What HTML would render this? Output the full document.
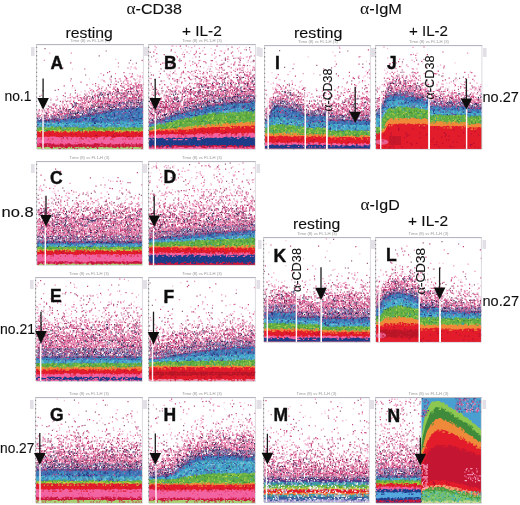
<!DOCTYPE html>
<html><head><meta charset="utf-8"><style>
html,body{margin:0;padding:0;background:#fff;width:520px;height:505px;overflow:hidden}
svg{display:block}
text{font-family:"Liberation Sans",sans-serif;fill:#111;stroke:#111;stroke-width:0.12px}
text[font-weight="bold"]{stroke-width:0.4px}
tspan{stroke-width:0}
text.sm{stroke:none;fill:#999}
</style></head><body>
<svg width="520" height="505" viewBox="0 0 520 505">
<defs><filter id="bl" x="0" y="0" width="1" height="1"><feGaussianBlur stdDeviation="0.65"/></filter></defs>
<g filter="url(#bl)">
<rect x="37" y="45" width="106" height="104" fill="#fff"/>
<path transform="scale(.5)" fill="#4078b8" d="M74 298l0-59 3 0 3 1 3-2 3 2 3-1 3-1 3 1 3-2 3 2 3-2 3 0 3 1 3 1 3-2 3 0 3 1 3 1 3-2 3-1 3 1 3-3 3 2 3-3 3 0 3-1 3 0 3 1 3-2 3 0 3 0 3-1 3 0 3-2 3-1 3 0 3 1 3-1 3-1 3 0 3-1 3-1 3 1 3-1 3-2 3 0 3 0 3 0 3-1 3-2 3 2 3-4 3 1 3 1 3-3 3 1 3-2 3 2 3 0 3-1 3 1 3-2 3 0 3 0 3-1 3 0 3 1 3 0 3-2 3 0 3-2 2 1V298Z"/>
<path transform="scale(.5)" fill="#44aacb" d="M74 298l0-52 3-1 3 2 3-1 3-2 3 1 3 0 3-2 3 2 3-1 3 0 3-1 3 3 3-2 3 0 3 0 3 2 3-3 3 2 3 0 3 1 3 0 3 0 3-2 3 0 3 0 3 2 3 0 3-3 3 1 3 0 3 0 3 0 3 1 3-1 3-1 3 1 3 0 3 1 3 1 3-1 3-1 3 1 3 0 3-2 3 3 3-1 3 1 3-1 3-1 3 0 3-1 3 2 3-2 3 0 3 0 3 0 3 1 3-1 3 0 3 0 3 0 3 1 3-1 3 2 3-1 3-1 3 0 3 1 3 0 3-1 2 1V298Z"/>
<path transform="scale(.5)" fill="#62ae44" d="M74 298l0-43 3 1 3-2 3 0 3-1 3 0 3 0 3 0 3 2 3-2 3-1 3 3 3-1 3-1 3 1 3-2 3 2 3 2 3-1 3 0 3-2 3 1 3-1 3 2 3-1 3 1 3-2 3 0 3 2 3 1 3-1 3 0 3 0 3 0 3-2 3 1 3 0 3-2 3 0 3 1 3 0 3 2 3 0 3-1 3 1 3 1 3-1 3-1 3-1 3 0 3 0 3 0 3 1 3 1 3 0 3-1 3 0 3 1 3-2 3 2 3 0 3 0 3 0 3-1 3-1 3 2 3-2 3 2 3 1 3-2 3 0 2 0V298Z"/>
<path transform="scale(.5)" fill="#c8c440" d="M74 298l0-36 3 0 3-2 3 0 3 0 3 2 3 0 3-2 3 2 3 0 3-1 3-1 3 1 3-1 3-1 3 3 3-1 3 0 3 1 3-1 3 1 3 0 3-2 3 0 3 0 3 0 3 1 3-1 3 1 3-1 3 2 3-2 3 1 3 0 3 1 3-1 3 1 3-1 3 0 3 0 3-2 3 2 3-1 3-1 3 3 3-2 3 1 3 1 3-1 3-1 3 1 3 0 3 1 3-2 3 1 3-1 3 0 3 2 3-1 3 0 3 1 3 0 3-1 3 0 3 0 3 0 3 0 3 0 3 0 3 0 3 1 2-1V298Z"/>
<path transform="scale(.5)" fill="#e21c2c" d="M74 298l0-35 3 1 3 0 3-2 3 1 3 1 3-1 3-2 3 0 3 1 3-1 3 1 3-1 3 2 3 0 3 1 3-3 3 2 3 0 3-2 3 3 3 0 3-2 3 2 3-2 3 0 3 2 3-1 3-2 3 1 3 0 3 0 3-1 3 1 3 1 3-2 3 2 3-1 3-1 3 1 3 1 3-1 3-1 3 3 3-1 3 1 3-3 3 1 3-1 3 2 3-1 3-1 3 1 3 2 3-1 3-1 3-1 3 3 3-1 3 0 3-2 3 0 3 2 3-1 3-1 3 3 3-1 3 0 3-2 3 3 3-3 2 1V298Z"/>
<path transform="scale(.5)" fill="#f264a2" d="M74 298l0-22 3-2 3 0 3 1 3 1 3-2 3-1 3 1 3 0 3-1 3 0 3 0 3 0 3 1 3 0 3 1 3-1 3 0 3-1 3 1 3-1 3 1 3-1 3 2 3 0 3-2 3 1 3 2 3-3 3 2 3-1 3 0 3 1 3-1 3 0 3 1 3 1 3-2 3 1 3 0 3 0 3-1 3 0 3-1 3 0 3 0 3 2 3-1 3-1 3 0 3 2 3 1 3-1 3-1 3 0 3 0 3 0 3-1 3 1 3 0 3 2 3 0 3-1 3-1 3 2 3-2 3 0 3-1 3 1 3 0 3 0 2 0V298Z"/>
<path transform="scale(.5)" fill="#c8183c" d="M74 298l0-11 3 1 3-2 3 1 3 0 3 1 3-1 3-1 3 1 3 0 3 1 3 0 3 1 3 0 3 0 3 0 3-1 3-1 3 3 3-3 3 2 3-1 3-1 3 2 3 0 3-1 3 1 3 0 3-2 3 1 3 0 3 1 3 0 3 0 3-1 3 1 3 0 3 0 3-2 3-1 3 1 3 1 3-1 3 2 3-1 3 0 3 0 3 1 3-1 3-2 3 3 3 0 3-1 3 0 3 1 3-2 3 2 3-2 3 0 3 0 3 2 3-2 3 2 3 1 3-2 3 0 3 0 3 1 3 0 3-1 3 0 2 0V298Z"/>
<path transform="scale(.5)" fill="#a8d070" d="M74 298l0-4 3 0 3 0 3 2 3-1 3 0 3-1 3 0 3 0 3 2 3 0 3 0 3-1 3 0 3 0 3 0 3-1 3 2 3-2 3 3 3 0 3-3 3 1 3 1 3 1 3-2 3-1 3 0 3 3 3-3 3 1 3-1 3 1 3 2 3-3 3 2 3-1 3 1 3 0 3-2 3 2 3-1 3-1 3 0 3 1 3 0 3 0 3-1 3 1 3 0 3 1 3-2 3 2 3 0 3-2 3 3 3-1 3 0 3-1 3 0 3 0 3 2 3-2 3 0 3 0 3-1 3 0 3 0 3 2 3-1 3 2 2-2V298Z"/>
<g transform="scale(.2)" stroke-width="6" fill="none">
<path d="M666 539h6m-23 6h6m-85 6h6m0 0h6m30 0h6m0 0h6m24 0h6m0 0h6m48 0h6m-52 6h6m6 0h6m30 0h6m-186 6h6m60 0h6m18 0h6m12 0h6m12 0h6m-188 6h6m6 0h6m12 0h6m30 0h6m48 0h6m18 0h6m24 0h6m18 0h6m-239 6h6m66 0h6m48 0h6m18 0h6m54 0h6m30 0h6m-277 6h6m24 0h6m42 0h6m108 0h6m-240 6h6m234 0h6m30 0h6m-203 6h6m18 0h6m54 0h6m42 0h6m48 0h6m-318 6h6m24 0h6m228 0h6m6 0h6m6 0h6m-295 6h6m72 0h6m6 0h6m18 0h6m102 0h6m-305 6h6m12 0h6m108 0h6m18 0h6m84 0h6m96 0h6m-390 6h6m366 0h6m0 0h6m72 0h6m36 0h6m-79 6h6m-456 6h6m30 0h6m144 0h6m18 0h6m54 0h6m30 0h6m0 0h6m0 0h6m60 0h6m-382 6h6m78 0h6m30 0h6m60 0h6m90 0h6m180 0h6" stroke="#6a5aa8"/>
<path d="M607 545h6m54 0h6m-47 18h6m78 0h6m-134 6h6m24 0h6m-59 6h6m-127 6h6m-54 6h6m54 0h6m66 0h6m181 6h6m-384 6h6m78 0h6m234 0h6m-277 6h6m132 0h6m120 0h6m6 0h6m-443 6h6m30 0h6m6 0h6m288 0h6" stroke="#c05088"/>
<path d="M631 545h6m42 0h6m0 0h6m-127 6h6m108 0h6m-130 6h6m66 0h6m12 0h6m-138 6h6m30 0h6m96 0h6m36 0h6m-218 6h6m36 0h6m42 0h6m-125 6h6m6 0h6m24 0h6m72 0h6m78 0h6m-253 6h6m18 0h6m24 0h6m12 0h6m42 0h6m6 0h6m24 0h6m66 0h6m-264 6h6m108 0h6m0 0h6m150 0h6m0 0h6m-293 6h6m36 0h6m0 0h6m30 0h6m0 0h6m36 0h6m90 0h6m30 0h6m48 0h6m0 0h6m-282 6h6m12 0h6m6 0h6m0 0h6m66 0h6m0 0h6m30 0h6m12 0h6m78 0h6m-481 6h6m60 0h6m102 0h6m12 0h6m60 0h6m6 0h6m0 0h6m-245 6h6m48 0h6m90 0h6m72 0h6m12 0h6m12 0h6m-222 6h6m36 0h6m132 0h6m0 0h6m216 0h6m-517 6h6m30 0h6m12 6h6m78 0h6m132 0h6m60 0h6m134 6h6" stroke="#2a3a80"/>
<path d="M643 545h6m24 0h6m-97 6h6m12 0h6m24 0h6m-76 6h6m66 0h6m-84 6h6m-8 6h6m120 0h6m-215 6h6m24 0h6m12 0h6m30 0h6m66 0h6m72 0h6m-241 6h6m30 0h6m0 0h6m78 0h6m0 0h6m18 0h6m66 0h6m-300 6h6m12 0h6m12 0h6m12 0h6m0 0h6m24 0h6m12 0h6m0 0h6m18 0h6m90 0h6m54 0h6m-305 6h6m36 0h6m48 0h6m18 0h6m18 0h6m6 0h6m18 0h6m12 0h6m-312 6h6m12 0h6m180 0h6m144 0h6m48 0h6m-481 6h6m24 0h6m36 0h6m48 0h6m12 0h6m144 0h6m12 0h6m60 0h6m0 0h6m18 0h6m36 0h6m6 0h6m18 0h6m-461 6h6m78 0h6m18 0h6m18 0h6m18 0h6m0 0h6m180 0h6m0 0h6m0 0h6m48 0h6m6 0h6m6 0h6" stroke="#40a8c0"/>
<path d="M703 545h6m-49 6h6m-52 6h6m-36 6h6m18 0h6m30 0h6m-152 6h6m30 0h6m36 0h6m-107 6h6m17 6h6m162 0h6m0 0h6m-132 6h6m24 0h6m-239 6h6m12 0h6m138 0h6m48 0h6m6 0h6m-138 6h6m6 0h6m-259 6h6m72 0h6m138 0h6m6 0h6m-221 6h6m12 0h6m90 0h6m90 0h6m276 0h6" stroke="#70a0d0"/>
<path d="M608 557h6m-48 6h6m18 0h6m28 6h6m60 0h6m-251 6h6m96 0h6m54 0h6m66 0h6m-235 6h6m96 0h6m0 0h6m126 0h6m-282 6h6m54 0h6m72 0h6m42 0h6m18 0h6m0 0h6m54 0h6m12 0h6m-359 6h6m12 0h6m12 0h6m192 0h6m72 0h6m-378 6h6m18 0h6m24 0h6m144 0h6m12 0h6m60 0h6m60 0h6m12 0h6m0 0h6m6 0h6m-499 6h6m30 0h6m24 0h6m0 0h6m18 0h6m36 0h6m150 0h6m198 0h6m-467 6h6m54 0h6m6 0h6m60 0h6m0 0h6m60 0h6m12 0h6m60 0h6m54 0h6m48 0h6" stroke="#3060a8"/>
<path d="M199 617h6m12 0h6m12 0h6m0 0h6m12 0h6m0 0h6m24 0h6m108 0h6m66 0h6m6 0h6m30 0h6m108 0h6m-451 6h6m6 0h6m60 0h6m18 0h6m6 0h6m24 0h6m96 0h6m48 0h6m36 0h6m0 0h6m0 0h6m30 0h6m0 0h6m108 0h6m-522 6h6m18 0h6m90 0h6m30 0h6m0 0h6m30 0h6m48 0h6m66 0h6m78 0h6m6 0h6m24 0h6m-418 6h6m0 0h6m0 0h6m0 0h6m12 0h6m162 0h6m18 0h6m30 0h6m30 0h6m12 0h6m6 0h6m0 0h6m54 0h6m0 0h6m0 0h6m12 0h6m18 0h6m12 0h6" stroke="#78c0d8"/>
<path d="M253 617h6m54 0h6m114 0h6m12 0h6m150 0h6m-409 6h6m156 0h6m18 0h6m36 0h6m48 0h6m138 0h6m-372 6h6m150 0h6m138 0h6m6 0h6m6 0h6m102 0h6m0 0h6m0 0h6m-442 6h6m168 0h6" stroke="#4a9a80"/>
<path d="M337 617h6m84 0h6m66 0h6m18 0h6m24 0h6m6 0h6m0 0h6m18 0h6m12 0h6m60 0h6m-433 6h6m78 0h6m72 0h6m42 0h6m66 0h6m18 0h6m6 0h6m24 0h6m54 0h6m0 0h6m0 0h6m-444 6h6m48 0h6m36 0h6m6 0h6m12 0h6m72 0h6m24 0h6m6 0h6m36 0h6m24 0h6m24 0h6m30 0h6m12 0h6m12 0h6m24 0h6m-478 6h6m6 0h6m90 0h6m0 0h6m6 0h6m6 0h6m36 0h6m12 0h6m0 0h6m66 0h6m84 0h6m126 0h6" stroke="#3a78b8"/>
<path d="M185 641h6m6 0h6m96 0h6m294 0h6m36 0h6m-239 6h6m42 0h6m6 0h6m42 0h6m-294 6h6m0 0h6m42 0h6m24 0h6m48 0h6m24 0h6m6 0h6m66 0h6m36 0h6m30 0h6m126 0h6" stroke="#3f8a3a"/>
<path d="M191 641h6m66 0h6m18 0h6m30 0h6m12 0h6m12 0h6m12 0h6m162 0h6m42 0h6m54 0h6m-443 6h6m72 0h6m54 0h6m12 0h6m54 0h6m60 0h6m6 0h6m24 0h6m24 0h6m60 0h6m60 0h6m-498 6h6m36 0h6m12 0h6m0 0h6m18 0h6m24 0h6m120 0h6m36 0h6m6 0h6m36 0h6m54 0h6m18 0h6m0 0h6m12 0h6" stroke="#98c850"/>
<path d="M227 641h6m84 0h6m144 0h6m-179 12h6m72 0h6m42 0h6m168 0h6m72 0h6m30 0h6" stroke="#c0d048"/>
<path d="M311 641h6m144 0h6m144 0h6m-299 6h6m252 0h6m24 0h6m-390 6h6m126 0h6m18 0h6m18 0h6" stroke="#40a0a0"/>
<path d="M187 659h6m12 0h6m294 0h6m120 0h6m-67 6h6m0 0h6m96 0h6m-468 6h6m24 0h6m102 0h6m18 0h6m90 6h6m0 0h6m48 0h6m24 0h6m12 0h6m6 0h6m12 0h6m78 0h6m-492 6h6m90 0h6m246 0h6m6 0h6m60 0h6m0 0h6m-334 6h6m12 0h6m66 0h6m18 0h6m48 0h6m30 0h6" stroke="#b81030"/>
<path d="M199 659h6m66 0h6m18 0h6m6 0h6m24 0h6m0 0h6m18 0h6m30 0h6m6 0h6m18 0h6m126 0h6m12 0h6m6 0h6m0 0h6m36 0h6m36 0h6" stroke="#c8c440"/>
<path d="M194 689h6m12 0h6m0 0h6m18 0h6m6 0h6m0 0h6m0 0h6m0 0h6m0 0h6m36 0h6m18 0h6m6 0h6m12 0h6m6 0h6m24 0h6m84 0h6m0 0h6m24 0h6m72 0h6m12 0h6m0 0h6m54 0h6m0 0h6m-529 36h6m0 0h6m36 0h6m78 0h6m42 0h6m126 0h6m0 0h6m0 0h6m12 0h6m18 0h6m12 0h6m24 0h6m12 0h6m30 0h6m6 0h6m0 0h6" stroke="#f264a2"/>
<path d="M198 695h6m60 0h6m108 0h6m-149 6h6m198 0h6m120 0h6m-324 6h6m54 0h6m84 0h6m42 0h6m-77 6h6m6 0h6m114 0h6m108 0h6m-373 6h6m30 0h6m30 0h6m132 0h6" stroke="#e8407a"/>
<path d="M204 695h6m0 0h6m24 0h6m12 0h6m42 0h6m24 0h6m12 0h6m36 0h6m6 0h6m0 0h6m36 0h6m0 0h6m0 0h6m42 0h6m30 0h6m0 0h6m48 0h6m6 0h6m12 0h6m0 0h6m6 0h6m18 0h6m6 0h6" stroke="#e21c2c"/>
<path d="M223 719h6m18 0h6m12 0h6m30 0h6m30 0h6m0 0h6m54 0h6m6 0h6m0 0h6m60 0h6m12 0h6m0 0h6m138 0h6m18 0h6m12 0h6m-494 24h6m42 0h6m30 0h6m0 0h6m12 0h6m48 0h6m6 0h6m48 0h6m42 0h6m168 0h6m42 0h6" stroke="#c8183c"/>
<path d="M409 725h6m102 0h6m24 0h6m132 0h6m6 0h6m-455 6h6m228 0h6m66 0h6m78 0h6m66 0h6m-409 6h6m114 0h6m132 0h6" stroke="#e03058"/>
<path d="M199 737h6m30 0h6m24 0h6m12 0h6m6 0h6m42 0h6m6 0h6m30 0h6m18 0h6m12 0h6m0 0h6m6 0h6m36 0h6m12 0h6m12 0h6m18 0h6m24 0h6m12 0h6m0 0h6m18 0h6m0 0h6m6 0h6m0 0h6m12 0h6m12 0h6m6 0h6m-488 6h6m36 0h6m42 0h6m6 0h6m6 0h6" stroke="#a8d070"/>
<path d="M222 243h6m300 12h6m-41 24h6m151 23h6m-13 13h6m30 1h6m-260 59h6m123 6h6m-7 5h6m-206 8h6m308 0h6m-120 16h6m55 0h6m-32 1h6m-56 13h6m-5 4h6m-70 2h6m24 12h6m-238 10h6m243 0h6m-316 1h6m240 7h6m-90 4h6m-31 6h6m101 0h6m-41 1h6m-231 11h6m121 1h6m55 0h6m-105 12h6m-40 5h6m72 8h6m-72 12h6m12 6h6m-48 5h6m1 5h6m-14 7h6m-26 7h6m-33 17h6" stroke="#9a6080"/>
<path d="M246 266h6m102 0h6m-141 36h6m436 18h6m-78 14h6m58 0h6m-345 6h6m348 0h6m1 0h6m-3 4h6m-182 24h6m67 0h6m65 0h6m57 12h6m-28 1h6m-44 5h6m1 1h6m35 1h6m6 0h6m-80 5h6m-95 1h6m41 0h6m0 0h6m24 4h6m-12 2h6m-279 4h6m262 1h6m15 0h6m4 0h6m-133 5h6m108 2h6m12 4h6m19 0h6m-68 2h6m-162 4h6m158 0h6m-140 1h6m77 0h6m50 0h6m-18 6h6m-113 5h6m48 2h6m-125 6h6m43 4h6m29 0h6m25 1h6m-110 1h6m43 5h6m24 0h6m-120 1h6m40 4h6m-33 1h6m46 0h6m-34 1h6m16 0h6m20 0h6m-32 4h6m-48 2h6m-67 4h6m43 1h6m-42 5h6m-199 1h6m175 0h6m-43 1h6m24 4h6m-102 1h6m70 1h6m40 4h6m-23 1h6m15 1h6m-29 4h6m-115 6h6m70 1h6m-77 1h6m36 0h6m38 0h6m-150 12h6m101 6h6m-77 4h6m5 1h6m31 1h6m-67 6h6m21 4h6m-3 0h6m-54 7h6m-28 7h6m-21 4h6m36 0h6m-43 1h6m-16 5h6m17 2h6m1 0h6" stroke="#f090bc"/>
<path d="M576 297h6m91 37h6m-320 12h6m284 0h6m54 17h6m-32 11h6m-28 6h6m-178 6h6m-51 8h6m232 0h6m8 4h6m-192 1h6m-13 1h6m194 0h6m-18 4h6m-12 8h6m-120 5h6m-14 5h6m-63 13h6m66 0h6m-227 5h6m6 0h6m130 7h6m14 0h6m-30 11h6m-104 1h6m19 5h6m35 6h6m-36 7h6m-54 1h6m-149 12h6m1 4h6m52 1h6m5 1h6m-113 17h6m28 0h6m90 0h6m-123 12h6m-31 11h6m30 12h6m-34 2h6m28 0h6" stroke="#f4c0d8"/>
<path d="M708 302h6m-363 12h6m232 1h6m42 25h6m-222 5h6m118 13h6m-16 5h6m76 0h6m36 6h6m-150 7h6m99 5h6m72 0h6m-48 1h6m-36 4h6m-3 6h6m-61 1h6m-28 7h6m115 0h6m-162 4h6m109 0h6m-37 1h6m-30 1h6m113 4h6m-300 1h6m265 5h6m-204 2h6m124 0h6m26 0h6m-63 4h6m-36 1h6m92 0h6m-222 1h6m162 4h6m-288 1h6m36 0h6m240 1h6m-124 4h6m79 1h6m-32 1h6m-24 4h6m-42 2h6m68 0h6m12 0h6m-302 6h6m192 0h6m-119 4h6m71 0h6m24 1h6m-23 1h6m-147 12h6m97 11h6m-118 1h6m99 5h6m-77 5h6m44 0h6m-38 1h6m-35 1h6m30 0h6m-43 16h6m-43 1h6m7 0h6m29 0h6m-42 7h6m-47 6h6m-11 6h6m24 4h6m-26 2h6m-28 4h6m-2 6h6m1 0h6m-34 6h6m-48 1h6m9 6h6m7 0h6" stroke="#c84880"/>
<path d="M655 422h6m34 2h6m-40 4h6m23 0h6m-17 1h6m22 0h6m-40 1h6m16 0h6m-94 4h6m77 2h6m2 4h6m-1 0h6m-30 1h6m0 0h6m0 0h6m13 0h6m-149 5h6m71 0h6m4 0h6m1 0h6m-1 0h6m-99 2h6m29 0h6m-12 4h6m88 0h6m-82 1h6m-41 1h6m17 0h6m36 0h6m28 0h6m1 0h6m-54 4h6m13 0h6m-137 1h6m12 0h6m136 0h6m-66 1h6m18 0h6m14 0h6m-2 0h6m12 0h6m7 0h6m-157 4h6m139 0h6m-159 1h6m66 0h6m38 0h6m36 0h6m-146 1h6m-27 4h6m34 0h6m36 0h6m13 0h6m-133 1h6m42 0h6m24 0h6m38 0h6m-157 1h6m138 0h6m23 0h6m26 0h6m3 0h6m-203 4h6m8 0h6m10 0h6m67 0h6m31 0h6m29 0h6m-71 1h6m34 0h6m44 0h6m-241 1h6m1 0h6m119 0h6m59 0h6m-108 4h6m124 0h6m-94 1h6m-169 1h6m56 0h6m42 0h6m36 0h6m-2 0h6m95 0h6m3 0h6m-293 4h6m37 0h6m118 0h6m-34 1h6m5 0h6m77 0h6m-247 1h6m128 0h6m30 0h6m17 0h6m0 0h6m7 0h6m-1 0h6m13 0h6m-151 4h6m14 0h6m35 0h6m36 0h6m47 0h6m-125 1h6m-1 0h6m1 0h6m12 0h6m113 0h6m-286 1h6m10 0h6m102 0h6m86 0h6m46 0h6m-158 4h6m62 0h6m6 0h6m-134 1h6m73 0h6m18 0h6m23 0h6m29 0h6m-263 1h6m0 0h6m18 0h6m30 0h6m47 0h6m62 0h6m17 0h6m14 0h6m18 0h6m-254 4h6m74 0h6m83 0h6m-103 1h6m60 0h6m20 0h6m35 0h6m7 0h6m-194 1h6m8 0h6m17 0h6m35 0h6m0 0h6m37 0h6m25 0h6m5 0h6m6 0h6m-251 4h6m84 0h6m47 0h6m-1 0h6m2 0h6m22 0h6m19 0h6m-168 1h6m60 0h6m17 0h6m32 0h6m0 0h6m-134 1h6m20 0h6m10 0h6m25 0h6m84 0h6m-239 4h6m59 0h6m125 0h6m-149 1h6m54 0h6m-34 1h6m114 0h6m-128 4h6m8 0h6m71 0h6m0 0h6m-199 1h6m14 0h6m125 0h6m23 0h6m-101 1h6m76 0h6m-95 4h6m18 0h6m-108 1h6m66 0h6m37 0h6m-145 1h6m8 4h6m36 0h6m19 0h6m-102 1h6m34 0h6m83 1h6m-157 4h6m146 0h6m-80 1h6m12 0h6m6 0h6m1 0h6m53 0h6m-59 1h6m36 0h6m-64 4h6m36 0h6m-164 2h6m26 0h6m6 0h6m5 0h6m43 0h6m29 0h6m-54 4h6m-27 1h6m8 0h6m-116 1h6m14 0h6m5 0h6m37 4h6m48 0h6m-133 1h6m73 0h6m6 0h6m-91 1h6m19 0h6m-1 0h6m-1 0h6m-48 4h6m31 0h6m14 0h6m-18 2h6m10 0h6m24 0h6m-130 4h6m67 0h6m35 0h6m-115 1h6m50 0h6m-1 0h6m17 0h6m-64 1h6m-56 4h6m60 0h6m23 1h6m-55 1h6m-53 4h6m17 0h6m3 1h6m-27 1h6" stroke="#e878a8"/>
<path d="M676 422h6m8 0h6m18 0h6m-18 1h6m-71 6h6m23 0h6m11 0h6m-48 1h6m55 5h6m-59 1h6m32 0h6m-30 4h6m-49 1h6m24 0h6m-18 1h6m35 4h6m20 0h6m-60 1h6m-68 1h6m36 0h6m0 0h6m62 5h6m-123 1h6m73 0h6m36 0h6m-172 4h6m16 0h6m56 2h6m-117 4h6m54 0h6m37 0h6m-113 1h6m23 0h6m85 0h6m-25 1h6m70 0h6m-220 4h6m70 0h6m37 0h6m24 0h6m60 0h6m-113 1h6m90 0h6m17 0h6m-96 1h6m42 0h6m-197 5h6m107 0h6m79 0h6m30 0h6m-156 1h6m67 0h6m-147 4h6m205 0h6m-229 1h6m60 0h6m17 0h6m56 0h6m60 0h6m-65 1h6m28 0h6m-1 0h6m-158 4h6m120 0h6m18 0h6m-1 0h6m0 0h6m-185 1h6m54 0h6m17 0h6m11 0h6m45 0h6m46 0h6m-275 1h6m84 0h6m-2 0h6m1 0h6m-137 4h6m35 0h6m2 0h6m160 0h6m20 0h6m12 0h6m-248 1h6m48 0h6m103 0h6m61 0h6m0 0h6m-174 1h6m4 0h6m134 0h6m28 0h6m0 0h6m-255 4h6m19 0h6m35 0h6m20 0h6m12 0h6m0 0h6m18 0h6m-167 1h6m216 0h6m-247 1h6m76 0h6m116 0h6m-180 4h6m12 0h6m79 0h6m-2 0h6m-41 1h6m1 0h6m46 0h6m-192 1h6m91 0h6m18 0h6m43 0h6m36 0h6m-175 4h6m71 0h6m-17 1h6m84 0h6m-145 1h6m96 0h6m2 0h6m17 0h6m-209 4h6m19 0h6m-1 0h6m30 0h6m52 0h6m25 0h6m-17 1h6m36 0h6m-157 1h6m12 0h6m104 0h6m-204 4h6m174 0h6m-110 1h6m5 0h6m-41 1h6m85 0h6m23 0h6m-108 4h6m31 0h6m41 0h6m5 0h6m-132 1h6m103 0h6m-96 1h6m18 0h6m97 0h6m-78 4h6m0 0h6m-132 1h6m98 0h6m28 0h6m6 0h6m-94 1h6m5 0h6m67 0h6m-153 5h6m12 0h6m71 0h6m-132 1h6m43 4h6m55 1h6m13 0h6m-163 1h6m155 0h6m-60 4h6m-1 0h6m24 0h6m-119 1h6m10 0h6m20 0h6m54 0h6m12 0h6m-104 1h6m63 0h6m-39 4h6m9 0h6m-134 2h6m56 0h6m-32 5h6m37 0h6m7 0h6m11 0h6m-108 1h6m70 0h6m7 0h6m13 0h6m-96 4h6m-72 1h6m25 0h6m78 0h6m-1 1h6m-114 4h6m35 0h6m29 0h6m-89 2h6m66 0h6" stroke="#c83c78"/>
<path d="M703 430h6m-30 5h6m-72 1h6m48 0h6m-89 10h6m-14 6h6m45 1h6m-49 5h6m-1 0h6m55 0h6m-77 2h6m11 4h6m52 1h6m-162 1h6m19 0h6m107 0h6m14 4h6m23 0h6m-193 1h6m113 0h6m50 0h6m-145 1h6m-54 4h6m3 0h6m16 0h6m13 0h6m35 0h6m19 1h6m88 0h6m-21 1h6m-245 4h6m12 0h6m-33 2h6m49 4h6m113 1h6m-198 1h6m43 4h6m47 0h6m67 1h6m95 0h6m-206 7h6m-48 4h6m50 0h6m34 1h6m-112 5h6m124 1h6m-196 1h6m142 4h6m1 0h6m-72 1h6m31 0h6m-113 1h6m-44 4h6m108 0h6m-107 6h6m78 0h6m18 2h6m4 0h6m1 0h6m-102 4h6m0 0h6m55 0h6m-157 6h6m90 0h6m10 1h6m-34 1h6m-81 4h6m16 0h6m-66 1h6m19 0h6m18 0h6m89 0h6m-53 1h6m36 0h6m-106 4h6m7 2h6m-53 4h6m36 0h6m30 0h6m-94 12h6m-62 2h6m-19 5h6m-1 0h6m42 0h6m-64 1h6m10 0h6m-40 5h6" stroke="#7a2a58"/>
<path d="M657 442h6m18 11h6m-48 5h6m40 1h6m-188 5h6m37 1h6m36 0h6m12 1h6m-52 5h6m-57 1h6m24 0h6m-41 4h6m122 0h6m-20 7h6m-133 1h6m18 0h6m60 0h6m73 0h6m-208 4h6m227 0h6m-235 1h6m72 1h6m80 0h6m-30 4h6m-180 1h6m116 6h6m85 1h6m11 0h6m-83 6h6m-216 6h6m-4 5h6m108 0h6m29 0h6m-18 6h6m-138 1h6m72 0h6m0 5h6m-103 1h6m27 4h6m-43 1h6m78 5h6m4 0h6m-163 1h6m40 5h6m39 7h6m-130 5h6m29 0h6m54 0h6m-60 1h6m37 0h6m-126 5h6m114 0h6m-66 8h6m-38 5h6" stroke="#3a3068"/>
<path d="M704 495h6m-9 6h6m0 0h6m-70 5h6m41 0h6m-59 1h6m35 0h6m-6 5h6m13 2h6m-67 4h6m-23 1h6m46 0h6m2 0h6m-119 1h6m112 0h6m-156 4h6m113 0h6m25 0h6m-41 1h6m-104 5h6m0 1h6m18 0h6m122 0h6m-176 1h6m122 0h6m-130 4h6m53 0h6m42 0h6m6 0h6m41 0h6m-208 1h6m190 0h6m-208 1h6m9 0h6m51 0h6m-2 0h6m-86 4h6m132 1h6m-154 1h6m64 0h6m43 0h6m-71 5h6m55 0h6m-132 1h6m17 0h6m25 0h6m-56 4h6m22 2h6m7 5h6m-95 1h6m55 0h6m-84 4h6m10 0h6m37 0h6m-18 1h6m10 0h6m8 1h6m-35 5h6m0 1h6m-186 4h6m83 0h6m0 0h6m42 1h6m-137 1h6m57 0h6m-89 4h6m89 0h6m14 0h6m-140 2h6m26 0h6m-37 4h6m24 0h6m-1 0h6m-34 1h6m84 0h6m-91 1h6m54 0h6m-82 4h6m-1 0h6m49 0h6m-71 1h6m18 0h6m-83 1h6m4 4h6m28 0h6m18 0h6m2 0h6m5 1h6" stroke="#8a3a70"/>
<path d="M711 496h6m-51 4h6m-1 1h6m6 0h6m7 0h6m-48 5h6m43 0h6m-78 1h6m30 0h6m-14 1h6m-78 4h6m6 1h6m61 0h6m0 1h6m-102 4h6m20 0h6m-2 0h6m-41 1h6m5 0h6m36 0h6m2 0h6m3 1h6m14 0h6m22 0h6m-124 4h6m37 0h6m5 0h6m12 0h6m18 0h6m18 0h6m-139 1h6m114 0h6m18 0h6m-127 1h6m-64 4h6m142 0h6m-148 1h6m29 0h6m18 0h6m13 0h6m89 0h6m-131 1h6m34 0h6m0 0h6m12 0h6m14 0h6m-142 4h6m5 0h6m72 0h6m77 0h6m-138 1h6m59 0h6m-40 1h6m5 0h6m62 0h6m-142 4h6m96 0h6m-130 1h6m-1 0h6m96 0h6m-150 1h6m17 0h6m23 0h6m63 0h6m-100 4h6m82 1h6m-108 1h6m12 0h6m0 0h6m61 0h6m-98 4h6m28 0h6m-108 1h6m115 0h6m1 0h6m4 0h6m-148 1h6m10 0h6m7 4h6m60 0h6m-124 1h6m22 1h6m36 0h6m26 0h6m5 0h6m-48 4h6m30 0h6m-151 2h6m55 0h6m-35 4h6m37 0h6m18 0h6m-114 1h6m-2 0h6m2 0h6m-44 1h6m8 0h6m34 0h6m0 0h6m56 0h6m-117 4h6m49 0h6m-90 2h6m82 0h6m8 0h6m-2 0h6m6 0h6m-202 5h6m79 0h6m-1 0h6m-90 1h6m-2 0h6m91 0h6m6 0h6m30 0h6m-77 4h6m7 0h6m-114 1h6m4 0h6m73 0h6m58 0h6m-166 1h6m29 0h6m-28 4h6m6 0h6m5 0h6m38 1h6m11 0h6m-85 1h6m0 4h6m-24 1h6m72 1h6" stroke="#c04880"/>
<path d="M678 501h6m-36 7h6m-41 4h6m-13 1h6m-24 6h6m19 0h6m36 1h6m-109 4h6m151 0h6m-119 1h6m-1 1h6m-72 4h6m54 0h6m-92 2h6m84 0h6m44 0h6m41 0h6m-154 4h6m102 0h6m6 0h6m18 0h6m-59 2h6m-65 4h6m68 0h6m-214 6h6m5 0h6m107 0h6m32 0h6m-127 1h6m30 0h6m-88 1h6m119 0h6m-31 4h6m-139 1h6m30 1h6m-2 0h6m68 0h6m-126 4h6m96 0h6m-95 2h6m39 0h6m69 0h6m-92 4h6m-54 1h6m91 0h6m-160 6h6m66 1h6m-2 0h6m-74 4h6m-40 2h6m-72 4h6m11 0h6m30 0h6m-90 1h6m103 0h6m-60 1h6m66 4h6m-148 7h6m30 0h6m46 0h6m-113 1h6m92 0h6m-105 5h6m0 0h6m5 0h6m48 1h6" stroke="#6a5098"/>
<path d="M714 501h6m-31 1h6m12 6h6m-30 4h6m-94 1h6m36 0h6m10 0h6m31 0h6m5 0h6m-89 1h6m6 0h6m13 0h6m12 4h6m35 0h6m-119 1h6m95 0h6m-155 5h6m36 0h6m-56 1h6m19 0h6m126 0h6m-72 1h6m-5 5h6m-92 1h6m18 0h6m60 0h6m38 0h6m-2 0h6m-177 4h6m-24 1h6m-12 1h6m59 0h6m1 0h6m-22 5h6m26 0h6m48 0h6m30 0h6m-84 1h6m23 0h6m35 0h6m-195 4h6m73 0h6m0 0h6m-109 1h6m6 0h6m65 1h6m18 0h6m-132 4h6m36 0h6m4 1h6m-77 1h6m48 0h6m41 0h6m36 0h6m-90 4h6m1 0h6m-102 2h6m0 0h6m134 0h6m-162 4h6m58 0h6m1 0h6m6 0h6m-96 1h6m12 0h6m18 0h6m-37 1h6m-51 4h6m36 0h6m29 1h6m35 0h6m-17 1h6m-99 5h6m-58 1h6m12 0h6m11 0h6m23 0h6m78 0h6m-125 4h6m24 0h6m-1 0h6m36 0h6m-148 1h6m77 1h6m24 0h6m-173 4h6m131 0h6m-162 2h6m31 0h6m54 0h6m66 0h6m5 0h6m-101 5h6m38 0h6m6 1h6m-93 5h6m37 0h6m-90 1h6m18 0h6m0 0h6" stroke="#3a2a60"/>
<path d="M661 512h6m41 2h6m-12 6h6m-72 5h6m-66 1h6m72 5h6m-35 6h6m-11 1h6m-115 5h6m10 0h6m-65 1h6m175 0h6m-172 6h6m-34 4h6m37 0h6m0 1h6m-72 5h6m1 1h6m-55 6h6m-47 1h6m66 5h6m-110 5h6m13 1h6m59 6h6m-179 5h6m16 0h6m57 1h6m-132 1h6m88 0h6m37 5h6m-72 7h6" stroke="#5a70b0"/>
</g>
<rect x="42.3" y="112" width="1.4" height="37" fill="#fff6f8"/>
<path d="M143.4 45V149.4H37" fill="none" stroke="#d4d0d8" stroke-width="0.8"/>
<path d="M36.6 45V149" fill="none" stroke="#c8c4cc" stroke-width="0.8"/>
<path d="M36.2 44.6H143.8" fill="none" stroke="#a8a4b4" stroke-width="0.9"/>
<path d="M36.6 46.8v1.3M36.6 50.9v1.3M36.6 55.1v1.3M36.6 59.2v1.3M36.6 63.4v1.3M36.6 67.5v1.3M36.6 71.7v1.3M36.6 75.8v1.3M36.6 80v1.3M36.6 84.2v1.3M36.6 88.3v1.3M36.6 92.5v1.3M36.6 96.6v1.3M36.6 100.8v1.3M36.6 104.9v1.3M36.6 109.1v1.3M36.6 113.2v1.3M36.6 117.4v1.3M36.6 121.5v1.3M36.6 125.7v1.3M36.6 129.8v1.3M36.6 133.9v1.3M36.6 138.1v1.3M36.6 142.2v1.3" stroke="#8a8a8a" stroke-width="1.1" fill="none"/>
<rect x="31" y="47" width="3.6" height="9" fill="#e2e0e6"/>
<rect x="144.5" y="47" width="3.6" height="9" fill="#e2e0e6"/>
<path d="M43.1 78.6V99" stroke="#1a1a1a" stroke-width="1.3"/>
<path d="M37.3 98L48.9 98L43.1 109.8Z" fill="#111"/>
<rect x="149" y="45" width="106" height="104" fill="#fff"/>
<path transform="scale(.5)" fill="#4078b8" d="M298 298l0-54 3 0 3-1 3 0 3-1 3-1 3 0 3-2 3-2 3 0 3 1 3-2 3-3 3 2 3-3 3-2 3-1 3 0 3-1 3-2 3-1 3 0 3-1 3 1 3-2 3 0 3-2 3-2 3 2 3-2 3 0 3-1 3 0 3-2 3 0 3-3 3 2 3-1 3 0 3-4 3-1 3 2 3-2 3 0 3-1 3 2 3-4 3 1 3 1 3-2 3 1 3-1 3-1 3 0 3-1 3 2 3-3 3 0 3 0 3 0 3 2 3-3 3 0 3 0 3 0 3 1 3 0 3-2 3 1 3 0 3-2 2 1V298Z"/>
<path transform="scale(.5)" fill="#44aacb" d="M298 298l0-51 3-1 3 3 3-2 3-1 3 2 3-2 3 0 3 0 3-1 3-1 3 0 3 1 3 0 3-2 3 1 3-3 3 0 3-2 3 1 3-2 3 1 3-2 3-1 3-1 3-2 3 2 3-4 3 1 3 0 3-3 3 0 3 2 3-4 3 3 3-4 3 2 3-1 3-1 3 0 3-1 3 0 3-2 3 0 3-1 3 0 3 0 3-1 3 0 3-1 3 0 3 1 3-2 3-1 3 2 3-2 3 0 3 0 3 1 3-2 3-1 3 0 3 1 3 2 3-2 3-1 3 2 3-2 3 1 3-2 3 2 2-1V298Z"/>
<path transform="scale(.5)" fill="#62ae44" d="M298 298l0-43 3-2 3-1 3 1 3-3 3-1 3 0 3-2 3 0 3 0 3 1 3-2 3-1 3 0 3-1 3-3 3 0 3 0 3-1 3-1 3 1 3-3 3 1 3-2 3 0 3-1 3 0 3 1 3 0 3-1 3-2 3-1 3 1 3-2 3 0 3 0 3-1 3-2 3 0 3-1 3-1 3 1 3-2 3 0 3 0 3-1 3 0 3 0 3 1 3 1 3 0 3 0 3-1 3 1 3-3 3 3 3-3 3 2 3-2 3 2 3 0 3-3 3 2 3-2 3 0 3 0 3 2 3 0 3-2 3 1 3-1 2 0V298Z"/>
<path transform="scale(.5)" fill="#f08a3a" d="M298 298l0-39 3 1 3 0 3-3 3 2 3-1 3 1 3-3 3 1 3 1 3 0 3 0 3-1 3 0 3 0 3 0 3-2 3 2 3-3 3 2 3-2 3 0 3 0 3 1 3 0 3-2 3 0 3-1 3 1 3-1 3 1 3-2 3 0 3 1 3-2 3 0 3 1 3-2 3 0 3 0 3-2 3 2 3-1 3 1 3 0 3-3 3 1 3-1 3 2 3-2 3 1 3-2 3 0 3 2 3 0 3-1 3-1 3 2 3 0 3-2 3 1 3-3 3 1 3 2 3-1 3-1 3-1 3 1 3-1 3 1 3 0 2-1V298Z"/>
<path transform="scale(.5)" fill="#e21c2c" d="M298 298l0-37 3 2 3 0 3-1 3 1 3 0 3-3 3 1 3 1 3-1 3 1 3-1 3-2 3 3 3-3 3 2 3-1 3 2 3-3 3 3 3-3 3-1 3 2 3-1 3 1 3 0 3-1 3-1 3 1 3-1 3-2 3 1 3 0 3 0 3-1 3-1 3 0 3 0 3 2 3-2 3 2 3-2 3-1 3 0 3 1 3-1 3 1 3-2 3 1 3 0 3 1 3 0 3-2 3 1 3 0 3-2 3 1 3-1 3 3 3-2 3-2 3 3 3-1 3-1 3 1 3-1 3 1 3 0 3 0 3-2 3 0 2 1V298Z"/>
<path transform="scale(.5)" fill="#f264a2" d="M298 298l0-27 3 0 3-2 3 3 3 0 3-2 3-1 3 0 3 2 3-1 3-2 3 2 3 1 3 0 3-3 3 0 3 0 3 1 3 0 3-1 3 2 3-1 3 1 3-1 3 0 3 0 3 0 3 0 3 0 3-1 3 2 3-1 3-1 3 1 3-2 3 0 3 1 3 1 3-3 3 1 3 2 3-3 3 3 3-2 3 1 3-1 3-1 3 0 3 2 3 1 3-1 3 0 3-2 3 2 3-3 3 3 3 0 3-1 3 1 3-1 3 0 3-2 3 3 3-1 3 0 3-2 3 3 3-3 3 1 3-1 3 3 2-2V298Z"/>
<path transform="scale(.5)" fill="#1c3a88" d="M298 298l0-22 3 0 3 1 3-1 3 0 3 0 3 1 3-1 3 0 3 2 3 0 3-1 3 0 3-2 3 1 3 1 3-2 3 0 3 2 3-1 3-1 3 1 3 0 3 1 3-2 3 0 3 1 3 1 3-2 3 0 3-1 3 0 3 1 3 2 3-1 3-2 3 1 3 2 3-1 3-1 3 1 3-1 3 1 3 0 3-1 3 0 3 2 3-2 3 1 3 0 3-2 3 0 3 1 3 0 3 0 3-1 3 0 3 2 3-2 3 1 3 1 3 0 3-2 3 1 3 0 3 0 3-1 3 0 3 2 3-1 3 0 2 0V298Z"/>
<path transform="scale(.5)" fill="#c8183c" d="M298 298l0-6 3 1 3 0 3-2 3 2 3-2 3 0 3 1 3-1 3-1 3 3 3-2 3-1 3 1 3 2 3-2 3 0 3-1 3 0 3 1 3 0 3 0 3 0 3 1 3-1 3 1 3-1 3 0 3 0 3 2 3-2 3 1 3 1 3 0 3-3 3 3 3-3 3 1 3 0 3 1 3-1 3 2 3-3 3 2 3-1 3-1 3 2 3-2 3 1 3 0 3-1 3 0 3 2 3 0 3-2 3 0 3 2 3-2 3 1 3 2 3-2 3 0 3 0 3 1 3 1 3 0 3-1 3 1 3-2 3 2 3-1 2-1V298Z"/>
<path transform="scale(.5)" fill="#f264a2" d="M298 298l0-3 3 0 3-1 3 1 3 0 3 0 3 0 3 0 3-1 3 2 3-3 3 0 3 3 3-2 3-1 3 1 3 2 3-2 3 2 3-1 3-1 3 0 3 0 3 0 3 2 3 0 3-1 3-1 3 0 3 0 3 0 3 1 3-1 3-1 3 0 3 2 3 1 3 0 3 0 3-1 3-2 3 2 3-1 3 1 3-2 3 1 3-1 3 2 3 1 3-2 3 1 3 1 3-2 3 0 3 0 3 0 3 0 3 2 3-3 3 2 3 0 3 0 3 1 3 0 3-3 3 2 3-1 3 0 3 1 3 0 3-1 2 1V298Z"/>
<g transform="scale(.2)" stroke-width="6" fill="none">
<path d="M1210 512h6m-105 24h6m90 0h6m-119 6h6m114 0h6m30 0h6m-251 6h6m103 6h6m-163 6h6m12 6h6m-62 6h6m-23 18h6m-107 18h6m6 0h6m-38 6h6m18 0h6m12 0h6" stroke="#c05088"/>
<path d="M1228 512h6m-90 6h6m-20 6h6m-67 6h6m72 0h6m12 0h6m36 0h6m12 0h6m6 0h6m0 0h6m18 0h6m-216 6h6m6 0h6m84 0h6m54 0h6m0 0h6m-203 6h6m18 0h6m18 0h6m72 0h6m48 0h6m-239 6h6m78 0h6m108 0h6m-221 6h6m204 0h6m12 0h6m54 0h6m-271 6h6m90 0h6m48 0h6m12 0h6m6 0h6m-228 6h6m138 0h6m-80 6h6m0 0h6m12 0h6m-118 6h6m0 0h6m36 0h6m-102 6h6m12 0h6m36 0h6m6 0h6m-43 6h6m6 0h6m18 0h6m-107 6h6m24 0h6m-73 6h6m-29 6h6m6 0h6m-54 12h6m-2 6h6m-6 6h6" stroke="#6a5aa8"/>
<path d="M1240 512h6m0 0h6m12 0h6m-132 6h6m12 0h6m12 0h6m60 0h6m0 0h6m-164 6h6m0 0h6m54 0h6m6 0h6m24 0h6m12 0h6m-127 6h6m6 0h6m24 0h6m0 0h6m6 0h6m18 0h6m48 0h6m-162 6h6m0 0h6m6 0h6m0 0h6m96 0h6m24 0h6m30 0h6m-239 6h6m198 0h6m-155 6h6m-47 6h6m0 0h6m6 0h6m-139 6h6m12 0h6m12 0h6m-72 6h6m54 0h6m0 0h6m36 0h6m-122 6h6m48 0h6m-88 6h6m-24 6h6m66 0h6m-61 6h6m-53 6h6m-1 6h6m18 0h6m18 0h6m-17 6h6m-98 6h6m18 0h6" stroke="#40a8c0"/>
<path d="M1252 512h6m0 6h6m-86 6h6m54 0h6m-127 6h6m48 0h6m36 0h6m0 0h6m-162 6h6m96 0h6m0 0h6m36 0h6m-173 6h6m30 0h6m144 0h6m18 0h6m-275 6h6m36 0h6m36 0h6m42 0h6m6 0h6m114 0h6m0 0h6m6 0h6m-215 6h6m6 0h6m162 0h6m12 0h6m0 0h6m-295 6h6m12 0h6m6 0h6m12 0h6m-96 6h6m84 0h6m-140 6h6m48 0h6m24 0h6m12 0h6m-46 6h6m0 0h6m12 0h6m0 0h6m-132 6h6m-25 6h6m13 6h6m-43 6h6m1 6h6m24 0h6" stroke="#2a3a80"/>
<path d="M1270 512h6m-90 6h6m72 0h6m-141 12h6m54 0h6m54 0h6m6 0h6m-90 6h6m60 0h6m-125 6h6m6 0h6m102 0h6m-215 6h6m12 0h6m84 0h6m-161 6h6m12 0h6m12 0h6m6 0h6m0 0h6m42 0h6m6 0h6m-43 6h6m-84 6h6m-62 6h6m-28 12h6m-67 6h6m30 0h6m7 6h6m-61 6h6m-11 6h6m-86 6h6" stroke="#3060a8"/>
<path d="M1150 518h6m6 0h6m-68 6h6m96 0h6m-127 6h6m36 6h6m18 0h6m42 0h6m-203 6h6m114 0h6m18 0h6m30 0h6m-185 6h6m-41 6h6m17 6h6m-48 6h6m48 0h6m-26 6h6m-70 6h6m-42 6h6m42 0h6m-73 6h6m30 0h6m-23 6h6m0 0h6m-61 6h6m0 0h6" stroke="#70a0d0"/>
<path d="M1185 548h6m6 0h6m24 0h6m12 0h6m-77 6h6m24 0h6m24 0h6m-157 6h6m12 0h6m84 0h6m18 0h6m-144 6h6m6 0h6m-68 6h6m-118 24h6m-120 24h6m-62 6h6m18 0h6" stroke="#3a78b8"/>
<path d="M1209 548h6m-83 6h6m84 0h6m-115 6h6m0 0h6m0 0h6m6 0h6m36 0h6m12 0h6m-156 6h6m0 0h6m-270 54h6m18 0h6" stroke="#78c0d8"/>
<path d="M1221 548h6m-83 6h6m60 0h6m36 0h6m-163 12h6m-80 6h6m-22 6h6m-73 12h6m-181 36h6" stroke="#4a9a80"/>
<path d="M1233 560h6m-126 6h6m72 0h6m30 0h6m-158 6h6m-10 6h6m150 0h6m-210 6h6m18 0h6m78 0h6m12 0h6m6 0h6m6 0h6m18 0h6m60 0h6m-253 6h6m0 0h6m12 0h6m132 0h6m12 0h6m30 0h6m6 0h6m-269 6h6m18 0h6m66 0h6m12 0h6m96 0h6m-259 6h6m60 0h6m54 0h6m12 0h6m84 0h6m-251 6h6m12 0h6m36 0h6m6 0h6m0 0h6m6 0h6m108 0h6m6 0h6m12 0h6m-296 6h6m18 0h6m138 0h6m0 0h6m30 0h6m30 0h6m18 0h6m-184 6h6m24 0h6m18 0h6m60 0h6m-200 6h6m0 0h6m-132 6h6m78 0h6m-35 6h6m30 0h6m0 0h6m0 0h6m-125 6h6m42 0h6m-66 6h6" stroke="#3f8a3a"/>
<path d="M1239 560h6m-96 6h6m6 0h6m42 0h6m6 0h6m12 0h6m-134 6h6m54 0h6m-142 12h6m72 0h6m66 0h6m0 0h6m18 0h6m-109 6h6m66 0h6m30 0h6m36 0h6m-335 6h6m84 0h6m18 0h6m36 0h6m54 0h6m36 0h6m6 0h6m-319 6h6m24 0h6m102 0h6m222 0h6m6 0h6m-197 6h6m18 0h6m84 0h6m12 0h6m24 0h6m-398 6h6m0 0h6m6 0h6m0 0h6m12 0h6m42 0h6m6 0h6m54 0h6m0 0h6m36 0h6m18 0h6m24 0h6m-154 6h6m48 0h6m48 0h6m6 0h6m-296 6h6m36 0h6m36 0h6m6 0h6m120 0h6m-156 6h6m30 0h6m42 0h6m-209 6h6m6 0h6m0 0h6m132 0h6" stroke="#98c850"/>
<path d="M1263 560h6m-162 6h6m150 0h6m-188 6h6m36 0h6m50 6h6m-180 6h6m132 0h6m101 6h6m-299 6h6m53 6h6m174 0h6m-227 6h6m48 0h6m162 0h6m-242 6h6m-148 6h6m222 0h6m-230 6h6m36 0h6m150 0h6m-132 6h6m-89 6h6m-71 6h6" stroke="#40a0a0"/>
<path d="M1267 572h6m-208 6h6m192 0h6m-144 6h6m48 0h6m-127 6h6m0 0h6m60 0h6m-173 6h6m6 0h6m78 0h6m48 0h6m60 0h6m-145 6h6m25 6h6m48 0h6m48 0h6m-272 6h6m186 0h6m-220 6h6m210 0h6m-260 6h6m114 0h6m30 0h6m-168 6h6m108 0h6m-125 6h6" stroke="#c0d048"/>
<path d="M1249 614h6m6 0h6m-118 6h6m6 0h6m6 0h6m-128 6h6m18 0h6m18 0h6m0 0h6m-126 6h6m12 0h6m18 0h6m-77 6h6m-83 6h6m24 0h6m-114 6h6" stroke="#62ae44"/>
<path d="M1255 614h6m-198 18h6m18 0h6m6 0h6m42 0h6m-161 6h6m150 0h6m0 0h6m6 0h6m30 0h6m12 0h6m30 0h6m0 0h6m-287 6h6m114 0h6m6 0h6m0 0h6m-186 6h6m18 0h6m-122 6h6m18 0h6m6 0h6m42 0h6" stroke="#f08a3a"/>
<path d="M1159 632h6m12 0h6m42 0h6m6 0h6m12 0h6m-221 6h6m12 0h6m0 0h6m6 0h6m12 0h6m12 0h6m0 0h6m-149 6h6m12 0h6m-174 6h6m42 0h6m6 0h6m36 0h6m-146 6h6m0 0h6m6 0h6m217 18h6m12 0h6m6 0h6m30 0h6m30 0h6m18 0h6m12 0h6m0 0h6m24 0h6m0 0h6m12 0h6m-490 6h6m78 0h6m48 0h6m0 0h6m6 0h6m12 0h6m0 0h6m36 0h6" stroke="#e21c2c"/>
<path d="M1208 638h6m-125 6h6m-126 6h6m34 6h6m66 0h6m174 0h6m-485 6h6m72 0h6m168 0h6m84 0h6m0 0h6m-227 6h6m192 0h6m66 0h6m-271 6h6" stroke="#b81030"/>
<path d="M987 668h6m78 0h6m0 0h6m108 0h6m0 0h6m42 0h6m12 0h6m-511 6h6m6 0h6m12 0h6m6 0h6m24 0h6m0 0h6m6 0h6m0 0h6m0 0h6m0 0h6m12 0h6m6 0h6m30 0h6m72 18h6m168 0h6m0 0h6m30 0h6m-487 6h6m12 0h6m60 0h6m0 0h6m24 0h6m0 0h6m0 0h6m6 0h6m0 0h6m0 0h6m0 0h6m12 0h6m0 0h6m48 0h6m0 0h6m0 0h6m-246 36h6m60 0h6m42 0h6m0 0h6m96 0h6m42 0h6m36 0h6m24 0h6m102 0h6" stroke="#f264a2"/>
<path d="M992 674h6m54 0h6m132 0h6m-106 6h6m30 0h6m6 0h6m72 0h6m-463 6h6m132 0h6m0 0h6m144 0h6m0 0h6m42 0h6m-157 6h6m24 0h6m-211 48h6m18 0h6m156 0h6" stroke="#e8407a"/>
<path d="M1017 686h6m108 0h6m18 0h6m30 0h6m12 0h6m0 0h6m6 0h6m12 0h6m-505 6h6m12 0h6m36 0h6m0 0h6m12 0h6m6 0h6m96 0h6m0 0h6m6 0h6m0 0h6m-223 42h6m36 0h6m12 0h6m18 0h6m6 0h6m0 0h6m108 0h6m72 0h6m60 0h6m0 0h6m6 0h6m54 0h6m18 0h6" stroke="#1c3a88"/>
<path d="M1148 692h6m0 0h6m60 0h6m42 0h6m-433 6h6m6 0h6m222 0h6m-328 6h6m156 0h6m12 0h6m6 0h6m-41 6h6m78 0h6m138 0h6m-247 6h6m36 0h6m78 0h6m-266 6h6m90 0h6m72 0h6m24 0h6m12 0h6m-226 6h6m24 0h6" stroke="#3a4a9a"/>
<path d="M759 728h6m72 0h6m72 0h6m6 0h6m30 0h6m0 0h6m36 0h6m30 0h6m12 0h6m0 0h6m0 0h6m24 0h6m0 0h6m24 0h6m24 0h6m30 0h6m36 0h6m6 0h6m-500 12h6m18 0h6m0 0h6m24 0h6m24 0h6m162 0h6m30 0h6m12 0h6m24 0h6m6 0h6m42 0h6m6 0h6m30 0h6m6 0h6m0 0h6m18 0h6m0 0h6" stroke="#c8183c"/>
<path d="M1093 734h6" stroke="#e03058"/>
<path d="M861 231h6m103 0h6m-204 1h6m0 6h6m172 0h6m57 0h6m-31 4h6m185 1h6m30 5h6m-454 1h6m358 0h6m102 0h6m-240 5h6m82 1h6m85 0h6m-217 1h6m120 0h6m-238 6h6m95 6h6m-71 4h6m142 2h6m206 5h6m-198 5h6m115 0h6m29 0h6m-378 1h6m362 0h6m-62 6h6m4 0h6m56 0h6m-180 1h6m125 0h6m6 0h6m-385 4h6m-66 2h6m325 4h6m127 0h6m-354 1h6m48 1h6m185 4h6m-118 1h6m-284 1h6m326 0h6m153 0h6m9 0h6m-88 4h6m-252 2h6m60 0h6m-71 4h6m121 0h6m113 0h6m-24 1h6m-198 1h6m13 0h6m96 0h6m6 4h6m-179 1h6m23 1h6m290 0h6m-499 4h6m293 0h6m79 0h6m-158 2h6m217 5h6m0 0h6m-331 1h6m301 0h6m68 4h6m-443 1h6m197 0h6m36 0h6m91 0h6m54 0h6m-251 5h6m96 0h6m98 0h6m11 1h6m-107 1h6m47 0h6m98 0h6m-403 4h6m90 0h6m82 1h6m175 0h6m-300 5h6m186 1h6m66 0h6m-263 1h6m127 0h6m-229 4h6m119 0h6m7 0h6m12 0h6m97 0h6m-91 1h6m-162 1h6m19 0h6m18 0h6m-101 4h6m119 0h6m89 0h6m96 0h6m-257 1h6m-60 5h6m111 0h6m110 0h6m-66 1h6m66 1h6m-263 4h6m157 0h6m106 0h6m-54 1h6m-173 1h6m204 0h6m-367 4h6m300 0h6m12 0h6m-323 1h6m108 1h6m5 4h6m8 1h6m138 0h6m5 1h6m-247 4h6m5 0h6m99 0h6m70 0h6m-77 1h6m42 0h6m-131 12h6m101 0h6m13 0h6m-12 1h6m13 0h6m-140 5h6m79 0h6m-12 5h6m-60 1h6m-2 1h6m1 0h6m-88 5h6m16 0h6m55 0h6m17 0h6m-22 1h6m15 4h6m-91 1h6m37 0h6m-1 0h6m-12 6h6m-137 5h6m115 0h6m6 0h6m-55 1h6m-48 1h6m-10 4h6m78 1h6m-31 1h6m-72 4h6m-25 8h6m10 4h6m14 2h6m-53 22h6m-2 2h6" stroke="#f090bc"/>
<path d="M1132 230h6m-283 1h6m18 1h6m55 4h6m247 1h6m29 1h6m-330 5h6m143 0h6m-136 5h6m194 6h6m-178 2h6m-188 6h6m139 0h6m23 5h6m78 5h6m-154 6h6m36 7h6m35 5h6m-186 2h6m330 4h6m-257 1h6m270 1h6m-149 4h6m-216 8h6m100 0h6m289 0h6m-1 4h6m-344 2h6m351 4h6m-474 7h6m514 5h6m-411 1h6m173 0h6m215 0h6m-288 1h6m72 0h6m42 0h6m97 0h6m5 0h6m-151 4h6m-65 1h6m89 1h6m61 0h6m76 0h6m-391 5h6m334 0h6m-139 1h6m176 0h6m-184 4h6m109 0h6m42 0h6m-227 6h6m113 0h6m98 0h6m-464 1h6m415 0h6m-371 1h6m369 0h6m-480 5h6m307 0h6m-239 5h6m36 0h6m85 0h6m84 0h6m-211 2h6m320 0h6m-66 6h6m-176 4h6m12 0h6m132 0h6m-12 7h6m-185 5h6m41 2h6m-12 4h6m14 1h6m17 0h6m13 1h6m-157 4h6m19 2h6m119 0h6m-279 5h6m57 5h6m73 1h6m-25 5h6m95 1h6m-149 1h6m20 6h6m-104 10h6m35 0h6m-31 2h6m-17 4h6m-4 13h6m-10 5h6m3 0h6m52 2h6m-73 10h6m-17 8h6m6 12h6" stroke="#f4c0d8"/>
<path d="M929 230h6m-36 1h6m177 0h6m69 5h6m-309 13h6m213 1h6m-314 10h6m161 0h6m222 0h6m-187 1h6m266 0h6m-509 1h6m316 4h6m43 0h6m29 0h6m41 0h6m-210 1h6m-222 1h6m235 4h6m-210 1h6m95 0h6m43 0h6m122 5h6m-336 2h6m389 0h6m-283 4h6m27 0h6m214 0h6m103 0h6m-276 1h6m-128 7h6m276 4h6m54 0h6m-77 1h6m-228 6h6m84 0h6m54 0h6m0 0h6m204 1h6m-258 4h6m149 2h6m18 0h6m-175 4h6m-211 1h6m-17 1h6m155 0h6m-123 4h6m-61 2h6m301 0h6m53 0h6m-71 4h6m59 0h6m18 0h6m-334 1h6m-1 0h6m107 0h6m228 0h6m0 0h6m-84 6h6m-224 5h6m174 0h6m157 0h6m-449 1h6m265 0h6m52 0h6m38 5h6m-95 1h6m72 0h6m-8 5h6m82 0h6m-300 2h6m-70 5h6m77 0h6m170 0h6m-242 1h6m31 4h6m35 0h6m72 0h6m6 0h6m42 0h6m42 0h6m-292 1h6m112 0h6m92 0h6m-230 1h6m281 0h6m-401 4h6m206 1h6m118 1h6m-34 5h6m-349 1h6m73 0h6m196 4h6m6 0h6m78 1h6m-173 1h6m1 0h6m-48 4h6m101 0h6m-259 1h6m216 0h6m-78 1h6m80 0h6m-115 5h6m19 0h6m41 0h6m-1 0h6m-143 1h6m-95 4h6m107 0h6m61 0h6m72 0h6m-163 6h6m126 0h6m24 1h6m-12 1h6m-37 4h6m-96 1h6m-8 5h6m-115 7h6m18 0h6m-73 1h6m1 10h6m71 0h6m85 1h6m-60 1h6m-104 5h6m133 0h6m-141 7h6m54 0h6m-39 6h6m36 0h6m1 0h6m12 0h6m-48 5h6m23 0h6m-60 6h6m35 0h6m-71 1h6m-12 6h6m7 0h6m22 4h6m-59 1h6m-19 13h6m-8 6h6m12 0h6" stroke="#c84880"/>
<path d="M1245 238h6m-113 6h6m85 5h6m-383 6h6m395 25h6m-265 4h6m-245 1h6m363 6h6m61 0h6m-31 1h6m-276 4h6m222 6h6m69 0h6m59 0h6m-374 2h6m361 4h6m-491 1h6m177 0h6m150 7h6m-12 6h6m-269 4h6m343 0h6m31 2h6m-241 5h6m-111 7h6m-98 4h6m240 1h6m64 6h6m136 0h6m-59 1h6m-395 4h6m132 1h6m84 0h6m162 5h6m-355 1h6m252 6h6m1 1h6m-382 4h6m324 0h6m-19 8h6m-175 4h6m72 0h6m26 0h6m57 0h6m-95 1h6m109 1h6m-85 4h6m59 0h6m-29 1h6m-227 1h6m124 0h6m27 4h6m-128 7h6m-88 1h6m75 5h6m94 5h6m-236 1h6m186 0h6m-4 13h6m-93 11h6m-60 1h6m-48 5h6m77 1h6m-41 6h6m38 4h6m-36 2h6m-43 6h6m1 4h6m-43 20h6" stroke="#9a6080"/>
<path d="M1251 362h6m-25 1h6m6 0h6m-31 5h6m21 2h6m-8 5h6m14 1h6m-69 4h6m19 0h6m7 0h6m-55 2h6m48 0h6m13 4h6m-144 1h6m71 0h6m48 0h6m-119 5h6m76 0h6m6 0h6m-124 1h6m70 0h6m-107 1h6m156 0h6m-154 5h6m144 1h6m-223 4h6m91 0h6m78 0h6m-3 0h6m-124 2h6m127 0h6m-231 5h6m42 0h6m79 0h6m-85 1h6m5 0h6m25 0h6m18 0h6m65 0h6m38 0h6m-227 4h6m1 0h6m34 0h6m43 0h6m31 0h6m6 0h6m31 0h6m35 0h6m-257 2h6m41 0h6m28 0h6m1 0h6m120 0h6m-142 4h6m162 0h6m-231 1h6m26 0h6m89 0h6m84 0h6m6 0h6m-163 1h6m26 0h6m4 0h6m-111 4h6m-43 1h6m18 0h6m53 0h6m42 0h6m19 0h6m61 0h6m22 0h6m13 0h6m-197 1h6m59 0h6m96 0h6m-223 4h6m79 0h6m55 0h6m36 0h6m30 0h6m-302 1h6m26 0h6m-1 0h6m120 0h6m1 0h6m102 0h6m-206 1h6m36 0h6m65 0h6m93 0h6m-272 4h6m17 0h6m17 0h6m92 0h6m144 0h6m-222 1h6m34 0h6m150 0h6m-198 1h6m0 0h6m32 0h6m64 0h6m20 0h6m13 0h6m-158 4h6m54 0h6m66 0h6m12 0h6m10 0h6m-323 2h6m0 0h6m133 0h6m22 0h6m1 0h6m54 0h6m43 0h6m28 0h6m-193 4h6m33 0h6m157 0h6m12 0h6m-384 1h6m132 0h6m173 0h6m44 0h6m-344 1h6m211 0h6m-1 0h6m42 0h6m0 0h6m25 0h6m-323 4h6m184 0h6m2 0h6m70 0h6m7 0h6m35 0h6m-234 1h6m3 0h6m9 0h6m90 0h6m99 0h6m4 0h6m-352 1h6m11 0h6m204 0h6m18 0h6m-37 4h6m17 0h6m19 0h6m24 0h6m10 0h6m-299 1h6m0 0h6m37 0h6m101 0h6m18 0h6m-1 0h6m49 0h6m59 0h6m-317 1h6m83 0h6m30 0h6m65 0h6m30 0h6m25 0h6m0 0h6m44 0h6m-1 0h6m1 0h6m0 0h6m12 0h6m-383 4h6m71 0h6m121 0h6m67 0h6m-235 1h6m47 0h6m18 0h6m49 0h6m28 0h6m105 0h6m-380 1h6m295 0h6m52 0h6m61 0h6m-366 4h6m35 0h6m25 0h6m22 0h6m127 0h6m-2 0h6m-219 1h6m45 0h6m36 0h6m21 0h6m23 0h6m-1 0h6m11 0h6m55 0h6m36 0h6m-378 1h6m337 0h6m17 0h6m-367 4h6m90 0h6m33 0h6m51 0h6m38 0h6m16 0h6m31 0h6m0 0h6m5 0h6m2 0h6m-295 1h6m30 0h6m0 0h6m31 0h6m54 0h6m41 0h6m-246 1h6m181 0h6m5 0h6m-218 4h6m23 0h6m66 0h6m-61 1h6m133 0h6m47 0h6m-208 1h6m11 0h6m72 0h6m4 0h6m14 0h6m54 0h6m17 0h6m44 0h6m-298 4h6m23 0h6m12 0h6m0 0h6m68 0h6m131 0h6m-102 1h6m-55 1h6m121 0h6m18 0h6m-282 4h6m97 0h6m95 0h6m30 0h6m-257 1h6m0 0h6m54 0h6m-97 1h6m56 0h6m106 0h6m68 0h6m-260 4h6m23 0h6m187 0h6m-132 1h6m60 0h6m1 0h6m-132 1h6m90 0h6m52 0h6m-158 4h6m41 0h6m13 0h6m23 0h6m12 0h6m5 0h6m67 0h6m-258 1h6m78 0h6m35 0h6m-126 1h6m121 0h6m0 0h6m10 0h6m37 0h6m-173 4h6m94 0h6m32 0h6m12 0h6m35 0h6m-193 1h6m18 0h6m132 0h6m-204 1h6m37 4h6m50 0h6m35 0h6m-1 0h6m56 0h6m-156 1h6m24 0h6m11 0h6m11 0h6m24 0h6m20 0h6m-181 1h6m83 0h6m42 4h6m25 0h6m-168 1h6m31 0h6m34 0h6m-54 1h6m78 0h6m1 0h6m18 0h6m-1 0h6m-6 4h6m-143 1h6m6 0h6m52 0h6m2 0h6m29 0h6m25 0h6m-169 1h6m120 0h6m18 0h6m-122 4h6m98 0h6m-89 1h6m6 0h6m-61 1h6m22 0h6m33 0h6m36 4h6m-109 1h6m60 0h6m11 0h6m-64 1h6m-45 4h6m39 0h6m48 0h6m-80 2h6m-1 0h6m44 0h6m-71 4h6m16 0h6m7 0h6m13 0h6m-18 1h6m17 0h6m-48 5h6m2 0h6m-59 1h6m65 0h6m-42 1h6m-44 5h6m0 0h6m49 0h6m-60 5h6m24 2h6m-2 0h6m-11 4h6m-33 1h6m3 0h6" stroke="#e878a8"/>
<path d="M1251 370h6m-37 4h6m-90 12h6m66 2h6m35 5h6m-54 1h6m-21 5h6m5 0h6m-83 1h6m144 0h6m-21 10h6m-142 1h6m-13 6h6m19 0h6m95 0h6m-149 1h6m132 0h6m-156 4h6m66 0h6m108 0h6m-283 2h6m20 0h6m148 0h6m57 0h6m-176 4h6m-64 6h6m28 0h6m102 0h6m-95 1h6m29 0h6m-108 1h6m180 4h6m-145 1h6m79 0h6m-204 1h6m286 0h6m-48 4h6m35 0h6m-270 1h6m139 0h6m-155 1h6m304 0h6m-273 4h6m25 0h6m53 0h6m97 0h6m46 0h6m-294 1h6m169 0h6m38 0h6m-249 1h6m200 0h6m-203 4h6m279 0h6m1 0h6m24 0h6m-209 1h6m1 0h6m10 0h6m54 0h6m37 0h6m-229 1h6m24 0h6m277 0h6m-375 4h6m79 0h6m1 0h6m12 0h6m17 1h6m85 1h6m1 4h6m103 0h6m-384 1h6m40 0h6m115 0h6m18 0h6m17 0h6m163 0h6m-366 1h6m119 0h6m32 0h6m142 0h6m-156 4h6m57 0h6m13 0h6m-307 1h6m188 0h6m6 1h6m-2 0h6m31 0h6m131 0h6m-240 4h6m37 0h6m55 0h6m-95 1h6m69 1h6m18 0h6m26 0h6m-261 4h6m106 0h6m-108 1h6m-1 0h6m200 1h6m13 0h6m-118 5h6m-133 1h6m158 0h6m-168 4h6m0 0h6m36 0h6m55 0h6m-80 1h6m54 0h6m-131 5h6m85 0h6m-111 1h6m159 0h6m-188 1h6m157 0h6m-162 4h6m12 0h6m126 0h6m-196 1h6m78 0h6m88 0h6m-162 5h6m139 0h6m-98 1h6m30 1h6m74 0h6m-161 5h6m58 0h6m50 0h6m-24 1h6m-147 4h6m102 0h6m44 0h6m-195 6h6m140 0h6m-72 1h6m5 0h6m24 0h6m-107 1h6m42 0h6m-1 0h6m-47 4h6m41 1h6m55 0h6m-109 5h6m18 1h6m-12 1h6m13 0h6m42 0h6m-104 5h6m37 0h6m43 1h6m-119 5h6m96 0h6m-23 7h6m-78 4h6m6 1h6m6 0h6m-14 7h6" stroke="#7a2a58"/>
<path d="M1227 374h6m36 0h6m-96 1h6m49 1h6m-8 5h6m1 5h6m22 0h6m-107 1h6m23 0h6m51 0h6m-79 1h6m-84 4h6m-2 0h6m-40 6h6m36 0h6m120 0h6m-167 2h6m65 0h6m-1 0h6m32 0h6m-12 4h6m66 0h6m-108 1h6m-2 0h6m79 0h6m-48 1h6m-19 5h6m-2 0h6m13 0h6m-1 0h6m8 0h6m0 0h6m-157 1h6m59 0h6m7 0h6m31 4h6m60 0h6m-281 2h6m43 0h6m131 0h6m41 0h6m26 0h6m-264 4h6m0 0h6m48 0h6m-83 1h6m39 0h6m159 0h6m24 0h6m-169 5h6m90 0h6m-181 2h6m68 0h6m131 0h6m-251 4h6m83 0h6m7 0h6m101 0h6m73 0h6m24 0h6m-1 0h6m-115 1h6m7 0h6m41 0h6m-162 1h6m19 0h6m155 0h6m1 0h6m-272 4h6m144 0h6m-178 1h6m100 0h6m66 0h6m11 0h6m14 0h6m35 1h6m-128 4h6m73 0h6m37 0h6m40 0h6m-347 1h6m2 0h6m69 0h6m110 0h6m0 0h6m29 0h6m91 0h6m-116 1h6m24 0h6m50 0h6m5 0h6m-262 4h6m31 1h6m107 0h6m-245 1h6m30 0h6m11 0h6m19 0h6m119 0h6m41 0h6m13 0h6m-233 4h6m19 0h6m89 0h6m137 0h6m30 0h6m7 0h6m-378 1h6m73 0h6m22 0h6m24 0h6m48 0h6m1 0h6m19 0h6m-181 1h6m94 0h6m99 0h6m11 0h6m7 0h6m-237 4h6m6 0h6m11 0h6m176 0h6m10 0h6m86 0h6m-391 1h6m65 0h6m8 0h6m82 0h6m74 0h6m-2 0h6m79 0h6m31 0h6m-266 1h6m25 0h6m54 0h6m108 0h6m-1 0h6m-286 4h6m14 0h6m138 0h6m58 0h6m19 0h6m24 0h6m5 0h6m30 0h6m-227 1h6m42 0h6m23 0h6m109 0h6m-1 0h6m-385 1h6m105 0h6m89 0h6m35 0h6m56 0h6m-201 4h6m18 0h6m118 0h6m62 0h6m-188 1h6m54 0h6m2 0h6m-151 1h6m68 0h6m167 0h6m11 0h6m1 0h6m-318 4h6m107 0h6m24 0h6m13 0h6m54 0h6m34 0h6m-167 1h6m97 0h6m24 0h6m6 0h6m-308 1h6m3 0h6m222 0h6m-119 4h6m157 0h6m-248 1h6m91 0h6m88 0h6m-160 1h6m84 0h6m11 0h6m12 0h6m12 0h6m14 0h6m-3 0h6m-294 4h6m142 0h6m7 0h6m-1 0h6m0 0h6m38 0h6m-216 1h6m22 0h6m13 0h6m60 0h6m77 0h6m49 0h6m-251 1h6m71 0h6m61 0h6m36 0h6m-163 4h6m47 0h6m110 0h6m16 0h6m-186 1h6m104 0h6m18 0h6m-122 1h6m26 0h6m60 0h6m-1 0h6m18 0h6m37 0h6m0 0h6m-278 4h6m80 0h6m6 0h6m78 0h6m66 0h6m-1 1h6m-222 1h6m14 0h6m105 0h6m6 0h6m44 0h6m-2 0h6m-116 4h6m34 0h6m-173 1h6m-1 0h6m12 0h6m-13 1h6m6 0h6m181 0h6m5 0h6m-240 4h6m42 0h6m49 0h6m1 0h6m54 0h6m22 0h6m0 0h6m12 0h6m-162 1h6m0 0h6m6 0h6m26 0h6m16 0h6m36 0h6m-60 1h6m31 0h6m-100 4h6m-2 0h6m-77 1h6m119 0h6m-89 1h6m54 0h6m71 0h6m2 0h6m-37 4h6m5 0h6m-162 1h6m7 0h6m11 0h6m11 0h6m7 0h6m13 0h6m10 0h6m24 0h6m-89 1h6m6 0h6m25 0h6m76 0h6m-142 5h6m0 0h6m17 0h6m23 0h6m-11 1h6m-17 5h6m10 0h6m7 0h6m-120 1h6m72 0h6m6 0h6m25 0h6m-127 4h6m24 0h6m31 0h6m11 0h6m13 1h6m10 0h6m-107 1h6m31 0h6m28 0h6m-108 4h6m55 0h6m6 0h6m-50 1h6m42 0h6m13 1h6m-89 4h6m-13 1h6m26 0h6m29 0h6m-34 1h6m-23 4h6m-1 1h6m17 5h6m-41 1h6m16 0h6m-18 1h6m31 0h6m-59 5h6m0 0h6m-27 1h6m20 5h6m1 0h6m-33 5h6m-9 2h6" stroke="#c83c78"/>
<path d="M1185 376h6m70 4h6m-52 7h6m-37 1h6m-67 4h6m140 0h6m-13 12h6m-190 1h6m176 5h6m-206 7h6m84 0h6m35 0h6m24 1h6m-119 6h6m7 0h6m138 0h6m-266 4h6m14 0h6m202 0h6m-227 6h6m84 0h6m78 0h6m11 1h6m-245 6h6m65 0h6m160 0h6m36 1h6m1 5h6m-258 1h6m115 4h6m77 0h6m55 0h6m-227 2h6m58 0h6m-120 4h6m211 0h6m-342 1h6m42 0h6m278 0h6m-204 1h6m51 6h6m-81 4h6m46 0h6m-172 1h6m70 0h6m235 0h6m-24 1h6m5 0h6m-68 4h6m-263 1h6m222 0h6m-127 1h6m79 0h6m-217 4h6m66 1h6m87 5h6m83 1h6m-217 1h6m162 0h6m-38 4h6m-168 1h6m193 0h6m-187 1h6m132 0h6m-125 10h6m-163 1h6m140 0h6m113 0h6m-151 1h6m14 0h6m50 4h6m-24 1h6m34 0h6m-191 11h6m138 0h6m-156 1h6m67 5h6m-57 6h6m73 2h6m-126 5h6m36 13h6m47 0h6m-54 5h6m-28 1h6m6 5h6m-41 1h6m11 11h6" stroke="#3a3068"/>
<path d="M1219 476h6m25 0h6m-13 2h6m1 4h6m-71 6h6m36 0h6m-113 2h6m28 4h6m89 0h6m-173 1h6m16 0h6m104 1h6m10 0h6m-149 4h6m156 0h6m11 0h6m-126 1h6m49 1h6m13 0h6m-6 4h6m-128 1h6m9 0h6m64 0h6m17 0h6m-143 1h6m54 0h6m-5 4h6m62 0h6m23 0h6m1 0h6m-223 1h6m103 0h6m59 0h6m5 0h6m30 0h6m2 0h6m-223 1h6m132 0h6m6 0h6m-156 5h6m40 0h6m31 0h6m-108 1h6m66 0h6m-118 4h6m24 1h6m35 1h6m0 0h6m17 0h6m24 0h6m-143 5h6m-20 1h6m1 4h6m-24 8h6m17 0h6m-10 4h6m16 0h6m-22 1h6m5 1h6m-53 4h6m29 1h6m-48 1h6m-83 10h6m38 0h6m4 2h6m-31 4h6m-16 6h6m-2 0h6m-27 6h6m-74 7h6m-14 1h6m36 0h6m-65 4h6m54 0h6m-2 0h6m-30 1h6m8 5h6m-47 2h6m12 0h6m-26 4h6m0 1h6m-19 6h6m1 0h6" stroke="#8a3a70"/>
<path d="M1226 476h6m11 8h6m-112 4h6m101 2h6m-62 4h6m13 0h6m-17 1h6m24 0h6m-127 5h6m114 0h6m24 0h6m-145 1h6m-46 5h6m41 0h6m7 0h6m71 0h6m35 0h6m-23 1h6m-131 5h6m-114 2h6m126 0h6m42 0h6m-48 4h6m-102 1h6m7 1h6m57 0h6m-165 6h6m-13 5h6m18 1h6m30 6h6m-31 4h6m-89 2h6m10 0h6m44 0h6m5 0h6m-83 4h6m-36 8h6m48 4h6m-55 1h6m-39 11h6m33 1h6m-28 1h6m-18 5h6m-29 5h6m-49 2h6m28 6h6m-66 4h6m54 1h6m-34 6h6m-54 1h6m23 0h6" stroke="#6a5098"/>
<path d="M1230 477h6m39 0h6m-15 1h6m-66 4h6m43 0h6m-1 0h6m-70 1h6m18 0h6m49 0h6m-93 1h6m-26 4h6m41 0h6m12 0h6m0 0h6m19 0h6m-98 1h6m44 0h6m-72 1h6m16 0h6m20 0h6m42 0h6m-130 4h6m102 0h6m19 0h6m-121 1h6m13 0h6m-1 0h6m8 0h6m-74 1h6m-66 4h6m-11 1h6m66 0h6m48 0h6m-119 1h6m60 0h6m-2 0h6m1 0h6m12 0h6m24 0h6m37 0h6m36 0h6m-134 4h6m79 0h6m-211 1h6m144 0h6m44 0h6m11 0h6m-108 1h6m6 0h6m6 0h6m103 0h6m-192 4h6m-54 1h6m62 0h6m29 0h6m-138 1h6m35 0h6m38 0h6m112 0h6m-157 4h6m24 0h6m8 0h6m-122 1h6m7 0h6m13 0h6m11 0h6m5 0h6m12 0h6m13 0h6m4 0h6m25 1h6m-131 4h6m55 0h6m24 0h6m-128 1h6m50 0h6m24 0h6m-77 5h6m3 0h6m24 0h6m12 0h6m6 0h6m-101 6h6m24 0h6m-30 1h6m-31 1h6m50 0h6m-38 4h6m31 0h6m-97 1h6m77 0h6m7 0h6m-96 1h6m-41 4h6m-1 1h6m7 0h6m-6 5h6m29 0h6m-78 2h6m2 0h6m28 0h6m32 0h6m5 0h6m-107 5h6m41 0h6m1 0h6m11 0h6m-72 1h6m49 0h6m-71 4h6m48 1h6m-43 1h6m-32 4h6m7 0h6m20 0h6m-50 6h6m-43 1h6m20 0h6m-34 5h6m-3 0h6m8 2h6m-39 4h6m48 0h6m-76 1h6m48 0h6m-19 1h6m30 0h6m-41 5h6m-69 1h6m22 4h6m24 0h6m-63 6h6m24 0h6m-25 2h6m27 0h6m-50 4h6m17 0h6m-23 1h6" stroke="#c04880"/>
<path d="M1238 478h6m-59 4h6m47 0h6m23 0h6m-102 1h6m0 0h6m48 0h6m-72 1h6m30 0h6m-64 4h6m11 0h6m32 0h6m65 0h6m-151 1h6m20 0h6m-64 5h6m44 0h6m119 0h6m-1 0h6m-180 1h6m31 0h6m35 0h6m19 0h6m-97 1h6m8 0h6m29 0h6m55 0h6m-73 4h6m24 1h6m-120 1h6m35 0h6m49 0h6m42 0h6m23 0h6m14 0h6m-212 4h6m128 0h6m-162 1h6m1 0h6m123 0h6m73 0h6m7 0h6m-204 1h6m46 0h6m78 0h6m-161 4h6m32 0h6m10 0h6m55 0h6m44 0h6m4 0h6m-192 1h6m31 0h6m-1 0h6m67 0h6m-1 0h6m-137 1h6m89 0h6m50 0h6m-194 5h6m7 0h6m9 0h6m117 0h6m11 0h6m0 0h6m-133 1h6m-57 4h6m5 0h6m18 0h6m54 0h6m23 0h6m0 0h6m-84 1h6m44 0h6m-2 0h6m-42 1h6m-67 4h6m44 0h6m-72 1h6m24 0h6m12 0h6m7 0h6m-75 1h6m0 4h6m1 0h6m-55 1h6m68 0h6m16 0h6m-108 1h6m14 4h6m30 0h6m-37 1h6m-56 1h6m27 0h6m28 4h6m-58 2h6m4 0h6m19 0h6m30 0h6m-108 4h6m24 0h6m-32 2h6m37 0h6m-40 4h6m18 1h6m-61 1h6m2 5h6m-1 0h6m5 0h6m-41 1h6m47 0h6m-95 4h6m4 0h6m-11 1h6m54 1h6m-82 4h6m-3 0h6m3 0h6m46 1h6m-35 1h6m0 0h6m1 4h6m-38 2h6m-35 5h6m-19 5h6m-30 1h6m22 1h6m7 0h6m-45 4h6" stroke="#3a2a60"/>
<path d="M1254 476h6m1 2h6m-54 4h6m-29 6h6m59 6h6m-19 2h6m-204 4h6m50 1h6m101 0h6m-119 1h6m95 0h6m-156 4h6m216 1h6m-181 1h6m19 10h6m41 0h6m-22 1h6m-166 7h6m17 0h6m-72 4h6m102 1h6m-42 1h6m-103 6h6m10 0h6m13 5h6m-16 7h6m-55 6h6m-30 6h6m11 0h6m-58 24h6m7 0h6m-27 5h6m-82 11h6m31 1h6" stroke="#5a70b0"/>
</g>
<rect x="154.6" y="113" width="1.4" height="36" fill="#fff6f8"/>
<path d="M255.4 45V149.4H149" fill="none" stroke="#d4d0d8" stroke-width="0.8"/>
<path d="M148.6 45V149" fill="none" stroke="#c8c4cc" stroke-width="0.8"/>
<path d="M148.2 44.6H255.8" fill="none" stroke="#a8a4b4" stroke-width="0.9"/>
<path d="M148.6 46.8v1.3M148.6 50.9v1.3M148.6 55.1v1.3M148.6 59.2v1.3M148.6 63.4v1.3M148.6 67.5v1.3M148.6 71.7v1.3M148.6 75.8v1.3M148.6 80v1.3M148.6 84.2v1.3M148.6 88.3v1.3M148.6 92.5v1.3M148.6 96.6v1.3M148.6 100.8v1.3M148.6 104.9v1.3M148.6 109.1v1.3M148.6 113.2v1.3M148.6 117.4v1.3M148.6 121.5v1.3M148.6 125.7v1.3M148.6 129.8v1.3M148.6 133.9v1.3M148.6 138.1v1.3M148.6 142.2v1.3" stroke="#8a8a8a" stroke-width="1.1" fill="none"/>
<rect x="143" y="47" width="3.6" height="9" fill="#e2e0e6"/>
<rect x="256.5" y="47" width="3.6" height="9" fill="#e2e0e6"/>
<path d="M155.2 78.7V99" stroke="#1a1a1a" stroke-width="1.3"/>
<path d="M149.4 98L161 98L155.2 110.4Z" fill="#111"/>
<rect x="37" y="162" width="105" height="103" fill="#fff"/>
<path transform="scale(.5)" fill="#4078b8" d="M74 530l0-48 3-1 3-1 3 3 3 0 3-1 3 0 3-1 3 0 3 0 3 3 3-3 3 1 3 1 3-1 3 2 3-2 3 1 3-1 3 1 3 0 3-2 3 0 3 3 3-2 3-1 3 2 3 0 3-2 3 1 3 0 3 0 3 1 3-1 3-1 3 1 3 1 3-2 3 0 3 1 3 0 3-2 3 3 3-1 3 1 3 0 3 0 3 0 3-2 3 0 3 0 3 0 3 2 3-2 3 2 3 0 3-1 3 1 3 1 3-1 3 0 3-2 3 1 3-2 3 0 3 2 3-1 3 1 3 0 3-1 3 1V530Z"/>
<path transform="scale(.5)" fill="#44aacb" d="M74 530l0-43 3 1 3 0 3 2 3-1 3-1 3 0 3-1 3 0 3 2 3 0 3-1 3 1 3-1 3 1 3 0 3-2 3 2 3 0 3-1 3 0 3 1 3-3 3 2 3 1 3-1 3 0 3 1 3 0 3-1 3 2 3-2 3 0 3-1 3 2 3 0 3-2 3 1 3-1 3 2 3-1 3-1 3 1 3 1 3 1 3-3 3 2 3-1 3 1 3-1 3 1 3 0 3 0 3-1 3 1 3 1 3-3 3 1 3 1 3-1 3 1 3-1 3 1 3-1 3 1 3-2 3 0 3 2 3 0 3 0 3-1V530Z"/>
<path transform="scale(.5)" fill="#62ae44" d="M74 530l0-38 3 2 3-2 3 1 3-1 3 1 3 2 3-1 3-2 3 1 3 0 3 0 3 1 3-2 3 2 3-2 3 2 3-2 3 0 3 3 3-2 3-1 3 2 3-1 3 0 3 0 3-1 3 2 3-1 3 0 3 0 3 1 3-2 3 0 3 1 3 0 3 1 3 1 3-3 3 0 3 2 3-2 3 2 3-1 3-2 3 3 3-3 3 2 3 1 3 0 3-1 3-1 3 1 3 2 3-3 3 1 3 0 3 1 3 0 3-1 3-1 3 2 3 0 3 0 3-1 3 0 3 1 3-1 3 0 3-1 3 1V530Z"/>
<path transform="scale(.5)" fill="#c8c440" d="M74 530l0-30 3-2 3 0 3-1 3 1 3 0 3 0 3 0 3 2 3-2 3 0 3 0 3 1 3-1 3 0 3 2 3-2 3 0 3-1 3 1 3 2 3-2 3 1 3-1 3 1 3-2 3 2 3 1 3 0 3-1 3-2 3 2 3-2 3 2 3-1 3 1 3-2 3 0 3 1 3 2 3-1 3-2 3 3 3-1 3 0 3-2 3 3 3-1 3 1 3-2 3 0 3-1 3 2 3 0 3-2 3 0 3 1 3 0 3 0 3 2 3-2 3 0 3-1 3 1 3 1 3-1 3 1 3-1 3 2 3-3 3 2V530Z"/>
<path transform="scale(.5)" fill="#e21c2c" d="M74 530l0-30 3 2 3-3 3 2 3 0 3 0 3-2 3 3 3-1 3 0 3 0 3 1 3-2 3 0 3 1 3-2 3 3 3-2 3 1 3-1 3 0 3 1 3-1 3 2 3-3 3 1 3 1 3-2 3 2 3-1 3 1 3 0 3-2 3 3 3-2 3 2 3-2 3 2 3-2 3 0 3-1 3 2 3-1 3 0 3 1 3 1 3-1 3 0 3 1 3-3 3 2 3 1 3 0 3-2 3 1 3-1 3 2 3 0 3-2 3 2 3 0 3 0 3 0 3-1 3-1 3 1 3 0 3 0 3-2 3 2 3 0V530Z"/>
<path transform="scale(.5)" fill="#f264a2" d="M74 530l0-20 3-1 3-1 3 1 3 0 3 0 3-1 3 1 3 1 3 0 3 0 3-2 3-1 3 2 3 1 3-1 3-1 3 0 3 0 3 0 3 1 3 1 3-2 3 0 3 1 3 1 3 0 3 0 3 0 3 0 3-3 3 2 3 0 3-1 3 1 3 0 3 1 3-1 3 0 3 1 3-1 3 0 3 1 3-2 3 1 3 0 3-1 3 0 3 1 3 0 3 2 3-3 3 0 3 1 3-1 3 2 3 1 3-3 3 2 3-2 3 2 3-2 3 0 3 1 3 0 3 2 3-3 3 1 3 0 3 0 3 0V530Z"/>
<path transform="scale(.5)" fill="#c8183c" d="M74 530l0-6 3-1 3 1 3-2 3 1 3-1 3 2 3-1 3 0 3 0 3 0 3 2 3-3 3 1 3 2 3-3 3 1 3-1 3 2 3-2 3 1 3 1 3 0 3-1 3 2 3 0 3 0 3-2 3 0 3 1 3-1 3 2 3 0 3 0 3-2 3 2 3-3 3 1 3 1 3 1 3-2 3 0 3 0 3 0 3 0 3 0 3 1 3-1 3 1 3-2 3 1 3-1 3 1 3 1 3 0 3-1 3 1 3-2 3 1 3 2 3-3 3 3 3-2 3 2 3-2 3-1 3 0 3 0 3 1 3 1 3-1V530Z"/>
<path transform="scale(.5)" fill="#a8d070" d="M74 530l0-1 3 1 3-3 3 0 3 2 3 0 3-2 3 0 3 2 3-1 3 0 3 1 3-1 3 2 3-1 3-2 3 2 3-1 3-1 3 2 3 0 3-2 3 2 3-1 3-2 3 2 3 1 3-1 3 1 3-1 3 1 3-2 3 0 3 2 3 0 3-3 3 2 3 2 3-1 3 0 3 0 3 0 3-1 3 1 3 0 3-2 3 1 3-1 3 1 3 1 3-2 3 0 3 1 3-1 3 1 3 1 3-1 3-1 3 2 3 1 3-1 3 0 3-2 3 1 3-1 3 2 3-1 3-1 3 1 3 0 3 0V530Z"/>
<g transform="scale(.2)" stroke-width="6" fill="none">
<path d="M228 1208h6m96 0h6m60 0h6m18 0h6m24 0h6m66 0h6m0 0h6m84 0h6m30 0h6m42 0h6m-515 6h6m90 0h6m36 0h6m132 0h6m6 0h6m24 0h6m66 0h6m84 0h6m-475 6h6m12 0h6m72 0h6m24 0h6m12 0h6m90 0h6m24 0h6m72 0h6m90 0h6" stroke="#40a8c0"/>
<path d="M270 1208h6m96 0h6m246 0h6m6 0h6m-341 6h6m36 0h6m24 0h6m24 0h6m198 0h6m-403 6h6m0 0h6m228 0h6m0 0h6" stroke="#c05088"/>
<path d="M282 1208h6m138 0h6m156 0h6m102 0h6m6 0h6m-515 6h6m66 0h6m42 0h6m276 0h6m-109 6h6m30 0h6m0 0h6" stroke="#70a0d0"/>
<path d="M294 1208h6m18 0h6m120 0h6m42 0h6m6 0h6m-323 6h6m18 0h6m0 0h6m6 0h6m24 0h6m60 0h6m6 0h6m18 0h6m24 0h6m24 0h6m108 0h6m0 0h6m84 0h6m-301 6h6m0 0h6m6 0h6m102 0h6m0 0h6m30 0h6m18 0h6m12 0h6m6 0h6m12 0h6m18 0h6m-258 6h6m24 0h6m204 0h6m114 0h6m-527 6h6m42 0h6m48 0h6m30 0h6m120 0h6m240 0h6" stroke="#2a3a80"/>
<path d="M336 1208h6m0 0h6m36 0h6m120 0h6m54 0h6m84 0h6m-425 6h6m270 0h6m48 0h6m42 0h6m-439 6h6m78 0h6m48 0h6m78 0h6m216 0h6" stroke="#3060a8"/>
<path d="M354 1208h6m30 0h6m198 0h6m-395 6h6m156 0h6m78 0h6m18 0h6m72 0h6m78 0h6m24 0h6m18 0h6m-451 6h6m30 0h6m6 0h6m12 0h6m48 0h6m18 0h6m24 0h6m0 0h6m78 0h6m78 0h6m12 0h6m6 0h6m60 0h6m0 0h6m-516 6h6m36 0h6m138 0h6m84 0h6m54 0h6m84 0h6m54 0h6m-233 6h6m48 0h6m24 0h6m30 0h6m30 0h6m36 0h6" stroke="#6a5aa8"/>
<path d="M210 1226h6m30 0h6m12 0h6m120 0h6m114 0h6m-215 6h6m78 0h6m144 0h6m66 0h6m42 0h6" stroke="#4a9a80"/>
<path d="M294 1226h6m6 0h6m168 0h6m66 0h6m42 0h6m24 0h6m12 0h6m48 0h6m-497 6h6m0 0h6m108 0h6m6 0h6m42 0h6m0 0h6m36 0h6m12 0h6m42 0h6m42 0h6m0 0h6m102 0h6m18 0h6" stroke="#3a78b8"/>
<path d="M300 1226h6m12 0h6m0 0h6m66 0h6m12 0h6m12 0h6m0 0h6m42 0h6m12 0h6m6 0h6m6 0h6m12 0h6m18 0h6m102 0h6m-479 6h6m72 0h6m18 0h6m0 0h6m60 0h6m36 0h6m54 0h6m6 0h6m18 0h6m102 0h6m42 0h6" stroke="#78c0d8"/>
<path d="M194 1238h6m96 0h6m24 0h6m90 0h6m54 0h6m78 0h6m6 0h6m0 0h6m6 0h6m36 0h6m-456 6h6m90 0h6m60 0h6m48 0h6m30 0h6m36 0h6m0 0h6m72 0h6m12 0h6m12 0h6m54 0h6" stroke="#98c850"/>
<path d="M212 1238h6m162 0h6m66 0h6m36 0h6m36 0h6m0 0h6m102 0h6m-366 6h6m84 0h6m42 0h6m192 0h6" stroke="#40a0a0"/>
<path d="M236 1238h6m42 0h6m108 0h6m12 0h6m12 0h6m6 0h6m192 0h6m12 0h6m-462 6h6m36 0h6m0 0h6m48 0h6m132 0h6m6 0h6m36 0h6m108 0h6m24 0h6m18 0h6" stroke="#3f8a3a"/>
<path d="M608 1238h6m-282 6h6m36 0h6m42 0h6" stroke="#c0d048"/>
<path d="M210 1250h6m60 0h6m6 0h6m72 0h6m0 0h6m36 0h6m120 0h6m0 0h6m84 0h6m18 0h6" stroke="#62ae44"/>
<path d="M228 1250h6m48 0h6m30 0h6m12 0h6m66 0h6m6 0h6m6 0h6m180 0h6m42 0h6m24 0h6m-492 30h6m12 0h6m18 0h6m6 0h6m30 0h6m18 0h6m36 0h6m6 0h6m102 0h6m0 0h6m0 0h6m42 0h6m24 0h6m0 0h6m0 0h6m6 0h6m18 0h6m18 0h6m0 0h6m6 0h6m12 0h6m0 0h6m12 0h6" stroke="#e21c2c"/>
<path d="M348 1250h6m120 0h6m24 0h6m18 0h6m66 0h6m-419 6h6m0 0h6m18 0h6m42 0h6m54 0h6m6 0h6m12 0h6m0 0h6m0 0h6m54 0h6m18 0h6m12 0h6m72 0h6m12 0h6m6 0h6m72 0h6m30 0h6" stroke="#c8c440"/>
<path d="M277 1256h6m12 0h6m18 0h6m186 0h6m18 0h6m42 0h6m-379 6h6m90 0h6m96 0h6m30 0h6m234 0h6m-413 6h6m30 0h6m12 0h6m6 0h6m-116 6h6m24 0h6m156 0h6m102 0h6m96 0h6" stroke="#b81030"/>
<path d="M203 1274h6m90 0h6m0 0h6m30 0h6m48 0h6m6 0h6m66 0h6m12 0h6m24 0h6m36 0h6m90 0h6m18 0h6m0 0h6m-516 42h6m12 0h6m6 0h6m0 0h6m6 0h6m12 0h6m0 0h6m12 0h6m42 0h6m0 0h6m0 0h6m0 0h6m24 0h6m6 0h6m18 0h6m12 0h6m18 0h6m60 0h6m84 0h6m18 0h6" stroke="#f264a2"/>
<path d="M258 1280h6m72 0h6m84 0h6m12 6h6m48 0h6m96 0h6m-354 6h6m30 0h6m96 0h6m48 0h6m72 0h6m-49 6h6m132 0h6m78 0h6m-477 6h6m138 0h6m0 0h6m144 0h6m-344 6h6m30 0h6m372 0h6" stroke="#e8407a"/>
<path d="M324 1310h6m6 0h6m30 0h6m0 0h6m0 0h6m54 0h6m0 0h6m24 0h6m0 0h6m12 0h6m12 0h6m0 0h6m18 0h6m6 0h6m12 0h6m24 0h6m12 0h6m0 0h6m12 0h6m18 0h6m6 0h6m6 0h6m0 0h6" stroke="#c8183c"/>
<path d="M497 1316h6m84 0h6m84 0h6m-246 6h6m90 0h6" stroke="#e03058"/>
<path d="M203 1322h6m36 0h6m12 0h6m42 0h6m36 0h6m12 0h6m12 0h6m24 0h6m0 0h6m12 0h6m24 0h6m6 0h6m0 0h6m66 0h6m18 0h6m12 0h6m12 0h6m18 0h6m18 0h6m18 0h6m6 0h6" stroke="#a8d070"/>
<path d="M275 846h6m19 11h6m378 6h6m-488 13h6m379 12h6m-144 1h6m-197 11h6m-43 1h6m372 5h6m-23 1h6m59 6h6m54 11h6m-191 1h6m-51 6h6m-237 11h6m295 0h6m6 1h6m64 6h6m-280 4h6m108 2h6m-109 5h6m270 1h6m-234 4h6m12 0h6m-96 2h6m-54 11h6m91 0h6m41 1h6m-138 6h6m-34 5h6m168 0h6m210 0h6m-332 1h6m194 0h6m47 0h6m-149 4h6m124 1h6m-287 5h6m28 0h6m188 0h6m-215 6h6m71 0h6m12 0h6m103 0h6m-72 1h6m-163 1h6m75 4h6m49 0h6m24 0h6m-280 1h6m346 0h6m-217 1h6m67 0h6m206 0h6m33 0h6m-280 4h6m216 0h6m72 0h6m-427 1h6m168 0h6m91 0h6m13 0h6m-284 1h6m367 0h6m-54 4h6m-402 1h6m91 0h6m-24 1h6m216 4h6m25 0h6m-180 1h6m59 0h6m150 0h6m7 0h6m-211 1h6m227 0h6m-245 4h6m210 0h6m-372 1h6m0 0h6m193 0h6m12 0h6m23 0h6m14 0h6m-223 1h6m138 0h6m103 0h6m94 0h6m7 0h6" stroke="#c84880"/>
<path d="M514 888h6m-263 18h6m299 1h6m42 0h6m-423 29h6m322 1h6m-330 4h6m441 13h6m-379 1h6m-15 4h6m168 0h6m151 1h6m36 0h6m-305 1h6m96 10h6m-246 1h6m157 0h6m-92 1h6m349 0h6m-114 10h6m97 0h6m60 2h6m-437 5h6m420 0h6m-224 5h6m-210 2h6m60 5h6m288 1h6m-371 5h6m13 1h6m233 0h6m-306 4h6m70 1h6m72 0h6m228 0h6m74 0h6m-451 1h6m126 6h6m-139 4h6m139 2h6m203 0h6m-376 4h6m23 0h6m187 1h6m-186 1h6m102 0h6m144 4h6m-221 2h6m0 0h6" stroke="#f4c0d8"/>
<path d="M540 900h6m4 6h6m-209 11h6m249 1h6m-408 11h6m66 2h6m-50 6h6m373 4h6m-348 2h6m-67 4h6m-17 2h6m13 4h6m378 0h6m-397 1h6m77 0h6m239 6h6m-161 1h6m119 5h6m102 0h6m-346 1h6m52 0h6m60 4h6m-75 7h6m342 0h6m-457 7h6m107 0h6m164 4h6m-126 1h6m108 0h6m185 0h6m-492 1h6m43 0h6m-68 4h6m26 0h6m437 0h6m-445 1h6m398 0h6m52 0h6m-412 1h6m197 0h6m-253 4h6m185 1h6m-59 1h6m91 0h6m0 0h6m-270 5h6m332 0h6m93 0h6m-172 1h6m131 4h6m59 1h6m12 0h6m-481 5h6m3 0h6m48 0h6m113 0h6m221 0h6m31 0h6m-317 1h6m4 0h6m18 0h6m42 0h6m5 0h6m-245 1h6m299 0h6m163 4h6m-480 1h6m329 0h6m-238 1h6m157 0h6m77 0h6m-276 4h6m79 0h6m216 0h6m0 0h6m22 0h6m26 0h6m-278 1h6m86 0h6m-158 1h6m336 0h6m1 0h6m-222 5h6m2 0h6m76 0h6m18 0h6m-397 1h6m15 0h6m178 0h6m126 0h6m78 0h6" stroke="#f090bc"/>
<path d="M637 913h6m-427 12h6m280 0h6m-197 16h6m1 13h6m149 7h6m126 4h6m36 1h6m-199 1h6m-48 4h6m192 0h6m-76 1h6m148 0h6m-273 1h6m-245 4h6m510 0h6m-434 1h6m373 6h6m-79 1h6m60 0h6m-275 4h6m-95 6h6m294 0h6m-409 2h6m76 4h6m85 2h6m163 5h6m-246 1h6m-19 4h6m7 0h6m274 0h6m-319 2h6m302 0h6m-78 5h6m157 0h6m-271 1h6m205 0h6m-272 4h6m247 0h6m-205 1h6m126 0h6m1 0h6m157 0h6m-487 5h6m102 6h6m285 0h6m-236 1h6m36 0h6m73 0h6m131 0h6m-286 1h6" stroke="#9a6080"/>
<path d="M200 1043h6m96 0h6m366 0h6m-475 1h6m161 0h6m320 0h6m-433 1h6m199 0h6m90 0h6m83 0h6m-474 4h6m66 0h6m79 0h6m22 0h6m7 0h6m90 0h6m31 0h6m59 0h6m24 0h6m1 0h6m29 0h6m5 0h6m19 0h6m-485 1h6m54 0h6m16 0h6m9 0h6m160 0h6m-49 1h6m63 0h6m178 0h6m-506 4h6m24 0h6m85 0h6m107 0h6m49 0h6m96 0h6m73 0h6m-326 1h6m264 0h6m56 0h6m-450 1h6m83 0h6m47 0h6m109 0h6m25 0h6m-247 4h6m90 0h6m113 0h6m2 0h6m40 0h6m-364 1h6m47 0h6m116 0h6m-2 0h6m-174 1h6m14 0h6m83 0h6m17 0h6m125 0h6m7 0h6m49 0h6m0 0h6m47 0h6m38 0h6m-410 4h6m1 0h6m6 0h6m62 0h6m179 0h6m24 0h6m95 0h6m48 0h6m-486 1h6m167 0h6m-191 1h6m191 0h6m67 0h6m55 0h6m162 0h6m0 0h6m-513 4h6m41 0h6m2 0h6m263 0h6m-301 1h6m390 0h6m-396 1h6m38 0h6m139 0h6m-2 0h6m127 0h6m22 0h6m-293 4h6m37 0h6m72 0h6m43 0h6m6 0h6m18 0h6m10 0h6m44 0h6m54 0h6m12 0h6m23 0h6m11 0h6m-474 1h6m0 0h6m270 0h6m26 0h6m59 0h6m-335 1h6m4 0h6m241 0h6m36 0h6m120 0h6m-449 4h6m12 0h6m144 0h6m-1 0h6m29 0h6m13 0h6m-252 1h6m193 0h6m34 0h6m114 0h6m31 0h6m-419 1h6m78 0h6m16 0h6m7 0h6m107 0h6m2 0h6m124 0h6m17 0h6m-297 4h6m2 0h6m22 0h6m1 0h6m60 0h6m5 0h6m66 0h6m-288 1h6m6 0h6m61 0h6m54 0h6m121 0h6m6 0h6m11 0h6m19 0h6m-1 0h6m-366 1h6m58 0h6m9 0h6m24 0h6m21 0h6m63 0h6m-1 0h6m5 0h6m200 0h6m10 0h6m20 0h6m11 0h6m-463 4h6m115 0h6m42 0h6m91 0h6m16 0h6m50 0h6m88 0h6m-475 1h6m38 0h6m126 0h6m22 0h6m13 0h6m61 0h6m144 0h6m17 0h6m-168 1h6m2 0h6m107 0h6m77 0h6m-183 4h6m57 0h6m15 0h6m13 0h6m26 0h6m4 0h6m37 0h6m-504 1h6m17 0h6m0 0h6m13 0h6m90 0h6m35 0h6m1 0h6m77 0h6m37 0h6m16 0h6m81 0h6m-457 1h6m22 0h6m44 0h6m0 0h6m18 0h6m76 0h6m9 0h6m107 0h6m53 0h6m-384 4h6m111 0h6m-1 0h6m5 0h6m60 0h6m30 0h6m42 0h6m13 0h6m79 0h6m65 0h6m18 0h6m30 0h6m-482 1h6m170 0h6m120 0h6m59 0h6m1 0h6m83 0h6m-491 1h6m60 0h6m89 0h6m56 0h6m65 0h6m61 0h6m54 0h6m-150 4h6m126 0h6m6 0h6m13 0h6m35 0h6m-480 1h6m19 0h6m11 0h6m95 0h6m1 0h6m286 0h6m19 0h6m-466 1h6m70 0h6m41 0h6m44 0h6m0 0h6m94 0h6m6 0h6m8 0h6m23 0h6m5 0h6m2 0h6m-362 4h6m65 0h6m54 0h6m18 0h6m84 1h6m25 0h6m56 0h6m34 0h6m23 0h6m38 0h6m5 0h6m-497 1h6m35 0h6m1 0h6m-2 0h6m60 0h6m68 0h6m24 0h6m90 0h6m66 0h6m23 0h6m-353 4h6m36 0h6m60 0h6m160 0h6m132 0h6m25 0h6m-479 1h6m95 0h6m49 0h6m12 0h6m34 0h6m193 0h6m17 0h6m12 0h6m8 0h6m-469 1h6m29 0h6m67 0h6m12 0h6m6 0h6m79 0h6m43 0h6m10 0h6m1 0h6m25 0h6m27 0h6m-394 4h6m35 0h6m17 0h6m6 0h6m1 0h6m19 0h6m17 0h6m12 0h6m125 0h6m1 0h6m23 0h6m19 0h6m59 0h6m2 0h6m-319 1h6m77 0h6m79 0h6m25 0h6m58 0h6m-377 1h6m29 0h6m18 0h6m14 0h6m48 0h6m23 0h6m5 0h6m2 0h6m-144 4h6m14 0h6m40 0h6m2 0h6m41 0h6m29 0h6m197 0h6m24 0h6m7 0h6m19 0h6m18 0h6m-479 1h6m29 0h6m65 0h6m155 0h6m21 0h6m23 0h6m102 0h6m0 0h6m-380 1h6m2 0h6m48 0h6m60 0h6m83 0h6m44 0h6m34 0h6m103 0h6m-465 4h6m26 0h6m23 0h6m154 0h6m14 0h6m19 0h6m0 0h6m93 0h6m-306 1h6m13 0h6m187 0h6m79 0h6m42 0h6m-469 1h6m0 0h6m115 0h6m16 0h6m26 0h6m27 0h6m55 0h6m0 0h6m14 0h6m63 0h6m31 0h6m62 0h6m3 0h6m-495 4h6m184 0h6m8 0h6m46 0h6m96 0h6m-1 0h6m44 0h6m36 0h6m54 0h6m-427 1h6m211 0h6m-1 0h6m72 0h6m19 0h6m-2 0h6m1 0h6m-324 1h6m11 0h6m99 0h6m108 0h6m83 0h6m-432 4h6m25 0h6m4 0h6m126 0h6m122 0h6m17 0h6m71 0h6m20 0h6m10 0h6m7 0h6m-402 1h6m0 0h6m95 0h6m48 0h6m25 0h6m60 0h6m23 0h6m68 0h6m58 0h6m-328 1h6m24 0h6m42 0h6m-1 0h6m19 0h6m28 0h6m97 0h6m-401 4h6m18 0h6m17 0h6m30 0h6m13 0h6m16 0h6m50 0h6m72 0h6m11 0h6m7 0h6m46 0h6m92 0h6m-2 0h6m12 0h6m30 0h6m-485 1h6m5 0h6m109 0h6m1 0h6m12 0h6m34 0h6m144 0h6m1 0h6m0 0h6m48 0h6m24 0h6m-479 1h6m6 0h6m6 0h6m41 0h6m19 0h6m12 0h6m17 0h6m13 0h6m29 0h6m11 0h6m1 0h6m13 0h6m58 0h6m182 0h6m12 0h6m-437 4h6m54 0h6m5 0h6m65 0h6m48 0h6m7 0h6m30 0h6m7 0h6m24 0h6m-2 0h6m32 0h6m30 0h6m-377 1h6m238 0h6m24 0h6m77 0h6m14 0h6m-458 1h6m26 0h6m16 0h6m26 0h6m36 0h6m43 0h6m16 0h6m29 0h6m24 0h6m91 0h6m25 0h6m43 0h6m33 0h6m-443 4h6m15 0h6m63 0h6m5 0h6m72 0h6m1 0h6m28 0h6m101 0h6m60 0h6m25 0h6m-426 1h6m162 0h6m12 0h6m18 0h6m90 0h6m20 0h6m70 0h6m12 0h6m7 0h6m0 0h6m-487 1h6m61 0h6m18 0h6m30 0h6m30 0h6m66 0h6m41 0h6m37 0h6m22 0h6m74 0h6" stroke="#c83c78"/>
<path d="M216 1043h6m194 0h6m10 0h6m61 0h6m127 0h6m-314 1h6m121 0h6m168 0h6m73 0h6m-486 1h6m202 4h6m139 0h6m120 1h6m-320 5h6m79 0h6m-228 1h6m241 0h6m180 0h6m-278 1h6m74 0h6m118 0h6m-327 4h6m42 0h6m-145 1h6m0 0h6m6 0h6m336 0h6m24 0h6m4 0h6m37 0h6m-367 1h6m-93 4h6m270 0h6m-260 1h6m38 0h6m217 0h6m113 0h6m-205 1h6m137 0h6m21 0h6m15 0h6m6 0h6m-360 4h6m34 0h6m24 0h6m50 0h6m19 0h6m94 0h6m24 0h6m113 0h6m7 0h6m-469 1h6m234 0h6m194 0h6m-73 5h6m50 0h6m-397 1h6m187 0h6m36 0h6m4 0h6m55 0h6m89 1h6m-263 4h6m113 0h6m12 0h6m115 0h6m-379 2h6m1 0h6m1 0h6m47 0h6m-10 4h6m89 0h6m48 0h6m132 0h6m18 0h6m12 0h6m-359 1h6m89 0h6m38 0h6m22 1h6m-47 4h6m-155 1h6m29 0h6m79 0h6m131 0h6m-293 1h6m179 0h6m234 0h6m-471 4h6m74 0h6m210 0h6m23 0h6m-211 1h6m35 0h6m50 0h6m-251 1h6m28 0h6m258 0h6m72 0h6m56 0h6m40 0h6m20 0h6m-461 4h6m185 0h6m11 0h6m71 0h6m91 0h6m-373 1h6m337 0h6m37 0h6m-456 1h6m5 0h6m110 0h6m129 0h6m194 0h6m-364 4h6m-1 0h6m262 0h6m-300 1h6m61 0h6m32 0h6m237 0h6m-347 1h6m29 0h6m211 0h6m36 0h6m-164 4h6m6 0h6m66 0h6m-220 1h6m90 0h6m299 0h6m-444 1h6m55 0h6m11 0h6m12 0h6m163 0h6m36 0h6m16 0h6m91 0h6m-486 4h6m271 0h6m166 0h6m-413 1h6m371 0h6m8 0h6m-403 1h6m47 4h6m230 0h6m100 0h6m48 0h6m-466 1h6m131 0h6m143 0h6m121 0h6m-324 1h6m19 0h6m125 0h6m23 0h6m62 0h6m95 0h6m-237 4h6m64 0h6m-55 1h6m-203 1h6m91 0h6m-85 4h6m150 0h6m35 0h6m79 0h6m-356 1h6m96 0h6m67 0h6m216 0h6m0 0h6m-182 1h6m62 0h6m113 0h6m30 0h6m-346 4h6m0 0h6m3 0h6m9 0h6m41 0h6m-1 0h6m211 0h6m1 0h6m-380 1h6m8 0h6m58 0h6m55 0h6m42 0h6m-1 0h6m-193 1h6m21 0h6m54 0h6m119 0h6m-1 0h6m204 0h6m-492 4h6m38 0h6m28 0h6m217 0h6m-179 1h6m35 0h6m-107 1h6m245 0h6m18 0h6m11 0h6m60 0h6m56 0h6m-505 4h6m71 0h6m174 0h6m12 0h6m37 0h6m-301 1h6m42 0h6m25 0h6m253 0h6m59 0h6m-264 1h6m174 0h6m137 0h6m-490 4h6m191 0h6m120 0h6m68 0h6m48 0h6m29 0h6m-503 1h6m382 0h6m-334 1h6m84 0h6m29 0h6m83 0h6m9 0h6m29 0h6m154 0h6m-139 4h6m18 0h6m25 0h6m-228 1h6m142 0h6m61 0h6m7 0h6m-317 1h6m34 0h6m13 0h6" stroke="#7a2a58"/>
<path d="M230 1043h6m120 0h6m60 0h6m89 0h6m-11 1h6m173 0h6m-463 1h6m79 0h6m23 0h6m282 0h6m14 0h6m-390 4h6m193 0h6m65 0h6m53 1h6m7 0h6m24 0h6m-445 1h6m18 0h6m18 0h6m104 0h6m77 0h6m79 0h6m-334 4h6m32 0h6m40 0h6m128 0h6m83 0h6m31 0h6m-2 0h6m121 0h6m-497 1h6m52 0h6m97 0h6m222 0h6m12 0h6m41 0h6m-264 1h6m67 0h6m138 0h6m23 0h6m-400 4h6m156 0h6m138 0h6m154 0h6m-514 1h6m281 0h6m1 0h6m25 0h6m27 0h6m86 0h6m-421 1h6m211 0h6m120 0h6m59 0h6m48 0h6m1 0h6m-443 4h6m101 0h6m12 0h6m143 0h6m8 0h6m4 0h6m32 0h6m22 0h6m74 0h6m-422 1h6m156 0h6m210 0h6m-430 1h6m107 0h6m0 0h6m102 0h6m43 0h6m65 0h6m-128 4h6m83 0h6m80 0h6m17 0h6m36 0h6m-510 1h6m77 0h6m26 0h6m-2 0h6m14 0h6m22 0h6m122 0h6m180 0h6m-246 1h6m22 0h6m6 0h6m109 0h6m-250 4h6m48 0h6m28 0h6m206 0h6m-2 0h6m2 0h6m30 0h6m-516 1h6m76 0h6m68 0h6m23 0h6m18 0h6m25 0h6m167 0h6m67 0h6m-469 1h6m12 0h6m25 0h6m149 0h6m133 0h6m29 0h6m-67 4h6m156 0h6m7 0h6m-410 1h6m61 0h6m25 0h6m59 0h6m86 0h6m12 0h6m53 0h6m59 0h6m-503 1h6m13 0h6m12 0h6m107 0h6m0 0h6m11 0h6m222 0h6m67 0h6m5 0h6m-489 4h6m23 0h6m42 0h6m103 0h6m49 0h6m12 0h6m111 0h6m2 0h6m-1 0h6m1 0h6m-2 0h6m62 0h6m-463 1h6m200 0h6m149 0h6m101 0h6m-466 1h6m64 0h6m48 0h6m179 0h6m21 0h6m5 0h6m66 0h6m-422 4h6m151 0h6m62 0h6m84 0h6m102 0h6m11 0h6m-475 1h6m12 0h6m48 0h6m1 0h6m24 0h6m59 0h6m78 0h6m161 0h6m14 0h6m-463 1h6m103 0h6m13 0h6m-1 0h6m11 0h6m7 0h6m0 0h6m64 0h6m36 0h6m42 0h6m55 0h6m54 0h6m30 0h6m23 0h6m-422 4h6m74 0h6m0 0h6m131 0h6m95 0h6m32 0h6m-245 1h6m18 0h6m221 0h6m19 0h6m0 0h6m-499 1h6m41 0h6m62 0h6m17 0h6m5 0h6m203 0h6m30 0h6m-375 4h6m30 0h6m143 0h6m2 0h6m59 0h6m17 0h6m125 0h6m-345 1h6m54 0h6m90 0h6m83 0h6m12 0h6m53 0h6m-407 1h6m31 0h6m54 0h6m24 0h6m-1 0h6m6 0h6m65 0h6m36 0h6m96 0h6m0 0h6m0 0h6m18 0h6m67 0h6m-491 4h6m167 0h6m91 0h6m11 0h6m95 0h6m3 0h6m59 0h6m29 0h6m-516 1h6m224 0h6m34 0h6m66 0h6m71 0h6m81 0h6m6 0h6m-519 1h6m9 0h6m11 0h6m1 0h6m4 0h6m17 0h6m109 0h6m43 0h6m30 0h6m4 0h6m12 0h6m8 0h6m23 0h6m8 0h6m4 0h6m84 0h6m-458 4h6m6 0h6m31 0h6m108 0h6m49 0h6m12 0h6m11 0h6m12 0h6m7 0h6m113 0h6m85 0h6m10 0h6m-521 1h6m6 0h6m55 0h6m-1 0h6m210 0h6m209 0h6m-407 1h6m91 0h6m16 0h6m18 0h6m50 0h6m13 0h6m95 0h6m29 0h6m-444 4h6m155 0h6m7 0h6m19 0h6m131 0h6m17 0h6m7 0h6m25 0h6m54 0h6m-464 1h6m60 0h6m15 0h6m-1 0h6m118 0h6m9 0h6m5 0h6m24 0h6m109 0h6m34 0h6m-299 1h6m108 0h6m41 0h6m49 0h6m7 0h6m9 0h6m-418 4h6m22 0h6m20 0h6m16 0h6m152 0h6m-2 0h6m13 0h6m139 0h6m53 0h6m6 0h6m5 0h6m18 0h6m-508 1h6m24 0h6m174 0h6m5 0h6m31 0h6m5 0h6m0 0h6m24 0h6m95 0h6m26 0h6m28 0h6m-419 1h6m127 0h6m48 0h6m113 0h6m1 0h6m113 0h6m11 0h6m2 0h6m-515 4h6m41 0h6m182 0h6m111 0h6m1 0h6m107 0h6m-485 1h6m12 0h6m103 0h6m7 0h6m113 0h6m0 0h6m-1 0h6m5 0h6m25 0h6m59 0h6m19 0h6m14 0h6m-433 1h6m42 0h6m37 0h6m9 0h6m90 0h6m7 0h6m6 0h6m114 0h6m41 0h6m19 0h6m12 0h6m31 0h6m11 0h6m-499 4h6m35 0h6m1 0h6m12 0h6m17 0h6m74 0h6m21 0h6m33 0h6m101 0h6m10 0h6m25 0h6m6 0h6m38 0h6m21 0h6m18 0h6m-443 1h6m42 0h6m92 0h6m28 0h6m0 0h6m-1 0h6m97 0h6m7 0h6m24 0h6m114 0h6m-499 1h6m43 0h6m17 0h6m77 0h6m6 0h6m32 0h6m137 0h6m79 0h6m47 0h6m-467 4h6m19 0h6m161 0h6m35 0h6m187 0h6m23 0h6m-498 1h6m12 0h6m24 0h6m145 0h6m107 0h6m1 0h6m47 0h6m0 0h6m127 0h6m-522 1h6m6 0h6m0 0h6m5 0h6m1 0h6m17 0h6m66 0h6m38 0h6m66 0h6m17 0h6m24 0h6m60 0h6m-1 0h6m20 0h6m59 0h6m17 0h6m0 0h6m-498 4h6m121 0h6m85 0h6m16 0h6m18 0h6m186 0h6m14 0h6m-451 1h6m6 0h6m7 0h6m47 0h6m23 0h6m20 0h6m40 0h6m6 0h6m7 0h6m42 0h6m55 0h6m1 0h6m10 0h6m97 0h6m35 0h6m-1 0h6m-430 1h6m5 0h6m24 0h6m17 0h6m128 0h6m5 0h6m79 0h6m0 0h6m0 0h6m-2 0h6m32 0h6m34 0h6m2 0h6m5 0h6m-511 4h6m204 0h6m61 0h6m43 0h6m5 0h6m37 0h6m17 0h6m19 0h6m66 0h6m-319 1h6m125 0h6m24 0h6m2 0h6m112 0h6m-418 1h6m28 0h6m144 0h6m90 0h6m66 0h6m2 0h6m17 0h6m-412 4h6m5 0h6m5 0h6m26 0h6m16 0h6m2 0h6m84 0h6m28 0h6m152 0h6m90 0h6m-493 1h6m161 0h6m2 0h6m12 0h6m58 0h6m38 0h6m35 0h6m24 0h6m37 0h6m52 0h6m-382 1h6m16 0h6m7 0h6m19 0h6m124 0h6m72 0h6m72 0h6m-409 4h6m13 0h6m4 0h6m8 0h6m11 0h6m42 0h6m120 0h6m102 0h6m30 0h6m24 0h6m12 0h6m12 0h6m12 0h6m-516 1h6m25 0h6m17 0h6m62 0h6m24 0h6m33 0h6m38 0h6m28 0h6m21 0h6m95 0h6m43 0h6m-458 1h6m18 0h6m92 0h6m58 0h6m62 0h6m10 0h6m42 0h6m24 0h6m71 0h6m79 0h6m6 0h6" stroke="#e878a8"/>
<path d="M534 1044h6m-293 5h6m-64 1h6m28 0h6m175 0h6m155 6h6m-354 1h6m107 0h6m361 0h6m-348 6h6m108 0h6m205 0h6m-361 5h6m235 0h6m-376 5h6m90 0h6m-17 1h6m407 1h6m8 4h6m-191 1h6m-270 1h6m67 0h6m346 0h6m-479 4h6m112 0h6m79 1h6m181 0h6m34 0h6m-282 1h6m254 0h6m-115 4h6m7 1h6m-163 1h6m80 0h6m36 0h6m149 0h6m-227 4h6m132 0h6m113 0h6m-414 1h6m133 0h6m48 0h6m197 1h6m-361 4h6m121 0h6m4 0h6m0 0h6m65 0h6m-87 1h6m10 0h6m-173 1h6m17 0h6m240 0h6m-207 4h6m-104 1h6m2 0h6m88 0h6m168 0h6m-112 1h6m-139 4h6m116 0h6m-181 1h6m137 0h6m193 0h6m-283 5h6m304 1h6m6 0h6m-377 1h6m0 0h6m114 0h6m-61 4h6m211 0h6m-304 2h6m47 0h6m0 0h6m79 0h6m4 0h6m1 0h6m-2 0h6m104 0h6m114 0h6m25 0h6m-157 4h6m-336 1h6m335 0h6m-352 5h6m124 0h6m-40 1h6m221 0h6m42 0h6m120 0h6m-353 1h6m132 0h6m137 0h6m-441 4h6m439 0h6m-438 1h6m44 0h6m377 6h6m19 0h6m-368 1h6m169 4h6m-151 1h6m-132 1h6m162 0h6m6 0h6m-59 4h6m102 0h6m23 0h6m-167 1h6m319 0h6m54 1h6m-283 4h6m-142 1h6m-67 1h6m115 0h6m153 4h6m62 0h6m106 0h6m-329 1h6m119 1h6" stroke="#3a3068"/>
<path d="M527 1181h6m78 0h6m-360 1h6m65 0h6m246 0h6m-400 1h6m5 0h6m29 0h6m73 0h6m186 0h6m41 0h6m12 0h6m-285 4h6m12 0h6m211 0h6m153 0h6m-462 1h6m285 0h6m16 0h6m24 1h6m-261 4h6m28 0h6m151 0h6m89 0h6m7 0h6m70 0h6m-466 1h6m148 0h6m194 0h6m-318 1h6m144 0h6m6 0h6m-143 4h6m47 0h6m101 0h6m67 0h6m19 0h6m4 0h6m32 0h6m75 0h6m-447 1h6m185 0h6m150 1h6m34 0h6m-256 4h6m29 0h6m66 0h6m6 0h6m48 0h6m101 0h6m-473 1h6m199 0h6m100 0h6m-240 1h6m78 0h6m60 0h6m-204 4h6m211 0h6m109 0h6m53 0h6m-354 1h6m103 0h6m0 0h6m10 0h6m120 0h6m-312 1h6m78 0h6m150 0h6m55 0h6" stroke="#6a5098"/>
<path d="M262 1181h6m30 0h6m48 0h6m80 0h6m76 0h6m114 0h6m36 0h6m-497 1h6m53 0h6m26 0h6m54 0h6m34 0h6m121 0h6m-89 1h6m-1 0h6m150 0h6m53 0h6m13 0h6m-485 4h6m44 0h6m58 0h6m102 0h6m253 0h6m-468 1h6m173 0h6m271 0h6m-427 1h6m103 0h6m196 0h6m-334 4h6m25 0h6m-1 0h6m24 0h6m120 0h6m133 0h6m84 0h6m22 0h6m19 0h6m-394 1h6m22 0h6m13 0h6m29 0h6m29 0h6m26 0h6m113 0h6m-306 1h6m242 0h6m30 0h6m39 0h6m-334 4h6m102 0h6m29 0h6m61 0h6m-1 0h6m-298 1h6m51 0h6m81 0h6m64 0h6m126 0h6m18 0h6m68 0h6m11 0h6m6 0h6m-415 1h6m2 0h6m40 0h6m80 0h6m15 0h6m15 0h6m64 0h6m37 0h6m18 0h6m-368 4h6m7 0h6m77 0h6m134 0h6m46 0h6m138 0h6m29 0h6m-431 1h6m53 0h6m242 0h6m58 0h6m27 0h6m-421 1h6m145 0h6m27 0h6m19 0h6m12 0h6m107 0h6m20 0h6m-415 4h6m229 0h6m30 0h6m84 0h6m12 0h6m31 0h6m65 0h6m-425 1h6m11 0h6m12 0h6m48 0h6m55 0h6m0 0h6m64 0h6m24 0h6m97 0h6m6 0h6m47 0h6m-474 1h6m109 0h6m131 0h6m6 0h6m26 0h6m28 0h6m72 0h6m6 0h6" stroke="#3a2a60"/>
<path d="M454 1181h6m8 0h6m17 0h6m1 0h6m41 0h6m-342 1h6m12 0h6m5 0h6m44 0h6m178 0h6m54 0h6m25 0h6m7 0h6m42 0h6m30 0h6m4 0h6m-432 1h6m18 0h6m86 0h6m-2 0h6m7 0h6m30 0h6m59 0h6m30 0h6m-197 4h6m37 0h6m1 0h6m78 0h6m23 0h6m1 0h6m0 0h6m58 0h6m39 0h6m-1 0h6m12 0h6m61 0h6m-489 1h6m91 0h6m86 0h6m22 0h6m89 0h6m14 0h6m5 0h6m17 0h6m14 0h6m43 0h6m-3 0h6m31 0h6m-443 1h6m36 0h6m17 0h6m31 0h6m28 0h6m19 0h6m6 0h6m193 0h6m43 0h6m-337 4h6m127 0h6m-2 0h6m104 0h6m36 0h6m11 0h6m30 0h6m12 0h6m-491 1h6m96 0h6m36 0h6m30 0h6m-2 0h6m55 0h6m24 0h6m36 0h6m30 0h6m48 0h6m29 0h6m-473 1h6m65 0h6m61 0h6m115 0h6m40 0h6m25 0h6m85 0h6m11 0h6m13 0h6m4 0h6m-460 4h6m10 0h6m1 0h6m125 0h6m27 0h6m47 0h6m12 0h6m179 0h6m29 0h6m-405 1h6m66 0h6m107 0h6m130 0h6m51 0h6m-420 1h6m78 0h6m94 0h6m133 0h6m23 0h6m84 0h6m1 0h6m-380 4h6m24 0h6m156 0h6m175 0h6m-510 1h6m5 0h6m0 0h6m38 0h6m41 0h6m55 0h6m59 0h6m76 0h6m55 0h6m-395 1h6m156 0h6m17 0h6m7 0h6m17 0h6m60 0h6m66 0h6m91 0h6m-2 0h6m21 0h6m6 0h6m-506 4h6m8 0h6m42 0h6m106 0h6m20 0h6m16 0h6m60 0h6m68 0h6m107 0h6m6 0h6m-474 1h6m108 0h6m90 0h6m49 0h6m17 0h6m84 0h6m29 0h6m42 0h6m-401 1h6m66 0h6m283 0h6m52 0h6" stroke="#c04880"/>
<path d="M214 1181h6m223 0h6m143 0h6m54 0h6m-336 1h6m230 0h6m124 0h6m-420 1h6m91 0h6m83 0h6m151 0h6m7 0h6m71 0h6m-275 4h6m24 0h6m-192 2h6m92 0h6m232 0h6m-414 4h6m379 0h6m-83 1h6m-335 1h6m132 0h6m-49 4h6m118 0h6m128 0h6m90 0h6m-450 1h6m17 0h6m-18 1h6m295 0h6m-86 4h6m198 0h6m-396 1h6m31 0h6m277 0h6m-117 1h6m169 0h6m-438 4h6m132 0h6m84 0h6m182 0h6m-55 1h6" stroke="#5a70b0"/>
<path d="M606 1181h6m22 0h6m56 0h6m-398 1h6m98 0h6m287 0h6m-307 1h6m44 0h6m-258 4h6m191 0h6m42 0h6m15 0h6m36 0h6m-1 0h6m121 0h6m-435 1h6m44 0h6m13 0h6m46 0h6m199 0h6m100 0h6m33 0h6m15 0h6m-364 1h6m12 0h6m53 0h6m55 0h6m100 0h6m-345 4h6m47 0h6m60 0h6m-139 1h6m1 0h6m125 0h6m92 0h6m11 0h6m17 0h6m49 0h6m-289 1h6m7 0h6m247 0h6m-368 4h6m138 0h6m38 0h6m1 0h6m113 0h6m6 0h6m131 0h6m-193 1h6m68 0h6m53 0h6m80 0h6m-464 1h6m80 0h6m-2 0h6m205 0h6m90 0h6m-380 4h6m288 0h6m19 0h6m-344 1h6m55 0h6m240 0h6m68 0h6m-300 1h6m16 0h6m0 0h6m144 0h6m85 0h6m25 0h6m77 0h6m-474 4h6m49 0h6m0 0h6m28 0h6m73 0h6m55 0h6m71 0h6m29 0h6m96 0h6m-89 1h6m1 0h6m-366 1h6m6 0h6m250 0h6m170 0h6" stroke="#8a3a70"/>
</g>
<rect x="44.6" y="228" width="1.4" height="37" fill="#fff6f8"/>
<path d="M142.4 162V265.4H37" fill="none" stroke="#d4d0d8" stroke-width="0.8"/>
<path d="M36.6 162V265" fill="none" stroke="#c8c4cc" stroke-width="0.8"/>
<path d="M36.2 161.6H142.8" fill="none" stroke="#a8a4b4" stroke-width="0.9"/>
<path d="M36.6 163.8v1.3M36.6 168v1.3M36.6 172.1v1.3M36.6 176.2v1.3M36.6 180.4v1.3M36.6 184.6v1.3M36.6 188.7v1.3M36.6 192.9v1.3M36.6 197v1.3M36.6 201.2v1.3M36.6 205.3v1.3M36.6 209.5v1.3M36.6 213.6v1.3M36.6 217.8v1.3M36.6 221.9v1.3M36.6 226.1v1.3M36.6 230.2v1.3M36.6 234.4v1.3M36.6 238.5v1.3M36.6 242.7v1.3M36.6 246.8v1.3M36.6 251v1.3M36.6 255.1v1.3M36.6 259.2v1.3" stroke="#8a8a8a" stroke-width="1.1" fill="none"/>
<rect x="31" y="164" width="3.6" height="9" fill="#e2e0e6"/>
<rect x="143.5" y="164" width="3.6" height="9" fill="#e2e0e6"/>
<path d="M46 195.7V216" stroke="#1a1a1a" stroke-width="1.3"/>
<path d="M40.2 215L51.8 215L46 226.5Z" fill="#111"/>
<rect x="149" y="162" width="106" height="103" fill="#fff"/>
<path transform="scale(.5)" fill="#4078b8" d="M298 530l0-54 3-1 3 2 3-2 3 1 3 0 3 0 3-1 3-2 3 0 3 0 3 1 3-1 3 0 3-1 3 1 3-2 3 2 3-2 3 1 3-2 3 1 3 0 3-3 3 1 3 0 3-1 3-1 3 2 3 0 3-1 3-3 3 2 3-1 3 1 3-1 3-2 3 2 3 0 3-2 3 1 3-1 3 1 3-2 3 0 3 2 3-3 3 2 3-1 3-1 3 0 3 1 3 0 3-1 3 1 3-1 3-1 3 1 3-2 3 2 3-2 3 0 3 0 3 1 3-2 3 3 3-1 3-2 3 2 3-3 3 1 2 0V530Z"/>
<path transform="scale(.5)" fill="#44aacb" d="M298 530l0-48 3-1 3 0 3 2 3-3 3 0 3 0 3 2 3-2 3 2 3-3 3 0 3 0 3 0 3 1 3-1 3 0 3 0 3 0 3-2 3 1 3 0 3 0 3-1 3 2 3-2 3 1 3-1 3-2 3 0 3 2 3 0 3 0 3-3 3 0 3 2 3 0 3 1 3-3 3 0 3-1 3 2 3 0 3-2 3 2 3-3 3 2 3-1 3 0 3 1 3 0 3-2 3 1 3 0 3-1 3-1 3 1 3 1 3-3 3 2 3-2 3-1 3 3 3-2 3 0 3 0 3 1 3-1 3-1 3 0 3 0 2 0V530Z"/>
<path transform="scale(.5)" fill="#62ae44" d="M298 530l0-46 3 2 3-2 3 1 3-1 3-1 3 2 3-1 3-1 3 2 3-1 3 0 3-2 3 2 3-1 3 0 3 0 3 0 3-2 3 0 3 2 3 0 3 0 3 0 3 0 3-2 3 1 3-1 3 0 3-1 3 1 3-2 3 1 3-1 3 2 3-1 3 0 3 0 3 1 3-3 3 3 3-2 3 0 3 0 3 1 3-1 3-1 3 0 3 0 3 1 3-2 3 2 3-1 3-1 3 2 3-2 3-1 3 2 3 0 3-1 3-1 3 0 3 1 3-1 3 0 3 0 3 0 3-1 3 0 3 0 3 1 2-1V530Z"/>
<path transform="scale(.5)" fill="#f08a3a" d="M298 530l0-38 3 2 3-3 3 0 3 2 3-2 3 1 3 0 3 1 3 0 3 0 3 0 3-1 3 2 3-1 3 0 3-2 3 1 3-1 3 1 3 0 3-1 3 1 3 0 3-1 3 1 3 0 3 0 3 1 3 0 3-2 3 1 3 0 3-2 3 3 3 0 3-1 3-1 3 0 3 1 3-1 3-1 3 3 3-1 3-2 3 2 3 1 3-2 3 1 3-1 3-1 3 1 3 0 3-1 3 2 3 0 3-1 3 1 3 0 3-1 3 1 3 1 3-3 3 0 3 2 3-2 3 0 3 2 3-1 3-1 3 0 2 1V530Z"/>
<path transform="scale(.5)" fill="#e21c2c" d="M298 530l0-34 3-1 3 1 3-2 3 1 3 0 3 0 3-1 3 2 3 0 3-2 3 1 3-1 3 0 3 1 3 0 3 1 3-2 3 1 3-1 3 3 3-1 3-1 3 2 3 0 3-2 3 0 3 0 3 0 3 0 3 1 3 0 3 0 3-2 3 1 3 1 3-2 3 0 3 2 3-2 3 2 3-2 3 1 3 0 3 2 3-1 3-1 3 1 3 0 3 0 3 0 3-2 3 2 3-2 3 3 3-3 3 0 3 3 3 0 3-2 3 1 3-2 3 3 3 0 3-3 3 2 3 1 3-2 3 0 3 2 3-2 2 1V530Z"/>
<path transform="scale(.5)" fill="#f264a2" d="M298 530l0-25 3 1 3 1 3 1 3-3 3 3 3-2 3 2 3-2 3-1 3 0 3 2 3-1 3 1 3-1 3 0 3 0 3 1 3-1 3 0 3 0 3-1 3 0 3 3 3-1 3-1 3-1 3 2 3 0 3-1 3 1 3-1 3 0 3-1 3 1 3 0 3 0 3-1 3 2 3-2 3 3 3-2 3 2 3-1 3 1 3-3 3 2 3 0 3 0 3-1 3 2 3 0 3 0 3-3 3 0 3 2 3 1 3-1 3-2 3 2 3-2 3 2 3-2 3 2 3 0 3-2 3 1 3 1 3 1 3 0 3-2 2 0V530Z"/>
<path transform="scale(.5)" fill="#1c3a88" d="M298 530l0-19 3 0 3-1 3 0 3 0 3 2 3-1 3-1 3 0 3 0 3 0 3 0 3 2 3 0 3-1 3-1 3 2 3-1 3-2 3 3 3-2 3 0 3 2 3-1 3-1 3 0 3 2 3-1 3-2 3 0 3 2 3 1 3-2 3 0 3-1 3 3 3-1 3 1 3 0 3-1 3 0 3 1 3-1 3 0 3 1 3-1 3 0 3 0 3-1 3 1 3 0 3 1 3 0 3-2 3 1 3-1 3 0 3 0 3 1 3-1 3 2 3-2 3 0 3 0 3 1 3 1 3-3 3 1 3-1 3 1 3 0 2 1V530Z"/>
<path transform="scale(.5)" fill="#c8183c" d="M298 530l0-5 3 2 3 0 3-2 3 2 3 0 3-2 3 2 3-2 3 1 3 1 3-1 3 1 3-2 3 1 3 1 3 0 3-1 3-1 3 0 3 2 3-1 3-1 3 0 3 0 3 1 3 0 3 0 3 1 3 1 3-2 3 1 3 0 3-2 3 2 3-1 3-2 3 3 3 0 3-3 3 3 3-2 3 1 3 1 3 0 3-2 3 1 3 1 3-2 3-1 3 4 3-1 3 0 3-2 3 2 3-2 3 0 3 0 3 1 3-1 3 0 3 1 3-1 3 2 3 0 3-2 3-1 3 2 3 0 3 1 3-2 2 1V530Z"/>
<g transform="scale(.2)" stroke-width="6" fill="none">
<path d="M1184 1156h6m24 0h6m18 0h6m24 0h6m-115 6h6m66 0h6m-155 6h6m0 6h6m32 6h6m0 0h6m-261 6h6m90 0h6m6 0h6m-209 6h6m68 6h6m30 0h6m0 0h6m-158 6h6" stroke="#3060a8"/>
<path d="M1190 1156h6m54 0h6m-85 6h6m-149 6h6m6 0h6m90 0h6m24 0h6m42 0h6m0 0h6m6 0h6m6 0h6m-222 6h6m42 0h6m108 0h6m-298 6h6m0 0h6m42 0h6m0 0h6m-141 6h6m6 0h6m156 0h6m66 0h6m174 0h6m-485 6h6m36 0h6m6 0h6m36 0h6m12 0h6m0 0h6m0 0h6m18 0h6m84 0h6m60 0h6m-174 12h6m-102 6h6" stroke="#6a5aa8"/>
<path d="M1196 1156h6m6 0h6m-109 6h6m24 0h6m12 0h6m-89 6h6m42 0h6m24 0h6m84 0h6m-270 6h6m90 0h6m144 0h6m-286 6h6m168 0h6m42 0h6m-327 6h6m36 0h6m12 0h6m24 0h6m24 0h6m-161 6h6m24 0h6m36 0h6m18 0h6m18 0h6m-178 6h6m6 0h6m72 0h6m-50 6h6" stroke="#40a8c0"/>
<path d="M1087 1162h6m-41 6h6m-108 6h6m12 0h6m18 0h6m24 0h6m54 0h6m36 0h6m18 0h6m48 0h6m-214 6h6m186 0h6m-297 6h6m-71 6h6m114 0h6m-160 6h6m60 0h6" stroke="#c05088"/>
<path d="M1099 1162h6m24 0h6m60 0h6m12 0h6m42 0h6m-203 6h6m42 0h6m60 0h6m-138 6h6m0 0h6m102 0h6m42 0h6m36 0h6m-364 6h6m30 0h6m108 0h6m30 0h6m168 0h6m6 0h6m-423 6h6m72 0h6m12 0h6m6 0h6m30 0h6m60 0h6m0 0h6m108 0h6m-335 6h6m60 0h6m12 0h6m198 0h6m24 0h6m-424 6h6m66 0h6m48 0h6m96 0h6m36 0h6" stroke="#2a3a80"/>
<path d="M1207 1162h6m42 0h6m-59 6h6m54 0h6m-324 6h6m180 0h6m-220 6h6m48 0h6m54 0h6m66 0h6m36 0h6m18 0h6m-267 6h6m108 0h6m48 0h6m12 0h6m-323 6h6m90 0h6m-52 6h6m-62 6h6" stroke="#70a0d0"/>
<path d="M1204 1180h6m6 0h6m18 0h6m12 0h6m-153 6h6m42 0h6m24 0h6m-173 6h6m30 0h6m54 0h6m36 0h6m6 0h6m6 0h6m12 0h6m12 0h6m-256 6h6m24 0h6m6 0h6m-206 6h6m12 0h6m24 0h6m0 0h6m6 0h6m12 0h6m60 0h6m0 0h6m-216 6h6m6 0h6m24 0h6m24 0h6" stroke="#78c0d8"/>
<path d="M1228 1180h6m12 0h6m-81 6h6m66 0h6m-215 6h6m30 0h6m24 0h6m-204 12h6m24 0h6" stroke="#4a9a80"/>
<path d="M1123 1186h6m0 0h6m18 0h6m60 0h6m12 0h6m-203 6h6m36 0h6m6 0h6m30 0h6m90 0h6m-190 6h6m24 0h6m24 0h6m-302 6h6m6 0h6m48 0h6m72 0h6m-210 6h6m0 0h6m24 0h6m0 0h6m12 0h6m24 0h6m0 0h6" stroke="#3a78b8"/>
<path d="M1238 1192h6m-136 6h6m54 0h6m78 0h6m-122 6h6m66 0h6m-174 6h6m0 0h6m48 0h6m144 0h6m-497 6h6m6 0h6m168 0h6m150 0h6m126 0h6m-491 6h6m204 0h6m90 0h6m-169 6h6m174 0h6m54 0h6" stroke="#40a0a0"/>
<path d="M1262 1192h6m2 6h6m-284 6h6m66 0h6m12 0h6m12 0h6m6 0h6m60 0h6m18 0h6m24 0h6m30 0h6m-390 6h6m132 0h6m174 0h6m30 0h6m18 0h6m-521 6h6m12 0h6m6 0h6m6 0h6m12 0h6m48 0h6m90 0h6m6 0h6m54 0h6m12 0h6m168 0h6m-443 6h6m84 0h6m126 0h6m18 0h6m60 0h6m12 0h6m48 0h6m36 0h6m30 0h6m-469 6h6m18 0h6m54 0h6m24 0h6m36 0h6m6 0h6m12 0h6m12 0h6m36 0h6m48 0h6m6 0h6m24 0h6m48 0h6" stroke="#3f8a3a"/>
<path d="M1126 1198h6m6 0h6m42 0h6m18 0h6m42 0h6m-260 6h6m6 0h6m18 0h6m96 0h6m24 0h6m-252 6h6m18 0h6m78 0h6m72 0h6m-305 6h6m24 0h6m24 0h6m12 0h6m78 0h6m24 0h6m78 0h6m66 0h6m0 0h6m12 0h6m12 0h6m18 0h6m18 0h6m-401 6h6m84 0h6m138 0h6m30 0h6m30 0h6m12 0h6m12 0h6m24 0h6m6 0h6m6 0h6m0 0h6m-517 6h6m0 0h6m6 0h6m24 0h6m36 0h6m12 0h6m18 0h6m30 0h6m24 0h6m84 0h6m174 0h6" stroke="#98c850"/>
<path d="M1132 1198h6m-62 6h6m42 6h6m-119 6h6m67 6h6m126 0h6m-205 6h6m138 0h6" stroke="#c0d048"/>
<path d="M802 1234h6m18 0h6m18 0h6m102 0h6m24 0h6m0 0h6m0 0h6m0 0h6m6 0h6m12 0h6m6 0h6m18 0h6m0 0h6m12 0h6m24 0h6m0 0h6m6 0h6m0 0h6m24 0h6m0 0h6m30 0h6m12 0h6m0 0h6m12 0h6m0 0h6" stroke="#62ae44"/>
<path d="M1102 1234h6m84 0h6m36 0h6m-246 6h6m120 0h6m96 0h6m-373 6h6m18 0h6m18 0h6m48 0h6m24 0h6m30 0h6m18 0h6m36 0h6m48 0h6m30 0h6m48 0h6m24 0h6" stroke="#f08a3a"/>
<path d="M754 1240h6m0 0h6m6 0h6m18 0h6m0 0h6m6 0h6m24 0h6m12 0h6m12 0h6m54 0h6m0 0h6m18 0h6m24 0h6m42 0h6m0 0h6m12 0h6m30 0h6m0 0h6m30 0h6m30 0h6m54 0h6m12 0h6m-465 30h6m0 0h6m108 0h6m6 0h6m12 0h6m12 0h6m0 0h6m90 0h6m60 0h6m18 0h6m6 0h6m6 0h6m18 0h6m42 0h6m0 0h6" stroke="#e21c2c"/>
<path d="M747 1246h6m186 0h6m24 0h6m108 0h6m138 0h6m-486 6h6m6 0h6m6 0h6m102 0h6m42 0h6m72 0h6m-113 6h6m162 0h6m18 0h6m0 0h6m12 0h6m-188 6h6m54 0h6m36 0h6m6 0h6m66 0h6m18 0h6" stroke="#b81030"/>
<path d="M794 1264h6m0 0h6m24 0h6m18 0h6m12 0h6m30 0h6m0 0h6m24 0h6m24 0h6m72 0h6m18 0h6m0 0h6m6 0h6m12 0h6m30 0h6m0 0h6m6 0h6m30 0h6m6 0h6m12 0h6m6 0h6m-468 18h6m24 0h6m24 0h6m12 0h6m6 0h6m30 0h6m18 0h6m30 0h6m24 0h6m36 0h6m6 0h6m42 0h6m24 0h6m6 0h6m6 0h6m0 0h6m0 0h6m12 0h6m24 0h6m0 0h6m24 0h6m6 0h6" stroke="#f264a2"/>
<path d="M907 1270h6m78 0h6m246 0h6m-365 6h6m162 0h6m138 0h6" stroke="#e8407a"/>
<path d="M752 1276h6m18 0h6m12 0h6m18 0h6m0 0h6m12 0h6m96 0h6m6 0h6m0 0h6m60 0h6m30 0h6m6 0h6m24 0h6m0 0h6m6 0h6m36 0h6m6 0h6m30 0h6m36 0h6m6 0h6m-493 42h6m36 0h6m0 0h6m30 0h6m18 0h6m0 0h6m18 0h6m0 0h6m36 0h6m0 0h6m48 0h6m6 0h6m30 0h6m6 0h6m24 0h6m36 0h6m60 0h6m0 0h6m12 0h6m6 0h6" stroke="#1c3a88"/>
<path d="M950 1282h6m78 0h6m-271 6h6m168 0h6m48 0h6m42 0h6m78 0h6m-329 6h6m72 0h6m48 0h6m48 0h6m90 0h6m132 0h6m-349 6h6m132 0h6m42 0h6m-304 6h6m174 0h6m102 0h6m30 0h6m-115 6h6m42 0h6m12 0h6m48 0h6m84 0h6m36 0h6" stroke="#3a4a9a"/>
<path d="M746 1312h6m12 0h6m60 0h6m12 0h6m30 0h6m30 0h6m0 0h6m18 0h6m12 0h6m6 0h6m42 0h6m48 0h6m0 0h6m18 0h6m0 0h6m6 0h6m6 0h6m36 0h6m18 0h6m30 0h6m0 0h6" stroke="#c8183c"/>
<path d="M949 1318h6m96 0h6m24 0h6m12 0h6m-333 6h6m228 0h6m228 0h6" stroke="#e03058"/>
<path d="M780 816h6m256 5h6m144 1h6m-331 7h6m102 6h6m-144 4h6m23 1h6m209 0h6m-8 5h6m5 0h6m-25 1h6m-283 5h6m142 1h6m-102 1h6m236 4h6m49 6h6m-397 1h6m234 1h6m18 16h6m-120 2h6m1 4h6m41 1h6m309 6h6m-446 1h6m419 4h6m-19 2h6m-304 10h6m100 6h6m85 0h6m-53 12h6m-125 1h6m132 5h6m3 6h6m-64 6h6m-212 1h6m338 0h6m-278 1h6m193 0h6m-105 6h6m40 0h6m188 0h6m-43 4h6m-253 1h6m271 0h6m-481 1h6m145 5h6m100 0h6m-298 1h6m423 4h6m-300 1h6m89 1h6m18 0h6m92 4h6m-310 1h6m-31 1h6m36 0h6m254 4h6m21 6h6m134 1h6m-503 5h6m358 0h6m-228 2h6m97 0h6m17 0h6m160 4h6m-222 1h6m157 0h6m90 0h6m-113 1h6m46 0h6m-365 4h6m158 0h6m63 0h6m157 0h6m-468 1h6m0 1h6m295 0h6m100 0h6m-2 4h6m78 0h6m-499 1h6m270 1h6m-60 4h6m11 0h6m54 0h6m98 0h6m-319 2h6m-2 0h6m217 0h6m-155 4h6m96 0h6m-151 1h6m84 0h6m56 0h6m-77 5h6m44 0h6m18 0h6m-1 0h6m-139 1h6m25 0h6m76 6h6m-140 1h6m29 0h6m145 0h6m-286 4h6m6 0h6m120 0h6m36 1h6m4 1h6m8 0h6m-175 5h6m43 0h6m-98 6h6" stroke="#f4c0d8"/>
<path d="M1212 815h6m-226 1h6m43 12h6m-41 1h6m-234 5h6m263 0h6m31 0h6m-230 1h6m288 5h6m-379 1h6m338 5h6m-243 5h6m-51 7h6m342 0h6m58 6h6m-368 7h6m197 0h6m-35 4h6m8 8h6m-77 4h6m-127 2h6m-70 4h6m33 6h6m7 0h6m42 0h6m331 0h6m-248 1h6m60 0h6m-345 5h6m355 0h6m95 2h6m-122 4h6m-82 1h6m215 0h6m-498 1h6m186 5h6m299 1h6m-322 6h6m233 0h6m20 4h6m-235 1h6m-8 12h6m133 1h6m-162 5h6m126 1h6m37 0h6m-221 4h6m7 0h6m45 0h6m109 2h6m97 0h6m-175 4h6m72 1h6m13 0h6m88 0h6m14 0h6m-408 1h6m11 0h6m222 0h6m-226 4h6m-3 0h6m379 0h6m-17 1h6m-53 1h6m-424 4h6m53 0h6m187 0h6m31 2h6m174 0h6m-467 4h6m149 0h6m200 0h6m19 0h6m-228 1h6m106 0h6m139 0h6m-242 1h6m50 0h6m-1 0h6m44 4h6m41 0h6m5 1h6m-100 1h6m-33 5h6m2 0h6m18 0h6m-152 1h6m103 0h6m217 0h6m-2 0h6m-408 5h6m386 0h6m-456 1h6m328 0h6m39 0h6m-387 4h6m120 0h6m181 0h6m-110 1h6m168 0h6m104 0h6m-228 1h6m180 0h6m41 0h6m-330 4h6m139 0h6m-96 1h6m228 0h6m17 0h6m-280 1h6m41 0h6m72 0h6m-108 4h6m-187 1h6m61 0h6m24 0h6m18 0h6m108 1h6m19 0h6m-2 0h6m20 0h6m-300 4h6m61 0h6m10 0h6m349 0h6m-476 1h6m165 0h6m210 0h6m-367 1h6m107 0h6m48 0h6m254 0h6m-387 4h6m150 0h6m117 0h6m-140 1h6m56 0h6m46 0h6m-328 1h6m45 0h6m326 0h6m22 0h6m-397 4h6m0 0h6m-35 1h6m174 0h6m71 0h6m-210 1h6m125 0h6m138 0h6m-331 4h6m16 0h6m12 0h6m54 0h6m11 1h6m74 0h6m-95 1h6m-163 4h6m91 0h6m4 0h6m8 0h6m-1 0h6m132 1h6m-108 1h6m41 0h6m-210 5h6m25 0h6m43 0h6m41 0h6m-74 1h6m47 4h6m-36 1h6m-76 1h6m101 0h6m-113 4h6m12 0h6" stroke="#c84880"/>
<path d="M1148 816h6m-30 5h6m-185 2h6m137 12h6m-246 5h6m18 36h6m-77 12h6m46 0h6m300 11h6m67 2h6m-322 6h6m208 0h6m22 4h6m33 31h6m-74 1h6m115 4h6m-136 6h6m-367 2h6m31 0h6m85 0h6m34 0h6m277 0h6m-324 4h6m142 0h6m134 2h6m-80 5h6m-58 1h6m15 4h6m-313 1h6m-9 5h6m236 1h6m160 0h6m42 5h6m30 0h6m-166 1h6m-339 5h6m360 0h6m126 0h6m-395 1h6m288 5h6m-149 1h6m29 1h6m-199 4h6m173 0h6m55 2h6m157 5h6m-72 1h6m-415 5h6m297 0h6m-236 1h6m116 0h6m130 0h6m-41 6h6m-206 5h6m271 1h6m-261 5h6m8 0h6m178 0h6m-48 1h6m-61 4h6m-176 1h6m17 0h6m174 0h6m-102 5h6m-119 7h6m78 1h6" stroke="#9a6080"/>
<path d="M778 827h6m306 0h6m-270 1h6m191 0h6m-191 1h6m184 0h6m-268 4h6m47 1h6m336 1h6m-337 4h6m431 0h6m-516 1h6m150 1h6m297 5h6m-127 1h6m-164 4h6m-35 6h6m8 0h6m70 2h6m170 0h6m-330 4h6m125 0h6m-187 6h6m193 0h6m210 2h6m-58 4h6m3 0h6m-12 1h6m-168 1h6m157 4h6m-425 1h6m52 1h6m170 0h6m125 0h6m-296 6h6m240 0h6m-213 4h6m109 0h6m119 1h6m73 0h6m-394 5h6m147 6h6m-147 1h6m283 1h6m-259 4h6m361 0h6m47 1h6m-162 1h6m-107 4h6m-191 6h6m228 1h6m-41 1h6m-242 5h6m225 1h6m-183 4h6m302 0h6m-366 2h6m396 0h6m23 0h6m-391 4h6m132 1h6m217 0h6m-212 5h6m14 0h6m17 1h6m-1 0h6m8 0h6m94 1h6m21 0h6m-191 4h6m-105 1h6m-22 5h6m90 0h6m36 0h6m179 0h6m-199 1h6m158 0h6m-25 5h6m-348 2h6m19 0h6m229 0h6m125 0h6m-454 4h6m398 0h6m78 0h6m-37 1h6m-352 1h6m52 0h6m-118 4h6m1 0h6m317 1h6m1 0h6m53 0h6m0 0h6m-251 1h6m84 0h6m101 0h6m90 0h6m-432 4h6m269 0h6m-70 1h6m84 0h6m95 0h6m-319 1h6m69 0h6m-253 6h6m185 0h6m121 0h6m-283 4h6m408 0h6m-155 1h6m37 0h6m160 0h6m-383 1h6m23 0h6m307 0h6m-433 5h6m125 0h6m155 0h6m37 0h6m1 0h6m101 1h6m-77 4h6m-283 1h6m277 0h6m-223 1h6m-48 4h6m146 0h6m100 1h6m48 0h6m7 0h6m2 0h6m-483 1h6m247 0h6m104 0h6m-163 4h6m66 0h6m78 0h6m95 0h6m-479 1h6m84 0h6m96 0h6m169 0h6m-327 5h6m264 0h6m-317 1h6m73 0h6m47 0h6m32 0h6m11 0h6m18 0h6m5 0h6m89 0h6m-227 1h6m158 0h6m9 0h6m18 0h6m69 0h6m-190 4h6m23 0h6m117 0h6m-261 1h6m2 0h6m55 0h6m51 0h6m50 0h6m-169 1h6m125 0h6m-261 4h6m265 0h6m-163 1h6m55 0h6m6 1h6m90 0h6m-227 4h6m89 0h6m24 0h6m48 0h6m-42 2h6m-219 10h6m19 0h6m19 1h6m3 1h6m24 0h6m0 0h6m-56 4h6m4 0h6m-13 1h6" stroke="#f090bc"/>
<path d="M1220 1025h6m-26 6h6m44 0h6m-44 2h6m-104 4h6m66 1h6m60 0h6m-61 1h6m7 0h6m-1 0h6m7 0h6m-155 4h6m-2 0h6m49 0h6m6 0h6m31 1h6m9 1h6m2 0h6m11 0h6m-101 4h6m6 0h6m29 0h6m26 1h6m-216 1h6m52 0h6m12 0h6m186 0h6m-80 4h6m30 0h6m7 0h6m-96 1h6m53 0h6m6 0h6m-324 1h6m119 0h6m67 0h6m17 0h6m86 0h6m-270 4h6m104 0h6m-92 1h6m-60 1h6m193 0h6m30 0h6m28 0h6m-341 4h6m110 0h6m31 0h6m101 0h6m47 0h6m29 0h6m31 0h6m-437 1h6m47 0h6m71 0h6m37 0h6m95 0h6m37 0h6m-359 1h6m37 0h6m65 0h6m245 0h6m-396 4h6m54 0h6m88 0h6m31 0h6m67 0h6m-1 0h6m179 0h6m41 0h6m-393 1h6m47 0h6m47 0h6m169 0h6m7 0h6m48 0h6m-452 1h6m74 0h6m58 0h6m162 0h6m79 0h6m66 0h6m-364 4h6m83 0h6m38 0h6m71 0h6m42 0h6m5 0h6m14 0h6m36 0h6m52 0h6m-432 1h6m0 0h6m14 0h6m30 0h6m70 0h6m80 0h6m6 0h6m12 0h6m5 0h6m-313 1h6m1 0h6m18 0h6m23 0h6m78 0h6m12 0h6m72 0h6m134 0h6m-254 4h6m96 0h6m7 0h6m101 0h6m20 0h6m-349 1h6m43 0h6m113 0h6m41 0h6m2 0h6m15 0h6m181 0h6m-426 1h6m7 0h6m234 0h6m120 0h6m18 0h6m-376 4h6m66 0h6m8 0h6m-2 0h6m21 0h6m141 0h6m79 0h6m-491 1h6m239 0h6m164 0h6m22 0h6m19 0h6m25 0h6m-501 1h6m24 0h6m110 0h6m162 0h6m41 0h6m55 0h6m94 0h6m-464 4h6m24 0h6m100 0h6m7 0h6m89 0h6m114 0h6m-432 1h6m143 0h6m67 0h6m2 0h6m124 0h6m-347 1h6m96 0h6m1 0h6m238 0h6m-372 4h6m212 0h6m12 0h6m83 0h6m54 0h6m65 0h6m50 0h6m-462 1h6m47 0h6m115 0h6m23 0h6m67 0h6m18 0h6m64 0h6m72 0h6m-461 1h6m97 0h6m-1 0h6m42 0h6m80 0h6m95 0h6m23 0h6m-295 4h6m1 0h6m162 0h6m36 0h6m108 0h6m-2 0h6m-468 1h6m31 0h6m144 0h6m47 0h6m6 0h6m109 0h6m-323 1h6m96 0h6m154 0h6m42 0h6m36 0h6m-392 4h6m23 0h6m221 0h6m79 0h6m31 0h6m53 0h6m22 0h6m-298 1h6m7 0h6m96 0h6m99 0h6m-395 1h6m35 0h6m67 0h6m6 0h6m24 0h6m96 0h6m-223 4h6m78 0h6m65 0h6m42 0h6m114 0h6m74 0h6m12 0h6m-492 1h6m35 0h6m67 0h6m6 0h6m34 0h6m67 0h6m41 0h6m67 0h6m7 0h6m64 0h6m2 0h6m24 0h6m-470 1h6m74 0h6m101 0h6m85 0h6m42 0h6m52 0h6m18 0h6m-382 4h6m224 0h6m12 0h6m-1 0h6m30 0h6m-1 0h6m2 0h6m24 0h6m-362 1h6m85 0h6m102 0h6m97 0h6m41 0h6m-281 1h6m5 0h6m49 0h6m16 0h6m19 0h6m30 0h6m0 0h6m100 0h6m33 0h6m-364 4h6m38 0h6m91 0h6m60 0h6m-2 0h6m-250 1h6m15 0h6m43 0h6m54 0h6m13 0h6m41 0h6m86 0h6m-1 0h6m-192 1h6m55 0h6m-184 4h6m14 0h6m48 0h6m84 0h6m23 0h6m12 0h6m7 0h6m-182 1h6m2 0h6m41 0h6m13 0h6m6 0h6m4 0h6m20 0h6m0 0h6m24 0h6m-204 1h6m54 0h6m36 0h6m40 0h6m-172 4h6m13 0h6m1 0h6m42 0h6m17 0h6m-91 1h6m48 0h6m30 0h6m26 0h6m0 0h6m-54 1h6m-97 4h6m10 0h6m6 0h6m47 0h6m-18 1h6m14 0h6m-1 1h6m-89 4h6m18 0h6m-18 1h6m23 0h6m-42 1h6" stroke="#c83c78"/>
<path d="M1227 1025h6m36 0h6m-36 2h6m-91 10h6m84 0h6m-124 1h6m124 1h6m1 0h6m-157 4h6m72 0h6m49 0h6m1 0h6m-234 1h6m22 0h6m15 0h6m190 0h6m-244 1h6m87 0h6m134 0h6m-187 4h6m134 0h6m30 0h6m-308 1h6m6 0h6m2 0h6m173 0h6m-156 1h6m6 0h6m18 0h6m42 0h6m24 0h6m0 0h6m83 0h6m43 0h6m-254 4h6m88 0h6m44 0h6m0 0h6m-276 1h6m36 0h6m317 0h6m-292 1h6m-139 4h6m6 0h6m37 0h6m6 0h6m-2 0h6m162 0h6m80 0h6m4 0h6m3 0h6m9 0h6m-394 1h6m11 0h6m138 0h6m-77 1h6m40 0h6m37 0h6m23 0h6m25 0h6m35 0h6m13 0h6m-70 4h6m30 0h6m-344 1h6m217 0h6m23 0h6m66 0h6m146 0h6m-457 1h6m119 0h6m30 0h6m26 0h6m53 0h6m14 0h6m107 0h6m-367 4h6m17 0h6m73 0h6m33 0h6m152 0h6m-342 1h6m89 0h6m138 0h6m36 0h6m78 0h6m60 0h6m-366 1h6m98 0h6m202 0h6m31 0h6m-286 4h6m102 0h6m179 0h6m6 0h6m-456 1h6m1 0h6m17 0h6m8 0h6m22 0h6m90 0h6m0 0h6m140 0h6m78 0h6m0 0h6m58 0h6m20 0h6m-2 0h6m-322 1h6m46 0h6m31 0h6m90 0h6m0 0h6m60 0h6m-139 4h6m37 0h6m37 0h6m65 0h6m29 0h6m-515 1h6m-1 0h6m110 0h6m28 0h6m44 0h6m18 0h6m17 0h6m168 0h6m24 0h6m-450 1h6m40 0h6m8 0h6m155 0h6m25 0h6m-1 0h6m55 0h6m12 0h6m29 0h6m2 0h6m72 0h6m22 0h6m-337 4h6m-1 0h6m38 0h6m88 0h6m55 0h6m11 0h6m13 0h6m42 0h6m-385 1h6m78 0h6m66 0h6m66 0h6m49 0h6m72 0h6m-432 1h6m162 0h6m97 0h6m-3 0h6m38 0h6m84 0h6m90 0h6m-523 4h6m51 0h6m-2 0h6m42 0h6m0 0h6m59 0h6m27 0h6m6 0h6m89 0h6m102 0h6m83 0h6m-378 1h6m25 0h6m125 0h6m90 0h6m72 0h6m18 0h6m12 0h6m-493 1h6m110 0h6m82 0h6m24 0h6m182 0h6m11 0h6m-455 4h6m11 0h6m103 0h6m35 0h6m1 0h6m108 0h6m12 0h6m113 0h6m44 0h6m-416 1h6m7 0h6m150 0h6m30 0h6m7 0h6m35 0h6m23 0h6m30 0h6m7 0h6m59 0h6m-460 1h6m312 0h6m59 0h6m31 0h6m47 0h6m-493 4h6m12 0h6m144 0h6m-1 0h6m18 0h6m1 0h6m0 0h6m107 0h6m14 0h6m17 0h6m42 0h6m5 0h6m2 0h6m22 0h6m-442 1h6m22 0h6m7 0h6m84 0h6m29 0h6m44 0h6m11 0h6m37 0h6m161 0h6m-402 1h6m0 0h6m30 0h6m66 0h6m138 0h6m43 0h6m-1 0h6m19 0h6m66 0h6m5 0h6m-399 4h6m47 0h6m61 0h6m29 0h6m-2 0h6m36 0h6m18 0h6m2 0h6m5 0h6m24 0h6m72 0h6m36 0h6m-503 1h6m59 0h6m25 0h6m16 0h6m36 0h6m69 0h6m100 0h6m26 0h6m17 0h6m13 0h6m11 0h6m25 0h6m-480 1h6m77 0h6m47 0h6m19 0h6m126 0h6m30 0h6m59 0h6m32 0h6m16 0h6m37 0h6m-357 4h6m6 0h6m66 0h6m96 0h6m-1 0h6m27 0h6m11 0h6m7 0h6m-392 1h6m19 0h6m175 0h6m252 0h6m-422 1h6m11 0h6m1 0h6m19 0h6m58 0h6m2 0h6m65 0h6m50 0h6m64 0h6m24 0h6m2 0h6m12 0h6m23 0h6m-382 4h6m53 0h6m0 0h6m60 0h6m97 0h6m31 0h6m30 0h6m-193 1h6m76 0h6m14 0h6m73 0h6m-355 1h6m22 0h6m105 0h6m89 0h6m55 0h6m-326 4h6m82 0h6m109 0h6m-221 1h6m59 0h6m20 0h6m34 0h6m12 0h6m31 0h6m29 0h6m-173 1h6m34 0h6m9 0h6m4 0h6m37 0h6m24 0h6m-2 0h6m6 0h6m20 0h6m47 0h6m-301 4h6m113 0h6m7 0h6m-101 1h6m47 0h6m59 0h6m61 0h6m-24 1h6m-134 4h6m57 0h6m-100 1h6m54 0h6m35 0h6m-121 1h6m78 0h6m-84 4h6m19 0h6m-24 1h6m22 0h6m29 0h6m-112 1h6m23 0h6m13 0h6m48 0h6m-116 6h6m25 0h6" stroke="#e878a8"/>
<path d="M1234 1027h6m-62 4h6m72 1h6m-131 5h6m-18 2h6m-107 4h6m137 0h6m-125 1h6m61 1h6m41 0h6m-92 6h6m-79 4h6m179 0h6m-63 1h6m39 0h6m25 1h6m-238 4h6m216 0h6m-97 2h6m1 0h6m94 0h6m-453 4h6m0 0h6m415 0h6m-439 1h6m247 0h6m17 0h6m180 0h6m-372 1h6m85 0h6m-75 4h6m226 0h6m-364 1h6m37 0h6m12 0h6m46 0h6m192 0h6m163 0h6m-410 1h6m415 0h6m-274 4h6m37 0h6m61 0h6m54 0h6m21 0h6m9 0h6m-236 1h6m37 0h6m211 0h6m-432 5h6m142 0h6m-119 1h6m78 0h6m252 0h6m34 1h6m5 4h6m32 0h6m-386 1h6m6 0h6m312 0h6m-436 5h6m132 0h6m124 0h6m206 0h6m-432 1h6m96 0h6m53 0h6m-241 1h6m31 0h6m143 0h6m235 0h6m0 0h6m-401 4h6m90 0h6m54 0h6m42 0h6m113 0h6m108 0h6m-305 1h6m192 0h6m-310 1h6m-1 0h6m48 0h6m138 0h6m29 0h6m138 0h6m7 0h6m24 0h6m-439 4h6m47 0h6m55 0h6m252 0h6m-344 1h6m164 0h6m6 0h6m101 1h6m13 0h6m76 0h6m6 0h6m-461 4h6m150 0h6m207 0h6m-356 1h6m234 0h6m60 0h6m102 0h6m19 0h6m-516 1h6m151 0h6m33 0h6m21 0h6m0 0h6m-2 0h6m32 0h6m178 0h6m-456 4h6m51 0h6m-29 1h6m224 0h6m36 0h6m10 0h6m134 0h6m-361 1h6m78 0h6m41 0h6m42 0h6m24 0h6m103 0h6m-411 4h6m221 0h6m18 0h6m-230 1h6m31 1h6m108 0h6m-162 4h6m216 0h6m-97 1h6m-125 1h6m-20 4h6m96 1h6m-48 1h6m56 4h6m-60 1h6m-77 1h6m107 0h6m-103 4h6m36 1h6m-96 1h6m-11 4h6m30 0h6" stroke="#7a2a58"/>
<path d="M1179 1044h6m-97 1h6m151 5h6m-197 1h6m-58 4h6m132 0h6m-201 1h6m262 6h6m-372 1h6m67 0h6m138 4h6m-113 1h6m98 0h6m70 0h6m36 0h6m7 1h6m-398 4h6m378 0h6m60 1h6m-252 1h6m49 6h6m-289 5h6m33 0h6m136 0h6m-119 1h6m29 0h6m155 0h6m79 0h6m96 4h6m6 0h6m-205 1h6m-115 1h6m152 0h6m46 0h6m-118 4h6m96 0h6m4 0h6m-384 1h6m307 0h6m8 0h6m5 0h6m91 1h6m-284 4h6m109 1h6m31 0h6m-312 1h6m454 0h6m35 4h6m-412 1h6m179 0h6m36 0h6m25 0h6m88 0h6m-300 1h6m69 4h6m53 1h6m136 5h6m50 0h6m-452 2h6m157 0h6m138 0h6m-47 4h6m-82 1h6m-140 1h6m150 0h6m102 0h6m-97 5h6m0 0h6m-217 1h6m-36 4h6m-59 2h6m18 0h6m161 0h6m-33 4h6m-42 1h6m-103 1h6m11 12h6" stroke="#3a3068"/>
<path d="M1255 1122h6m0 1h6m-39 5h6m-42 1h6m7 0h6m5 0h6m-1 0h6m-134 4h6m26 1h6m17 0h6m-77 1h6m78 0h6m95 0h6m-241 4h6m101 0h6m68 0h6m-151 1h6m7 0h6m17 0h6m24 0h6m66 0h6m65 0h6m-257 1h6m-69 4h6m12 0h6m94 0h6m13 0h6m96 0h6m-269 1h6m47 0h6m233 0h6m-287 1h6m42 0h6m60 0h6m47 0h6m31 0h6m54 0h6m-313 4h6m156 0h6m29 0h6m-192 1h6m54 0h6m55 0h6m191 0h6m25 0h6m6 0h6m-342 1h6m65 0h6m-97 4h6m9 0h6m12 0h6m29 0h6m19 0h6m-2 0h6m14 0h6m15 0h6m57 0h6m-318 1h6m5 0h6m61 0h6m16 0h6m24 0h6m212 0h6m-349 1h6m11 0h6m59 0h6m73 0h6m43 0h6m101 0h6m38 0h6m42 0h6m-296 4h6m42 0h6m12 0h6m74 0h6m11 0h6m-114 1h6m48 0h6m5 0h6m25 0h6m-312 1h6m1 0h6m119 0h6m-1 0h6m18 0h6m60 0h6m13 0h6m28 0h6m50 0h6m6 0h6m-355 4h6m68 0h6m19 0h6m11 0h6m18 0h6m4 0h6m92 0h6m-241 1h6m66 0h6m108 0h6m55 0h6m-271 1h6m92 0h6m-115 4h6m138 0h6m1 0h6m35 0h6m-101 1h6m5 0h6m47 0h6m-178 1h6m130 0h6m-96 4h6m37 0h6m-11 1h6m-75 1h6m45 0h6m29 0h6m24 0h6m-74 4h6m7 0h6m-25 1h6m-52 1h6m82 0h6m-100 5h6" stroke="#3a2a60"/>
<path d="M1268 1123h6m-3 4h6m-14 1h6m-101 1h6m60 0h6m-122 4h6m49 0h6m7 0h6m-110 1h6m-18 1h6m37 0h6m132 0h6m-247 4h6m77 0h6m-102 1h6m174 0h6m37 1h6m0 0h6m18 0h6m-328 4h6m166 1h6m84 0h6m-190 1h6m-1 0h6m7 0h6m52 0h6m74 0h6m-146 4h6m60 0h6m118 0h6m-311 1h6m132 0h6m7 1h6m76 0h6m44 0h6m40 0h6m-286 4h6m77 0h6m169 0h6m-372 1h6m7 0h6m268 0h6m23 0h6m15 0h6m-337 1h6m330 0h6m-444 5h6m162 0h6m17 1h6m14 0h6m96 0h6m64 0h6m-315 4h6m48 0h6m65 0h6m-103 1h6m38 1h6m6 0h6m-74 4h6m-78 1h6m32 5h6m94 1h6m-72 1h6m37 0h6m-63 4h6m3 0h6" stroke="#6a5098"/>
<path d="M1161 1128h6m-26 5h6m-58 1h6m-45 5h6m90 0h6m43 0h6m-11 1h6m60 0h6m-223 1h6m43 4h6m-173 2h6m143 0h6m35 4h6m133 0h6m-324 1h6m113 0h6m13 0h6m127 5h6m-374 1h6m102 0h6m209 0h6m-203 1h6m30 0h6m104 0h6m114 0h6m-470 4h6m92 0h6m-60 2h6m257 0h6m-241 4h6m121 0h6m18 0h6m-89 1h6m31 1h6m-56 4h6m-23 1h6m-55 7h6" stroke="#5a70b0"/>
<path d="M1198 1127h6m37 0h6m10 0h6m-91 1h6m8 0h6m61 0h6m-194 5h6m124 0h6m-99 1h6m130 0h6m-137 1h6m16 0h6m18 0h6m7 0h6m7 0h6m18 0h6m13 0h6m29 0h6m-183 4h6m55 0h6m6 0h6m24 0h6m72 0h6m-1 0h6m-286 1h6m0 0h6m5 0h6m24 0h6m7 0h6m179 0h6m-180 1h6m25 0h6m120 0h6m25 4h6m11 0h6m-250 1h6m84 0h6m28 0h6m6 0h6m24 0h6m49 0h6m-245 1h6m23 0h6m167 0h6m6 0h6m38 0h6m6 0h6m-405 4h6m18 0h6m68 0h6m-109 1h6m4 0h6m8 0h6m59 0h6m25 0h6m35 0h6m48 0h6m97 0h6m7 0h6m-3 0h6m2 0h6m42 0h6m4 0h6m-198 1h6m48 0h6m2 0h6m5 0h6m-281 4h6m168 0h6m1 0h6m12 0h6m35 0h6m59 0h6m-204 1h6m6 0h6m91 0h6m48 0h6m-283 1h6m223 0h6m25 0h6m18 0h6m40 0h6m7 0h6m-426 4h6m31 0h6m6 0h6m84 0h6m84 0h6m6 0h6m-164 1h6m169 0h6m54 0h6m18 0h6m-391 1h6m91 0h6m1 0h6m-1 0h6m30 0h6m7 0h6m59 0h6m37 0h6m102 0h6m-281 4h6m33 0h6m79 0h6m-42 1h6m74 0h6m0 0h6m6 0h6m-290 1h6m6 0h6m19 0h6m13 0h6m112 0h6m17 0h6m44 0h6m-233 4h6m19 0h6m9 0h6m13 0h6m1 0h6m60 0h6m12 0h6m16 0h6m24 0h6m-221 1h6m90 0h6m72 0h6m-121 1h6m-71 4h6m0 0h6m13 0h6m95 0h6m-121 1h6m36 0h6m61 0h6m30 0h6m-121 1h6m96 0h6m-150 4h6m11 0h6m12 0h6m6 0h6m-48 1h6m13 0h6m65 0h6m-87 5h6m5 0h6m0 0h6m2 0h6" stroke="#c04880"/>
<path d="M1178 1127h6m27 2h6m28 0h6m-37 4h6m50 0h6m-139 1h6m101 0h6m-60 1h6m31 0h6m1 0h6m-134 4h6m5 0h6m-108 1h6m103 0h6m35 1h6m-1 0h6m-207 4h6m91 0h6m54 0h6m5 0h6m90 0h6m-289 1h6m84 0h6m121 0h6m6 0h6m-204 1h6m61 0h6m167 0h6m-266 4h6m30 0h6m-1 0h6m85 0h6m74 0h6m45 0h6m-280 1h6m162 0h6m40 0h6m49 0h6m-343 1h6m39 0h6m9 0h6m68 0h6m85 0h6m40 0h6m-317 4h6m53 0h6m62 0h6m-150 1h6m172 0h6m19 0h6m197 0h6m-359 1h6m6 0h6m30 0h6m133 0h6m4 0h6m1 0h6m11 0h6m-336 4h6m20 0h6m-1 0h6m12 1h6m7 0h6m48 0h6m82 0h6m-221 1h6m115 0h6m10 0h6m50 0h6m-1 0h6m29 0h6m92 0h6m5 0h6m-354 4h6m222 0h6m-192 1h6m8 0h6m-2 0h6m0 0h6m8 0h6m168 0h6m-14 1h6m-202 4h6m-32 1h6m1 0h6m89 0h6m50 0h6m-143 1h6m34 0h6m-61 4h6m74 0h6m29 0h6m-125 1h6m3 5h6m7 2h6m10 0h6m-75 4h6m13 2h6" stroke="#8a3a70"/>
</g>
<rect x="152.8" y="228" width="1.4" height="37" fill="#fff6f8"/>
<path d="M255.4 162V265.4H149" fill="none" stroke="#d4d0d8" stroke-width="0.8"/>
<path d="M148.6 162V265" fill="none" stroke="#c8c4cc" stroke-width="0.8"/>
<path d="M148.2 161.6H255.8" fill="none" stroke="#a8a4b4" stroke-width="0.9"/>
<path d="M148.6 163.8v1.3M148.6 168v1.3M148.6 172.1v1.3M148.6 176.2v1.3M148.6 180.4v1.3M148.6 184.6v1.3M148.6 188.7v1.3M148.6 192.9v1.3M148.6 197v1.3M148.6 201.2v1.3M148.6 205.3v1.3M148.6 209.5v1.3M148.6 213.6v1.3M148.6 217.8v1.3M148.6 221.9v1.3M148.6 226.1v1.3M148.6 230.2v1.3M148.6 234.4v1.3M148.6 238.5v1.3M148.6 242.7v1.3M148.6 246.8v1.3M148.6 251v1.3M148.6 255.1v1.3M148.6 259.2v1.3" stroke="#8a8a8a" stroke-width="1.1" fill="none"/>
<rect x="143" y="164" width="3.6" height="9" fill="#e2e0e6"/>
<rect x="256.5" y="164" width="3.6" height="9" fill="#e2e0e6"/>
<path d="M154.2 196V216.5" stroke="#1a1a1a" stroke-width="1.3"/>
<path d="M148.4 215.5L160 215.5L154.2 227Z" fill="#111"/>
<rect x="36" y="278" width="106" height="103" fill="#fff"/>
<path transform="scale(.5)" fill="#4078b8" d="M72 762l0-48 3-1 3 0 3 0 3-1 3 2 3-2 3 0 3 1 3 0 3 1 3-1 3-1 3 0 3 0 3 0 3 2 3-2 3 2 3-1 3 1 3 0 3 0 3-2 3 2 3-1 3 1 3-2 3 0 3 2 3-1 3-1 3 0 3 0 3 0 3 2 3 0 3-2 3 0 3 2 3-2 3 1 3-1 3 2 3-2 3-1 3 2 3 0 3 0 3-1 3 2 3-2 3 0 3 0 3 0 3 1 3-1 3 2 3 0 3-2 3 0 3 1 3 0 3 0 3-1 3 0 3 1 3 0 3 0 3 1 3-2 2 1V762Z"/>
<path transform="scale(.5)" fill="#44aacb" d="M72 762l0-40 3-2 3 1 3-1 3 0 3 0 3 0 3-1 3 0 3 0 3 0 3 2 3-2 3 3 3-2 3 1 3 0 3 0 3 0 3 1 3-2 3-2 3 3 3 0 3-1 3-1 3 0 3 2 3-1 3 0 3 0 3-1 3 2 3 0 3-1 3 0 3-1 3 2 3-1 3 0 3 1 3-2 3 2 3 0 3-1 3 0 3 1 3-2 3 2 3 0 3 0 3-2 3 1 3-1 3 0 3 1 3 0 3 0 3-1 3 0 3 0 3 1 3 2 3-2 3-1 3 0 3 2 3 0 3 0 3-1 3-1 2 1V762Z"/>
<path transform="scale(.5)" fill="#62ae44" d="M72 762l0-36 3 0 3 0 3 1 3 0 3-1 3 2 3-2 3 0 3 1 3 0 3-2 3 0 3 2 3-2 3 2 3-1 3 0 3 0 3 0 3 1 3 0 3-2 3 2 3-3 3 2 3-1 3 0 3 1 3 0 3-1 3 1 3-1 3 1 3 0 3 1 3-1 3-1 3 1 3 0 3 0 3 1 3-2 3 1 3-1 3 1 3-1 3 0 3 0 3 2 3-1 3 0 3 1 3-2 3 0 3 0 3 0 3 2 3-1 3 0 3 1 3-2 3 2 3-1 3 1 3-1 3-1 3 2 3-2 3 0 3 0 2 1V762Z"/>
<path transform="scale(.5)" fill="#f08a3a" d="M72 762l0-29 3 0 3 0 3 0 3 0 3 2 3-2 3 1 3 1 3-2 3 0 3 1 3 2 3-2 3-1 3 2 3-1 3 1 3 0 3-2 3 3 3-3 3 2 3 0 3-2 3 2 3-2 3 0 3 1 3-1 3 1 3 0 3 1 3-2 3 0 3 0 3 0 3 0 3 2 3-1 3-1 3 1 3 0 3-1 3 2 3 0 3-1 3-1 3 3 3-3 3 1 3-2 3 1 3 0 3 1 3 0 3 1 3-1 3 1 3-1 3 2 3-3 3 1 3 1 3-2 3 0 3-1 3 1 3 0 3 0 3 1 2 0V762Z"/>
<path transform="scale(.5)" fill="#e21c2c" d="M72 762l0-24 3 0 3 2 3-1 3 1 3-2 3 1 3 1 3-2 3 2 3 0 3-1 3 0 3-1 3 3 3-2 3 1 3-2 3 1 3 0 3 0 3 2 3-1 3-2 3 1 3-1 3 1 3-1 3 1 3 0 3 0 3-1 3 0 3 2 3-1 3 0 3-1 3 2 3-2 3 2 3-2 3 1 3-1 3 0 3 3 3-1 3-2 3 2 3-2 3 2 3-1 3 1 3-2 3 2 3-2 3 1 3-2 3 2 3 0 3-1 3 1 3 1 3 0 3 0 3-2 3 0 3 0 3 0 3 0 3 3 3-2 2 0V762Z"/>
<path transform="scale(.5)" fill="#f264a2" d="M72 762l0-13 3-1 3 0 3 1 3-2 3 2 3-2 3 2 3-2 3 1 3 1 3-1 3 2 3-3 3 2 3-2 3 1 3 1 3 0 3-3 3 0 3 1 3 0 3 2 3-2 3 2 3 0 3-2 3 0 3 0 3 2 3 0 3-1 3 0 3 0 3 1 3-2 3 1 3-1 3 2 3-2 3 0 3 1 3-1 3 0 3 0 3 1 3 0 3 0 3 0 3-1 3 2 3 1 3-2 3 1 3-1 3 1 3-2 3 0 3 0 3 2 3-2 3 1 3 0 3 1 3-1 3 0 3 0 3-1 3 2 3-3 2 2V762Z"/>
<path transform="scale(.5)" fill="#1c3a88" d="M72 762l0-6 3-1 3 0 3 0 3 0 3 1 3 0 3 0 3-3 3 2 3-2 3 1 3-1 3 2 3-1 3 0 3 0 3 1 3 1 3-3 3 2 3 1 3-1 3-1 3 1 3 1 3-3 3 0 3 2 3 1 3-3 3 3 3-1 3-1 3 0 3 2 3-3 3 0 3 3 3-2 3 0 3 1 3 1 3-1 3 0 3-2 3 2 3 0 3 0 3-1 3 2 3-1 3-2 3 2 3 1 3-1 3 1 3-3 3 3 3-2 3-1 3 2 3 0 3 0 3 0 3 0 3 1 3-3 3 3 3 0 3-1 2 0V762Z"/>
<path transform="scale(.5)" fill="#f264a2" d="M72 762l0-3 3 2 3-1 3 1 3-2 3 0 3 0 3-1 3 3 3-2 3 1 3-2 3 3 3-2 3 0 3 1 3 0 3-1 3 1 3 0 3-1 3 1 3 0 3 0 3-1 3 2 3-1 3 0 3 1 3-2 3 0 3 0 3 2 3 0 3-1 3 1 3-2 3 2 3-3 3 1 3 0 3 0 3 1 3 2 3-1 3-1 3-2 3 3 3 0 3-2 3 0 3 2 3 0 3-1 3 0 3 0 3 0 3-2 3 2 3 0 3 1 3-1 3 1 3-2 3 1 3 1 3-1 3 1 3-2 3 2 3 0 2-1V762Z"/>
<g transform="scale(.2)" stroke-width="6" fill="none">
<path d="M199 1786h6m210 0h6m0 0h6m42 0h6m-281 6h6m102 0h6m24 0h6m0 0h6m90 0h6m108 0h6m78 0h6m-330 6h6m60 0h6m90 0h6" stroke="#c05088"/>
<path d="M205 1786h6m24 0h6m54 0h6m42 0h6m0 0h6m36 0h6m0 0h6m114 0h6m72 0h6m102 0h6m-509 6h6m72 0h6m378 0h6m-438 6h6m126 0h6m0 0h6m126 0h6m24 0h6m120 0h6m-374 6h6m30 0h6m78 0h6m158 6h6m126 0h6m-384 5h6m102 0h6m90 0h6" stroke="#2a3a80"/>
<path d="M229 1786h6m42 0h6m18 0h6m66 0h6m24 0h6m54 0h6m60 0h6m54 0h6m-347 6h6m90 0h6m6 0h6m18 0h6m42 0h6m204 0h6m30 0h6m-402 6h6m36 0h6m12 0h6m114 0h6m54 0h6m96 0h6m18 0h6m-452 6h6m36 0h6m228 0h6m222 0h6m-436 6h6m48 0h6m150 0h6m96 0h6m-408 5h6m12 0h6m204 0h6m48 0h6m114 0h6" stroke="#6a5aa8"/>
<path d="M253 1786h6m186 0h6m90 0h6m36 0h6m-401 6h6m192 0h6m180 0h6m102 0h6m-444 6h6m168 0h6m126 0h6m36 0h6m66 0h6m6 0h6m12 0h6" stroke="#3060a8"/>
<path d="M265 1786h6m66 0h6m24 0h6m198 0h6m0 0h6m54 0h6m48 0h6m-467 6h6m6 0h6m60 0h6m6 0h6m48 0h6m18 0h6m96 0h6m18 0h6m0 0h6m78 0h6m6 0h6m54 0h6m0 0h6m6 0h6m-510 6h6m0 0h6m12 0h6m24 0h6m42 0h6m84 0h6m42 0h6m36 0h6m6 0h6m6 0h6m0 0h6m18 0h6m0 0h6" stroke="#40a8c0"/>
<path d="M319 1786h6m114 0h6m42 0h6m168 0h6m-263 6h6m198 0h6m-420 6h6m198 0h6m6 0h6m18 0h6" stroke="#70a0d0"/>
<path d="M186 1804h6m24 0h6m42 0h6m228 0h6m180 0h6m18 0h6m-514 6h6m30 0h6m0 0h6m18 0h6m84 0h6m42 0h6m102 0h6m18 0h6m-222 5h6m120 0h6m204 0h6" stroke="#4a9a80"/>
<path d="M210 1804h6m84 0h6m12 0h6m42 0h6m0 0h6m54 0h6m24 0h6m36 0h6m54 0h6m60 0h6m6 0h6m-442 6h6m0 0h6m60 0h6m0 0h6m0 0h6m36 0h6m6 0h6m12 0h6m18 0h6m84 0h6m24 0h6m36 0h6m6 0h6m72 0h6m54 0h6m-492 5h6m30 0h6m24 0h6m48 0h6m18 0h6m60 0h6m48 0h6m18 0h6m42 0h6m24 0h6m12 0h6m6 0h6m18 0h6m6 0h6m18 0h6m6 0h6m12 0h6" stroke="#78c0d8"/>
<path d="M270 1804h6m54 0h6m18 0h6m0 0h6m78 0h6m90 0h6m30 0h6m0 0h6m72 0h6m-472 6h6m24 0h6m78 0h6m0 0h6m54 0h6m36 0h6m0 0h6m12 0h6m6 0h6m6 0h6m24 0h6m0 0h6m24 0h6m54 0h6m12 0h6m0 0h6m12 0h6m-402 5h6m24 0h6m18 0h6m6 0h6m6 0h6m78 0h6m0 0h6m48 0h6m108 0h6m48 0h6" stroke="#3a78b8"/>
<path d="M189 1821h6m72 0h6m24 0h6m138 0h6m84 0h6m12 0h6m24 0h6m60 0h6m42 0h6m6 0h6m-529 6h6m48 0h6m18 0h6m72 0h6m72 0h6m24 0h6m24 0h6m-254 6h6m168 0h6m12 0h6m18 0h6m12 0h6m48 0h6m6 0h6m60 0h6m42 0h6m24 0h6" stroke="#3f8a3a"/>
<path d="M195 1821h6m54 0h6m18 0h6m90 0h6m12 0h6m12 0h6m0 0h6m36 0h6m18 0h6m6 0h6m12 0h6m90 0h6m0 0h6m-301 6h6m60 0h6m0 0h6m0 0h6m24 0h6m6 0h6m72 0h6m30 0h6m132 0h6m-494 6h6m36 0h6m48 0h6m6 0h6m6 0h6m48 0h6m6 0h6m126 0h6m12 0h6m24 0h6" stroke="#98c850"/>
<path d="M285 1821h6m0 0h6m48 0h6m0 0h6m0 0h6m90 0h6m42 0h6m150 0h6m-19 6h6m36 0h6m6 0h6m-428 6h6m306 0h6m66 0h6" stroke="#40a0a0"/>
<path d="M435 1821h6m-169 6h6m36 0h6m288 0h6m12 0h6m30 0h6m-296 6h6m6 0h6" stroke="#c0d048"/>
<path d="M200 1839h6m18 0h6m6 0h6m54 0h6m6 0h6m6 0h6m30 0h6m30 0h6m78 0h6m36 0h6m12 0h6m12 0h6m12 0h6m6 0h6m12 0h6m18 0h6" stroke="#62ae44"/>
<path d="M374 1839h6m90 0h6m54 0h6m12 0h6m-347 6h6m288 0h6m180 0h6m-498 6h6m6 0h6m18 0h6m0 0h6m48 0h6m12 0h6m12 0h6m0 0h6m0 0h6m90 0h6m42 0h6m6 0h6m54 0h6m12 0h6m66 0h6m36 0h6m0 0h6m0 0h6" stroke="#f08a3a"/>
<path d="M243 1845h6m36 0h6m12 0h6m54 0h6m6 0h6m6 0h6m54 0h6m12 0h6m36 0h6m48 0h6m18 0h6m0 0h6m30 0h6m24 0h6m6 0h6m0 0h6m12 0h6m-517 30h6m6 0h6m0 0h6m6 0h6m6 0h6m12 0h6m102 0h6m6 0h6m0 0h6m0 0h6m72 0h6m0 0h6m66 0h6m48 0h6m30 0h6m18 0h6m30 0h6m0 0h6" stroke="#e21c2c"/>
<path d="M633 1851h6m24 0h6m-482 6h6m84 0h6m0 0h6m24 0h6m18 0h6m102 0h6m12 0h6m150 0h6m-432 12h6m318 0h6m30 0h6m108 0h6m18 0h6" stroke="#b81030"/>
<path d="M199 1869h6m150 0h6m0 0h6m18 0h6m54 0h6m12 0h6m60 0h6m6 0h6m18 0h6m90 0h6m36 0h6m-520 24h6m0 0h6m30 0h6m0 0h6m12 0h6m6 0h6m18 0h6m12 0h6m108 0h6m0 0h6m18 0h6m12 0h6m0 0h6m0 0h6m6 0h6m12 0h6m30 0h6m12 0h6m6 0h6m0 0h6m18 0h6m12 0h6m0 0h6m-451 6h6m0 0h6m18 0h6m6 0h6m6 0h6m30 0h6m18 0h6m30 0h6m24 0h6m24 0h6m12 0h6m18 0h6m30 0h6m126 0h6m6 0h6m24 0h6m6 0h6" stroke="#f264a2"/>
<path d="M296 1875h6m126 0h6m12 0h6m42 0h6m6 0h6m-264 6h6m96 0h6m0 0h6m186 0h6m-240 6h6m18 0h6m204 0h6m72 0h6m66 0h6m0 0h6m-247 18h6" stroke="#e8407a"/>
<path d="M188 1887h6m0 0h6m42 0h6m12 0h6m30 0h6m24 0h6m48 0h6m6 0h6m6 0h6m6 0h6m60 0h6m0 0h6m18 0h6m12 0h6m30 0h6m90 0h6m6 0h6m0 0h6m-487 18h6m18 0h6m12 0h6m0 0h6m42 0h6m0 0h6m0 0h6m18 0h6m18 0h6m24 0h6m0 0h6m12 0h6m12 0h6m0 0h6m54 0h6m0 0h6m12 0h6m0 0h6m0 0h6m0 0h6m36 0h6m12 0h6m0 0h6m36 0h6m6 0h6m24 0h6m12 0h6" stroke="#1c3a88"/>
<path d="M669 1893h6m24 0h6m-349 6h6m204 0h6" stroke="#3a4a9a"/>
<path d="M596 1395h6m-402 8h6m144 11h6m199 11h6m-126 7h6m154 23h6m-275 7h6m19 1h6m270 0h6m-133 4h6m-127 7h6m162 1h6m-168 4h6m71 0h6m-17 1h6m-24 1h6m-36 10h6m-205 2h6m92 16h6m280 0h6m-376 1h6m216 1h6m154 0h6m-376 4h6m49 0h6m-61 6h6m418 0h6m-293 2h6m169 0h6m-145 4h6m156 1h6m-389 6h6m174 1h6m-120 4h6m274 0h6m145 0h6m-426 1h6m143 0h6m228 0h6m6 0h6m-186 1h6m139 0h6m7 0h6m-182 5h6m241 0h6m-184 6h6m95 0h6m-348 1h6m162 0h6m-49 4h6m-35 2h6m60 0h6m215 0h6m-247 4h6m109 0h6m24 0h6m-317 1h6m-80 1h6m61 0h6m55 0h6m283 0h6m8 4h6m-334 2h6m233 0h6m-289 5h6m162 0h6m164 0h6m-47 1h6m28 0h6m122 0h6m-154 4h6m77 0h6m41 0h6m-379 1h6m260 0h6m-265 1h6m95 4h6m215 0h6m-449 1h6m173 0h6m18 0h6m252 1h6m-443 4h6m233 2h6m74 0h6m-2 0h6m-279 4h6m149 0h6m113 0h6m120 0h6m-257 1h6m13 0h6m150 0h6m22 0h6m-442 1h6m204 0h6m288 0h6m-416 4h6m70 0h6m115 0h6m54 0h6m-335 1h6m101 0h6m7 0h6m30 0h6m35 0h6m-220 1h6m274 0h6m53 0h6m-161 4h6m91 0h6m126 0h6m6 0h6m-275 1h6m70 0h6m14 0h6m232 0h6m-487 1h6m33 0h6m245 0h6m6 0h6m25 0h6m83 0h6m-342 4h6m29 0h6m67 0h6m-1 0h6m-78 1h6m98 0h6m234 0h6m-450 1h6" stroke="#c84880"/>
<path d="M619 1397h6m-437 17h6m79 12h6m215 1h6m-318 4h6m182 6h6m163 12h6m115 18h6m-451 1h6m90 0h6m234 1h6m-111 6h6m-38 4h6m259 7h6m-199 1h6m-237 10h6m185 2h6m-54 4h6m210 6h6m-120 2h6m36 0h6m6 5h6m42 0h6m-194 5h6m133 0h6m-361 1h6m230 0h6m30 1h6m-152 4h6m26 8h6m5 0h6m209 0h6m98 0h6m-156 4h6m-162 2h6m221 0h6m-271 4h6m173 1h6m-341 5h6m24 0h6m25 0h6m73 1h6m112 1h6m43 0h6m-144 4h6m212 0h6m-174 1h6m107 1h6m119 4h6m18 0h6m-492 1h6m323 1h6m164 0h6m-427 4h6m89 0h6m325 1h6m-373 6h6m138 1h6m-257 4h6m259 0h6m144 0h6m61 0h6m-511 1h6m-1 0h6m121 5h6m286 0h6m-263 1h6m335 0h6m-492 1h6m301 0h6m169 0h6m-506 4h6m84 0h6m104 0h6m232 0h6m-322 1h6m162 0h6m174 0h6m-289 1h6m18 0h6m227 0h6m-424 4h6m101 0h6m239 0h6m-364 1h6m16 0h6m121 0h6m247 0h6m-427 1h6m379 0h6m102 0h6m-457 4h6m190 0h6m2 0h6m-67 1h6m37 0h6m162 0h6m-85 1h6m138 0h6m-61 4h6m-185 1h6m31 0h6m82 0h6m26 0h6m13 0h6m-331 1h6m304 0h6m-387 4h6m78 0h6m89 0h6m60 0h6m67 0h6m17 0h6m103 0h6m28 0h6m-509 1h6m54 0h6m390 1h6m49 0h6" stroke="#f090bc"/>
<path d="M639 1403h6m-278 17h6m-4 5h6m-48 7h6m48 7h6m198 18h6m64 11h6m-180 5h6m115 0h6m-104 1h6m180 0h6m-447 19h6m364 11h6m-71 1h6m-194 5h6m296 0h6m-20 5h6m-335 6h6m-139 1h6m103 1h6m343 4h6m-116 1h6m120 1h6m23 6h6m-87 4h6m-432 1h6m420 7h6m-193 4h6m246 1h6m-19 1h6m-435 5h6m190 0h6m179 0h6m7 0h6m-418 6h6m106 1h6m-103 6h6m301 0h6m-199 6h6m170 0h6m154 0h6m-33 4h6m-325 1h6m217 0h6m133 0h6m-379 1h6m289 0h6m-434 4h6m18 0h6m298 0h6m8 0h6m-53 2h6m93 0h6m-389 4h6m83 0h6m140 0h6m234 1h6m-474 1h6m178 0h6m-28 5h6m142 5h6m78 0h6m31 0h6m-427 1h6m329 0h6m-323 1h6m164 4h6m-168 1h6m48 0h6m33 0h6m121 0h6m-179 1h6m115 0h6m-235 4h6m66 0h6m79 0h6m-42 1h6m347 0h6m-421 1h6m97 0h6m108 0h6" stroke="#f4c0d8"/>
<path d="M219 1420h6m366 5h6m-274 44h6m43 0h6m67 24h6m-35 6h6m-157 11h6m192 5h6m96 7h6m-142 1h6m149 0h6m-54 4h6m101 0h6m-403 6h6m-35 1h6m293 5h6m-263 13h6m108 0h6m-174 1h6m205 0h6m-210 5h6m419 5h6m43 1h6m-373 5h6m311 1h6m-36 5h6m-413 2h6m223 0h6m216 0h6m-245 4h6m89 2h6m-203 4h6m237 0h6m-288 1h6m30 5h6m302 1h6m-89 5h6m-224 1h6m-92 5h6m432 0h6m-490 2h6m306 0h6m24 4h6m151 0h6m10 1h6m-364 1h6m-126 5h6m96 0h6m257 1h6m55 0h6m30 0h6" stroke="#9a6080"/>
<path d="M205 1623h6m64 0h6m122 0h6m161 0h6m17 1h6m-17 1h6m-238 4h6m7 0h6m210 0h6m53 0h6m29 0h6m-491 1h6m316 0h6m117 0h6m42 0h6m0 0h6m-306 1h6m179 0h6m-295 4h6m199 0h6m-223 1h6m37 0h6m209 0h6m-83 1h6m-160 4h6m76 0h6m68 0h6m108 0h6m-139 1h6m95 0h6m-166 1h6m91 4h6m99 0h6m12 1h6m11 1h6m-131 4h6m0 0h6m168 0h6m-415 1h6m12 0h6m324 0h6m-323 1h6m-79 4h6m330 0h6m53 0h6m-229 1h6m236 0h6m-320 1h6m57 0h6m316 0h6m-491 4h6m7 0h6m-56 2h6m131 0h6m279 0h6m83 0h6m-444 4h6m84 0h6m176 0h6m-36 1h6m118 0h6m-269 1h6m103 0h6m-42 4h6m52 0h6m-258 1h6m134 0h6m186 0h6m-284 1h6m32 0h6m329 0h6m-486 4h6m89 0h6m74 0h6m72 0h6m130 0h6m-378 1h6m68 0h6m53 0h6m113 0h6m-203 1h6m84 0h6m294 0h6m-197 4h6m23 0h6m122 0h6m34 0h6m18 0h6m-372 1h6m17 0h6m91 0h6m120 0h6m137 0h6m-441 1h6m72 0h6m131 0h6m-294 4h6m10 0h6m79 0h6m85 0h6m228 0h6m-396 1h6m337 0h6m-218 1h6m6 0h6m80 0h6m58 0h6m-330 4h6m216 0h6m120 0h6m35 0h6m8 0h6m71 0h6m-205 1h6m78 0h6m78 0h6m37 0h6m-475 1h6m324 0h6m-336 4h6m53 0h6m18 0h6m116 0h6m6 0h6m148 0h6m0 0h6m50 0h6m34 1h6m-353 1h6m186 0h6m-317 4h6m73 0h6m29 0h6m44 0h6m198 0h6m23 0h6m-138 1h6m161 0h6m36 0h6m-460 1h6m24 0h6m101 0h6m217 0h6m-298 4h6m377 0h6m-329 1h6m97 1h6m70 0h6m38 0h6m23 0h6m42 0h6m-424 4h6m126 0h6m37 0h6m84 0h6m-283 1h6m163 0h6m-169 1h6m6 0h6m176 0h6m245 0h6m-345 4h6m20 0h6m106 0h6m-300 1h6m43 0h6m48 0h6m204 0h6m127 0h6m4 0h6m-366 1h6m97 0h6m76 0h6m-151 4h6m138 0h6m94 0h6m121 0h6m-521 1h6m371 0h6m31 0h6m66 0h6m-266 1h6" stroke="#7a2a58"/>
<path d="M218 1623h6m126 0h6m137 0h6m55 0h6m102 0h6m10 0h6m-443 1h6m41 0h6m61 0h6m58 0h6m44 0h6m70 0h6m49 0h6m-361 1h6m182 0h6m78 0h6m-35 4h6m24 0h6m-181 1h6m50 0h6m28 0h6m145 0h6m-1 0h6m6 0h6m-414 1h6m1 0h6m121 0h6m106 0h6m252 0h6m-514 4h6m83 0h6m76 0h6m2 0h6m300 0h6m-485 1h6m144 0h6m-110 1h6m7 0h6m34 0h6m129 0h6m155 0h6m24 0h6m28 0h6m31 0h6m-389 4h6m8 0h6m100 0h6m-211 1h6m103 0h6m26 0h6m0 0h6m293 0h6m-487 1h6m1 0h6m13 0h6m168 0h6m12 0h6m107 0h6m-309 4h6m95 0h6m62 0h6m144 0h6m17 0h6m-385 1h6m55 0h6m14 0h6m251 0h6m168 0h6m-247 1h6m25 0h6m18 0h6m-2 0h6m8 0h6m41 0h6m-209 4h6m265 0h6m52 0h6m-510 1h6m6 0h6m1 0h6m311 0h6m-185 1h6m24 0h6m0 0h6m121 0h6m31 0h6m107 0h6m5 0h6m-498 4h6m274 0h6m12 0h6m14 0h6m149 0h6m-451 1h6m20 0h6m4 0h6m188 0h6m78 0h6m155 0h6m0 0h6m-427 1h6m13 0h6m102 0h6m7 0h6m96 0h6m-295 4h6m150 0h6m18 0h6m1 0h6m7 0h6m48 0h6m35 0h6m-187 1h6m318 0h6m14 0h6m-500 1h6m67 0h6m221 0h6m175 0h6m-394 4h6m46 0h6m72 0h6m1 0h6m5 0h6m203 0h6m-419 1h6m163 0h6m36 0h6m67 0h6m16 0h6m143 0h6m-484 1h6m28 0h6m8 0h6m36 0h6m161 0h6m113 0h6m92 0h6m-452 4h6m110 0h6m-168 1h6m113 0h6m1 0h6m151 0h6m53 0h6m-269 1h6m4 0h6m55 0h6m179 0h6m85 0h6m5 0h6m31 0h6m-440 4h6m57 0h6m23 0h6m1 0h6m90 0h6m178 0h6m-390 1h6m8 0h6m0 0h6m52 0h6m61 0h6m55 0h6m35 0h6m60 0h6m7 0h6m-288 1h6m173 0h6m23 0h6m25 0h6m0 0h6m37 0h6m-3 0h6m55 0h6m54 0h6m5 0h6m-436 4h6m101 0h6m44 0h6m126 0h6m73 0h6m65 0h6m-499 1h6m36 0h6m36 0h6m67 0h6m4 0h6m8 0h6m11 0h6m2 0h6m4 0h6m77 0h6m81 0h6m10 0h6m-377 1h6m67 0h6m34 0h6m23 0h6m15 0h6m40 0h6m19 0h6m193 0h6m10 0h6m-473 4h6m31 0h6m30 0h6m11 0h6m23 0h6m84 0h6m48 0h6m30 0h6m25 0h6m30 0h6m11 0h6m19 0h6m65 0h6m-390 1h6m86 0h6m52 0h6m7 0h6m84 0h6m61 0h6m6 0h6m-429 1h6m91 0h6m92 0h6m10 0h6m98 0h6m47 0h6m109 0h6m-459 4h6m43 0h6m22 0h6m8 0h6m59 0h6m25 0h6m61 0h6m84 0h6m15 0h6m2 0h6m5 0h6m-437 1h6m114 0h6m18 0h6m-2 0h6m2 0h6m67 0h6m76 0h6m47 0h6m66 0h6m27 0h6m23 0h6m-433 1h6m56 0h6m46 0h6m6 0h6m55 0h6m112 0h6m44 0h6m71 0h6m-503 4h6m12 0h6m-1 0h6m24 0h6m31 0h6m150 0h6m-2 0h6m157 0h6m-318 1h6m23 0h6m6 0h6m128 0h6m0 0h6m59 0h6m40 0h6m57 0h6m17 0h6m-479 1h6m22 0h6m19 0h6m54 0h6m53 0h6m25 0h6m19 0h6m28 0h6m20 0h6m-246 4h6m43 0h6m4 0h6m67 0h6m97 0h6m130 0h6m2 0h6m24 0h6m0 0h6m6 0h6m13 0h6m-462 1h6m312 0h6m-386 1h6m19 0h6m96 0h6m114 0h6m131 0h6m19 0h6m7 0h6m-314 4h6m28 0h6m13 0h6m94 0h6m26 0h6m34 0h6m44 0h6m70 0h6m20 0h6m-492 1h6m5 0h6m73 0h6m71 0h6m-1 0h6m121 0h6m143 0h6m36 0h6m-478 1h6m12 0h6m17 0h6m138 0h6m1 0h6m17 0h6m233 0h6m-447 4h6m90 0h6m38 0h6m52 0h6m133 0h6m115 0h6m-505 1h6m41 0h6m235 0h6m35 0h6m7 0h6m5 0h6m48 0h6m55 0h6m43 0h6m-439 1h6m36 0h6m23 0h6m36 0h6m30 0h6m11 0h6m68 0h6m114 0h6m-446 4h6m22 0h6m19 0h6m42 0h6m264 0h6m13 0h6m100 0h6m-407 1h6m30 0h6m7 0h6m11 0h6m66 0h6m7 0h6m4 0h6m66 0h6m110 0h6m12 0h6m41 0h6m1 0h6m-529 1h6m36 0h6m96 0h6m120 0h6m11 0h6m49 0h6m7 0h6m83 0h6m-434 4h6m42 0h6m0 0h6m65 0h6m13 0h6m5 0h6m-1 0h6m13 0h6m41 0h6m84 0h6m7 0h6m18 0h6m42 0h6m7 0h6m16 0h6m13 0h6m-425 1h6m36 0h6m167 0h6m1 0h6m130 0h6m19 0h6m36 0h6m-456 1h6m6 0h6m12 0h6m36 0h6m77 0h6m301 0h6" stroke="#c83c78"/>
<path d="M254 1623h6m108 0h6m112 0h6m116 0h6m22 0h6m-384 1h6m120 0h6m92 0h6m11 0h6m191 0h6m-479 1h6m132 0h6m60 0h6m143 0h6m-359 4h6m32 0h6m154 0h6m74 0h6m101 0h6m48 0h6m37 0h6m-318 1h6m69 0h6m67 0h6m-330 1h6m42 0h6m12 0h6m66 0h6m18 0h6m42 0h6m234 0h6m-293 4h6m52 0h6m32 0h6m11 0h6m19 0h6m113 0h6m18 0h6m-455 1h6m5 0h6m6 0h6m113 0h6m13 0h6m133 0h6m24 0h6m35 0h6m7 0h6m-396 1h6m259 0h6m83 0h6m1 0h6m30 0h6m58 0h6m-279 4h6m0 0h6m120 0h6m65 0h6m55 0h6m24 0h6m-489 1h6m116 0h6m24 0h6m181 0h6m-367 1h6m65 0h6m8 0h6m10 0h6m50 0h6m96 0h6m30 0h6m94 0h6m20 0h6m6 0h6m50 4h6m18 0h6m-466 1h6m9 0h6m32 0h6m18 0h6m103 0h6m10 0h6m24 0h6m114 0h6m7 0h6m0 0h6m-419 1h6m244 0h6m91 0h6m91 0h6m58 0h6m-425 4h6m115 0h6m-1 0h6m163 0h6m6 0h6m-1 0h6m-401 1h6m59 0h6m0 0h6m37 0h6m71 0h6m107 0h6m192 0h6m-480 1h6m182 0h6m35 0h6m18 0h6m161 0h6m31 0h6m-384 4h6m36 0h6m160 0h6m186 0h6m-526 1h6m48 0h6m166 0h6m14 0h6m6 0h6m-1 0h6m47 0h6m31 0h6m-1 0h6m31 0h6m72 0h6m-468 1h6m97 0h6m23 0h6m30 0h6m101 0h6m108 0h6m0 0h6m1 0h6m19 0h6m-289 4h6m198 0h6m86 0h6m-379 1h6m24 0h6m59 0h6m50 0h6m10 0h6m5 0h6m9 0h6m94 0h6m12 0h6m-275 1h6m10 0h6m200 0h6m7 0h6m93 0h6m25 0h6m19 0h6m-473 4h6m35 0h6m6 0h6m7 0h6m16 0h6m121 0h6m206 0h6m-477 1h6m13 0h6m169 0h6m16 0h6m12 0h6m15 0h6m6 0h6m28 0h6m115 0h6m-433 1h6m361 0h6m1 0h6m-1 0h6m31 0h6m39 0h6m-436 4h6m47 0h6m8 0h6m136 0h6m6 0h6m98 0h6m59 0h6m5 0h6m29 0h6m32 0h6m12 0h6m-371 1h6m4 0h6m0 0h6m18 0h6m2 0h6m58 0h6m14 0h6m72 0h6m142 0h6m-342 1h6m24 0h6m1 0h6m97 0h6m66 0h6m53 0h6m0 0h6m1 0h6m-360 4h6m29 0h6m47 0h6m12 0h6m1 0h6m156 0h6m11 0h6m-280 1h6m160 0h6m56 0h6m35 0h6m109 0h6m-492 1h6m28 0h6m55 0h6m29 0h6m8 0h6m53 0h6m78 0h6m60 0h6m52 0h6m2 0h6m5 0h6m18 0h6m12 0h6m12 0h6m-478 4h6m36 0h6m24 0h6m23 0h6m20 0h6m136 0h6m-250 1h6m58 0h6m102 0h6m85 0h6m0 0h6m-2 0h6m62 0h6m-379 1h6m12 0h6m144 0h6m43 0h6m91 0h6m28 0h6m24 0h6m30 0h6m6 0h6m19 0h6m-492 4h6m41 0h6m32 0h6m-1 0h6m19 0h6m24 0h6m71 0h6m6 0h6m72 0h6m25 0h6m155 0h6m-491 1h6m144 0h6m126 0h6m99 0h6m7 0h6m23 0h6m14 0h6m12 0h6m-414 1h6m79 0h6m11 0h6m77 0h6m54 0h6m35 0h6m56 0h6m47 0h6m13 0h6m-504 4h6m46 0h6m128 0h6m76 0h6m26 0h6m-2 0h6m-205 1h6m80 0h6m29 0h6m188 0h6m46 0h6m19 0h6m-498 1h6m18 0h6m11 0h6m8 0h6m52 0h6m53 0h6m26 0h6m43 0h6m16 0h6m192 0h6m-433 4h6m12 0h6m14 0h6m52 0h6m32 0h6m21 0h6m63 0h6m143 0h6m5 0h6m36 0h6m-492 1h6m134 0h6m34 0h6m6 0h6m14 0h6m46 0h6m55 0h6m61 0h6m77 0h6m35 0h6m-504 1h6m79 0h6m115 0h6m82 0h6m26 0h6m-1 0h6m-298 4h6m83 0h6m19 0h6m5 0h6m1 0h6m66 0h6m11 0h6m42 0h6m0 0h6m1 0h6m5 0h6m108 0h6m-365 1h6m53 0h6m25 0h6m37 0h6m28 0h6m104 0h6m11 0h6m-377 1h6m118 0h6m61 0h6m5 0h6m49 0h6m29 0h6m48 0h6m120 0h6m7 0h6m-475 4h6m28 0h6m1 0h6m4 0h6m13 0h6m25 0h6m17 0h6m24 0h6m36 0h6m186 0h6m-438 1h6m11 0h6m32 0h6m90 0h6m127 0h6m11 0h6m16 0h6m2 0h6m101 0h6m36 0h6m36 0h6m-468 1h6m24 0h6m13 0h6m12 0h6m126 0h6m-2 0h6m110 0h6m5 0h6m-387 4h6m12 0h6m7 0h6m330 0h6m34 0h6m-408 1h6m1 0h6m77 0h6m14 0h6m5 0h6m6 0h6m-2 0h6m32 0h6m16 0h6m51 0h6m-1 0h6m-1 0h6m2 0h6m11 0h6m55 0h6m29 0h6m53 0h6m59 0h6m-353 1h6m43 0h6m66 0h6m5 0h6m6 0h6m79 0h6m23 0h6m0 0h6m17 0h6m-380 4h6m97 0h6m13 0h6m78 0h6m49 0h6m10 0h6m50 0h6m71 0h6m-427 1h6m0 0h6m38 0h6m27 0h6m19 0h6m13 0h6m11 0h6m55 0h6m36 0h6m162 0h6m-474 1h6m42 0h6m18 0h6m29 0h6m98 0h6m4 0h6m54 0h6m80 0h6m18 0h6m6 0h6m75 0h6m-512 4h6m12 0h6m17 0h6m37 0h6m24 0h6m0 0h6m59 0h6m30 0h6m30 0h6m62 0h6m48 0h6m76 0h6m-268 1h6m70 0h6m6 0h6m186 0h6m14 0h6m-434 1h6m1 0h6m18 0h6m-2 0h6m19 0h6m24 0h6m50 0h6m57 0h6m25 0h6m37 0h6m13 0h6m12 0h6m4 0h6m36 0h6m62 0h6" stroke="#e878a8"/>
<path d="M529 1623h6m-1 0h6m-78 2h6m200 0h6m-384 10h6m161 0h6m-282 2h6m145 0h6m197 0h6m139 4h6m-41 1h6m-420 1h6m294 0h6m-332 4h6m89 0h6m108 0h6m79 0h6m-97 1h6m48 0h6m-216 5h6m105 1h6m288 0h6m-86 6h6m88 1h6m0 0h6m-130 4h6m-287 1h6m148 1h6m156 0h6m-353 5h6m229 0h6m209 0h6m-202 5h6m-279 1h6m54 0h6m289 0h6m-174 1h6m42 0h6m-89 4h6m287 0h6m-215 1h6m144 0h6m-104 1h6m-70 5h6m126 0h6m-112 1h6m180 0h6m-427 4h6m310 6h6m14 0h6m-111 1h6m31 0h6m-305 1h6m41 0h6m20 0h6m30 0h6m102 0h6m65 0h6m23 0h6m80 0h6m-56 5h6m-137 1h6m-232 4h6m197 0h6m-156 1h6m282 0h6m37 0h6m23 0h6m-426 1h6m251 4h6m-211 1h6m65 0h6m282 0h6m24 0h6m-253 1h6m141 0h6m-329 4h6m389 0h6m-336 1h6m320 0h6m54 0h6m-36 1h6m18 0h6m-454 4h6m397 0h6m41 0h6m0 1h6m-444 1h6m385 0h6m12 0h6m-216 4h6m-21 1h6m270 0h6m6 1h6" stroke="#3a3068"/>
<path d="M188 1743h6m240 0h6m5 0h6m11 0h6m176 0h6m13 0h6m17 0h6m11 0h6m-222 1h6m49 0h6m84 0h6m12 0h6m19 0h6m-447 1h6m49 0h6m18 0h6m54 0h6m198 0h6m107 0h6m-517 4h6m26 0h6m89 0h6m25 0h6m150 0h6m-260 1h6m26 0h6m334 0h6m24 0h6m6 0h6m43 0h6m-455 1h6m71 0h6m108 0h6m5 0h6m74 0h6m-300 4h6m78 0h6m24 0h6m68 0h6m70 0h6m110 0h6m-426 1h6m6 0h6m11 0h6m11 0h6m1 0h6m24 0h6m31 0h6m107 0h6m19 0h6m72 0h6m58 0h6m38 0h6m42 0h6m-1 0h6m-509 1h6m22 0h6m78 0h6m19 0h6m1 0h6m310 0h6m12 0h6m-353 4h6m12 0h6m102 0h6m1 0h6m121 0h6m23 0h6m35 0h6m26 0h6m10 0h6m-503 1h6m106 0h6m110 0h6m187 0h6m17 0h6m5 0h6m8 0h6m-493 1h6m72 0h6m64 0h6m57 0h6m23 0h6m59 0h6m26 0h6m3 0h6m-319 4h6m49 0h6m127 0h6m42 0h6m40 0h6m13 0h6m29 0h6m7 0h6m11 0h6m115 0h6m-518 1h6m31 0h6m1 0h6m65 0h6m289 0h6m58 0h6m-348 1h6m20 0h6m42 0h6m6 0h6m40 0h6m80 0h6m107 0h6m-448 4h6m4 0h6m51 0h6m185 0h6m185 0h6m-485 1h6m131 0h6m13 0h6m190 0h6m109 0h6m29 0h6m8 0h6m-530 1h6m80 0h6m60 0h6m101 0h6m17 0h6m14 0h6m70 0h6m13 0h6m-388 4h6m11 0h6m-2 0h6m50 0h6m72 0h6m42 0h6m6 0h6m60 0h6m-259 1h6m103 0h6m23 0h6m55 0h6m-1 0h6m205 0h6m24 0h6m-420 1h6m17 0h6m44 0h6m106 0h6m107 0h6m6 0h6m6 0h6m27 0h6m-2 0h6m85 0h6m-509 4h6m42 0h6m47 0h6m1 0h6m54 0h6m0 0h6m30 0h6m53 0h6m56 0h6m119 0h6m6 0h6m-479 1h6m5 0h6m79 0h6m57 0h6m31 0h6m2 0h6m60 0h6m84 0h6m35 0h6m-420 1h6m0 0h6m119 0h6m188 0h6m51 0h6m14 0h6m1 0h6m5 0h6m-1 0h6m61 0h6" stroke="#c04880"/>
<path d="M199 1743h6m79 0h6m12 0h6m133 0h6m65 0h6m12 0h6m60 0h6m-410 1h6m97 0h6m24 0h6m1 0h6m54 0h6m17 0h6m35 0h6m14 0h6m24 0h6m54 0h6m30 0h6m-398 1h6m14 0h6m102 0h6m11 0h6m49 0h6m54 0h6m24 0h6m41 0h6m-354 4h6m42 0h6m36 0h6m-1 0h6m23 0h6m67 0h6m13 0h6m47 0h6m-1 0h6m25 0h6m55 0h6m16 0h6m36 0h6m26 0h6m40 0h6m-486 1h6m188 0h6m0 0h6m5 0h6m150 0h6m-413 1h6m23 0h6m14 0h6m59 0h6m10 0h6m56 0h6m67 0h6m57 0h6m163 0h6m-294 4h6m21 0h6m125 0h6m79 0h6m-386 1h6m126 0h6m72 0h6m109 0h6m-311 1h6m179 0h6m10 0h6m126 0h6m85 0h6m-516 4h6m2 0h6m18 0h6m-1 0h6m96 0h6m79 0h6m-1 0h6m11 0h6m175 0h6m66 0h6m-516 1h6m332 0h6m71 0h6m6 0h6m19 0h6m-403 1h6m10 0h6m103 0h6m97 0h6m4 0h6m68 0h6m-248 4h6m83 0h6m138 0h6m29 0h6m0 0h6m-327 1h6m106 0h6m62 0h6m83 0h6m-308 1h6m60 0h6m26 0h6m37 0h6m5 0h6m36 0h6m204 0h6m41 0h6m-412 4h6m136 0h6m13 0h6m31 0h6m11 0h6m18 0h6m54 0h6m83 0h6m31 0h6m-480 1h6m14 0h6m42 0h6m87 0h6m1 0h6m168 0h6m43 0h6m-360 1h6m34 0h6m72 0h6m68 0h6m46 0h6m132 0h6m2 0h6m-467 4h6m65 0h6m40 0h6m7 0h6m109 0h6m65 0h6m13 0h6m89 0h6m23 0h6m-418 1h6m53 0h6m115 0h6m30 0h6m83 0h6m78 0h6m65 0h6m-474 1h6m210 0h6m81 0h6m107 0h6m-431 4h6m48 0h6m52 0h6m8 0h6m53 0h6m25 0h6m109 0h6m65 0h6m12 0h6m6 0h6m-428 1h6m50 0h6m4 0h6m63 0h6m58 0h6m7 0h6m47 0h6m0 0h6m121 0h6m49 0h6m-303 1h6m25 0h6m67 0h6m192 0h6" stroke="#3a2a60"/>
<path d="M265 1743h6m35 0h6m39 0h6m65 0h6m88 0h6m-316 1h6m34 0h6m9 0h6m111 0h6m205 0h6m24 0h6m-373 1h6m62 0h6m40 0h6m150 0h6m98 0h6m-260 4h6m53 0h6m259 0h6m-499 1h6m56 0h6m5 0h6m275 0h6m-279 1h6m-110 4h6m2 0h6m348 0h6m-331 1h6m158 0h6m53 0h6m53 0h6m144 0h6m-287 1h6m77 0h6m73 0h6m13 0h6m-336 4h6m82 0h6m170 0h6m53 1h6m133 0h6m-415 1h6m73 0h6m-1 0h6m25 0h6m181 0h6m-369 4h6m228 0h6m66 0h6m180 0h6m-492 1h6m28 0h6m15 0h6m23 0h6m179 0h6m-299 1h6m49 0h6m172 0h6m101 0h6m-219 4h6m46 0h6m121 0h6m29 0h6m63 0h6m9 0h6m6 0h6m1 0h6m-337 1h6m44 0h6m0 0h6m-74 1h6m108 0h6m12 0h6m193 0h6m-431 4h6m83 0h6m163 0h6m-198 1h6m108 0h6m102 0h6m43 0h6m39 0h6m73 0h6m25 0h6m-386 1h6m152 0h6m124 0h6m-64 4h6m-335 1h6m37 0h6m17 0h6m228 0h6m-275 1h6m17 0h6m287 0h6" stroke="#6a5098"/>
<path d="M218 1743h6m47 0h6m-37 1h6m152 0h6m131 0h6m66 0h6m54 0h6m-449 1h6m113 0h6m37 0h6m101 0h6m137 0h6m-383 4h6m198 0h6m10 0h6m84 0h6m43 0h6m-281 1h6m41 0h6m187 0h6m78 0h6m18 0h6m-503 1h6m149 0h6m11 0h6m37 0h6m83 0h6m103 0h6m59 0h6m-328 4h6m7 0h6m228 0h6m4 0h6m-340 1h6m22 0h6m206 0h6m4 0h6m50 0h6m77 0h6m-371 1h6m39 0h6m38 0h6m10 0h6m69 0h6m88 0h6m-292 4h6m76 0h6m20 0h6m47 0h6m77 0h6m104 0h6m-1 0h6m-437 1h6m95 0h6m54 0h6m26 0h6m-152 1h6m144 0h6m72 0h6m6 0h6m61 0h6m-307 4h6m87 0h6m26 0h6m199 0h6m-415 1h6m450 0h6m6 0h6m34 0h6m-351 1h6m95 0h6m42 0h6m61 0h6m93 0h6m14 0h6m-167 4h6m148 0h6m-480 1h6m157 0h6m72 0h6m5 0h6m32 0h6m-265 1h6m36 0h6m30 0h6m102 0h6m-70 4h6m185 0h6m18 0h6m100 0h6m-503 1h6m276 0h6m204 0h6m-376 1h6m35 0h6m42 0h6m161 0h6m67 0h6m-258 4h6m61 0h6m208 0h6m-189 1h6m0 0h6m-229 1h6m55 0h6m196 0h6m50 0h6m30 0h6m11 0h6m6 0h6" stroke="#8a3a70"/>
<path d="M361 1743h6m217 0h6m-164 2h6m121 0h6m-13 4h6m23 0h6m55 0h6m7 0h6m-295 1h6m144 0h6m11 0h6m20 0h6m-336 1h6m403 4h6m-373 1h6m174 0h6m36 0h6m97 0h6m73 0h6m-300 1h6m180 0h6m-288 4h6m412 0h6m-414 1h6m374 0h6m-96 1h6m-265 4h6m275 0h6m-222 1h6m89 0h6m140 0h6m58 0h6m-361 1h6m134 0h6m138 0h6m11 0h6m-430 4h6m34 0h6m332 0h6m-349 1h6m-61 1h6m152 0h6m19 4h6m119 0h6m6 0h6m73 0h6m57 0h6m-276 1h6m-22 1h6m28 0h6m14 4h6m25 0h6m77 0h6m32 1h6m-229 1h6m347 0h6" stroke="#5a70b0"/>
</g>
<rect x="40" y="344" width="1.4" height="37" fill="#fff6f8"/>
<path d="M142.4 278V381.4H36" fill="none" stroke="#d4d0d8" stroke-width="0.8"/>
<path d="M35.6 278V381" fill="none" stroke="#c8c4cc" stroke-width="0.8"/>
<path d="M35.2 277.6H142.8" fill="none" stroke="#a8a4b4" stroke-width="0.9"/>
<path d="M35.6 279.8v1.3M35.6 283.9v1.3M35.6 288.1v1.3M35.6 292.2v1.3M35.6 296.4v1.3M35.6 300.6v1.3M35.6 304.7v1.3M35.6 308.9v1.3M35.6 313v1.3M35.6 317.2v1.3M35.6 321.3v1.3M35.6 325.5v1.3M35.6 329.6v1.3M35.6 333.8v1.3M35.6 337.9v1.3M35.6 342.1v1.3M35.6 346.2v1.3M35.6 350.4v1.3M35.6 354.5v1.3M35.6 358.7v1.3M35.6 362.8v1.3M35.6 367v1.3M35.6 371.1v1.3M35.6 375.2v1.3" stroke="#8a8a8a" stroke-width="1.1" fill="none"/>
<rect x="30" y="280" width="3.6" height="9" fill="#e2e0e6"/>
<rect x="143.5" y="280" width="3.6" height="9" fill="#e2e0e6"/>
<path d="M41 311.7V332" stroke="#1a1a1a" stroke-width="1.3"/>
<path d="M35.2 331L46.8 331L41 343.6Z" fill="#111"/>
<rect x="149" y="278" width="106" height="103" fill="#fff"/>
<path transform="scale(.5)" fill="#4078b8" d="M298 762l0-46 3 1 3-1 3 0 3 0 3-2 3 1 3 0 3 0 3-2 3-1 3 1 3 0 3-1 3-2 3 0 3 1 3-2 3-1 3 1 3 0 3-2 3 0 3 1 3-3 3 1 3 0 3 0 3-3 3-1 3 3 3-2 3-1 3 1 3-3 3 0 3 1 3-2 3 2 3-2 3 0 3 0 3 1 3-3 3 2 3-2 3 0 3-2 3 2 3-2 3 1 3-2 3 0 3 0 3 2 3-2 3 1 3-2 3 0 3 0 3-1 3 2 3-1 3 1 3-2 3-1 3 0 3 2 3 0 3-1 3 0 2-1V762Z"/>
<path transform="scale(.5)" fill="#44aacb" d="M298 762l0-42 3 1 3-2 3 1 3-1 3-1 3 1 3-2 3 1 3-1 3 1 3 0 3 0 3-2 3 1 3-1 3 0 3 1 3 0 3 0 3-3 3 0 3 0 3-1 3 3 3-2 3-1 3 0 3-1 3 1 3 0 3 0 3 1 3-2 3-1 3 1 3 0 3 1 3-1 3-1 3 0 3-1 3 1 3 0 3-1 3 1 3 0 3-1 3 1 3-1 3 1 3-1 3-1 3 0 3 0 3-1 3 2 3-1 3 0 3 0 3-1 3 2 3-2 3 1 3 1 3-1 3 0 3 0 3-1 3 1 3-1 2 0V762Z"/>
<path transform="scale(.5)" fill="#62ae44" d="M298 762l0-38 3 1 3-1 3-1 3 1 3 0 3-2 3 2 3 0 3-1 3-1 3 1 3-1 3 1 3-2 3 2 3 1 3-1 3-2 3 1 3 1 3-1 3 1 3-1 3-1 3 1 3-1 3 1 3-2 3 0 3 2 3-1 3 2 3 0 3-3 3 1 3-1 3 2 3 0 3 0 3 0 3-1 3-2 3 3 3-1 3 0 3-2 3 3 3-3 3 2 3 0 3 1 3-2 3-1 3 1 3 0 3-1 3 0 3 1 3 0 3-1 3 2 3-2 3 0 3-1 3 2 3 0 3-2 3 3 3-2 3 0 2 0V762Z"/>
<path transform="scale(.5)" fill="#f08a3a" d="M298 762l0-29 3-1 3 0 3 0 3-1 3 1 3-3 3 3 3 0 3 0 3-2 3 1 3 0 3 1 3-2 3 1 3 1 3 0 3-1 3 1 3 0 3-1 3 0 3-1 3 1 3-1 3 2 3-1 3-1 3 2 3 0 3 1 3-3 3 2 3-1 3 0 3 0 3 1 3-2 3 0 3 0 3 0 3 2 3-2 3 2 3-2 3 2 3-1 3-1 3 1 3 1 3 1 3-2 3 0 3 0 3-2 3 0 3 2 3 1 3-2 3 0 3 1 3 1 3 0 3 0 3-2 3 2 3-1 3 1 3-1 3-1 2 1V762Z"/>
<path transform="scale(.5)" fill="#e21c2c" d="M298 762l0-27 3 1 3 0 3-2 3 1 3 1 3 0 3-1 3 1 3 0 3-2 3-1 3 1 3 3 3-3 3 2 3-2 3 0 3 0 3 1 3-1 3 0 3 0 3 0 3 2 3 1 3-3 3 1 3-1 3 2 3 0 3-1 3 0 3 1 3 0 3-2 3 0 3-1 3 3 3 0 3-2 3 2 3-2 3 1 3-1 3 0 3 0 3 2 3-2 3 1 3 1 3-2 3 1 3 1 3 0 3-3 3 1 3 1 3 0 3 1 3-1 3 0 3 1 3-2 3 1 3-1 3 2 3-3 3 3 3-2 3 2 2-1V762Z"/>
<path transform="scale(.5)" fill="#b81428" d="M298 762l0-17 3 0 3-2 3 2 3 0 3-2 3 0 3 2 3-2 3 1 3 0 3 1 3 0 3-1 3-1 3 0 3 0 3-1 3 1 3 1 3 1 3-2 3 0 3 1 3 1 3-2 3 2 3-2 3 2 3-2 3 1 3 0 3 1 3-1 3 0 3-1 3 0 3 1 3-1 3 0 3 2 3-1 3 0 3-1 3 1 3 0 3 0 3-1 3 2 3-2 3 2 3 0 3-1 3-1 3 2 3 0 3 0 3-2 3 2 3 0 3-2 3 2 3-1 3 0 3 1 3-2 3 1 3 1 3-1 3-1 3 0 2 1V762Z"/>
<path transform="scale(.5)" fill="#e21c2c" d="M298 762l0-10 3-2 3-1 3 3 3 0 3-2 3 0 3 1 3 1 3 0 3-1 3-2 3 1 3 1 3-1 3 2 3 0 3-1 3 0 3 0 3 0 3 0 3 1 3-1 3 1 3-1 3 1 3-1 3 1 3-2 3 0 3 0 3 1 3 0 3-1 3 2 3-1 3 1 3-2 3 1 3-1 3 1 3-1 3 2 3-2 3 0 3 1 3 2 3-1 3-2 3 1 3 0 3-1 3 2 3 0 3 0 3-1 3-1 3 0 3 3 3-3 3 0 3 1 3 1 3-3 3 2 3 1 3 1 3-1 3 0 3 0 2-1V762Z"/>
<path transform="scale(.5)" fill="#f08aa8" d="M298 762l0-4 3 1 3 1 3-2 3 1 3 1 3-1 3-1 3 0 3 2 3-2 3 0 3 2 3 1 3-2 3-1 3 0 3 1 3 0 3 0 3 0 3-1 3 0 3 2 3 0 3 0 3 1 3-3 3 2 3-1 3 0 3-1 3 0 3 0 3 3 3-2 3-1 3 2 3 0 3 0 3-2 3 0 3 2 3-2 3 2 3 0 3-1 3 1 3-1 3 0 3 0 3 1 3-1 3 2 3-1 3 0 3-2 3 2 3-2 3 1 3-1 3 2 3-1 3 1 3 0 3-2 3 0 3 0 3 2 3-1 3-1 2 1V762Z"/>
<g transform="scale(.2)" stroke-width="6" fill="none">
<path d="M1195 1736h6m72 0h6m-23 12h6m0 0h6m-65 6h6m48 0h6m-234 6h6m90 0h6m12 0h6m84 0h6m-306 18h6m72 0h6m84 0h6m-181 6h6" stroke="#c05088"/>
<path d="M1201 1736h6m18 0h6m-57 6h6m-55 12h6m24 6h6m-216 6h6m90 0h6m144 0h6m24 0h6m30 0h6m-307 6h6m6 0h6m60 0h6m96 0h6m78 0h6m-359 6h6m-31 6h6m66 0h6m12 0h6m-59 6h6m-80 6h6m12 0h6" stroke="#70a0d0"/>
<path d="M1207 1736h6m54 0h6m-111 6h6m36 0h6m-86 6h6m-95 6h6m24 0h6m30 0h6m42 0h6m-162 6h6m36 0h6m0 0h6m36 0h6m6 0h6m60 0h6m-228 6h6m36 0h6m30 0h6m90 0h6m6 0h6m6 0h6m42 0h6m36 0h6m-295 6h6m18 0h6m30 0h6m18 0h6m0 0h6m114 0h6m96 0h6m-371 6h6m114 0h6m6 0h6m48 0h6m18 0h6m-211 6h6m66 0h6m-179 6h6m48 0h6m18 0h6m12 0h6m-140 6h6m6 0h6m24 0h6m0 0h6m12 0h6" stroke="#40a8c0"/>
<path d="M1213 1736h6m-111 6h6m6 0h6m114 0h6m-176 6h6m24 0h6m12 0h6m-83 6h6m90 0h6m-168 6h6m126 0h6m18 0h6m78 0h6m-270 6h6m18 0h6m270 0h6m-271 6h6m60 0h6m48 0h6m12 0h6m48 0h6m-269 6h6m30 0h6m24 0h6m90 0h6m42 0h6m30 0h6m-97 6h6m12 0h6m-233 6h6m54 0h6m186 0h6m-338 6h6m72 0h6m0 0h6m24 0h6m6 0h6m108 0h6m0 0h6m168 0h6m12 0h6m-430 6h6m78 0h6m114 0h6m36 0h6m54 0h6m30 0h6" stroke="#6a5aa8"/>
<path d="M1261 1736h6m-9 6h6m-200 6h6m78 0h6m-137 6h6m144 0h6m48 0h6m-246 6h6m78 0h6m78 0h6m-108 6h6m30 0h6m30 0h6m48 0h6m-163 6h6m120 0h6m-149 6h6m18 0h6m24 0h6m24 0h6m-187 6h6m-113 6h6m36 0h6m-74 6h6" stroke="#3060a8"/>
<path d="M1114 1742h6m18 0h6m0 0h6m48 0h6m6 0h6m0 0h6m12 0h6m6 0h6m-176 6h6m0 0h6m19 6h6m-90 6h6m42 0h6m96 0h6m0 0h6m54 0h6m0 0h6m0 0h6m-234 6h6m36 0h6m60 0h6m6 0h6m30 0h6m24 0h6m24 0h6m18 0h6m-373 6h6m102 0h6m48 0h6m6 0h6m6 0h6m42 0h6m-167 6h6m84 0h6m24 0h6m48 0h6m6 0h6m-187 6h6m210 0h6m-371 6h6m222 0h6m-314 6h6m168 0h6m24 0h6m36 0h6m72 0h6m36 0h6m-184 6h6m168 0h6m-229 6h6" stroke="#2a3a80"/>
<path d="M1131 1778h6m48 0h6m0 0h6m24 0h6m36 0h6m-223 6h6m30 0h6m48 0h6m24 0h6m66 0h6m-335 6h6m24 0h6m18 0h6m0 0h6m12 0h6m0 0h6m102 0h6m42 0h6m30 0h6m42 0h6m12 0h6m-410 6h6m48 0h6m30 0h6m54 0h6m48 0h6m24 0h6m66 0h6m48 0h6m42 0h6m-496 6h6m18 0h6m12 0h6m24 0h6m96 0h6m0 0h6m0 0h6m18 0h6m96 0h6m72 0h6m-391 6h6m36 0h6m12 0h6" stroke="#3a78b8"/>
<path d="M1149 1778h6m18 0h6m90 0h6m-289 6h6m0 0h6m6 0h6m42 0h6m54 0h6m6 0h6m0 0h6m60 0h6m18 0h6m18 0h6m-275 6h6m42 0h6m6 0h6m42 0h6m72 0h6m6 0h6m60 0h6m24 0h6m-440 6h6m12 0h6m18 0h6m6 0h6m36 0h6m78 0h6m54 0h6m42 0h6m6 0h6m18 0h6m12 0h6m6 0h6m66 0h6m-454 6h6m30 0h6m18 0h6m24 0h6m102 0h6m114 0h6m12 0h6m18 0h6m-415 6h6m24 0h6m96 0h6" stroke="#78c0d8"/>
<path d="M1106 1784h6m60 0h6m6 0h6m-185 6h6m36 0h6m72 0h6m-176 6h6m84 0h6m48 0h6m108 0h6m6 0h6m-472 6h6m240 0h6m156 0h6m-397 6h6m24 0h6m60 0h6" stroke="#4a9a80"/>
<path d="M1185 1802h6m-229 6h6m30 0h6m54 0h6m132 0h6m18 0h6m30 0h6m-484 6h6m18 0h6m84 0h6m54 0h6m78 0h6m0 0h6m42 0h6m42 0h6m126 0h6m-493 6h6m0 0h6m6 0h6m42 0h6m18 0h6m12 0h6m6 0h6m0 0h6m198 0h6m42 0h6m90 0h6m-313 6h6m24 0h6m12 0h6m102 0h6m36 0h6m36 0h6m0 0h6m60 0h6" stroke="#3f8a3a"/>
<path d="M1215 1802h6m6 0h6m-325 6h6m72 0h6m0 0h6m48 0h6m30 0h6m102 0h6m-412 6h6m24 0h6m6 0h6m30 0h6m42 0h6m96 0h6m54 0h6m30 0h6m108 0h6m6 0h6m6 0h6m-505 6h6m0 0h6m72 0h6m24 0h6m108 0h6m6 0h6m0 0h6m90 0h6m60 0h6m24 0h6m42 0h6m30 0h6m-493 6h6m36 0h6m24 0h6m12 0h6m6 0h6m36 0h6m150 0h6m0 0h6m6 0h6m48 0h6m24 0h6m24 0h6" stroke="#98c850"/>
<path d="M1040 1808h6m120 0h6m-340 6h6m186 0h6m36 0h6m48 0h6m-205 6h6m210 0h6m6 0h6m42 0h6m-457 6h6m18 0h6m126 0h6m6 0h6m24 0h6m120 0h6m192 0h6" stroke="#40a0a0"/>
<path d="M1070 1808h6m168 0h6m-484 6h6m0 0h6m90 0h6m174 0h6m90 0h6m18 0h6m78 0h6m-451 6h6m246 0h6m78 0h6m54 0h6m6 0h6m24 0h6m-445 6h6m30 0h6m18 0h6m120 0h6m6 0h6m240 0h6" stroke="#c0d048"/>
<path d="M747 1832h6m96 0h6m6 0h6m6 0h6m6 0h6m6 0h6m120 0h6m18 0h6m0 0h6m54 0h6m36 0h6m54 0h6m30 0h6" stroke="#62ae44"/>
<path d="M831 1832h6m222 0h6m18 0h6m-301 6h6m306 0h6m36 0h6m-402 6h6m6 0h6m24 0h6m12 0h6m6 0h6m0 0h6m18 0h6m48 0h6m18 0h6m42 0h6m36 0h6m144 0h6m42 0h6m24 0h6" stroke="#f08a3a"/>
<path d="M746 1838h6m6 0h6m6 0h6m6 0h6m66 0h6m0 0h6m0 0h6m36 0h6m18 0h6m0 0h6m0 0h6m12 0h6m0 0h6m12 0h6m6 0h6m0 0h6m30 0h6m6 0h6m6 0h6m0 0h6m0 0h6m0 0h6m0 0h6m12 0h6m0 0h6m36 0h6m18 0h6m36 0h6m6 0h6m0 0h6m-492 30h6m6 0h6m6 0h6m12 0h6m18 0h6m12 0h6m36 0h6m18 0h6m18 0h6m6 0h6m48 0h6m42 0h6m18 0h6m12 0h6m60 0h6m0 0h6m18 0h6m12 0h6m60 0h6m-514 12h6m12 0h6m42 0h6m6 0h6m30 0h6m90 0h6m6 0h6m12 0h6m24 0h6m18 0h6m48 0h6m12 0h6m12 0h6m36 0h6m66 0h6m-486 24h6m18 0h6m48 0h6m18 0h6m42 0h6m18 0h6m36 0h6m12 0h6m24 0h6m6 0h6m0 0h6m12 0h6m78 0h6m0 0h6m0 0h6m12 0h6m12 0h6m6 0h6m0 0h6m36 0h6" stroke="#e21c2c"/>
<path d="M860 1844h6m198 0h6m-161 6h6m30 0h6m222 0h6m0 0h6m-265 6h6m42 0h6m222 0h6m-409 6h6m114 0h6m138 0h6m204 0h6m-474 24h6m24 0h6m150 0h6m36 0h6m18 0h6m30 0h6m72 0h6m-153 6h6m30 0h6m-186 6h6m48 0h6m6 0h6m12 0h6m24 0h6m192 0h6m24 0h6" stroke="#b81030"/>
<path d="M763 1862h6m18 0h6m36 0h6m24 0h6m60 0h6m12 0h6m0 0h6m48 0h6m36 0h6m0 0h6m24 0h6m18 0h6m12 0h6m30 0h6m12 0h6m0 0h6m0 0h6m12 0h6m6 0h6m0 0h6m24 0h6m12 0h6m-486 24h6m6 0h6m42 0h6m12 0h6m0 0h6m120 0h6m72 0h6m6 0h6m0 0h6m0 0h6m114 0h6m18 0h6" stroke="#b81428"/>
<path d="M944 1868h6m120 0h6m12 0h6m12 0h6m-205 6h6m282 0h6m-171 6h6m18 0h6m138 0h6" stroke="#d01a30"/>
<path d="M790 1898h6m0 0h6m6 0h6m6 0h6m0 0h6m6 0h6m0 0h6m6 0h6m30 0h6m0 0h6m0 0h6m72 0h6m54 0h6m30 0h6m24 0h6m0 0h6m12 0h6m36 0h6m24 0h6m42 0h6m6 0h6m-438 6h6m0 0h6m252 0h6m150 0h6" stroke="#f08aa8"/>
<path d="M933 1407h6m137 12h6m-142 8h6m-12 6h6m106 5h6m-70 43h6m-168 23h6m281 0h6m-102 6h6m154 12h6m62 1h6m-256 5h6m214 11h6m-241 6h6m37 0h6m-223 2h6m32 10h6m113 2h6m2 0h6m274 6h6m14 6h6m-424 6h6m192 0h6m-118 4h6m193 1h6m-145 1h6m248 0h6m-458 5h6m20 0h6m340 1h6m-317 4h6m330 0h6m-139 1h6m-127 7h6m265 0h6m-1 4h6m-71 1h6m-318 1h6m-20 5h6m294 0h6m-122 5h6m138 1h6m-295 1h6m78 0h6m247 0h6m5 0h6m1 0h6m-312 5h6m42 0h6m149 0h6m71 0h6m-353 1h6m336 0h6m71 4h6m-30 1h6m-186 1h6m42 0h6m113 0h6m-249 4h6m47 0h6m-193 1h6m174 0h6m32 0h6m16 0h6m61 0h6m-379 1h6m175 0h6m-61 5h6m128 1h6m-254 4h6m12 0h6m101 0h6m7 0h6m71 1h6m-79 5h6m3 0h6m52 2h6m-192 5h6m-43 1h6m23 4h6m-66 1h6m110 1h6" stroke="#c84880"/>
<path d="M970 1407h6m293 31h6m-96 12h6m-79 24h6m13 7h6m-107 5h6m-136 12h6m-125 1h6m253 24h6m126 0h6m-112 4h6m61 1h6m64 7h6m25 6h6m-66 17h6m97 1h6m-248 5h6m24 1h6m-208 4h6m298 0h6m37 1h6m-60 1h6m-13 4h6m-400 13h6m233 1h6m259 0h6m-140 4h6m-91 1h6m146 0h6m24 5h6m-456 1h6m228 0h6m-254 1h6m284 0h6m76 0h6m128 0h6m-272 4h6m-72 1h6m36 0h6m28 1h6m224 0h6m-18 4h6m-391 1h6m204 0h6m48 0h6m55 0h6m60 1h6m18 0h6m-81 4h6m-74 2h6m-342 4h6m211 1h6m-11 1h6m60 0h6m-63 4h6m12 0h6m188 0h6m-313 1h6m53 0h6m197 1h6m19 0h6m7 0h6m40 0h6m1 0h6m-394 4h6m35 0h6m163 0h6m18 0h6m-301 1h6m368 0h6m-2 0h6m-347 5h6m113 0h6m115 0h6m-283 2h6m293 0h6m-71 4h6m-289 6h6m20 0h6m30 0h6m46 0h6m26 0h6m76 0h6m-78 1h6m-132 1h6m25 4h6m66 0h6m17 0h6m24 0h6m-109 2h6m-11 4h6m1 1h6m-76 7h6" stroke="#f090bc"/>
<path d="M747 1415h6m425 52h6m-186 8h6m-245 52h6m294 14h6m-205 5h6m43 11h6m125 6h6m61 0h6m-60 2h6m95 12h6m51 5h6m-164 7h6m-222 4h6m91 7h6m193 0h6m21 0h6m-359 6h6m336 5h6m-42 2h6m-215 5h6m336 1h6m-431 4h6m167 0h6m36 0h6m49 0h6m-158 1h6m313 1h6m-519 4h6m342 0h6m115 0h6m-11 2h6m-162 4h6m66 0h6m-204 1h6m56 0h6m166 0h6m-192 1h6m78 0h6m-210 4h6m168 0h6m-114 1h6m59 0h6m20 0h6m-240 1h6m144 0h6m-15 12h6m-54 4h6m-17 2h6m-6 6h6" stroke="#9a6080"/>
<path d="M901 1413h6m-47 18h6m193 26h6m-55 59h6m-7 5h6m133 2h6m-342 11h6m133 0h6m30 0h6m228 12h6m10 6h6m-270 12h6m280 7h6m-442 4h6m314 14h6m-61 5h6m74 5h6m11 0h6m-97 2h6m90 4h6m-37 2h6m-324 4h6m361 0h6m-1 2h6m-292 4h6m36 0h6m-28 6h6m214 0h6m26 0h6m-424 6h6m183 0h6m112 0h6m35 2h6m-140 4h6m142 0h6m-16 1h6m-374 5h6m11 0h6m108 2h6m189 0h6m-44 5h6m-1 1h6m-223 4h6m-17 1h6m-17 1h6m107 4h6m-89 1h6m42 1h6m-103 4h6m-20 1h6" stroke="#f4c0d8"/>
<path d="M1229 1635h6m-36 1h6m-14 6h6m18 0h6m5 5h6m-121 1h6m32 0h6m112 0h6m-137 1h6m-11 4h6m67 0h6m-182 1h6m72 0h6m44 0h6m76 0h6m24 0h6m-114 1h6m-208 4h6m70 0h6m-89 1h6m37 0h6m40 0h6m71 0h6m-102 1h6m187 0h6m37 0h6m-255 4h6m50 0h6m6 0h6m64 0h6m-244 1h6m65 0h6m36 0h6m54 0h6m65 0h6m80 0h6m-126 1h6m71 0h6m0 0h6m67 0h6m-443 4h6m78 0h6m158 0h6m41 0h6m84 0h6m-349 1h6m48 0h6m25 0h6m197 0h6m61 0h6m-384 1h6m35 0h6m48 0h6m48 0h6m110 0h6m-1 0h6m24 0h6m-284 4h6m0 0h6m143 0h6m38 0h6m77 0h6m92 0h6m-1 0h6m-450 1h6m124 0h6m108 0h6m200 0h6m-449 1h6m17 0h6m264 0h6m12 0h6m49 0h6m-446 4h6m16 0h6m61 0h6m107 0h6m115 0h6m17 0h6m61 0h6m-389 1h6m28 0h6m60 0h6m195 0h6m46 0h6m13 0h6m12 0h6m-367 1h6m97 0h6m-1 0h6m185 0h6m33 0h6m45 0h6m21 0h6m-469 4h6m114 0h6m25 0h6m8 0h6m94 0h6m66 0h6m13 0h6m59 0h6m55 0h6m-192 1h6m70 0h6m91 0h6m-390 1h6m48 0h6m37 0h6m30 0h6m82 0h6m19 0h6m96 0h6m12 0h6m-468 4h6m17 0h6m211 0h6m41 0h6m85 0h6m24 0h6m25 0h6m17 0h6m6 0h6m1 0h6m-408 1h6m34 0h6m49 0h6m24 0h6m85 0h6m35 0h6m42 0h6m95 0h6m-454 1h6m46 0h6m7 0h6m127 0h6m35 0h6m1 0h6m179 0h6m29 0h6m-275 4h6m37 0h6m72 0h6m-281 1h6m24 0h6m0 0h6m16 0h6m98 0h6m83 0h6m77 0h6m-383 1h6m12 0h6m-1 0h6m85 0h6m-38 4h6m-132 1h6m42 0h6m49 0h6m10 0h6m19 0h6m12 0h6m13 0h6m4 0h6m-193 1h6m9 0h6m-1 0h6m191 0h6m25 0h6m-136 4h6m40 0h6m20 0h6m41 0h6m14 0h6m-265 1h6m88 0h6m6 0h6m31 0h6m54 0h6m6 0h6m66 0h6m14 0h6m-235 1h6m30 0h6m7 0h6m-63 4h6m120 0h6m37 0h6m-157 1h6m72 0h6m7 0h6m-91 1h6m114 0h6m37 0h6m-217 4h6m104 1h6m-127 1h6m18 0h6m7 0h6m29 0h6m0 0h6m-4 4h6m-3 0h6m44 0h6m-125 1h6m72 0h6m10 0h6m23 0h6m-144 1h6m13 0h6m30 0h6m0 0h6m-1 0h6m-56 4h6m12 0h6m49 0h6m0 0h6m-77 1h6m43 0h6m-92 1h6m-1 0h6m63 5h6m0 0h6m0 0h6m-45 5h6m-65 1h6m5 0h6m18 1h6m13 0h6m-46 4h6" stroke="#c83c78"/>
<path d="M1270 1636h6m-73 1h6m36 0h6m-11 4h6m12 1h6m-121 1h6m38 0h6m-33 4h6m-13 1h6m14 0h6m34 0h6m30 0h6m-180 1h6m62 0h6m41 0h6m-95 4h6m138 0h6m-168 1h6m6 0h6m17 0h6m50 0h6m10 0h6m-156 1h6m-47 4h6m54 0h6m179 0h6m-1 0h6m-238 1h6m54 0h6m-108 1h6m113 0h6m47 0h6m6 0h6m6 0h6m2 0h6m-116 4h6m59 0h6m38 0h6m-270 1h6m24 0h6m138 0h6m125 0h6m-125 1h6m35 0h6m13 0h6m0 0h6m-285 4h6m23 0h6m73 0h6m96 0h6m46 0h6m-244 1h6m102 0h6m30 0h6m111 0h6m-273 1h6m59 0h6m126 0h6m35 0h6m12 0h6m92 0h6m3 0h6m-529 4h6m248 0h6m142 0h6m51 0h6m33 0h6m-395 1h6m31 0h6m149 0h6m6 0h6m110 0h6m-249 1h6m31 0h6m14 0h6m94 0h6m113 0h6m38 0h6m-512 4h6m55 0h6m432 0h6m17 0h6m-408 1h6m25 0h6m0 0h6m25 0h6m21 0h6m78 0h6m1 0h6m139 0h6m17 0h6m5 0h6m36 0h6m-484 1h6m54 0h6m0 0h6m107 0h6m62 0h6m24 0h6m106 0h6m73 0h6m-394 4h6m41 0h6m11 0h6m188 0h6m40 0h6m20 0h6m-276 1h6m65 0h6m7 0h6m11 0h6m151 0h6m-361 1h6m-1 0h6m51 0h6m57 0h6m42 0h6m8 0h6m16 0h6m0 0h6m8 0h6m88 0h6m56 0h6m11 0h6m25 0h6m-494 4h6m25 0h6m7 0h6m29 0h6m47 0h6m48 0h6m2 0h6m-2 0h6m25 0h6m49 0h6m126 0h6m0 0h6m-2 0h6m50 0h6m-338 1h6m86 0h6m30 0h6m35 0h6m144 0h6m-449 1h6m96 0h6m155 0h6m7 0h6m35 0h6m113 0h6m-447 4h6m9 0h6m121 0h6m139 0h6m59 0h6m0 0h6m5 0h6m-341 1h6m56 0h6m34 0h6m12 0h6m14 0h6m30 0h6m-103 1h6m12 0h6m82 0h6m15 0h6m76 0h6m13 0h6m-374 4h6m161 0h6m1 0h6m18 0h6m25 0h6m10 0h6m42 0h6m24 0h6m-113 1h6m77 0h6m5 0h6m1 0h6m-238 1h6m28 0h6m13 0h6m65 0h6m49 0h6m-269 4h6m50 0h6m96 0h6m16 0h6m55 0h6m-215 1h6m214 0h6m-275 1h6m54 0h6m59 0h6m7 0h6m42 0h6m71 0h6m-282 4h6m22 0h6m98 0h6m5 0h6m-137 1h6m103 0h6m23 0h6m89 0h6m-196 1h6m4 0h6m66 0h6m91 0h6m-234 4h6m18 0h6m95 0h6m-119 1h6m53 1h6m18 0h6m56 0h6m-2 0h6m6 0h6m1 0h6m20 0h6m-187 4h6m40 0h6m69 0h6m-133 1h6m-30 1h6m148 0h6m-155 4h6m4 1h6m18 0h6m43 0h6m23 0h6m12 0h6m-95 1h6m90 0h6m-149 4h6m4 0h6m55 0h6m-1 0h6m-64 1h6m6 1h6m-9 4h6m18 0h6m-59 2h6m1 4h6" stroke="#e878a8"/>
<path d="M1258 1635h6m-132 8h6m24 0h6m-1 4h6m36 0h6m-84 1h6m-83 5h6m-42 1h6m101 0h6m37 0h6m54 1h6m-207 4h6m-48 6h6m264 0h6m-367 1h6m38 0h6m52 0h6m55 0h6m125 0h6m67 0h6m-343 1h6m32 0h6m98 4h6m43 0h6m17 0h6m47 0h6m55 0h6m-271 1h6m-78 5h6m222 0h6m49 0h6m18 0h6m-1 0h6m-372 1h6m-79 1h6m188 0h6m21 4h6m175 1h6m-271 1h6m323 0h6m-274 4h6m260 0h6m-109 1h6m54 0h6m42 0h6m-475 1h6m84 0h6m92 0h6m184 0h6m54 0h6m-394 4h6m251 0h6m43 0h6m23 0h6m-227 1h6m198 0h6m5 0h6m-426 5h6m282 0h6m140 0h6m-120 2h6m-196 4h6m96 0h6m97 0h6m-157 1h6m98 0h6m-202 5h6m35 0h6m17 1h6m60 0h6m-181 1h6m243 0h6m-284 4h6m35 0h6m19 0h6m95 0h6m-185 1h6m23 0h6m132 1h6m37 4h6m-79 1h6m55 0h6m-209 1h6m82 0h6m-83 4h6m41 0h6m3 2h6m63 0h6m-78 4h6m41 0h6m-82 2h6m10 4h6m-22 1h6m-18 1h6m4 4h6m1 0h6m12 1h6m-66 5h6" stroke="#7a2a58"/>
<path d="M1256 1653h6m-250 1h6m232 1h6m-287 4h6m39 6h6m-119 2h6m139 0h6m-76 4h6m281 0h6m-65 1h6m-335 1h6m-106 4h6m145 0h6m306 0h6m-492 2h6m55 0h6m287 0h6m101 4h6m-41 2h6m66 0h6m-179 4h6m-132 1h6m168 0h6m-89 1h6m-31 4h6m155 0h6m-280 1h6m-138 5h6m132 1h6m54 0h6m78 0h6m41 0h6m-80 5h6m13 0h6m0 1h6m-96 1h6m8 4h6m19 0h6m39 1h6m-178 5h6m94 0h6m18 0h6m-36 1h6m-186 1h6m53 0h6m103 0h6m-41 6h6m-97 4h6m72 0h6m-67 6h6m-108 2h6m5 0h6m68 0h6m-83 4h6m71 2h6m-86 5h6m1 5h6m1 0h6" stroke="#3a3068"/>
<path d="M1211 1701h6m11 0h6m-48 1h6m42 0h6m23 0h6m-70 1h6m-15 4h6m43 2h6m-163 5h6m38 0h6m28 0h6m25 1h6m60 0h6m-1 0h6m-168 4h6m-96 1h6m194 0h6m24 0h6m-188 1h6m47 0h6m68 0h6m29 0h6m-94 4h6m90 0h6m5 0h6m12 0h6m-233 1h6m196 0h6m-237 1h6m10 0h6m199 0h6m-300 4h6m54 0h6m10 0h6m38 0h6m18 0h6m11 0h6m133 0h6m-282 1h6m36 0h6m133 0h6m54 0h6m-264 1h6m70 0h6m13 0h6m-92 4h6m52 0h6m19 0h6m74 0h6m93 0h6m-264 1h6m110 0h6m126 0h6m16 0h6m2 0h6m-295 1h6m90 0h6m-120 4h6m116 0h6m30 0h6m58 0h6m-192 1h6m162 0h6m-156 1h6m-108 4h6m11 0h6m7 0h6m23 0h6m145 0h6m-257 2h6m120 0h6m48 0h6m5 0h6m-247 4h6m51 0h6m180 0h6m-169 1h6m71 0h6m54 0h6m-172 1h6m204 0h6m-295 4h6m161 0h6m-154 1h6m78 0h6m29 0h6m20 0h6m-132 1h6m0 0h6m-2 0h6m12 0h6m2 0h6m27 4h6m-96 1h6m18 0h6m17 0h6m12 0h6m7 0h6m49 0h6m-122 1h6m150 0h6m-196 4h6m84 0h6m-34 1h6m64 0h6m-73 1h6m13 0h6m13 5h6m-102 5h6m1 2h6m24 0h6m-58 4h6m2 0h6m22 0h6m0 0h6" stroke="#8a3a70"/>
<path d="M1192 1701h6m-80 6h6m-1 0h6m42 0h6m32 0h6m45 0h6m-82 2h6m8 4h6m-26 1h6m26 0h6m-128 1h6m-77 4h6m24 0h6m127 0h6m81 0h6m-191 1h6m110 0h6m-13 1h6m35 0h6m-160 4h6m113 0h6m65 1h6m-298 1h6m0 0h6m113 0h6m43 0h6m0 0h6m78 4h6m-140 1h6m38 0h6m40 0h6m-256 1h6m108 0h6m77 0h6m102 0h6m-342 4h6m45 1h6m117 0h6m24 0h6m76 0h6m6 0h6m-151 1h6m49 0h6m37 0h6m-301 4h6m84 0h6m102 0h6m-59 1h6m-119 1h6m28 0h6m122 0h6m-147 5h6m32 0h6m-116 1h6m38 0h6m4 0h6m31 0h6m41 0h6m-46 4h6m-151 1h6m55 0h6m-73 1h6m180 0h6m-113 4h6m79 0h6m13 0h6m-159 2h6m85 4h6m24 0h6m-180 1h6m156 0h6m-140 1h6m2 0h6m-54 5h6m37 0h6m82 0h6m7 1h6m-124 4h6m17 0h6m-24 1h6m1 0h6m-3 12h6" stroke="#6a5098"/>
<path d="M1203 1703h6m62 0h6m-81 4h6m-97 1h6m0 0h6m109 0h6m-1 0h6m8 1h6m-174 4h6m53 0h6m8 0h6m95 0h6m-161 1h6m30 0h6m19 0h6m9 1h6m48 0h6m8 0h6m-1 0h6m-209 4h6m83 0h6m115 0h6m-228 1h6m89 0h6m-66 1h6m82 0h6m8 0h6m-121 4h6m6 0h6m12 0h6m0 0h6m19 0h6m5 0h6m12 0h6m-102 1h6m7 0h6m43 0h6m5 0h6m90 0h6m-186 1h6m137 0h6m24 0h6m-255 4h6m-3 0h6m109 0h6m13 0h6m11 0h6m125 0h6m-232 1h6m101 0h6m-163 1h6m24 0h6m164 0h6m12 0h6m-272 4h6m-31 1h6m54 0h6m90 0h6m104 0h6m-236 1h6m79 0h6m23 0h6m-160 4h6m36 0h6m52 0h6m54 0h6m55 0h6m-1 0h6m-179 1h6m131 1h6m-239 4h6m58 0h6m-95 1h6m29 0h6m213 0h6m-243 1h6m187 0h6m6 0h6m-1 0h6m-239 4h6m80 0h6m0 0h6m60 0h6m-1 0h6m25 0h6m-206 1h6m212 0h6m-111 1h6m14 0h6m18 0h6m-192 4h6m23 0h6m31 0h6m79 0h6m-102 1h6m131 0h6m-202 1h6m83 0h6m-1 0h6m-120 4h6m149 0h6m5 0h6m-165 1h6m70 0h6m5 0h6m-76 1h6m43 0h6m95 0h6m-115 4h6m-53 1h6m84 0h6m19 0h6m6 0h6m-164 1h6m110 0h6m7 0h6m-101 4h6m64 0h6m8 0h6m-1 0h6m-68 1h6m61 0h6m-42 1h6m-22 4h6" stroke="#3a2a60"/>
<path d="M1246 1701h6m0 0h6m0 0h6m-41 1h6m9 1h6m-67 4h6m85 0h6m-113 1h6m0 0h6m41 0h6m30 0h6m0 0h6m-120 1h6m55 0h6m-149 4h6m35 0h6m13 0h6m16 0h6m86 0h6m30 0h6m-212 1h6m98 0h6m12 0h6m23 0h6m0 0h6m-115 1h6m42 4h6m-46 1h6m17 0h6m109 0h6m-187 1h6m67 0h6m16 0h6m-171 4h6m179 0h6m-205 1h6m25 0h6m41 0h6m-108 1h6m11 0h6m49 0h6m91 0h6m42 0h6m54 0h6m-2 0h6m8 0h6m-288 4h6m49 0h6m190 0h6m23 0h6m-328 1h6m106 0h6m27 0h6m64 0h6m-1 0h6m104 0h6m-299 1h6m41 0h6m35 0h6m30 0h6m107 0h6m-248 4h6m102 0h6m60 0h6m-191 1h6m168 0h6m13 0h6m30 0h6m-209 1h6m-1 0h6m-1 0h6m8 0h6m96 0h6m64 0h6m48 0h6m-365 4h6m11 0h6m144 0h6m50 0h6m29 0h6m-227 1h6m59 0h6m1 0h6m-127 1h6m11 0h6m20 0h6m11 0h6m36 0h6m48 0h6m30 0h6m41 0h6m19 0h6m11 0h6m-318 4h6m126 0h6m1 0h6m-96 1h6m113 0h6m32 0h6m22 0h6m-59 1h6m-17 4h6m4 0h6m-245 1h6m12 0h6m133 0h6m-115 1h6m23 0h6m12 0h6m18 0h6m18 0h6m31 0h6m30 0h6m-240 4h6m97 0h6m19 0h6m5 0h6m24 0h6m24 0h6m25 0h6m-187 1h6m89 0h6m30 0h6m-180 1h6m180 0h6m-72 4h6m-138 1h6m108 0h6m36 0h6m-156 5h6m6 0h6m8 0h6m10 0h6m-12 1h6m-10 1h6m-42 4h6m-13 1h6m92 0h6m-92 1h6m56 0h6m6 0h6m-92 4h6m18 0h6m1 0h6m24 0h6m24 0h6m-43 2h6m8 0h6m-53 4h6m25 0h6m-31 1h6m-22 1h6m-2 0h6m26 0h6" stroke="#c04880"/>
<path d="M1134 1707h6m13 1h6m-89 7h6m-43 4h6m206 0h6m-163 1h6m13 0h6m115 0h6m-164 1h6m19 0h6m37 0h6m-50 5h6m68 1h6m30 4h6m-2 0h6m42 1h6m-221 1h6m71 0h6m14 0h6m-218 4h6m47 0h6m247 0h6m-332 1h6m186 0h6m-75 5h6m0 0h6m-32 1h6m-10 1h6m143 0h6m-242 4h6m61 0h6m38 0h6m-159 1h6m175 0h6m-114 1h6m-106 5h6m107 0h6m-126 1h6m-6 5h6m96 1h6m44 0h6m-129 4h6m0 0h6m8 1h6m-75 1h6m3 5h6m12 0h6m0 1h6m17 0h6m-119 6h6m55 0h6m-50 6h6m3 0h6m28 0h6m2 0h6" stroke="#5a70b0"/>
</g>
<rect x="151.8" y="344" width="1.4" height="37" fill="#fff6f8"/>
<path d="M255.4 278V381.4H149" fill="none" stroke="#d4d0d8" stroke-width="0.8"/>
<path d="M148.6 278V381" fill="none" stroke="#c8c4cc" stroke-width="0.8"/>
<path d="M148.2 277.6H255.8" fill="none" stroke="#a8a4b4" stroke-width="0.9"/>
<path d="M148.6 279.8v1.3M148.6 283.9v1.3M148.6 288.1v1.3M148.6 292.2v1.3M148.6 296.4v1.3M148.6 300.6v1.3M148.6 304.7v1.3M148.6 308.9v1.3M148.6 313v1.3M148.6 317.2v1.3M148.6 321.3v1.3M148.6 325.5v1.3M148.6 329.6v1.3M148.6 333.8v1.3M148.6 337.9v1.3M148.6 342.1v1.3M148.6 346.2v1.3M148.6 350.4v1.3M148.6 354.5v1.3M148.6 358.7v1.3M148.6 362.8v1.3M148.6 367v1.3M148.6 371.1v1.3M148.6 375.2v1.3" stroke="#8a8a8a" stroke-width="1.1" fill="none"/>
<rect x="143" y="280" width="3.6" height="9" fill="#e2e0e6"/>
<rect x="256.5" y="280" width="3.6" height="9" fill="#e2e0e6"/>
<path d="M153.5 311.7V333" stroke="#1a1a1a" stroke-width="1.3"/>
<path d="M147.7 332L159.3 332L153.5 344.5Z" fill="#111"/>
<rect x="36" y="398" width="106" height="105" fill="#fff"/>
<path transform="scale(.5)" fill="#4078b8" d="M72 1006l0-67 3-2 3 0 3 0 3 0 3 2 3 0 3-1 3 1 3-2 3 2 3-1 3-1 3 2 3-1 3 0 3 0 3-1 3 2 3-1 3-1 3 2 3-2 3 1 3 0 3 2 3-3 3 0 3 1 3 0 3-1 3 1 3-1 3 2 3-1 3 0 3 1 3 0 3-1 3-1 3 0 3 2 3 0 3 0 3 0 3-2 3 0 3 0 3 0 3 3 3-4 3 1 3 2 3-1 3-1 3 2 3-2 3 1 3 2 3-2 3 1 3 0 3 0 3-2 3 2 3-1 3 1 3-2 3 1 3 1 3-2 2 1V1006Z"/>
<path transform="scale(.5)" fill="#44aacb" d="M72 1006l0-54 3 0 3 0 3-1 3 0 3 0 3 1 3 0 3 0 3-1 3 2 3 0 3-2 3 1 3-1 3 0 3 2 3 0 3-1 3 1 3-1 3 0 3 2 3-2 3-1 3 0 3 0 3 1 3-1 3 2 3-2 3 2 3 0 3-1 3 0 3 2 3-3 3 2 3 1 3-3 3 1 3 0 3 1 3 0 3 0 3 0 3 0 3-1 3 1 3-2 3 0 3 1 3-1 3 0 3 2 3 0 3 0 3-1 3 0 3 0 3 1 3 0 3 0 3 0 3-2 3 1 3 1 3-2 3 2 3-2 3 2 2-1V1006Z"/>
<path transform="scale(.5)" fill="#62ae44" d="M72 1006l0-45 3 1 3-1 3 0 3 0 3-2 3 2 3-1 3 0 3 0 3 0 3 2 3-3 3 1 3 1 3-2 3 1 3 2 3-3 3-1 3 2 3 1 3 0 3-2 3 2 3 0 3-1 3 1 3-1 3 0 3 1 3-1 3-1 3 0 3 2 3 0 3-1 3 1 3-2 3 1 3-1 3 1 3 1 3 0 3-1 3 1 3-1 3 0 3 0 3 0 3 0 3-1 3 0 3 0 3 0 3 1 3 1 3 1 3 0 3-2 3 2 3-3 3 0 3 0 3 2 3-1 3 1 3 0 3-2 3 2 3-2 2 1V1006Z"/>
<path transform="scale(.5)" fill="#c8c440" d="M72 1006l0-41 3 0 3-2 3 2 3-3 3 4 3-1 3 0 3-2 3 1 3-1 3 1 3 0 3 1 3-2 3 2 3-2 3 0 3 0 3 1 3 0 3 0 3 1 3-2 3-1 3 3 3 0 3-2 3 2 3 0 3 0 3-2 3 0 3 2 3-1 3 1 3 0 3-1 3 0 3-1 3 1 3-1 3 1 3-1 3 0 3 2 3 0 3 0 3 0 3 1 3-3 3 0 3 2 3-1 3-1 3 0 3 1 3 1 3-2 3 0 3 0 3 1 3 0 3 1 3 0 3-1 3 1 3-2 3 1 3 0 3-1 2 1V1006Z"/>
<path transform="scale(.5)" fill="#e21c2c" d="M72 1006l0-38 3-2 3 3 3-2 3-1 3 0 3 0 3 2 3-2 3 2 3-2 3 1 3-1 3 2 3-2 3 2 3-2 3 0 3 1 3 2 3-3 3 2 3-1 3-1 3 0 3 2 3 0 3-2 3 0 3 0 3 1 3-1 3 1 3 0 3 0 3 1 3-2 3 1 3 0 3 0 3 1 3-1 3-1 3 1 3 0 3 0 3-1 3 2 3 1 3-3 3 2 3-2 3 2 3-1 3 0 3 0 3 1 3-1 3 0 3-1 3 1 3-1 3 2 3 0 3 0 3-1 3 0 3 0 3 0 3 0 3 0 2 0V1006Z"/>
<path transform="scale(.5)" fill="#f264a2" d="M72 1006l0-28 3 0 3 1 3 1 3-2 3 2 3 0 3-2 3 2 3 0 3-2 3 2 3-2 3 1 3-1 3 0 3 2 3-3 3 4 3-2 3-2 3 1 3 2 3 1 3-4 3 2 3 1 3-1 3-1 3 1 3 1 3 0 3-2 3 2 3-1 3-1 3 2 3-2 3 2 3-1 3-1 3 1 3-1 3 2 3 0 3-1 3 1 3 0 3-2 3 3 3-1 3-2 3 1 3-2 3 1 3 2 3 0 3-1 3-1 3 0 3 0 3 2 3-2 3 2 3-1 3-1 3 1 3 0 3-1 3 0 3-1 2 2V1006Z"/>
<path transform="scale(.5)" fill="#c8183c" d="M72 1006l0-13 3 1 3 1 3 0 3 0 3 0 3 0 3-1 3 0 3 2 3-2 3 1 3 0 3-1 3 0 3 2 3 0 3-1 3 0 3-1 3 1 3-1 3 1 3-1 3 0 3 2 3-1 3 0 3 0 3-1 3 1 3-2 3 2 3 0 3 0 3-1 3 1 3 1 3 0 3-1 3 0 3 0 3 0 3 0 3-2 3 2 3 1 3-2 3 1 3 1 3 0 3-1 3-1 3 1 3 1 3-1 3-1 3 1 3 0 3 0 3 0 3 1 3 0 3-1 3-1 3 2 3 0 3 0 3-1 3 0 3 1 2-1V1006Z"/>
<path transform="scale(.5)" fill="#a8d070" d="M72 1006l0-7 3 2 3 0 3 0 3 0 3-1 3 1 3 0 3 0 3 0 3 1 3-2 3 0 3 0 3 0 3 2 3-1 3 1 3-2 3 2 3-1 3-2 3 2 3-1 3 0 3-1 3 0 3 0 3 3 3-2 3 1 3 0 3-1 3 0 3 0 3 0 3 0 3-1 3 1 3 1 3-2 3 0 3 1 3-1 3 2 3-1 3-1 3 2 3 0 3 1 3 0 3-1 3 1 3-2 3-1 3 1 3 0 3 2 3-2 3 0 3 0 3 0 3 0 3-1 3 3 3-2 3 0 3 0 3 1 3-1 3 0 2 0V1006Z"/>
<g transform="scale(.2)" stroke-width="6" fill="none">
<path d="M192 2348h6m228 0h6m54 0h6m18 0h6m180 0h6m0 0h6m-496 6h6m126 0h6m282 0h6m-445 6h6m36 0h6m162 0h6m-210 6h6m288 0h6m96 0h6m18 0h6m-358 6h6m6 0h6m6 0h6m24 0h6m138 0h6m96 0h6m-315 6h6m120 0h6m54 0h6m120 0h6m120 0h6m6 0h6" stroke="#c05088"/>
<path d="M198 2348h6m42 0h6m30 0h6m132 0h6m30 0h6m60 0h6m12 0h6m138 0h6m-502 6h6m72 0h6m12 0h6m138 0h6m132 0h6m66 0h6m24 0h6m0 0h6m-439 6h6m18 0h6m222 0h6m156 0h6m-480 6h6m18 0h6m6 0h6m36 0h6m72 0h6m294 0h6m6 0h6m12 0h6m12 0h6m0 0h6m-370 6h6m18 0h6m42 0h6m30 0h6m60 0h6m90 0h6m-417 6h6m126 0h6m150 0h6m66 0h6m42 0h6m0 0h6m72 0h6" stroke="#3060a8"/>
<path d="M216 2348h6m36 0h6m42 0h6m42 0h6m6 0h6m36 0h6m78 0h6m30 0h6m90 0h6m-352 6h6m78 0h6m42 0h6m138 0h6m12 0h6m0 0h6m24 0h6m-409 6h6m84 0h6m24 0h6m18 0h6m0 0h6m60 0h6m102 0h6m66 0h6m72 0h6m-462 6h6m90 0h6m204 0h6m36 0h6m48 0h6m30 0h6m-472 6h6m12 0h6m144 0h6m72 0h6m6 0h6m0 0h6m-237 6h6m36 0h6m102 0h6m72 0h6m42 0h6m0 0h6m144 0h6m-441 6h6m78 0h6m48 0h6m0 0h6m0 0h6m12 0h6m102 0h6m162 0h6m0 0h6m-259 6h6m78 0h6m-96 6h6m24 0h6m36 0h6m60 0h6m-330 6h6m120 0h6m0 0h6m54 0h6m48 0h6m18 0h6m36 0h6m0 0h6m30 0h6" stroke="#6a5aa8"/>
<path d="M228 2348h6m60 0h6m246 0h6m12 0h6m48 0h6m12 0h6m24 0h6m0 0h6m0 0h6m-442 6h6m12 0h6m24 0h6m72 0h6m18 0h6m258 0h6m42 0h6m-523 6h6m6 0h6m108 0h6m60 0h6m84 0h6m144 0h6m-330 6h6m0 0h6m6 0h6m48 0h6m48 0h6m18 0h6m6 0h6m6 0h6m6 0h6m18 0h6m54 0h6m18 0h6m18 0h6m-418 6h6m90 0h6m12 0h6m54 0h6m30 0h6m126 0h6m36 0h6m48 0h6m12 0h6m-411 6h6m6 0h6m6 0h6m42 0h6m12 0h6m180 0h6m132 0h6" stroke="#40a8c0"/>
<path d="M300 2348h6m30 0h6m102 0h6m24 0h6m0 0h6m126 0h6m36 0h6m-430 6h6m60 0h6m30 0h6m60 0h6m18 0h6m30 0h6m126 0h6m48 0h6m-397 6h6m24 0h6m144 0h6m60 0h6m18 0h6m54 0h6m6 0h6m42 0h6m42 0h6m-462 6h6m48 0h6m96 0h6m12 0h6m18 0h6m0 0h6m72 0h6m0 0h6m6 0h6m36 0h6m-358 6h6m12 0h6m54 0h6m24 0h6m6 0h6m42 0h6m18 0h6m6 0h6m36 0h6m168 0h6m-447 6h6m126 0h6m18 0h6m24 0h6m0 0h6m12 0h6m0 0h6m6 0h6m0 0h6m6 0h6m24 0h6m-213 6h6m60 0h6m0 0h6m90 0h6m6 0h6m96 0h6m18 0h6m6 0h6m24 0h6m-415 6h6m240 0h6m42 6h6m36 0h6m6 0h6m-72 6h6" stroke="#2a3a80"/>
<path d="M462 2348h6m66 0h6m-232 6h6m282 0h6m-313 6h6m156 0h6m114 0h6m108 0h6m-366 6h6m48 0h6m18 0h6m264 0h6m-310 6h6m186 0h6m-369 6h6m288 0h6" stroke="#70a0d0"/>
<path d="M183 2384h6m48 0h6m36 0h6m0 0h6m36 0h6m54 0h6m84 0h6m156 0h6m-409 6h6m30 0h6m24 0h6m30 0h6m0 0h6m0 0h6m18 0h6m30 0h6m24 0h6m54 0h6m24 0h6m6 0h6m0 0h6m18 0h6m-384 6h6m30 0h6m0 0h6m24 0h6m66 0h6m6 0h6m18 0h6m0 0h6m42 0h6m48 0h6m6 0h6m36 0h6m54 0h6m60 0h6m18 0h6m-498 6h6m6 0h6m0 0h6m6 0h6m6 0h6m66 0h6m6 0h6m24 0h6m12 0h6m18 0h6m6 0h6m6 0h6m66 0h6m66 0h6m0 0h6m18 0h6m24 0h6" stroke="#3a78b8"/>
<path d="M201 2384h6m174 0h6m18 0h6m96 0h6m0 0h6m41 6h6m60 0h6m0 0h6m0 0h6m-342 6h6m132 0h6m132 0h6m24 0h6m12 0h6m-432 6h6m54 0h6m162 0h6m144 0h6m84 0h6" stroke="#4a9a80"/>
<path d="M207 2384h6m54 0h6m24 0h6m30 0h6m126 0h6m60 0h6m0 0h6m60 0h6m78 0h6m0 0h6m-469 6h6m6 0h6m30 0h6m24 0h6m18 0h6m30 0h6m30 0h6m18 0h6m18 0h6m6 0h6m0 0h6m48 0h6m54 0h6m6 0h6m6 0h6m0 0h6m60 0h6m-438 6h6m132 0h6m42 0h6m30 0h6m0 0h6m36 0h6m0 0h6m42 0h6m36 0h6m18 0h6m30 0h6m18 0h6m-330 6h6m6 0h6m6 0h6m66 0h6m36 0h6m6 0h6m42 0h6m24 0h6m36 0h6m0 0h6m0 0h6m42 0h6" stroke="#78c0d8"/>
<path d="M188 2408h6m24 0h6m108 0h6m66 0h6m36 0h6m18 0h6" stroke="#c0d048"/>
<path d="M200 2408h6m6 0h6m42 0h6m150 0h6m6 0h6m108 0h6m12 0h6m18 0h6" stroke="#3f8a3a"/>
<path d="M266 2408h6m18 0h6m6 0h6m66 0h6m30 0h6m6 0h6m54 0h6m30 0h6m24 0h6m60 0h6" stroke="#98c850"/>
<path d="M326 2408h6m156 0h6m78 0h6" stroke="#40a0a0"/>
<path d="M195 2414h6m6 0h6m0 0h6m6 0h6m30 0h6m0 0h6m6 0h6m18 0h6m0 0h6m42 0h6m12 0h6m0 0h6m12 0h6m0 0h6m0 0h6m6 0h6m42 0h6m48 0h6m12 0h6m18 0h6m36 0h6m0 0h6m6 0h6m24 0h6m0 0h6m0 0h6m18 0h6m0 0h6m0 0h6" stroke="#62ae44"/>
<path d="M231 2414h6m150 0h6m90 0h6m202 6h6m-478 6h6m12 0h6m12 0h6m0 0h6m24 0h6m12 0h6m18 0h6m0 0h6m6 0h6m12 0h6m12 0h6m12 0h6m0 0h6m0 0h6m12 0h6m42 0h6m24 0h6m6 0h6m18 0h6m48 0h6m6 0h6m12 0h6m42 0h6m0 0h6" stroke="#c8c440"/>
<path d="M199 2420h6m12 0h6m6 0h6m0 0h6m6 0h6m12 0h6m12 0h6m42 0h6m24 0h6m42 0h6m12 0h6m0 0h6m12 0h6m12 0h6m24 0h6m48 0h6m0 0h6m24 0h6m6 0h6m24 0h6m24 0h6m18 0h6m-497 36h6m12 0h6m24 0h6m12 0h6m0 0h6m0 0h6m0 0h6m12 0h6m0 0h6m36 0h6m0 0h6m0 0h6m42 0h6m6 0h6m6 0h6m0 0h6m24 0h6m72 0h6m12 0h6m0 0h6m18 0h6m6 0h6m6 0h6m0 0h6m0 0h6m36 0h6m12 0h6m12 0h6" stroke="#e21c2c"/>
<path d="M243 2426h6m18 0h6m324 0h6m-200 6h6m72 0h6m78 0h6m126 0h6m-76 6h6m-366 6h6m372 0h6m54 0h6m-330 6h6m138 0h6" stroke="#b81030"/>
<path d="M183 2450h6m12 0h6m12 0h6m6 0h6m18 0h6m24 0h6m36 0h6m12 0h6m6 0h6m12 0h6m24 0h6m54 0h6m18 0h6m0 0h6m0 0h6m0 0h6m30 0h6m6 0h6m30 0h6m0 0h6m66 0h6m24 0h6m-487 42h6m12 0h6m42 0h6m6 0h6m0 0h6m12 0h6m18 0h6m12 0h6m72 0h6m24 0h6m6 0h6m6 0h6m0 0h6m54 0h6m12 0h6m66 0h6m24 0h6m6 0h6" stroke="#f264a2"/>
<path d="M506 2456h6m162 0h6m-230 6h6m126 0h6m60 0h6m0 0h6m-400 6h6m126 0h6m6 0h6m30 0h6m-36 6h6m24 0h6m120 0h6m6 0h6m114 0h6m-485 6h6m138 0h6m78 0h6m60 0h6m102 0h6m-415 6h6m0 0h6m318 0h6m30 0h6m48 0h6m18 0h6" stroke="#e8407a"/>
<path d="M236 2486h6m12 0h6m24 0h6m36 0h6m6 0h6m54 0h6m54 0h6m60 0h6m0 0h6m0 0h6m6 0h6m12 0h6m18 0h6m54 0h6m36 0h6m0 0h6m-522 24h6m24 0h6m6 0h6m42 0h6m36 0h6m6 0h6m54 0h6m0 0h6m54 0h6m6 0h6m12 0h6m6 0h6m36 0h6m12 0h6m36 0h6m6 0h6m0 0h6m0 0h6m12 0h6m18 0h6m6 0h6m0 0h6m6 0h6m6 0h6" stroke="#c8183c"/>
<path d="M242 2492h6m204 0h6m150 0h6m-427 6h6m0 0h6m42 0h6m288 0h6m-127 6h6m78 0h6m54 0h6m30 0h6" stroke="#e03058"/>
<path d="M204 2504h6m24 0h6m12 0h6m6 0h6m30 0h6m18 0h6m30 0h6m36 0h6m0 0h6m78 0h6m6 0h6m66 0h6m48 0h6m12 0h6m18 0h6m0 0h6m-424 6h6m54 0h6m174 0h6" stroke="#a8d070"/>
<path d="M283 1996h6m30 7h6m359 58h6m-350 7h6m280 7h6m-84 12h6m-49 4h6m97 0h6m41 0h6m-295 1h6m123 12h6m-241 5h6m348 0h6m-108 7h6m139 1h6m-374 10h6m-57 6h6m22 13h6m22 5h6m189 1h6m92 5h6m6 0h6m-186 1h6m19 6h6m162 5h6m17 1h6m-419 1h6m405 5h6m-245 1h6m-8 4h6m-186 1h6m476 5h6m-163 6h6m-155 1h6m18 0h6m42 0h6m-267 5h6m332 1h6m-134 1h6m25 0h6m30 0h6m113 4h6m-40 2h6m5 0h6m-390 4h6m35 0h6m127 0h6m150 0h6m-317 1h6m310 0h6m79 0h6m41 1h6m-171 4h6m160 0h6m18 0h6m7 0h6m-431 1h6m321 0h6m37 0h6" stroke="#f4c0d8"/>
<path d="M369 2001h6m149 25h6m-102 30h6m40 5h6m80 25h6m-312 1h6m354 4h6m-354 13h6m367 6h6m-320 1h6m151 5h6m34 7h6m-106 4h6m-17 1h6m202 0h6m-394 5h6m450 1h6m-353 1h6m40 0h6m-133 17h6m432 1h6m-271 4h6m-52 7h6m-2 1h6m17 4h6m121 0h6m-160 14h6m7 0h6m-83 5h6m52 0h6m6 0h6m24 1h6m-190 4h6m40 0h6m0 0h6m289 1h6m109 7h6m-494 4h6m24 0h6m252 0h6m-257 1h6m216 0h6m41 0h6m-68 1h6m78 0h6m87 0h6m-403 4h6m210 1h6m222 0h6m-107 5h6m114 0h6m-522 1h6" stroke="#9a6080"/>
<path d="M513 2002h6m118 6h6m14 47h6m-12 13h6m-314 5h6m143 0h6m138 0h6m14 8h6m-474 6h6m73 0h6m172 11h6m-82 7h6m-1 4h6m292 1h6m-136 7h6m-366 12h6m55 0h6m109 4h6m29 0h6m277 1h6m-2 6h6m-156 5h6m60 0h6m-222 6h6m144 0h6m-103 2h6m-158 4h6m79 2h6m0 5h6m37 0h6m262 1h6m-448 4h6m299 0h6m43 0h6m-211 1h6m138 0h6m-190 5h6m342 0h6m-115 1h6m79 0h6m7 0h6m-499 1h6m54 0h6m44 0h6m46 0h6m167 0h6m-168 4h6m2 0h6m54 1h6m29 0h6m-143 1h6m61 5h6m23 0h6m132 0h6m-360 1h6m109 0h6m162 0h6m82 0h6m-408 4h6m241 0h6m155 0h6m13 0h6m-241 1h6m-161 1h6m28 0h6m85 0h6m-35 4h6m227 1h6m-317 1h6m119 0h6m30 0h6m156 0h6m-174 4h6m-175 1h6m24 0h6m140 0h6m214 0h6m-329 1h6m72 0h6m59 0h6m140 0h6m-288 4h6m226 0h6m1 0h6m-300 1h6m59 0h6m116 0h6m149 1h6m-162 4h6m0 0h6m230 0h6m-188 1h6m109 0h6m-312 1h6m29 0h6m48 0h6m12 0h6m96 0h6m32 0h6m95 0h6" stroke="#c84880"/>
<path d="M390 2014h6m84 6h6m48 5h6m43 24h6m-11 18h6m-194 8h6m234 6h6m-437 10h6m372 2h6m50 5h6m-204 1h6m142 0h6m-125 4h6m89 6h6m-263 12h6m-2 1h6m-104 5h6m191 2h6m153 10h6m-275 1h6m385 0h6m-11 7h6m-121 4h6m-228 1h6m159 5h6m96 0h6m-93 1h6m-199 1h6m6 0h6m90 0h6m203 0h6m-215 4h6m161 7h6m-328 6h6m42 0h6m258 0h6m-310 1h6m75 0h6m32 0h6m234 0h6m-468 4h6m119 0h6m229 0h6m108 1h6m-390 1h6m419 0h6m-438 4h6m92 0h6m258 0h6m-181 1h6m12 0h6m23 0h6m-216 1h6m-1 4h6m129 0h6m84 0h6m88 0h6m7 0h6m30 0h6m-337 1h6m36 0h6m-162 1h6m169 0h6m175 0h6m52 0h6m-432 4h6m114 0h6m18 0h6m122 0h6m-195 1h6m326 0h6m-342 1h6m83 0h6m209 0h6m-139 4h6m-155 1h6m163 1h6m120 0h6m0 0h6m-174 4h6m210 0h6m-342 1h6m49 0h6m23 0h6m138 0h6m84 0h6m-360 1h6m55 0h6m83 0h6m138 0h6m98 0h6m-306 4h6m11 0h6m70 0h6m216 0h6m-520 1h6m60 1h6m64 0h6m19 0h6m235 0h6m73 0h6" stroke="#f090bc"/>
<path d="M183 2223h6m105 0h6m338 0h6m-342 1h6m109 0h6m35 0h6m203 0h6m-318 1h6m152 0h6m166 0h6m-232 4h6m29 0h6m7 0h6m76 0h6m84 0h6m-490 1h6m108 0h6m22 0h6m61 0h6m5 0h6m62 0h6m114 0h6m-421 1h6m163 0h6m16 0h6m6 0h6m43 0h6m197 0h6m18 0h6m-409 4h6m13 0h6m4 0h6m50 0h6m30 0h6m59 0h6m89 0h6m26 0h6m-347 1h6m216 0h6m89 0h6m-300 1h6m401 0h6m-425 4h6m-1 0h6m33 0h6m35 0h6m222 0h6m12 0h6m-403 1h6m278 0h6m10 0h6m156 0h6m7 0h6m-467 1h6m0 0h6m54 0h6m60 0h6m346 0h6m-378 4h6m1 0h6m48 0h6m102 0h6m11 0h6m29 0h6m92 0h6m-402 1h6m66 0h6m66 0h6m16 0h6m36 0h6m115 0h6m-79 1h6m43 0h6m155 0h6m-287 4h6m68 0h6m-289 1h6m264 0h6m143 0h6m-346 1h6m84 0h6m16 0h6m68 0h6m35 0h6m5 0h6m38 0h6m-354 4h6m24 0h6m46 0h6m26 0h6m22 0h6m144 0h6m14 0h6m-342 1h6m4 0h6m50 0h6m40 0h6m115 0h6m50 0h6m65 0h6m11 0h6m5 0h6m86 0h6m22 0h6m-419 1h6m18 0h6m26 0h6m275 0h6m-2 0h6m44 0h6m-301 4h6m25 0h6m271 0h6m3 0h6m-527 1h6m26 0h6m154 0h6m-77 1h6m13 0h6m69 0h6m6 0h6m37 0h6m31 0h6m30 0h6m11 0h6m61 0h6m-368 4h6m20 0h6m6 0h6m3 0h6m2 0h6m133 0h6m75 0h6m1 0h6m102 0h6m30 0h6m-371 1h6m35 0h6m242 0h6m52 0h6m-276 1h6m103 0h6m10 0h6m39 0h6m51 0h6m7 0h6m-389 4h6m133 0h6m184 0h6m80 0h6m-444 1h6m72 0h6m-1 0h6m23 0h6m18 0h6m25 0h6m86 0h6m4 0h6m25 0h6m23 0h6m31 0h6m59 0h6m-364 1h6m29 0h6m192 0h6m46 0h6m103 0h6m-485 4h6m127 0h6m58 0h6m24 0h6m24 0h6m1 0h6m65 0h6m90 0h6m55 0h6m-492 1h6m144 0h6m31 0h6m160 0h6m32 0h6m47 0h6m-433 1h6m50 0h6m15 0h6m43 0h6m55 0h6m137 0h6m60 0h6m35 0h6m32 0h6m-481 4h6m107 0h6m156 0h6m12 0h6m19 0h6m11 0h6m18 0h6m11 0h6m19 0h6m7 0h6m11 0h6m-474 1h6m199 0h6m42 0h6m11 0h6m5 0h6m116 0h6m0 0h6m83 0h6m-425 1h6m40 0h6m90 0h6m13 0h6m77 0h6m32 0h6m23 0h6m25 0h6m-343 4h6m85 0h6m4 0h6m12 0h6m120 0h6m0 0h6m35 0h6m-341 1h6m54 0h6m132 0h6m23 0h6m2 0h6m178 0h6m2 0h6m5 0h6m24 0h6m-516 1h6m18 0h6m79 0h6m112 0h6m49 0h6m6 0h6m55 0h6m5 0h6m17 0h6m-232 4h6m7 0h6m77 0h6m13 0h6m94 0h6m0 0h6m44 0h6m41 0h6m-491 1h6m41 0h6m1 0h6m48 0h6m90 0h6m3 0h6m21 0h6m-1 0h6m0 0h6m43 0h6m22 0h6m78 0h6m-378 1h6m144 0h6m2 0h6m100 0h6m54 0h6m54 0h6m1 0h6m7 0h6m4 0h6m30 0h6m7 0h6m-475 4h6m55 0h6m5 0h6m20 0h6m4 0h6m0 0h6m108 0h6m2 0h6m71 0h6m109 0h6m-1 0h6m7 0h6m-1 0h6m-468 1h6m126 0h6m19 0h6m-1 0h6m125 0h6m134 0h6m-403 1h6m173 0h6m54 0h6m31 0h6m47 0h6m13 0h6m11 0h6m79 0h6m-489 4h6m17 0h6m16 0h6m120 0h6m7 0h6m44 0h6m16 0h6m139 0h6m-440 1h6m9 0h6m149 0h6m59 0h6m1 0h6m29 0h6m54 0h6m6 0h6m85 0h6m23 0h6m-384 1h6m37 0h6m4 0h6m13 0h6m31 0h6m64 0h6m99 0h6m82 0h6m7 0h6m36 0h6m0 0h6" stroke="#c83c78"/>
<path d="M213 2223h6m5 0h6m162 0h6m103 0h6m22 0h6m60 0h6m-311 1h6m11 0h6m68 0h6m-13 1h6m48 0h6m-221 4h6m132 0h6m207 1h6m50 0h6m-240 1h6m30 0h6m22 0h6m219 0h6m22 0h6m-319 4h6m127 0h6m90 0h6m-402 1h6m42 0h6m48 0h6m281 0h6m54 0h6m18 0h6m-460 1h6m39 0h6m127 0h6m18 0h6m113 0h6m1 0h6m-345 4h6m-1 0h6m1 0h6m36 0h6m54 0h6m101 0h6m127 0h6m71 0h6m-271 1h6m56 0h6m39 0h6m2 0h6m131 0h6m-466 1h6m244 0h6m170 0h6m-373 4h6m40 0h6m60 0h6m61 0h6m30 0h6m-121 1h6m330 0h6m-299 1h6m187 0h6m-390 4h6m5 0h6m60 0h6m13 0h6m13 0h6m233 0h6m-270 1h6m107 0h6m212 0h6m-266 1h6m24 0h6m68 0h6m100 0h6m31 0h6m-371 4h6m6 0h6m16 0h6m139 0h6m30 0h6m35 0h6m-276 1h6m0 0h6m86 0h6m42 0h6m35 0h6m23 0h6m-240 1h6m183 0h6m184 0h6m-390 4h6m26 0h6m-2 0h6m103 0h6m144 0h6m11 0h6m36 0h6m96 0h6m-360 1h6m151 0h6m0 0h6m118 0h6m-263 1h6m48 0h6m38 0h6m15 0h6m45 0h6m100 0h6m61 0h6m-368 4h6m101 0h6m1 0h6m228 0h6m-436 1h6m24 0h6m39 0h6m85 0h6m37 0h6m5 0h6m14 0h6m102 0h6m11 0h6m-414 1h6m269 0h6m23 0h6m14 0h6m12 0h6m90 0h6m11 0h6m44 0h6m-385 4h6m38 0h6m4 0h6m18 0h6m66 0h6m7 0h6m71 0h6m29 0h6m2 0h6m-384 1h6m30 0h6m73 0h6m64 0h6m25 0h6m18 0h6m59 0h6m164 0h6m-523 1h6m-1 0h6m13 0h6m34 0h6m31 0h6m115 0h6m17 0h6m72 0h6m121 0h6m-2 0h6m51 0h6m-318 4h6m183 0h6m-393 1h6m-2 0h6m227 0h6m26 0h6m42 0h6m71 0h6m13 0h6m11 0h6m-420 1h6m61 0h6m17 0h6m48 0h6m38 0h6m144 0h6m150 0h6m-476 4h6m5 0h6m161 0h6m2 0h6m36 0h6m77 0h6m-355 1h6m49 0h6m108 0h6m2 0h6m22 0h6m89 0h6m84 0h6m36 0h6m2 0h6m4 0h6m26 0h6m6 0h6m-487 1h6m1 0h6m78 0h6m6 0h6m41 0h6m17 0h6m7 0h6m31 0h6m40 0h6m36 0h6m13 0h6m6 0h6m103 0h6m-123 4h6m26 0h6m16 0h6m18 0h6m67 0h6m-503 1h6m94 0h6m42 0h6m8 0h6m46 0h6m43 0h6m49 0h6m40 0h6m43 0h6m85 0h6m-486 1h6m6 0h6m-1 0h6m7 0h6m5 0h6m-1 0h6m43 0h6m13 0h6m-2 0h6m56 0h6m18 0h6m73 0h6m119 0h6m-1 0h6m5 0h6m-443 4h6m104 0h6m-2 0h6m20 0h6m154 0h6m7 0h6m77 0h6m-419 1h6m23 0h6m38 0h6m60 0h6m4 0h6m14 0h6m42 0h6m4 0h6m30 0h6m8 0h6m64 0h6m104 0h6m-396 1h6m5 0h6m-1 0h6m30 0h6m109 0h6m138 0h6m83 0h6m7 0h6m29 0h6m-503 4h6m102 0h6m83 0h6m36 0h6m26 0h6m23 0h6m42 0h6m0 0h6m28 0h6m110 0h6m-504 1h6m7 0h6m88 0h6m32 0h6m34 0h6m19 0h6m42 0h6m48 0h6m5 0h6m-346 1h6m41 0h6m235 0h6m60 0h6m11 0h6m-1 0h6m2 0h6m59 0h6m-365 4h6m36 0h6m49 0h6m101 0h6m53 0h6m20 0h6m23 0h6m60 0h6m-414 1h6m8 0h6m17 0h6m7 0h6m23 0h6m95 0h6m48 0h6m96 0h6m-391 1h6m127 0h6m60 0h6m1 0h6m132 0h6m19 0h6m6 0h6m95 0h6" stroke="#e878a8"/>
<path d="M555 2223h6m96 1h6m-446 1h6m162 0h6m167 0h6m-358 4h6m197 0h6m270 0h6m-436 1h6m52 1h6m308 0h6m-296 4h6m35 0h6m12 0h6m104 0h6m143 1h6m19 1h6m-131 4h6m-145 1h6m187 0h6m-139 1h6m-230 4h6m193 0h6m163 1h6m48 0h6m-114 1h6m59 0h6m55 0h6m-355 4h6m181 0h6m61 0h6m83 0h6m-473 1h6m0 0h6m35 1h6m48 0h6m216 0h6m67 0h6m17 0h6m-347 4h6m82 0h6m74 0h6m36 0h6m46 0h6m50 0h6m-269 1h6m159 0h6m2 0h6m112 0h6m-329 1h6m-130 4h6m28 0h6m401 0h6m31 0h6m-479 1h6m72 0h6m0 0h6m0 0h6m65 0h6m55 0h6m1 0h6m57 0h6m-312 1h6m150 0h6m216 4h6m-372 1h6m13 0h6m139 0h6m117 0h6m85 0h6m62 0h6m-30 1h6m-20 4h6m92 0h6m-517 1h6m169 0h6m119 0h6m126 0h6m-394 1h6m291 0h6m26 0h6m49 0h6m-312 4h6m228 0h6m76 0h6m-155 1h6m31 0h6m148 0h6m-426 1h6m73 0h6m102 0h6m28 0h6m43 0h6m119 0h6m-319 4h6m96 0h6m50 0h6m58 0h6m-305 1h6m11 0h6m44 0h6m1 1h6m315 0h6m-413 4h6m226 0h6m145 0h6m-318 1h6m29 0h6m236 0h6m-330 1h6m94 0h6m164 0h6m-185 4h6m177 0h6m-328 1h6m95 0h6m92 0h6m156 0h6m-385 1h6m67 0h6m191 0h6m85 0h6m36 0h6m-211 4h6m1 0h6m78 0h6m-308 1h6m56 0h6m125 0h6m294 0h6m-258 1h6m144 0h6m35 0h6m2 0h6m53 0h6m-510 4h6m8 0h6m22 0h6m289 0h6m109 0h6m47 0h6m-456 1h6m120 0h6m18 0h6m30 0h6m240 0h6m-371 1h6m127 0h6m16 0h6m37 0h6m89 0h6m-1 0h6" stroke="#7a2a58"/>
<path d="M258 2224h6m433 1h6m-503 4h6m100 6h6m216 1h6m-88 5h6m-180 1h6m106 0h6m129 0h6m72 0h6m-50 5h6m-143 1h6m228 0h6m-24 5h6m-91 1h6m32 0h6m-252 5h6m10 0h6m306 0h6m-131 1h6m73 0h6m35 0h6m-402 1h6m97 5h6m5 1h6m126 0h6m-173 5h6m334 0h6m-130 1h6m-300 5h6m145 0h6m-171 1h6m174 0h6m231 0h6m-452 4h6m98 0h6m-85 1h6m23 0h6m66 0h6m288 0h6m-142 1h6m42 0h6m-345 4h6m85 0h6m-2 0h6m138 0h6m38 1h6m65 1h6m-218 4h6m43 0h6m101 0h6m-94 1h6m-91 5h6m193 0h6m-275 1h6m4 0h6m176 0h6m-97 1h6m323 0h6m-479 4h6m29 0h6m1 0h6m78 0h6m241 0h6m-98 1h6m-239 1h6m41 0h6m49 0h6m234 0h6m55 0h6m-437 4h6m101 1h6m1 0h6m127 0h6m179 0h6m-403 1h6m290 0h6m82 0h6" stroke="#3a3068"/>
<path d="M198 2319h6m6 0h6m37 0h6m84 0h6m43 0h6m19 0h6m34 0h6m145 0h6m-432 1h6m-1 0h6m-1 0h6m115 0h6m120 0h6m6 0h6m92 0h6m22 0h6m20 0h6m82 0h6m-450 1h6m8 0h6m9 0h6m43 0h6m1 0h6m0 0h6m54 0h6m18 0h6m36 0h6m12 0h6m70 0h6m81 0h6m-1 0h6m12 0h6m11 0h6m-485 4h6m-1 0h6m24 0h6m55 0h6m13 0h6m52 0h6m13 0h6m25 0h6m108 0h6m46 0h6m7 0h6m30 0h6m19 0h6m-456 1h6m144 0h6m-2 0h6m68 0h6m72 0h6m41 0h6m-1 0h6m72 0h6m0 0h6m-442 1h6m35 0h6m6 0h6m216 0h6m24 0h6m78 0h6m-205 4h6m19 0h6m29 0h6m72 0h6m13 0h6m84 0h6m-480 1h6m18 0h6m90 0h6m12 0h6m18 0h6m126 0h6m112 0h6m96 0h6m-442 1h6m16 0h6m85 0h6m1 0h6m-1 0h6m197 0h6m-312 4h6m7 0h6m23 0h6m6 0h6m0 0h6m13 0h6m60 0h6m5 0h6m0 0h6m97 0h6m48 0h6m22 0h6m14 0h6m-2 0h6m2 0h6m23 0h6m-517 1h6m32 0h6m226 0h6m50 0h6m53 0h6m43 0h6m-416 1h6m48 0h6m92 0h6m52 0h6m67 0h6m61 0h6m29 0h6m11 0h6m55 0h6m-490 4h6m18 0h6m12 0h6m167 0h6m13 0h6m5 0h6m7 0h6m59 0h6m90 0h6m71 0h6m-441 1h6m46 0h6m60 0h6m6 0h6m103 0h6m29 0h6m0 0h6m0 0h6m61 0h6m84 0h6m-499 1h6m19 0h6m24 0h6m6 0h6m292 0h6m54 0h6m25 0h6m-401 4h6m30 0h6m258 0h6m46 0h6m-396 1h6m157 0h6m17 0h6m0 0h6m92 0h6m0 0h6m100 0h6m-449 1h6m19 0h6m16 0h6m84 0h6m6 0h6m127 0h6m17 0h6m6 0h6m19 0h6m36 0h6m30 0h6m1 0h6m59 0h6" stroke="#c04880"/>
<path d="M486 2319h6m92 0h6m-384 1h6m295 0h6m-212 1h6m188 4h6m184 0h6m-348 1h6m44 0h6m17 0h6m251 0h6m-268 1h6m34 0h6m-240 4h6m395 0h6m-444 2h6m7 0h6m222 0h6m181 0h6m53 0h6m-445 4h6m173 0h6m164 0h6m40 0h6m-414 1h6m50 0h6m264 0h6m137 1h6m13 0h6m-527 4h6m89 0h6m173 0h6m18 0h6m-180 1h6m44 0h6m13 0h6m171 0h6m110 0h6m-174 1h6m0 0h6m83 0h6m-408 4h6m79 0h6m29 0h6m234 0h6m-233 1h6m239 0h6m103 0h6m-474 1h6m210 0h6m148 0h6m73 0h6" stroke="#6a5098"/>
<path d="M319 2319h6m169 0h6m127 0h6m-344 1h6m-78 1h6m374 0h6m-132 4h6m-187 1h6m169 0h6m83 0h6m43 0h6m-266 5h6m12 0h6m145 0h6m60 1h6m-343 1h6m37 0h6m402 0h6m-373 4h6m-19 1h6m19 0h6m162 0h6m52 0h6m-364 1h6m24 0h6m-36 4h6m121 0h6m313 0h6m-399 1h6m368 0h6m-354 1h6m-53 4h6m-1 0h6m343 0h6m0 0h6m87 0h6m-394 1h6m239 0h6m-264 1h6m198 0h6m156 0h6" stroke="#5a70b0"/>
<path d="M266 2319h6m35 0h6m54 0h6m103 0h6m18 0h6m19 0h6m6 0h6m161 0h6m-479 1h6m35 0h6m82 0h6m79 0h6m20 0h6m36 0h6m11 0h6m37 0h6m51 0h6m44 0h6m-463 1h6m65 0h6m80 0h6m0 0h6m17 0h6m174 0h6m66 0h6m-478 4h6m112 0h6m2 0h6m10 0h6m98 0h6m34 0h6m146 0h6m0 0h6m0 0h6m4 0h6m24 0h6m-503 1h6m71 0h6m30 0h6m37 0h6m193 0h6m17 0h6m1 0h6m-372 1h6m64 0h6m108 0h6m11 0h6m73 0h6m32 0h6m22 0h6m38 0h6m22 0h6m79 0h6m-511 4h6m18 0h6m5 0h6m132 0h6m48 0h6m24 0h6m24 0h6m26 0h6m18 0h6m40 0h6m42 0h6m13 0h6m-329 1h6m96 0h6m66 0h6m132 0h6m0 0h6m28 0h6m-430 1h6m35 0h6m30 0h6m65 0h6m79 0h6m-121 4h6m0 0h6m1 0h6m82 0h6m36 0h6m6 0h6m139 0h6m-444 1h6m-1 0h6m7 0h6m30 0h6m18 0h6m47 0h6m138 0h6m60 0h6m-408 1h6m13 0h6m48 0h6m96 0h6m77 0h6m32 0h6m120 0h6m-372 4h6m72 0h6m18 0h6m19 0h6m30 0h6m36 0h6m100 0h6m21 0h6m58 0h6m18 0h6m29 0h6m-430 1h6m138 0h6m52 0h6m36 0h6m68 0h6m-252 1h6m142 0h6m44 0h6m11 0h6m18 0h6m83 0h6m-492 4h6m56 0h6m53 0h6m77 0h6m8 0h6m233 0h6m-430 1h6m136 0h6m11 0h6m193 0h6m-384 1h6m61 0h6m1 0h6m93 0h6m92 0h6m175 0h6" stroke="#3a2a60"/>
<path d="M404 2319h6m19 0h6m83 0h6m115 0h6m27 1h6m-436 1h6m108 0h6m181 0h6m63 0h6m38 0h6m-413 4h6m-2 0h6m67 0h6m30 0h6m324 0h6m-241 1h6m120 0h6m-305 1h6m67 0h6m150 0h6m-152 4h6m211 0h6m-338 1h6m97 0h6m35 0h6m42 0h6m0 0h6m67 0h6m-283 1h6m18 0h6m36 0h6m217 0h6m17 0h6m0 0h6m44 0h6m4 0h6m42 0h6m20 0h6m-236 4h6m-281 1h6m77 0h6m-1 0h6m115 0h6m19 0h6m54 0h6m35 0h6m114 0h6m-239 1h6m42 0h6m161 0h6m7 0h6m58 0h6m-284 4h6m207 0h6m-263 1h6m19 0h6m54 0h6m204 0h6m-467 1h6m15 0h6m43 0h6m0 0h6m23 0h6m61 0h6m181 0h6m34 0h6m-288 4h6m109 0h6m-114 1h6m84 0h6m20 0h6m41 0h6m24 0h6m-192 1h6m0 0h6m5 0h6m25 0h6m73 0h6m45 0h6m7 0h6m73 0h6m10 0h6m24 0h6" stroke="#8a3a70"/>
</g>
<rect x="39.3" y="463" width="1.4" height="40" fill="#fff6f8"/>
<path d="M142.4 398V503.4H36" fill="none" stroke="#d4d0d8" stroke-width="0.8"/>
<path d="M35.6 398V503" fill="none" stroke="#c8c4cc" stroke-width="0.8"/>
<path d="M35.2 397.6H142.8" fill="none" stroke="#a8a4b4" stroke-width="0.9"/>
<path d="M35.6 399.8v1.3M35.6 403.9v1.3M35.6 408.1v1.3M35.6 412.2v1.3M35.6 416.4v1.3M35.6 420.6v1.3M35.6 424.7v1.3M35.6 428.9v1.3M35.6 433v1.3M35.6 437.2v1.3M35.6 441.3v1.3M35.6 445.5v1.3M35.6 449.6v1.3M35.6 453.8v1.3M35.6 457.9v1.3M35.6 462.1v1.3M35.6 466.2v1.3M35.6 470.4v1.3M35.6 474.5v1.3M35.6 478.7v1.3M35.6 482.8v1.3M35.6 487v1.3M35.6 491.1v1.3M35.6 495.2v1.3" stroke="#8a8a8a" stroke-width="1.1" fill="none"/>
<rect x="30" y="400" width="3.6" height="9" fill="#e2e0e6"/>
<rect x="143.5" y="400" width="3.6" height="9" fill="#e2e0e6"/>
<path d="M39.8 433V454" stroke="#1a1a1a" stroke-width="1.3"/>
<path d="M34 453L45.6 453L39.8 465Z" fill="#111"/>
<rect x="149" y="398" width="106" height="105" fill="#fff"/>
<path transform="scale(.5)" fill="#4078b8" d="M298 1006l0-53 3 0 3 0 3-2 3 1 3-1 3-1 3 1 3 0 3-2 3 0 3 0 3-2 3 2 3-3 3-1 3-2 3 1 3-4 3-3 3-3 3 0 3-3 3-1 3-5 3 0 3-3 3-2 3-3 3 1 3-4 3-2 3 1 3-2 3 0 3 1 3-3 3 0 3 0 3 1 3-1 3 1 3 1 3-1 3 0 3-1 3-1 3 0 3 0 3 3 3-1 3 1 3 0 3-1 3 0 3 1 3-2 3 1 3 1 3 0 3-1 3 1 3 1 3-2 3 0 3 2 3 1 3-1 3 1 3 0 3-3 2 2V1006Z"/>
<path transform="scale(.5)" fill="#44aacb" d="M298 1006l0-50 3-2 3 0 3 2 3-1 3-1 3 0 3 2 3-3 3 2 3-1 3 0 3-2 3 1 3-1 3 1 3-3 3-1 3-1 3-3 3-2 3-2 3 1 3-3 3-3 3 0 3-4 3 0 3-3 3-3 3-1 3-1 3-2 3 0 3 1 3-2 3 1 3-1 3-1 3 1 3-1 3 1 3 0 3-2 3 1 3 0 3 0 3-1 3 2 3-2 3 3 3-3 3 1 3 1 3 1 3-2 3 0 3 2 3-1 3 0 3 1 3-1 3 2 3-2 3 1 3 1 3-2 3 2 3-1 3 1 3 0 2 0V1006Z"/>
<path transform="scale(.5)" fill="#62ae44" d="M298 1006l0-49 3 2 3 0 3-1 3 1 3-2 3 2 3-3 3 2 3 0 3 1 3-2 3 2 3-1 3-1 3 1 3-1 3 1 3 0 3-3 3 0 3-1 3-1 3 1 3-2 3 3 3-4 3 1 3-1 3 0 3-2 3 0 3 0 3 2 3-1 3-2 3 0 3 1 3-1 3-1 3 0 3 1 3-1 3-1 3 0 3 2 3-2 3-1 3 3 3-1 3 0 3-1 3-1 3 1 3 1 3-1 3 1 3-1 3 1 3 0 3-1 3 1 3 0 3-2 3 0 3 1 3 1 3 0 3-1 3 0 3-2 2 2V1006Z"/>
<path transform="scale(.5)" fill="#f08a3a" d="M298 1006l0-39 3-2 3 2 3-2 3 0 3 0 3 2 3-2 3 1 3-1 3 1 3 1 3 0 3-1 3 1 3 0 3-2 3 1 3 1 3-2 3 1 3-1 3 0 3 1 3 1 3-1 3 1 3-1 3 0 3 0 3 0 3-1 3 1 3 0 3-1 3 0 3 0 3 0 3 1 3 0 3-2 3 3 3-2 3 0 3 2 3-1 3 0 3 2 3-1 3-1 3-1 3 1 3 0 3 1 3 0 3 0 3-2 3 2 3 0 3-1 3-1 3 1 3 1 3 0 3-2 3 2 3-1 3-2 3 1 3 0 3 0 2 1V1006Z"/>
<path transform="scale(.5)" fill="#e21c2c" d="M298 1006l0-36 3 1 3-3 3 0 3 2 3-1 3-1 3 0 3 1 3 0 3 1 3-1 3 0 3 2 3-2 3 0 3 0 3 0 3 1 3-1 3 1 3-2 3 1 3 0 3 2 3-2 3-1 3 3 3 0 3 0 3-1 3 0 3 0 3 1 3-1 3 0 3-2 3 2 3-1 3 1 3 0 3-1 3 2 3-1 3 1 3-1 3 0 3 0 3 0 3 0 3 0 3 0 3 1 3 0 3-3 3 0 3 2 3 0 3-2 3 2 3 0 3-1 3 1 3-1 3 0 3 0 3 1 3 0 3-1 3 0 3-1 2 1V1006Z"/>
<path transform="scale(.5)" fill="#f264a2" d="M298 1006l0-27 3 0 3-1 3 2 3-1 3-1 3 3 3-1 3-1 3 2 3 0 3-1 3 1 3-2 3 3 3-1 3 0 3 0 3 1 3-2 3-1 3 1 3 1 3-2 3 2 3-1 3 0 3-1 3 2 3-2 3 0 3 0 3 2 3 0 3-2 3 2 3 0 3-1 3-1 3 2 3-1 3 0 3-1 3 0 3 1 3-1 3 1 3 1 3-1 3 1 3 0 3-2 3 0 3 0 3 1 3 0 3-1 3 1 3 0 3 0 3 1 3 0 3 0 3-1 3 2 3-3 3 2 3 1 3-3 3 0 3 0 2 1V1006Z"/>
<path transform="scale(.5)" fill="#c8183c" d="M298 1006l0-8 3-1 3 2 3-2 3-1 3 2 3-1 3 1 3-2 3 0 3 0 3 0 3 0 3 2 3-1 3-1 3 0 3-1 3 4 3-4 3 2 3 0 3-1 3 0 3 2 3 0 3 0 3-1 3 0 3 0 3 0 3 1 3 1 3-1 3-1 3 0 3 0 3 1 3 0 3-1 3 1 3-2 3 1 3 0 3-1 3 2 3-2 3 2 3-2 3 1 3 1 3-1 3 2 3-2 3 0 3 0 3-1 3 2 3-2 3 3 3-1 3-1 3 1 3 0 3-2 3 2 3 0 3-2 3 2 3-1 3 0 2 0V1006Z"/>
<path transform="scale(.5)" fill="#a8d070" d="M298 1006l0-4 3-1 3 0 3 0 3-1 3 2 3 0 3-1 3 0 3 1 3 1 3-2 3 0 3 2 3-3 3 3 3-3 3 1 3-1 3 1 3-1 3 0 3 0 3 0 3 1 3 2 3-1 3 0 3-2 3 0 3 1 3 0 3 1 3 0 3-2 3 2 3-1 3 2 3-2 3-1 3 2 3 0 3 1 3-2 3 1 3-1 3 1 3-1 3 2 3-2 3 0 3 0 3 2 3-3 3 0 3 1 3 0 3-1 3 2 3-1 3 2 3-3 3 1 3 0 3 2 3-1 3-2 3 1 3 1 3 0 3 0 2 0V1006Z"/>
<g transform="scale(.2)" stroke-width="6" fill="none">
<path d="M1006 2282h6m6 0h6m12 0h6m12 0h6m6 0h6m54 0h6m-121 6h6m6 0h6m24 0h6m24 0h6m6 0h6m0 0h6m36 0h6m30 0h6m18 0h6m18 0h6m0 0h6m-265 6h6m6 0h6m18 0h6m0 0h6m60 0h6m108 0h6m60 0h6m-251 6h6m72 0h6m30 0h6m-162 6h6m6 0h6m48 0h6m42 0h6m138 0h6m-289 6h6m36 0h6m270 0h6m-277 5h6m24 0h6m78 0h6m54 0h6m-234 6h6m228 0h6m-238 6h6m192 0h6m66 0h6m-288 6h6m204 0h6m12 0h6m-103 6h6m60 0h6m0 0h6m120 0h6m-270 6h6m18 0h6m120 0h6m78 0h6m-283 6h6m24 0h6m42 0h6m48 0h6m36 0h6m96 0h6m-168 6h6m30 0h6m90 0h6m48 0h6m-387 6h6m48 0h6m120 0h6m186 0h6m-398 6h6m42 6h6m-84 6h6m0 0h6m0 0h6m-89 6h6m24 0h6m36 0h6m0 6h6" stroke="#2a3a80"/>
<path d="M1048 2282h6m42 0h6m6 0h6m18 0h6m6 0h6m12 0h6m18 0h6m-205 6h6m246 0h6m-187 6h6m6 0h6m12 0h6m-89 6h6m0 0h6m18 0h6m120 0h6m30 0h6m-84 6h6m-19 6h6m42 0h6m-205 5h6m102 0h6m-144 6h6m36 0h6m42 0h6m198 0h6m-166 6h6m6 0h6m36 0h6m60 0h6m78 0h6m-294 6h6m90 0h6m138 0h6m-313 6h6m42 0h6m0 0h6m72 0h6m6 0h6m12 0h6m-96 6h6m42 0h6m180 0h6m-193 6h6m18 0h6m0 0h6m204 0h6m-336 6h6m96 0h6m228 0h6m-243 6h6m90 0h6m-158 6h6m-144 6h6m6 0h6m60 0h6m30 0h6m18 0h6m-222 6h6m144 0h6m-161 6h6" stroke="#6a5aa8"/>
<path d="M1072 2282h6m24 0h6m6 0h6m36 0h6m60 0h6m-199 6h6m24 0h6m12 0h6m90 0h6m36 0h6m36 0h6m6 0h6m-235 6h6m48 0h6m0 0h6m36 0h6m36 0h6m0 0h6m18 0h6m30 0h6m-287 6h6m96 0h6m48 0h6m12 0h6m36 0h6m60 0h6m-312 6h6m42 0h6m6 0h6m0 0h6m144 0h6m6 0h6m18 0h6m6 0h6m-284 11h6m-16 12h6m0 0h6m-12 6h6m-1 6h6m-49 12h6m-29 18h6m-18 6h6m12 0h6m-102 6h6m-29 6h6" stroke="#40a8c0"/>
<path d="M1168 2282h6m-139 6h6m150 0h6m-121 6h6m36 0h6m48 0h6m24 0h6m48 0h6m-209 6h6m180 0h6m12 0h6m-294 6h6m-7 6h6m-97 47h6m-5 12h6m-12 6h6m-66 6h6m0 0h6m-53 6h6" stroke="#3060a8"/>
<path d="M1204 2282h6m-205 6h6m-43 6h6m30 0h6m210 0h6m42 0h6m-95 6h6m30 0h6m-283 12h6m11 11h6m-41 18h6m-37 18h6m-53 12h6m18 0h6m-42 6h6m0 0h6" stroke="#c05088"/>
<path d="M1017 2288h6m48 0h6m-25 6h6m90 0h6m-203 12h6m312 0h6m-301 6h6m-13 5h6m-54 6h6m14 6h6m-55 18h6m12 0h6m-54 30h6m-120 6h6" stroke="#70a0d0"/>
<path d="M1035 2306h6m60 0h6m-85 6h6m36 0h6m-91 5h6m144 0h6m6 0h6m6 0h6m96 0h6m-66 6h6m12 0h6m42 0h6m-184 6h6m66 0h6m-138 6h6m126 0h6m18 0h6m-139 6h6m42 6h6m42 0h6m-85 6h6m0 0h6m126 0h6m-240 6h6m18 0h6m30 0h6m12 0h6m60 0h6m6 0h6m-213 6h6m66 0h6m54 0h6m6 0h6m84 0h6m84 0h6m-296 6h6m-53 18h6" stroke="#4a9a80"/>
<path d="M1047 2306h6m72 0h6m12 0h6m-133 6h6m18 0h6m12 0h6m24 0h6m78 0h6m24 0h6m6 0h6m18 0h6m0 0h6m-265 5h6m18 0h6m108 0h6m36 0h6m30 0h6m0 0h6m0 0h6m18 0h6m6 0h6m6 0h6m6 0h6m-240 6h6m6 0h6m0 0h6m0 0h6m0 0h6m18 0h6m6 0h6m36 0h6m18 0h6m12 0h6m12 0h6m18 0h6m-268 6h6m6 0h6m24 0h6m18 0h6m12 0h6m30 0h6m108 0h6m36 0h6m-222 6h6m54 0h6m0 0h6m96 0h6m54 0h6m-91 6h6m12 0h6m18 0h6m48 0h6m-330 6h6m18 0h6m66 0h6m90 0h6m78 0h6m-301 6h6m0 0h6m24 0h6m42 0h6m84 0h6m0 0h6m36 0h6m6 0h6m-240 6h6m18 0h6m6 0h6m180 0h6m0 0h6m84 0h6m-351 6h6m54 0h6m138 0h6m6 0h6m54 0h6m78 0h6m-374 6h6m18 0h6m0 0h6m66 0h6m-114 6h6m48 0h6m0 0h6m0 0h6m-72 6h6m42 0h6m-161 6h6m30 0h6m36 0h6m-114 6h6m0 0h6m18 0h6m72 0h6" stroke="#78c0d8"/>
<path d="M1059 2306h6m6 0h6m0 0h6m-49 6h6m12 0h6m36 0h6m18 0h6m0 0h6m18 0h6m12 0h6m12 0h6m-187 5h6m48 0h6m18 0h6m48 0h6m-156 6h6m18 0h6m60 0h6m42 0h6m24 0h6m66 0h6m-280 6h6m0 0h6m30 0h6m0 0h6m42 0h6m12 0h6m60 0h6m54 0h6m-252 6h6m18 0h6m36 0h6m18 0h6m66 0h6m54 0h6m18 0h6m66 0h6m-295 6h6m0 0h6m24 0h6m60 0h6m36 0h6m72 0h6m42 0h6m-72 6h6m12 0h6m6 0h6m48 0h6m-325 6h6m0 0h6m24 0h6m36 0h6m66 0h6m18 0h6m90 0h6m6 0h6m6 0h6m-342 6h6m12 0h6m48 0h6m0 0h6m18 0h6m6 0h6m72 0h6m66 0h6m42 0h6m0 0h6m0 0h6m0 0h6m-303 6h6m60 0h6m24 0h6m6 0h6m24 0h6m78 0h6m18 0h6m12 0h6m30 0h6m-314 6h6m0 0h6m24 0h6m36 0h6m-114 6h6m60 0h6m-78 6h6m6 0h6m-35 6h6m6 0h6m0 0h6m-138 6h6m18 0h6m6 0h6m0 0h6m36 0h6m0 0h6" stroke="#3a78b8"/>
<path d="M1112 2371h6m-102 6h6m90 0h6m30 0h6m0 0h6m30 0h6m54 0h6m6 0h6m-300 6h6m6 0h6m6 0h6m24 0h6m18 0h6m30 0h6m150 0h6m12 0h6m-311 6h6m18 0h6m0 0h6m48 0h6m36 0h6m-192 6h6m18 0h6m192 0h6m-374 6h6m258 0h6m6 0h6m138 0h6m30 0h6m0 0h6m0 0h6m48 0h6m-435 6h6m150 0h6m24 0h6m132 0h6m0 0h6m-320 6h6m30 0h6m42 0h6m270 0h6m0 0h6m0 0h6m12 0h6" stroke="#3f8a3a"/>
<path d="M1142 2371h6m18 0h6m30 0h6m-12 6h6m-252 6h6m168 0h6m0 0h6m54 0h6m-257 6h6m12 0h6m78 0h6m180 0h6m-464 12h6m30 0h6m84 0h6m12 0h6m66 0h6m78 0h6m54 0h6m84 0h6m-429 6h6m12 0h6m96 0h6m84 0h6m24 0h6m54 0h6m-302 6h6m222 0h6m90 0h6m0 0h6m54 0h6" stroke="#c0d048"/>
<path d="M1154 2371h6m0 0h6m54 0h6m6 0h6m12 0h6m0 0h6m6 0h6m-276 6h6m54 0h6m12 0h6m18 0h6m24 0h6m24 0h6m6 0h6m0 0h6m-228 6h6m12 0h6m108 0h6m18 0h6m0 0h6m30 0h6m-71 6h6m126 0h6m24 0h6m-276 6h6m72 0h6m144 0h6m-452 6h6m12 0h6m66 0h6m12 0h6m162 0h6m0 0h6m36 0h6m48 0h6m78 0h6m6 0h6m6 0h6m-507 6h6m192 0h6m24 0h6m30 0h6m120 0h6m0 0h6m0 0h6m84 0h6m-500 6h6m18 0h6m0 0h6m78 0h6m18 0h6m6 0h6m6 0h6m48 0h6m0 0h6m24 0h6m0 0h6m84 0h6m0 0h6m6 0h6m18 0h6m18 0h6m0 0h6m30 0h6m42 0h6m12 0h6" stroke="#98c850"/>
<path d="M1142 2377h6m120 6h6m-107 6h6m6 0h6m0 0h6m78 0h6m-330 6h6m54 0h6m96 0h6m30 0h6m6 0h6m90 0h6m-434 6h6m426 0h6m-495 6h6m216 0h6m132 0h6m-320 6h6m6 0h6m6 0h6m24 0h6m78 0h6m240 0h6" stroke="#40a0a0"/>
<path d="M745 2419h6m12 0h6m30 0h6m12 0h6m24 0h6m6 0h6m24 0h6m6 0h6m0 0h6m6 0h6m18 0h6m60 0h6m6 0h6m24 0h6m12 0h6m6 0h6m36 0h6m0 0h6m12 0h6m0 0h6m6 0h6m18 0h6m12 0h6m0 0h6m54 0h6" stroke="#62ae44"/>
<path d="M829 2419h6m150 0h6m42 0h6m-268 6h6m384 0h6m18 0h6m-404 6h6m0 0h6m24 0h6m102 0h6m54 0h6m6 0h6m0 0h6m12 0h6m24 0h6m60 0h6m48 0h6m12 0h6m0 0h6m0 0h6m6 0h6m12 0h6m12 0h6" stroke="#f08a3a"/>
<path d="M783 2425h6m6 0h6m24 0h6m36 0h6m0 0h6m12 0h6m72 0h6m6 0h6m0 0h6m60 0h6m78 0h6m6 0h6m78 0h6m0 0h6m6 0h6m12 0h6m-468 30h6m0 0h6m12 0h6m0 0h6m30 0h6m18 0h6m0 0h6m18 0h6m12 0h6m0 0h6m12 0h6m12 0h6m12 0h6m24 0h6m0 0h6m12 0h6m6 0h6m0 0h6m42 0h6m6 0h6m12 0h6m18 0h6m72 0h6m6 0h6" stroke="#e21c2c"/>
<path d="M757 2431h6m54 0h6m390 0h6m42 0h6m-515 6h6m60 0h6m108 0h6m288 0h6m-409 6h6m12 0h6m60 0h6m12 0h6m168 0h6m30 0h6m6 0h6m96 0h6m-473 6h6m12 0h6m234 0h6m6 0h6" stroke="#b81030"/>
<path d="M746 2449h6m6 0h6m30 0h6m12 0h6m60 0h6m48 0h6m30 0h6m24 0h6m18 0h6m42 0h6m12 0h6m30 0h6m0 0h6m24 0h6m12 0h6m12 0h6m6 0h6m18 0h6m0 0h6m-491 48h6m0 0h6m18 0h6m30 0h6m6 0h6m6 0h6m12 0h6m48 0h6m30 0h6m18 0h6m18 0h6m42 0h6m12 0h6m48 0h6m54 0h6m12 0h6m12 0h6m30 0h6m6 0h6" stroke="#f264a2"/>
<path d="M921 2455h6m102 0h6m-248 6h6m96 0h6m150 0h6m72 0h6m54 0h6m12 0h6m66 0h6m-479 6h6m12 0h6m138 0h6m198 0h6m54 0h6m-247 6h6m102 0h6m6 0h6m30 0h6m84 0h6m-459 6h6m432 0h6m-458 6h6m0 0h6m42 0h6m18 0h6m306 0h6m-366 6h6m168 0h6m60 0h6m114 0h6m0 0h6m24 0h6m24 0h6" stroke="#e8407a"/>
<path d="M758 2491h6m6 0h6m66 0h6m18 0h6m0 0h6m24 0h6m12 0h6m6 0h6m0 0h6m0 0h6m0 0h6m36 0h6m90 0h6m6 0h6m0 0h6m54 0h6m6 0h6m24 0h6m0 0h6m6 0h6m12 0h6m12 0h6m-484 18h6m18 0h6m6 0h6m12 0h6m84 0h6m0 0h6m30 0h6m6 0h6m18 0h6m6 0h6m12 0h6m0 0h6m24 0h6m0 0h6m12 0h6m24 0h6m12 0h6m12 0h6m36 0h6m48 0h6m0 0h6m0 0h6" stroke="#c8183c"/>
<path d="M1023 2497h6m180 0h6m42 0h6m-235 6h6m90 0h6" stroke="#e03058"/>
<path d="M770 2503h6m12 0h6m0 0h6m42 0h6m72 0h6m0 0h6m0 0h6m6 0h6m18 0h6m12 0h6m12 0h6m0 0h6m18 0h6m42 0h6m6 0h6m18 0h6m6 0h6m30 0h6m30 0h6m48 0h6m-346 6h6m198 0h6m-309 6h6m150 0h6" stroke="#a8d070"/>
<path d="M855 1996h6m167 11h6m-23 1h6m-96 1h6m121 5h6m-180 5h6m183 6h6m170 0h6m6 2h6m-288 4h6m226 1h6m-306 1h6m252 0h6m-224 12h6m-32 5h6m351 17h6m-100 1h6m-28 5h6m-18 2h6m-138 5h6m125 5h6m-369 6h6m-11 2h6m469 0h6m-244 4h6m94 0h6m114 2h6m6 0h6m-143 10h6m77 0h6m47 0h6m-467 6h6m467 0h6m-197 1h6m19 1h6m-18 4h6m70 8h6m-149 4h6m184 1h6m-251 1h6m168 4h6m-156 1h6m153 0h6m88 0h6m-91 6h6m-101 6h6m78 0h6m-28 1h6m117 0h6m-159 4h6m-89 1h6m41 0h6m-119 1h6m-47 5h6m211 0h6m90 0h6m13 0h6m-72 1h6m53 0h6m48 0h6m-317 4h6m36 0h6m85 0h6m83 0h6m-157 1h6m74 0h6m10 0h6m114 0h6m-246 1h6m164 0h6m-299 4h6m274 0h6m-358 1h6m113 0h6m121 0h6m47 0h6m24 0h6m11 0h6m26 0h6m-133 1h6m115 0h6m24 0h6m-260 4h6m14 0h6m52 1h6m31 0h6m13 0h6m-103 1h6m-98 5h6m84 0h6m-209 1h6m-47 4h6m200 0h6m-1 0h6m0 8h6m-55 4h6m7 0h6m10 0h6m-29 1h6m16 5h6m-125 2h6m-30 4h6m108 1h6m-112 6h6m96 0h6m-31 11h6m-151 1h6m131 0h6m-40 7h6m-40 4h6m30 0h6m-104 6h6m24 0h6m30 0h6m28 0h6m6 0h6m-40 1h6m-13 5h6m-43 1h6m12 0h6m42 1h6m-16 4h6m-100 1h6m5 7h6m66 0h6m0 0h6m-12 5h6m-85 7h6m15 5h6m32 0h6m-42 6h6" stroke="#c84880"/>
<path d="M1005 1995h6m41 0h6m101 7h6m-318 1h6m344 10h6m-308 1h6m248 5h6m-391 6h6m48 2h6m262 4h6m-76 1h6m71 0h6m-290 11h6m33 0h6m361 2h6m-156 6h6m-5 5h6m-158 6h6m11 7h6m271 4h6m-77 8h6m-140 10h6m156 2h6m-40 4h6m-134 6h6m-35 1h6m-8 5h6m181 0h6m-154 1h6m65 0h6m125 0h6m19 1h6m-239 4h6m86 6h6m-260 1h6m409 0h6m-44 5h6m-472 2h6m423 4h6m-438 1h6m317 0h6m188 0h6m-260 1h6m128 0h6m77 0h6m-259 12h6m74 4h6m14 0h6m95 0h6m-229 1h6m72 0h6m224 0h6m-75 1h6m14 4h6m-126 1h6m49 0h6m95 0h6m13 0h6m-198 1h6m161 0h6m-109 4h6m-294 1h6m263 1h6m-90 4h6m1 0h6m36 0h6m-262 1h6m76 0h6m29 0h6m308 0h6m-109 1h6m53 0h6m7 0h6m-36 4h6m-358 1h6m244 1h6m103 0h6m-342 4h6m-96 1h6m114 1h6m149 0h6m-125 5h6m46 0h6m-56 5h6m-91 1h6m59 5h6m19 1h6m-44 1h6m32 5h6m-21 5h6m18 1h6m-84 1h6m-93 4h6m-50 1h6m133 1h6m-104 12h6m114 4h6m-155 2h6m-6 5h6m132 0h6m-46 5h6m-13 7h6m-55 1h6m29 0h6m32 0h6m-115 4h6m67 1h6m-24 12h6m-66 5h6m43 2h6m-21 5h6m-34 11h6m-12 2h6" stroke="#f090bc"/>
<path d="M856 2007h6m256 6h6m97 2h6m-161 5h6m49 25h6m117 23h6m-70 11h6m-131 2h6m-213 11h6m48 5h6m284 0h6m-211 2h6m210 0h6m40 4h6m1 7h6m-97 1h6m-251 6h6m73 4h6m205 1h6m-13 1h6m49 4h6m-302 1h6m61 0h6m199 1h6m-260 4h6m11 0h6m0 2h6m161 0h6m-81 4h6m53 2h6m-313 4h6m204 0h6m155 2h6m-50 4h6m-74 1h6m-119 1h6m102 0h6m108 0h6m7 0h6m-96 5h6m-378 1h6m182 4h6m224 1h6m-192 1h6m11 0h6m86 4h6m76 1h6m-60 1h6m-183 4h6m22 6h6m91 0h6m-158 1h6m75 0h6m-31 6h6m-107 6h6m40 0h6m-106 6h6m76 7h6m-119 6h6m130 0h6m-108 16h6m8 6h6m-48 14h6m-5 5h6m-20 6h6m47 1h6m-82 12h6m37 5h6m-68 13h6" stroke="#f4c0d8"/>
<path d="M1043 2007h6m117 12h6m-393 26h6m262 5h6m-257 5h6m7 0h6m431 19h6m-109 5h6m-361 6h6m432 7h6m-249 30h6m208 1h6m-288 5h6m288 0h6m36 12h6m-242 1h6m85 0h6m-24 10h6m-178 1h6m137 6h6m174 1h6m-168 5h6m16 1h6m-53 4h6m150 2h6m-125 4h6m-85 2h6m14 4h6m11 1h6m-307 12h6m129 0h6m75 7h6m-150 6h6m-6 17h6m97 5h6m-97 1h6m29 1h6m12 0h6m-47 12h6m-10 5h6m-19 5h6m-1 6h6m30 1h6m-114 25h6" stroke="#9a6080"/>
<path d="M1233 2176h6m13 0h6m-18 1h6m-66 4h6m10 0h6m12 0h6m-88 1h6m118 1h6m-169 4h6m114 0h6m7 0h6m-222 2h6m84 0h6m-113 4h6m79 0h6m41 1h6m79 0h6m-67 1h6m98 0h6m-189 4h6m21 0h6m-1 0h6m-56 1h6m48 0h6m3 0h6m17 0h6m126 0h6m-212 1h6m97 0h6m0 0h6m-137 4h6m-2 0h6m80 0h6m29 0h6m-66 1h6m-122 5h6m-11 1h6m97 0h6m34 0h6m36 0h6m65 0h6m14 0h6m-257 1h6m40 0h6m-108 4h6m192 0h6m0 0h6m30 0h6m30 0h6m-251 1h6m223 0h6m30 0h6m-253 1h6m24 0h6m84 0h6m18 0h6m11 0h6m66 0h6m-298 4h6m35 0h6m67 0h6m42 0h6m60 0h6m54 0h6m-229 1h6m36 0h6m125 0h6m67 0h6m-280 1h6m150 0h6m9 0h6m43 0h6m54 0h6m-305 4h6m40 0h6m50 0h6m46 0h6m2 0h6m77 0h6m5 0h6m-300 1h6m224 0h6m71 0h6m31 0h6m-330 1h6m34 0h6m67 0h6m7 0h6m-162 4h6m185 0h6m6 0h6m122 0h6m-278 1h6m60 0h6m43 0h6m76 0h6m1 0h6m0 0h6m44 0h6m18 0h6m6 0h6m-289 1h6m4 0h6m80 0h6m35 0h6m-142 4h6m4 0h6m14 0h6m54 0h6m46 0h6m43 0h6m10 0h6m31 0h6m1 0h6m-307 1h6m80 0h6m10 0h6m19 0h6m-96 1h6m23 0h6m20 0h6m149 0h6m23 0h6m49 0h6m-348 4h6m48 0h6m1 0h6m186 0h6m-270 1h6m264 0h6m30 0h6m-331 1h6m32 0h6m-1 0h6m16 0h6m9 0h6m222 0h6m-284 4h6m23 0h6m11 0h6m-42 1h6m-65 6h6m-1 0h6m78 0h6m-13 1h6m-37 4h6m-20 1h6m2 1h6m-33 6h6m-9 4h6m-26 1h6m6 1h6m30 0h6m-7 4h6m-18 2h6m-49 4h6m2 0h6m5 0h6m18 1h6m-73 1h6m-39 5h6m-2 0h6m25 0h6m0 1h6m-107 4h6m4 0h6m85 0h6m50 0h6m-97 2h6m19 0h6m47 0h6m-112 4h6m85 0h6m1 2h6m4 0h6m-136 4h6m7 0h6m77 0h6m-95 1h6m30 0h6m30 0h6m23 0h6m8 0h6m-12 6h6m-29 1h6m-57 4h6m11 0h6m8 0h6m10 0h6m-112 1h6m58 0h6m2 1h6m16 0h6m-65 4h6m18 0h6m47 0h6m-52 2h6m20 5h6m-74 1h6m25 0h6m42 0h6m-110 4h6m7 0h6m21 0h6m2 1h6m-1 0h6m0 0h6m-43 1h6m8 0h6m-25 4h6m-17 1h6m30 0h6m-18 1h6" stroke="#c83c78"/>
<path d="M1246 2177h6m4 0h6m-136 4h6m130 0h6m-227 7h6m95 0h6m31 0h6m35 0h6m-180 1h6m1 0h6m5 0h6m19 4h6m35 0h6m45 0h6m29 1h6m5 0h6m12 0h6m8 0h6m-264 1h6m28 0h6m61 0h6m47 0h6m12 0h6m24 0h6m-204 4h6m108 0h6m-1 0h6m134 0h6m-248 1h6m32 0h6m96 0h6m35 0h6m-1 0h6m-71 1h6m-138 4h6m1 0h6m5 0h6m121 0h6m35 0h6m67 0h6m-278 1h6m19 0h6m23 0h6m186 0h6m8 0h6m-294 1h6m166 0h6m92 0h6m-243 4h6m6 0h6m113 0h6m50 0h6m25 0h6m24 0h6m-188 1h6m30 0h6m86 0h6m24 0h6m-122 1h6m2 0h6m16 0h6m36 0h6m-221 4h6m73 0h6m64 0h6m67 0h6m67 0h6m-277 1h6m90 0h6m11 0h6m26 0h6m43 0h6m65 0h6m-313 1h6m144 0h6m72 0h6m60 0h6m-258 4h6m7 0h6m23 0h6m24 0h6m5 0h6m0 0h6m33 0h6m81 0h6m7 0h6m13 0h6m-1 0h6m-226 1h6m118 0h6m61 0h6m6 0h6m-259 1h6m38 0h6m18 0h6m-2 0h6m42 0h6m25 0h6m-108 4h6m10 0h6m43 0h6m0 0h6m37 0h6m18 0h6m90 0h6m-270 1h6m28 0h6m18 0h6m18 0h6m19 0h6m6 0h6m67 0h6m24 0h6m27 0h6m-123 1h6m54 0h6m42 0h6m-284 4h6m284 0h6m4 0h6m-334 1h6m54 0h6m149 0h6m12 0h6m55 0h6m-89 1h6m5 0h6m-253 4h6m5 0h6m145 0h6m8 0h6m46 0h6m7 0h6m65 0h6m0 0h6m-270 1h6m77 0h6m116 0h6m17 0h6m8 0h6m46 0h6m-328 1h6m172 0h6m38 0h6m-1 0h6m-222 4h6m216 0h6m17 0h6m1 0h6m13 0h6m-331 1h6m24 0h6m78 0h6m216 0h6m-324 1h6m36 0h6m205 0h6m4 0h6m55 0h6m0 0h6m1 0h6m-307 5h6m12 0h6m-48 1h6m3 4h6m-65 1h6m19 0h6m-30 5h6m12 1h6m8 0h6m-54 5h6m54 0h6m-44 1h6m55 1h6m-16 4h6m-74 1h6m38 0h6m5 1h6m18 0h6m-20 4h6m-61 1h6m19 0h6m-13 1h6m-40 4h6m-26 1h6m59 0h6m-77 1h6m25 0h6m11 0h6m31 0h6m-30 4h6m1 0h6m-84 1h6m12 0h6m19 0h6m6 0h6m-48 1h6m34 4h6m-100 1h6m49 0h6m4 0h6m14 0h6m11 1h6m-64 4h6m6 0h6m9 0h6m15 0h6m-113 1h6m-16 5h6m41 1h6m-9 5h6m47 0h6m11 0h6m-66 1h6m-60 1h6m32 0h6m24 0h6m46 0h6m-127 5h6m106 0h6m2 0h6m-90 1h6m36 0h6m-40 4h6m34 0h6m6 0h6m-95 1h6m89 0h6m-95 1h6m-6 4h6m20 0h6m17 2h6m-44 4h6m48 0h6m-24 1h6m-1 1h6m-78 5h6m17 0h6m7 1h6" stroke="#e878a8"/>
<path d="M1114 2181h6m83 2h6m-62 4h6m-149 1h6m72 0h6m29 1h6m15 5h6m42 0h6m23 7h6m-121 4h6m126 2h6m17 5h6m-113 1h6m65 4h6m-150 1h6m189 0h6m-206 5h6m104 2h6m-104 5h6m5 5h6m-71 1h6m43 0h6m136 0h6m-155 1h6m119 0h6m-256 4h6m143 0h6m145 1h6m-108 1h6m109 6h6m-295 6h6m-31 4h6m5 0h6m-9 6h6m-114 12h6m64 6h6m13 0h6m-54 13h6m12 1h6m-25 5h6m-2 6h6m-80 6h6m47 1h6m-102 11h6m42 11h6m-47 1h6m-24 1h6m-14 4h6m66 1h6" stroke="#3a3068"/>
<path d="M1221 2182h6m19 0h6m-129 5h6m81 0h6m48 0h6m-126 6h6m48 0h6m-163 1h6m73 0h6m66 5h6m41 0h6m-18 1h6m13 0h6m-54 1h6m55 0h6m-91 4h6m42 0h6m-18 1h6m-2 1h6m-191 4h6m28 1h6m8 0h6m120 0h6m-186 1h6m5 0h6m19 6h6m18 0h6m83 0h6m30 0h6m-113 4h6m-168 1h6m223 0h6m96 0h6m-339 5h6m7 0h6m48 1h6m35 0h6m150 0h6m19 0h6m-251 1h6m120 0h6m54 0h6m-157 4h6m30 0h6m155 0h6m-118 1h6m-83 1h6m4 0h6m161 0h6m1 0h6m-202 4h6m99 0h6m1 0h6m-179 1h6m11 0h6m79 0h6m193 0h6m6 0h6m-164 1h6m138 4h6m-102 1h6m109 0h6m-277 1h6m-102 4h6m71 1h6m-88 1h6m-12 5h6m60 6h6m-77 5h6m36 1h6m-61 1h6m14 0h6m34 0h6m-40 4h6m29 1h6m-102 1h6m36 18h6m22 0h6m-90 6h6m25 0h6m-55 5h6m-1 0h6m72 5h6m-69 2h6m-85 4h6m92 2h6m-86 4h6m10 0h6m72 0h6m-16 1h6m-103 5h6m-13 1h6m69 0h6m-17 5h6m-68 2h6m6 10h6" stroke="#7a2a58"/>
<path d="M1017 2248h6m78 0h6m1 0h6m-50 1h6m19 0h6m55 0h6m23 4h6m-193 1h6m1 0h6m156 0h6m52 0h6m-124 1h6m17 0h6m5 0h6m116 0h6m-278 4h6m6 0h6m67 0h6m1 0h6m65 0h6m41 0h6m-199 1h6m146 0h6m22 0h6m50 0h6m30 0h6m-234 1h6m179 0h6m-263 4h6m37 0h6m234 0h6m-293 1h6m66 0h6m151 0h6m21 1h6m0 0h6m-258 4h6m150 0h6m32 0h6m-224 1h6m109 0h6m1 0h6m16 0h6m115 0h6m5 0h6m-273 1h6m5 0h6m12 0h6m4 0h6m19 0h6m175 0h6m-233 4h6m18 0h6m10 0h6m8 0h6m29 0h6m23 0h6m48 0h6m55 0h6m-228 1h6m18 0h6m211 0h6m4 0h6m-250 1h6m233 0h6m-243 4h6m229 0h6m-1 0h6m1 0h6m-50 1h6m8 0h6m-49 1h6m-230 12h6m5 0h6m-56 4h6m6 2h6m2 0h6m-38 6h6m-1 0h6m15 5h6m-37 6h6m19 0h6m-43 11h6m13 2h6m-37 4h6m13 0h6m-37 2h6m21 5h6m-77 6h6m41 0h6m12 0h6m-51 1h6m-38 4h6m8 0h6m-48 1h6m18 1h6m3 0h6m36 0h6m20 0h6m-71 5h6m49 1h6m-121 4h6m-2 0h6m80 1h6m5 0h6m-91 1h6m12 0h6m18 0h6m12 0h6m24 0h6m-71 4h6m7 1h6m7 5h6m0 1h6" stroke="#c04880"/>
<path d="M1024 2247h6m42 1h6m-26 1h6m63 0h6m-32 4h6m29 0h6m13 1h6m35 1h6m-91 4h6m114 1h6m18 0h6m-145 1h6m25 0h6m17 0h6m-158 4h6m31 0h6m-2 0h6m72 0h6m102 0h6m-281 1h6m155 0h6m115 0h6m-163 1h6m176 0h6m-229 4h6m78 1h6m64 0h6m55 0h6m-84 5h6m-178 1h6m71 0h6m29 1h6m80 0h6m-233 5h6m276 1h6m-329 5h6m7 5h6m-47 2h6m6 0h6m19 5h6m-19 1h6m-13 4h6m-18 1h6m-24 5h6m-10 2h6m-7 12h6m-22 11h6m-52 5h6m26 2h6m-68 4h6m29 0h6m8 0h6m18 2h6m-140 4h6m121 0h6m-84 2h6m-23 11h6m-17 12h6m42 0h6m-12 1h6m-55 4h6" stroke="#5a70b0"/>
<path d="M1029 2247h6m11 0h6m79 0h6m-94 2h6m-2 4h6m0 0h6m22 0h6m26 0h6m150 0h6m-288 1h6m126 0h6m18 0h6m76 0h6m-220 1h6m58 0h6m182 0h6m-297 4h6m12 0h6m18 0h6m222 0h6m-114 1h6m19 0h6m90 0h6m-160 5h6m54 0h6m-187 1h6m12 0h6m67 0h6m133 0h6m-150 1h6m84 0h6m22 0h6m61 0h6m-102 4h6m-36 1h6m35 0h6m56 0h6m-150 1h6m5 0h6m145 0h6m-288 4h6m1 0h6m54 0h6m95 0h6m54 0h6m23 0h6m-178 1h6m12 0h6m4 0h6m14 0h6m4 0h6m-160 1h6m9 4h6m5 0h6m-30 1h6m265 0h6m-19 1h6m-292 5h6m0 0h6m22 0h6m5 0h6m-38 5h6m-13 2h6m-24 10h6m1 6h6m-19 1h6m18 0h6m-25 1h6m-2 10h6m-57 6h6m22 1h6m-46 5h6m43 1h6m-57 5h6m-12 1h6m8 1h6m-39 4h6m25 1h6m-36 5h6m2 1h6m16 0h6m1 0h6m-121 1h6m4 4h6m17 0h6m7 2h6m6 0h6m9 5h6m7 0h6m-50 1h6m2 0h6m-41 4h6m41 0h6m-67 1h6m30 0h6m44 0h6m-85 5h6m11 0h6m12 1h6m-12 1h6" stroke="#8a3a70"/>
<path d="M1061 2247h6m16 0h6m6 0h6m25 1h6m-55 1h6m54 0h6m0 0h6m-85 4h6m18 0h6m101 0h6m-196 1h6m17 0h6m26 0h6m4 0h6m126 0h6m31 0h6m7 0h6m-243 1h6m2 0h6m11 0h6m107 0h6m73 0h6m5 0h6m-120 4h6m65 0h6m-178 1h6m23 0h6m109 0h6m41 0h6m-217 1h6m49 0h6m17 0h6m1 0h6m109 0h6m-95 4h6m18 0h6m30 0h6m37 0h6m-151 1h6m1 0h6m172 0h6m-280 1h6m1 0h6m29 0h6m59 0h6m12 0h6m18 0h6m25 0h6m29 0h6m-257 4h6m202 0h6m13 0h6m67 0h6m-269 1h6m59 0h6m-2 0h6m43 0h6m126 0h6m-228 1h6m161 0h6m78 0h6m-287 4h6m-18 1h6m156 0h6m19 0h6m6 0h6m1 0h6m18 0h6m-253 1h6m150 0h6m25 0h6m-1 0h6m109 0h6m-321 4h6m18 0h6m250 0h6m-275 1h6m29 0h6m200 0h6m-264 1h6m244 0h6m55 0h6m-1 0h6m-316 5h6m-10 7h6m-7 4h6m-42 1h6m7 0h6m10 11h6m-57 6h6m17 0h6m13 1h6m-30 1h6m6 0h6m-10 5h6m-36 1h6m0 0h6m7 0h6m-1 4h6m-42 1h6m12 0h6m3 6h6m-62 5h6m22 1h6m-84 5h6m14 0h6m-19 2h6m-22 5h6m1 5h6m5 0h6m32 0h6m-67 1h6m-35 1h6m-3 0h6m7 0h6m50 0h6m-2 0h6m2 0h6m10 4h6m-49 1h6m-49 1h6m50 0h6m1 5h6m0 0h6m-59 1h6m-3 0h6m42 4h6m-64 1h6m-1 5h6m-19 1h6m0 1h6" stroke="#3a2a60"/>
<path d="M1113 2249h6m66 4h6m17 0h6m1 0h6m-115 1h6m-13 5h6m-66 1h6m72 0h6m-42 1h6m37 0h6m82 0h6m49 0h6m-101 4h6m-174 1h6m180 1h6m18 0h6m-185 5h6m0 0h6m74 0h6m-14 1h6m31 0h6m35 0h6m61 0h6m-179 4h6m136 0h6m38 0h6m-330 2h6m-15 4h6m46 0h6m194 0h6m-227 6h6m-39 18h6m-16 1h6m11 1h6m-41 18h6m-36 4h6m5 19h6m-71 1h6m-61 5h6m73 1h6m9 4h6m-98 2h6m-33 5h6m20 5h6m-15 1h6m-19 1h6m88 0h6m-96 4h6m42 2h6m-58 4h6" stroke="#6a5098"/>
</g>
<rect x="155.3" y="466" width="1.4" height="37" fill="#fff6f8"/>
<path d="M255.4 398V503.4H149" fill="none" stroke="#d4d0d8" stroke-width="0.8"/>
<path d="M148.6 398V503" fill="none" stroke="#c8c4cc" stroke-width="0.8"/>
<path d="M148.2 397.6H255.8" fill="none" stroke="#a8a4b4" stroke-width="0.9"/>
<path d="M148.6 399.8v1.3M148.6 403.9v1.3M148.6 408.1v1.3M148.6 412.2v1.3M148.6 416.4v1.3M148.6 420.6v1.3M148.6 424.7v1.3M148.6 428.9v1.3M148.6 433v1.3M148.6 437.2v1.3M148.6 441.3v1.3M148.6 445.5v1.3M148.6 449.6v1.3M148.6 453.8v1.3M148.6 457.9v1.3M148.6 462.1v1.3M148.6 466.2v1.3M148.6 470.4v1.3M148.6 474.5v1.3M148.6 478.7v1.3M148.6 482.8v1.3M148.6 487v1.3M148.6 491.1v1.3M148.6 495.2v1.3" stroke="#8a8a8a" stroke-width="1.1" fill="none"/>
<rect x="143" y="400" width="3.6" height="9" fill="#e2e0e6"/>
<rect x="256.5" y="400" width="3.6" height="9" fill="#e2e0e6"/>
<path d="M155.3 433.5V454" stroke="#1a1a1a" stroke-width="1.3"/>
<path d="M149.5 453L161.1 453L155.3 464.7Z" fill="#111"/>
<rect x="265" y="46" width="105" height="103" fill="#fff"/>
<path transform="scale(.5)" fill="#4078b8" d="M530 297l0-58 3 0 3 0V297Z"/>
<path transform="scale(.5)" fill="#44aacb" d="M530 297l0-48 3-3 3 2V297Z"/>
<path transform="scale(.5)" fill="#62ae44" d="M530 297l0-42 3 2 3-1V297Z"/>
<path transform="scale(.5)" fill="#f08a3a" d="M530 297l0-31 3 1 3-1V297Z"/>
<path transform="scale(.5)" fill="#e21c2c" d="M530 297l0-25 3 0 3 1V297Z"/>
<path transform="scale(.5)" fill="#f264a2" d="M530 297l0-12 3 0 3 1V297Z"/>
<path transform="scale(.5)" fill="#1c3a88" d="M530 297l0-5 3 0 3-2V297Z"/>
<path transform="scale(.5)" fill="#4078b8" d="M538 297l0-64 3-10 3-6 3-3 3-2 3-1 3-1 3 2 3-2 3 2 3 2 3-2 3 0 3 3 3 0 3 1 3 0 3 2 3 1 3 2 3-1 3 4 3 0 3 2 3 2V297Z"/>
<path transform="scale(.5)" fill="#44aacb" d="M538 297l0-57 3-2 3 1 3-3 3 1 3-3 3-2 3 3 3 0 3 0 3 1 3 0 3 1 3 0 3 0 3 2 3-1 3 1 3-1 3 1 3 3 3-1 3 0 3 0 3 1V297Z"/>
<path transform="scale(.5)" fill="#62ae44" d="M538 297l0-48 3 2 3-2 3 1 3 0 3-3 3 3 3-1 3 0 3-2 3 2 3 0 3 0 3-1 3 3 3 0 3-1 3 0 3 2 3 0 3-1 3 1 3 1 3-1 3 0V297Z"/>
<path transform="scale(.5)" fill="#f08a3a" d="M538 297l0-32 3 2 3 0 3-1 3 1 3 0 3-1 3 0 3 0 3-1 3-1 3 2 3-1 3 1 3-1 3 0 3 0 3 1 3-1 3 0 3 2 3 0 3 0 3-1 3 0V297Z"/>
<path transform="scale(.5)" fill="#e21c2c" d="M538 297l0-23 3-2 3 1 3-2 3 3 3-1 3 0 3-2 3 0 3 1 3 2 3-2 3-1 3 3 3-2 3 2 3 0 3-3 3 2 3 0 3-1 3 1 3-1 3 0 3 1V297Z"/>
<path transform="scale(.5)" fill="#f264a2" d="M538 297l0-12 3 0 3 2 3 0 3-2 3 0 3 1 3-2 3 2 3 0 3-1 3 2 3-3 3 1 3 1 3-1 3 0 3 0 3-1 3 2 3-1 3 1 3 1 3-1 3 0V297Z"/>
<path transform="scale(.5)" fill="#1c3a88" d="M538 297l0-7 3 0 3-1 3 0 3 2 3-2 3 0 3 3 3-3 3 2 3 0 3-2 3 0 3 1 3 0 3 0 3-1 3 0 3 1 3 0 3 0 3 0 3 1 3-1 3 0V297Z"/>
<path transform="scale(.5)" fill="#4078b8" d="M612 297l0-68 3-1 3 2 3 1 3-1 3 0 3 0 3 0 3 0 3 1 3-1 3-1 3 0 3-1 1 2V297Z"/>
<path transform="scale(.5)" fill="#44aacb" d="M612 297l0-51 3-1 3 0 3 1 3-2 3 1 3 1 3-2 3 2 3 0 3-2 3 2 3-3 3 3 1-1V297Z"/>
<path transform="scale(.5)" fill="#62ae44" d="M612 297l0-43 3 1 3 0 3 1 3-1 3 0 3 0 3 0 3-1 3 0 3 2 3-1 3-1 3 2 1-1V297Z"/>
<path transform="scale(.5)" fill="#f08a3a" d="M612 297l0-28 3 0 3 0 3-2 3 1 3-1 3 0 3 1 3 0 3 1 3-1 3-1 3 0 3 0 1 1V297Z"/>
<path transform="scale(.5)" fill="#e21c2c" d="M612 297l0-24 3-1 3 2 3 0 3-2 3 0 3 0 3 2 3 0 3-2 3 2 3-2 3 2 3-2 1 1V297Z"/>
<path transform="scale(.5)" fill="#f264a2" d="M612 297l0-10 3-1 3-2 3 1 3 0 3 2 3-3 3 1 3-1 3 2 3 0 3 0 3 0 3 1 1-1V297Z"/>
<path transform="scale(.5)" fill="#1c3a88" d="M612 297l0-5 3-2 3-1 3 0 3 2 3-1 3-1 3 0 3 2 3-1 3-1 3 3 3-3 3 0 1 1V297Z"/>
<path transform="scale(.5)" fill="#4078b8" d="M654 297l0-58 3-1 3 2 3-2 3 1 3 0 3-1 3 1 3-2 3 1 3 0 3 1 3 0 3-1 3 1 3 0 3 1 3-2 3 2 3-1 3-1 3 1 3-1 3 2 3 0 3-1 3-1 3 1 3 0 2 1V297Z"/>
<path transform="scale(.5)" fill="#44aacb" d="M654 297l0-48 3-2 3 1 3 1 3 1 3-3 3 1 3-1 3 1 3 1 3 0 3 1 3-2 3 0 3 2 3-1 3 0 3 0 3 0 3 1 3-1 3 1 3-2 3 3 3-2 3 1 3-1 3 0 3 2 2-1V297Z"/>
<path transform="scale(.5)" fill="#62ae44" d="M654 297l0-37 3-1 3 2 3-2 3 2 3-1 3 0 3 0 3 0 3 0 3-1 3 2 3 0 3-1 3-1 3 1 3 2 3-1 3-1 3 0 3 0 3-1 3 3 3-2 3 1 3 1 3-3 3 3 3-2 2 1V297Z"/>
<path transform="scale(.5)" fill="#f08a3a" d="M654 297l0-25 3-1 3 0 3 0 3-1 3 0 3 1 3 2 3-2 3 0 3 1 3 0 3-1 3 0 3-1 3 3 3-3 3 1 3 1 3-1 3 0 3 1 3-1 3-1 3 0 3 1 3-1 3 1 3 1 2-1V297Z"/>
<path transform="scale(.5)" fill="#e21c2c" d="M654 297l0-22 3-1 3 0 3 3 3-2 3 1 3-2 3 2 3-1 3 0 3-1 3 0 3 0 3 0 3 1 3 0 3-1 3 2 3-2 3-1 3 2 3 0 3 0 3 1 3 0 3-3 3 2 3-1 3 0 2 1V297Z"/>
<path transform="scale(.5)" fill="#f264a2" d="M654 297l0-10 3 0 3 1 3-2 3 0 3 0 3 1 3 1 3-2 3 2 3 1 3-2 3 1 3 0 3 0 3-2 3 1 3 1 3-1 3 2 3-2 3 0 3 1 3-2 3 2 3-2 3 2 3 0 3 0 2-1V297Z"/>
<path transform="scale(.5)" fill="#1c3a88" d="M654 297l0-7 3 0 3 0 3 0 3 0 3 1 3-1 3 1 3 1 3-1 3-2 3 2 3 0 3-2 3 2 3 1 3 0 3-3 3 2 3 0 3-2 3 2 3 0 3 1 3-1 3-2 3 2 3-1 3 1 2-1V297Z"/>
<g transform="scale(.2)" stroke-width="6" fill="none">
<path d="M1384 534h6m12 0h6m-37 6h6m54 0h6m-53 6h6m24 0h6m24 0h6m-75 6h6m12 0h6m-34 6h6m36 0h6m24 0h6m48 0h6m-121 6h6m-12 6h6m18 0h6m0 0h6m6 0h6m0 6h6m60 0h6m12 0h6m24 2h6m48 0h6m-155 4h6m18 0h6m42 0h6m40 2h6m48 0h6m0 0h6m-264 4h6m0 0h6m18 0h6m12 0h6m6 0h6m6 0h6m36 0h6m6 0h6m30 0h6m61 2h6m30 0h6m-131 10h6m113 2h6m0 0h6m99 2h6m6 0h6m42 0h6m12 0h6m12 0h6m-497 4h6m0 0h6m318 2h6m12 0h6m-101 4h6m-259 6h6m300 2h6m12 0h6m120 0h6m0 0h6" stroke="#40a8c0"/>
<path d="M1396 534h6m30 12h6m-33 6h6m0 0h6m36 0h6m-70 6h6m6 0h6m-7 6h6m18 0h6m72 6h6m6 0h6m102 8h6m-251 4h6m48 0h6m36 0h6m-37 12h6m90 8h6m48 0h6m45 2h6m30 0h6m108 0h6m-266 4h6m60 0h6m135 2h6m18 0h6m-439 4h6m224 0h6m190 2h6" stroke="#c05088"/>
<path d="M1388 594h6m24 0h6m-29 6h6m12 0h6m12 0h6m12 0h6m6 0h6m-83 6h6m102 0h6m-92 6h6m-18 6h6m48 0h6m0 0h6m6 0h6m18 0h6m6 0h6m79 2h6m-221 4h6m60 0h6m24 0h6m148 2h6m86 2h6m0 0h6m42 0h6m36 0h6m24 0h6m-342 2h6m-184 2h6m304 2h6m12 0h6m60 0h6m30 0h6m-231 4h6m66 0h6m71 2h6m18 0h6m24 0h6m12 0h6m24 0h6m54 0h6m-169 6h6m30 0h6m66 0h6m-138 6h6m18 0h6m72 0h6m84 0h6" stroke="#78c0d8"/>
<path d="M1394 594h6m-41 6h6m12 0h6m0 0h6m18 0h6m-53 6h6m54 0h6m24 0h6m12 0h6m30 0h6m-140 6h6m42 0h6m-66 6h6m48 0h6m12 0h6m48 0h6m18 0h6m31 2h6m-203 4h6m72 0h6m0 0h6m12 0h6m30 0h6m174 4h6m30 0h6m0 0h6m24 0h6m36 0h6m42 0h6m-324 2h6m-178 2h6m206 0h6m30 0h6m6 0h6m44 2h6m12 0h6m0 0h6m12 0h6m18 0h6m18 0h6m0 0h6m30 0h6m-231 4h6m0 0h6m0 0h6m36 0h6m29 2h6m42 0h6m0 0h6m54 0h6m0 0h6m6 0h6m24 0h6m24 0h6m6 0h6m-121 6h6m30 0h6m60 0h6m-168 6h6m30 0h6m66 0h6m0 0h6" stroke="#3a78b8"/>
<path d="M1400 594h6m0 0h6m-23 6h6m13 6h6m48 0h6m6 0h6m30 0h6m-164 6h6m6 0h6m18 0h6m42 0h6m54 0h6m61 8h6m12 0h6m36 0h6m-155 4h6m12 0h6m6 0h6m82 2h6m56 2h6m-162 2h6m264 4h6m-440 4h6m257 0h6m46 14h6m30 0h6m0 0h6m18 0h6m42 0h6m0 0h6m18 0h6m18 0h6m18 0h6" stroke="#4a9a80"/>
<path d="M1437 672h6m5 6h6m0 0h6m-132 1h6m196 1h6m111 2h6m-122 4h6m30 0h6m36 0h6m154 2h6m-393 2h6m108 0h6m18 0h6m147 4h6m24 0h6m12 0h6m48 0h6m24 0h6m0 0h6m18 0h6" stroke="#f08a3a"/>
<path d="M1352 690h6m0 0h6m150 0h6m297 4h6m-320 2h6m59 2h6m-185 4h6m60 0h6m6 0h6m18 0h6m53 2h6m6 0h6m110 2h6m138 0h6m-447 2h6m48 0h6m48 0h6m-157 1h6m395 3h6m90 0h6m-405 2h6m96 2h6m0 0h6m42 0h6m0 0h6m52 2h6m120 0h6" stroke="#b81030"/>
<path d="M1352 714h6m36 0h6m60 0h6m6 0h6m30 0h6m-182 1h6m242 1h6m36 0h6m46 2h6m36 0h6m24 0h6m12 0h6m54 0h6m-180 12h6m0 0h6m6 0h6m18 0h6m12 0h6m0 0h6m54 0h6m6 0h6m12 0h6m0 0h6m18 0h6m-406 2h6m0 0h6m42 0h6m18 0h6m23 2h6m6 0h6m12 0h6m18 0h6m18 0h6" stroke="#f264a2"/>
<path d="M1662 730h6m180 0h6m-516 3h6m358 3h6m-247 2h6m36 0h6m52 2h6m42 0h6m135 2h6m84 0h6m-435 2h6m48 0h6" stroke="#3a4a9a"/>
<path d="M1390 534h6m30 0h6m-69 18h6m18 0h6m66 0h6m0 0h6m-88 6h6m6 0h6m24 0h6m36 0h6m6 0h6m-115 6h6m-18 6h6m60 0h6m12 0h6m-78 6h6m60 0h6m54 0h6m12 0h6m0 0h6m72 2h6m-233 4h6m12 0h6m24 0h6m30 0h6m18 0h6m76 2h6m-174 4h6m108 0h6m43 2h6m6 0h6m36 0h6m0 0h6m-221 10h6m30 0h6m78 0h6m83 2h6m105 2h6m30 0h6m66 0h6m12 0h6m-290 4h6m36 0h6m0 0h6m105 2h6m102 0h6m12 0h6m-400 2h6m60 0h6m23 2h6m36 0h6m70 2h6m12 0h6m90 0h6m36 0h6m12 0h6m-447 2h6m30 0h6m97 2h6m54 0h6m6 0h6m27 2h6m102 0h6m72 0h6m-292 4h6m18 0h6m36 0h6m-124 4h6m46 2h6m72 0h6m22 8h6m30 0h6m54 0h6m-109 6h6m0 0h6m120 0h6" stroke="#2a3a80"/>
<path d="M1420 534h6m-49 6h6m36 0h6m-59 6h6m18 0h6m42 0h6m-3 6h6m-70 6h6m30 0h6m-13 6h6m0 0h6m12 0h6m12 0h6m24 0h6m12 0h6m6 0h6m-162 6h6m24 0h6m42 0h6m0 0h6m-84 6h6m60 0h6m78 0h6m96 2h6m-263 4h6m136 6h6m79 2h6m-156 4h6m60 0h6m124 2h6m-159 4h6m6 0h6m65 2h6m18 0h6m63 2h6m30 0h6m78 0h6m-421 2h6m54 0h6m149 2h6m0 0h6m36 0h6m0 0h6m69 2h6m24 0h6m36 0h6m-298 2h6m143 2h6m-287 4h6m120 0h6m36 0h6m202 4h6m90 0h6m-326 2h6m12 0h6m0 0h6m28 2h6m18 0h6m42 0h6m2 2h6m48 0h6m-92 4h6m6 0h6m74 2h6m-165 4h6m78 0h6m76 14h6m114 0h6m6 0h6" stroke="#6a5aa8"/>
<path d="M1413 540h6m6 0h6m6 0h6m6 0h6m-35 6h6m30 0h6m-103 12h6m90 0h6m-19 6h6m-42 6h6m-36 6h6m66 0h6m12 0h6m-65 6h6m136 2h6m24 0h6m-240 4h6m187 2h6m-36 4h6m16 2h6m36 0h6m12 0h6m18 0h6m-88 6h6m90 0h6m3 2h6m12 0h6m-139 2h6m254 4h6m-209 4h6m24 0h6m83 8h6" stroke="#70a0d0"/>
<path d="M1372 546h6m90 0h6m-93 6h6m60 0h6m-10 6h6m12 0h6m-7 6h6m-78 6h6m84 0h6m-30 6h6m-77 6h6m36 0h6m54 0h6m6 0h6m-152 6h6m90 0h6m97 2h6m48 0h6m-240 4h6m60 0h6m48 0h6m6 0h6m12 0h6m10 2h6m60 0h6m-58 6h6m105 2h6m168 0h6m-149 6h6m60 0h6m12 0h6m-31 6h6m72 0h6m-125 6h6m48 0h6m6 0h6m12 0h6m0 0h6m36 0h6" stroke="#3060a8"/>
<path d="M1390 624h6m12 0h6m6 6h6m-43 6h6m54 0h6m6 0h6m-24 6h6m93 2h6m36 0h6m-208 4h6m-17 6h6m24 0h6m18 0h6m6 0h6m174 2h6m0 0h6m25 2h6m30 0h6m0 0h6m18 0h6m24 0h6m-348 2h6m124 2h6m18 0h6m255 2h6m-459 2h6m196 2h6m42 0h6m162 2h6m42 0h6m-111 6h6m36 0h6m0 0h6m0 0h6m6 0h6" stroke="#3f8a3a"/>
<path d="M1402 624h6m18 6h6m18 0h6m0 0h6m-109 6h6m114 0h6m-102 6h6m126 0h6m45 2h6m18 0h6m6 0h6m12 0h6m0 0h6m-256 4h6m12 0h6m36 0h6m24 0h6m36 0h6m36 2h6m30 0h6m-179 4h6m12 0h6m36 0h6m72 2h6m36 0h6m139 2h6m18 0h6m42 0h6m12 0h6m6 0h6m-450 2h6m42 0h6m12 0h6m18 0h6m58 2h6m0 0h6m18 0h6m24 0h6m12 0h6m69 2h6m24 0h6m12 0h6m48 0h6m-453 2h6m54 0h6m66 0h6m30 0h6m154 4h6m12 0h6m0 0h6m84 0h6m18 0h6m18 0h6m-177 6h6m24 0h6" stroke="#98c850"/>
<path d="M1348 630h6m47 6h6m18 0h6m48 0h6m6 0h6m-6 6h6m69 2h6m0 0h6m-231 10h6m6 0h6m18 0h6m66 0h6m12 0h6m349 4h6m-402 2h6m277 4h6m114 0h6m-411 2h6m6 0h6m130 2h6m75 8h6" stroke="#40a0a0"/>
<path d="M1366 630h6m72 0h6m-79 12h6m48 0h6m84 0h6m33 2h6m66 0h6m-142 4h6m-53 6h6m48 0h6m337 4h6m-426 2h6m42 0h6m112 2h6m57 2h6m78 0h6m-285 2h6m76 2h6m228 2h6m-99 6h6m72 0h6" stroke="#c0d048"/>
<path d="M1365 672h6m18 0h6m18 0h6m30 0h6m6 0h6m18 0h6m6 0h6m0 0h6m0 0h6m0 0h6m0 0h6m11 2h6m18 0h6m30 0h6m6 0h6m25 8h6m30 0h6m12 0h6m6 0h6m66 0h6m0 0h6m0 0h6m18 0h6" stroke="#62ae44"/>
<path d="M1572 680h6m12 0h6m12 0h6m-268 4h6m6 0h6m0 0h6m12 0h6m30 0h6m12 0h6m30 0h6m189 4h6m24 0h6m0 0h6m30 0h6m0 0h6m30 0h6m24 0h6m0 0h6m24 0h6m-482 32h6m0 0h6m0 0h6m36 0h6m24 0h6m30 0h6m18 0h6m42 2h6m24 0h6m55 2h6m66 0h6m0 0h6" stroke="#e21c2c"/>
<path d="M1780 724h6m60 0h6m-441 2h6m54 0h6m0 0h6m6 0h6m6 0h6m30 2h6m6 0h6m0 0h6m0 0h6m24 0h6m6 0h6" stroke="#1c3a88"/>
<path d="M1551 722h6m60 0h6m0 0h6m169 2h6m12 0h6m-291 4h6" stroke="#e8407a"/>
<path d="M1694 235h6m-4 7h6m-30 37h6m-211 42h6m199 11h6m-63 12h6m-108 24h6m314 1h6m-402 4h6m349 6h6m24 1h6m-447 6h6m377 1h6m-56 6h6m-264 11h6m360 1h6m-330 4h6m305 0h6m-478 1h6m451 0h6m-340 5h6m-102 1h6m12 5h6m0 2h6m446 0h6m-372 4h6m294 0h6m46 1h6m-450 1h6m392 0h6m-78 5h6m-219 1h6m-98 4h6m-3 0h6m-51 1h6m89 0h6m226 0h6m-321 1h6m346 4h6m18 0h6m-337 1h6m154 0h6m-202 1h6m330 4h6m-88 2h6m-33 4h6m30 1h6m82 0h6m0 0h6m102 0h6m-482 1h6m166 4h6m188 0h6m-242 1h6m329 0h6m-91 5h6m-256 1h6m303 0h6m-321 1h6m316 0h6m-288 4h6m149 0h6m71 0h6m-114 1h6m121 0h6m-184 1h6m149 0h6m-176 4h6m94 0h6m87 0h6m-259 1h6m23 5h6m78 0h6m152 0h6m-259 1h6m47 0h6m114 0h6m37 1h6m13 0h6m-120 4h6m-353 1h6m407 1h6m-58 4h6m-359 6h6m326 0h6m-30 6h6" stroke="#f090bc"/>
<path d="M1839 249h6m-52 35h6m46 35h6m-172 2h6m107 0h6m13 16h6m27 13h6m-106 12h6m85 1h6m6 6h6m-465 4h6m295 6h6m49 1h6m-276 1h6m309 5h6m-32 5h6m78 0h6m-476 1h6m386 1h6m35 10h6m-396 2h6m218 6h6m81 4h6m18 6h6m-302 1h6m-31 1h6m330 0h6m-382 4h6m248 0h6m-240 2h6m270 5h6m-270 1h6m90 4h6m299 0h6m-1 0h6m-323 1h6m288 0h6m-389 1h6m-27 4h6m55 0h6m42 0h6m-144 2h6m127 0h6m224 0h6m-264 4h6m185 0h6m-351 1h6m281 0h6m-242 1h6m197 0h6m186 0h6m-290 4h6m144 0h6m189 0h6m-155 2h6m86 0h6m9 0h6m30 0h6m-344 4h6m225 0h6m35 0h6m-398 2h6m144 0h6m101 0h6m177 0h6m-452 5h6m186 0h6m53 0h6m-113 1h6m127 0h6m37 4h6m83 0h6m-159 1h6m89 1h6m35 0h6m-17 4h6m1 0h6m-101 1h6m35 0h6m65 0h6m55 0h6m-242 5h6m156 0h6m-71 1h6m114 1h6m-201 4h6m110 0h6m-60 1h6m78 0h6m-120 5h6m72 0h6m-147 1h6m130 0h6m-104 1h6" stroke="#c84880"/>
<path d="M1661 261h6m133 22h6m-268 1h6m129 23h6m150 0h6m-388 50h6m374 0h6m6 0h6m-488 6h6m203 5h6m241 18h6m17 1h6m-449 11h6m-1 1h6m100 5h6m281 11h6m-444 6h6m149 8h6m-124 5h6m47 1h6m43 0h6m275 4h6m0 0h6m-177 1h6m69 0h6m31 1h6m43 5h6m-411 1h6m86 5h6m269 1h6m-253 11h6m338 0h6m-302 1h6m176 0h6m30 0h6m-429 5h6m368 1h6m1 0h6m-60 4h6m181 0h6m-222 2h6m-32 4h6m69 0h6m-119 2h6m19 4h6m45 7h6m124 0h6m-162 6h6m73 0h6" stroke="#f4c0d8"/>
<path d="M1395 253h6m335 2h6m-46 6h6m109 60h6m-236 6h6m-167 10h6m229 2h6m-199 4h6m211 26h6m-88 6h6m189 17h6m-42 12h6m-28 6h6m-297 11h6m-5 7h6m373 0h6m-430 6h6m415 12h6m-390 6h6m6 0h6m66 0h6m219 5h6m-254 7h6m200 0h6m-378 11h6m182 1h6m270 5h6m-220 1h6m162 6h6m-128 5h6m58 1h6m52 0h6m-12 1h6m-182 5h6" stroke="#9a6080"/>
<path d="M1402 447h6m-14 11h6m41 0h6m-72 6h6m1 0h6m10 0h6m-10 1h6m55 0h6m-62 4h6m13 1h6m-19 1h6m49 0h6m0 0h6m-54 5h6m41 0h6m-48 1h6m-22 4h6m41 0h6m-96 1h6m30 0h6m13 0h6m42 0h6m40 0h6m-137 1h6m8 0h6m105 4h6m321 0h6m-487 1h6m53 0h6m12 0h6m42 0h6m-113 1h6m11 0h6m91 0h6m338 0h6m-440 4h6m17 0h6m13 0h6m24 0h6m361 0h6m-476 1h6m17 0h6m37 0h6m361 0h6m-420 1h6m66 0h6m35 0h6m-131 4h6m58 0h6m18 0h6m-1 0h6m287 0h6m5 0h6m-398 1h6m37 0h6m24 0h6m35 0h6m12 0h6m-19 1h6m310 0h6m-97 4h6m30 0h6m-394 1h6m145 0h6m43 0h6m135 0h6m-262 1h6m42 0h6m296 0h6m37 0h6m-388 4h6m8 0h6m120 0h6m144 0h6m-416 2h6m1 0h6m229 0h6m225 0h6m12 0h6m-504 4h6m315 0h6m140 0h6m-319 1h6m20 0h6m286 0h6m1 0h6m-311 1h6m88 0h6m37 0h6m23 0h6m31 0h6m77 0h6m19 0h6m-248 4h6m61 0h6m73 0h6m-199 1h6m90 0h6m55 0h6m140 0h6m-321 1h6m10 0h6m20 0h6m6 0h6m228 0h6m-464 4h6m152 0h6m60 0h6m70 0h6m76 0h6m38 0h6m23 0h6m-72 1h6m-208 1h6m54 0h6m35 0h6m16 0h6m48 0h6m80 0h6m10 0h6m24 0h6m-290 4h6m40 0h6m177 0h6m38 0h6m-273 1h6m30 0h6m68 0h6m5 0h6m31 0h6m67 0h6m-286 1h6m55 0h6m87 0h6m-135 4h6m175 0h6m23 0h6m32 0h6m-472 1h6m230 0h6m133 0h6m11 0h6m13 0h6m22 0h6m3 0h6m-151 1h6m0 0h6m-1 0h6m61 0h6m125 0h6m-132 4h6m0 0h6m29 0h6m-186 1h6m57 0h6m40 0h6m71 0h6m12 0h6m37 0h6m-492 1h6m200 0h6m2 0h6m23 0h6m158 0h6m18 0h6m55 0h6m13 0h6m-520 4h6m-1 0h6m355 0h6m4 0h6m7 0h6m-47 1h6m0 0h6m67 0h6m-438 1h6m305 0h6m61 0h6m63 0h6m3 0h6m34 0h6m0 0h6m-185 4h6m17 0h6m6 0h6m139 0h6m-181 1h6m125 0h6m25 0h6m-158 1h6m27 0h6m9 0h6m0 0h6m13 0h6m31 0h6m11 0h6m24 0h6m12 0h6m-515 4h6m335 0h6m73 0h6m-1 0h6m7 0h6m48 0h6m10 0h6m-106 1h6m65 0h6m-477 1h6m338 0h6m9 0h6m-1 0h6m-2 0h6m90 0h6m-483 4h6m329 0h6m6 0h6m29 0h6m12 0h6m36 0h6m12 1h6m30 0h6m1 0h6m12 0h6" stroke="#e878a8"/>
<path d="M1419 459h6m-1 4h6m18 0h6m-5 8h6m-1 4h6m-73 6h6m39 0h6m-1 7h6m344 6h6m-418 1h6m74 5h6m113 5h6m-223 6h6m463 0h6m-120 1h6m103 0h6m-240 7h6m176 0h6m9 0h6m-278 4h6m299 2h6m-291 4h6m141 1h6m-347 1h6m283 0h6m10 4h6m-58 1h6m226 1h6m-230 4h6m175 1h6m31 0h6m-78 12h6m17 0h6m39 0h6m-75 7h6m98 0h6m-217 4h6m11 1h6m-1 0h6m-338 1h6m304 4h6m95 0h6m36 1h6m-447 1h6" stroke="#3a3068"/>
<path d="M1408 457h6m27 7h6m-13 1h6m-33 10h6m58 0h6m1 0h6m-37 1h6m7 1h6m23 5h6m27 0h6m-42 1h6m-128 5h6m43 5h6m-11 1h6m76 0h6m285 1h6m-273 4h6m-43 2h6m365 0h6m-258 4h6m2 0h6m128 0h6m94 0h6m-299 1h6m175 0h6m10 0h6m-278 5h6m14 0h6m171 0h6m174 0h6m-133 1h6m-203 5h6m15 0h6m61 2h6m-121 4h6m1 0h6m241 0h6m7 0h6m-158 1h6m139 0h6m-125 1h6m12 0h6m-51 4h6m57 1h6m-130 1h6m3 0h6m126 0h6m33 0h6m29 0h6m-24 4h6m5 0h6m-1 0h6m-230 2h6m227 0h6m-443 4h6m276 0h6m92 0h6m64 0h6m-199 2h6m-67 4h6m49 0h6m117 0h6m120 1h6m-250 1h6m95 0h6m-42 4h6m31 1h6m-31 1h6m60 0h6m94 5h6m-201 1h6m35 0h6m78 0h6m47 4h6m-178 1h6m96 0h6m96 0h6m-120 5h6m76 0h6m18 0h6m-153 1h6m58 0h6m43 1h6" stroke="#7a2a58"/>
<path d="M1425 457h6m-50 2h6m0 0h6m73 5h6m-79 5h6m24 1h6m0 6h6m-22 5h6m58 0h6m18 0h6m-70 1h6m53 1h6m312 4h6m-445 1h6m20 0h6m114 0h6m295 0h6m-379 1h6m13 0h6m335 4h6m26 0h6m-500 1h6m48 0h6m41 0h6m5 0h6m39 0h6m293 0h6m12 0h6m-402 1h6m398 0h6m-351 4h6m274 0h6m64 0h6m-487 1h6m22 0h6m20 0h6m12 0h6m70 0h6m323 0h6m5 0h6m-488 1h6m120 4h6m41 0h6m237 0h6m-435 1h6m91 0h6m30 0h6m70 0h6m-115 1h6m54 5h6m226 0h6m16 0h6m43 0h6m-313 1h6m163 0h6m66 0h6m-82 4h6m-187 1h6m76 0h6m49 0h6m61 0h6m11 0h6m66 0h6m49 0h6m-487 1h6m323 0h6m50 0h6m4 0h6m0 0h6m-191 4h6m85 0h6m13 0h6m30 0h6m1 0h6m113 0h6m-291 1h6m242 0h6m-464 1h6m241 0h6m98 0h6m88 0h6m-277 4h6m141 0h6m25 0h6m41 0h6m61 0h6m11 0h6m-490 1h6m210 0h6m78 0h6m-137 1h6m38 4h6m11 0h6m16 0h6m15 0h6m-1 0h6m74 0h6m12 0h6m102 0h6m7 0h6m-501 1h6m161 0h6m326 0h6m-143 1h6m72 0h6m-447 4h6m234 0h6m31 0h6m103 0h6m59 0h6m19 0h6m-261 1h6m31 0h6m50 0h6m181 0h6m-243 1h6m68 0h6m112 0h6m21 0h6m-508 4h6m281 0h6m52 0h6m162 0h6m-239 1h6m8 0h6m-1 0h6m14 0h6m84 0h6m44 0h6m-196 1h6m53 0h6m63 0h6m2 0h6m-77 4h6m126 0h6m44 0h6m-1 0h6m-206 1h6m-10 1h6m77 0h6m6 0h6m61 0h6m-103 4h6m17 0h6m72 0h6m-490 1h6m357 0h6m57 0h6m41 0h6m-474 1h6m467 0h6m-37 4h6m6 0h6m43 0h6m-161 1h6m144 0h6m-168 1h6m90 0h6m10 0h6m12 0h6m-124 4h6m1 0h6m-359 1h6m310 0h6m89 0h6m0 0h6m-101 1h6m5 0h6m26 0h6m-1 0h6m14 0h6m63 0h6m13 0h6m19 0h6" stroke="#c83c78"/>
<path d="M1388 501h6m1 0h6m-18 4h6m12 0h6m-39 6h6m56 0h6m-62 1h6m26 1h6m-29 4h6m7 0h6m31 2h6m-77 4h6m74 1h6m6 0h6m-2 0h6m6 0h6m-120 1h6m86 0h6m-61 4h6m2 0h6m-1 0h6m6 0h6m17 0h6m2 0h6m-24 1h6m53 0h6m5 0h6m-34 1h6m-67 4h6m18 0h6m5 0h6m12 0h6m14 0h6m-12 1h6m-62 1h6m79 0h6m-31 4h6m18 0h6m-155 1h6m127 1h6m17 0h6m-54 6h6m10 4h6m7 0h6m12 1h6m50 0h6m-86 1h6m67 0h6m37 0h6m-80 5h6m-29 1h6m91 0h6m-267 4h6m1 0h6m269 0h6m-100 2h6m60 0h6m-58 5h6m59 0h6m-79 5h6m71 0h6m17 0h6m97 0h6m-1 0h6m49 0h6m0 0h6m0 0h6m-1 0h6m16 0h6m-291 1h6m19 0h6m26 0h6m56 0h6m41 0h6m-402 1h6m213 0h6m38 0h6m61 0h6m186 0h6m-521 4h6m353 0h6m66 0h6m67 0h6m-103 1h6m56 0h6m-128 1h6m2 0h6m42 0h6m-32 4h6m33 0h6m-83 1h6m17 0h6m32 0h6m17 0h6m25 0h6m28 1h6m-155 4h6m26 0h6m46 0h6m-125 1h6m19 0h6m132 0h6m-156 1h6m12 0h6m53 0h6m0 0h6m0 0h6m31 0h6m25 0h6m10 0h6m19 0h6m-212 4h6m49 0h6m53 0h6m69 0h6m-2 0h6m-166 1h6m83 0h6m6 0h6m24 0h6m-132 1h6" stroke="#c04880"/>
<path d="M1434 505h6m-23 6h6m37 0h6m-44 1h6m-56 6h6m29 0h6m-48 1h6m-2 6h6m60 0h6m24 6h6m30 4h6m-125 1h6m114 6h6m-27 6h6m21 0h6m-10 12h6m4 0h6m30 1h6m67 0h6m-61 4h6m0 6h6m14 2h6m61 5h6m113 0h6m50 0h6m-510 1h6m213 0h6m37 0h6m66 0h6m86 4h6m12 0h6m-138 1h6m47 1h6m-2 4h6m6 0h6m110 8h6m-25 4h6m-36 1h6" stroke="#5a70b0"/>
<path d="M1392 505h6m43 8h6m-2 6h6m12 0h6m5 0h6m-98 6h6m6 0h6m18 0h6m-37 5h6m60 1h6m-96 4h6m61 2h6m36 4h6m-114 1h6m126 1h6m-12 4h6m79 6h6m17 0h6m-98 1h6m39 0h6m24 1h6m22 0h6m-18 4h6m-256 1h6m264 1h6m-87 5h6m14 1h6m54 0h6m-35 4h6m124 6h6m33 0h6m-199 1h6m219 0h6m-1 0h6m-461 1h6m256 0h6m79 0h6m132 0h6m14 4h6m-128 1h6m61 0h6m13 0h6m-45 1h6m19 0h6m30 0h6m-182 4h6m121 0h6m-452 2h6m349 6h6m30 4h6m9 0h6m77 0h6m-168 1h6m37 0h6" stroke="#6a5098"/>
<path d="M1376 506h6m24 0h6m18 0h6m-14 1h6m-41 4h6m42 2h6m15 4h6m-101 1h6m22 0h6m-17 1h6m84 0h6m-44 4h6m-37 1h6m7 1h6m73 0h6m-145 10h6m85 1h6m-30 1h6m-75 4h6m104 0h6m-12 1h6m54 6h6m-166 1h6m113 0h6m40 4h6m6 1h6m20 0h6m30 0h6m23 0h6m-276 1h6m182 5h6m16 0h6m13 0h6m40 0h6m-91 5h6m2 0h6m36 0h6m10 0h6m-107 1h6m49 0h6m35 0h6m-96 1h6m1 5h6m178 5h6m-134 1h6m109 1h6m56 0h6m-103 4h6m151 1h6m-481 1h6m384 0h6m18 0h6m67 0h6m-105 4h6m84 0h6m-493 1h6m305 0h6m42 0h6m74 0h6m0 0h6m29 0h6m24 0h6m-180 1h6m155 0h6m-152 4h6m60 0h6m-2 0h6m29 0h6m18 0h6m-171 1h6m131 0h6m54 0h6m-194 1h6m32 4h6m-31 1h6m11 0h6m99 0h6m-461 1h6m381 0h6m115 0h6" stroke="#8a3a70"/>
<path d="M1400 500h6m-18 5h6m23 1h6m-13 1h6m-54 4h6m32 0h6m-5 6h6m6 1h6m7 1h6m5 0h6m35 4h6m-1 0h6m-103 1h6m74 1h6m-114 4h6m5 0h6m36 0h6m60 0h6m14 0h6m-127 1h6m0 1h6m36 0h6m55 0h6m-114 4h6m106 0h6m-124 1h6m77 0h6m0 1h6m31 0h6m-57 5h6m-82 1h6m103 0h6m12 5h6m18 0h6m-24 1h6m79 4h6m-238 1h6m139 0h6m123 0h6m-97 1h6m-192 4h6m210 0h6m17 1h6m-41 1h6m-44 4h6m49 1h6m42 1h6m-76 4h6m-1 0h6m0 0h6m-1 0h6m42 0h6m-90 1h6m2 0h6m35 0h6m35 0h6m-29 1h6m92 4h6m127 0h6m-304 1h6m30 0h6m47 0h6m24 0h6m53 0h6m12 0h6m40 0h6m-434 1h6m329 0h6m76 0h6m2 0h6m-128 4h6m7 0h6m47 0h6m-52 1h6m-329 1h6m286 0h6m61 0h6m-1 0h6m28 0h6m-67 4h6m48 0h6m-83 1h6m11 0h6m119 0h6m26 0h6m-97 1h6m11 0h6m-69 4h6m113 0h6m-497 2h6m379 0h6m119 0h6m-515 4h6m317 1h6m-2 0h6m49 0h6m18 0h6m78 0h6m-107 1h6m31 0h6m11 0h6m17 0h6m1 0h6m43 0h6" stroke="#3a2a60"/>
</g>
<rect x="267.4" y="95" width="1.4" height="54" fill="#fff6f8"/>
<rect x="304.5" y="95" width="1.4" height="54" fill="#fff6f8"/>
<rect x="326.4" y="95" width="1.4" height="54" fill="#fff6f8"/>
<path d="M370.4 46V149.4H265" fill="none" stroke="#d4d0d8" stroke-width="0.8"/>
<path d="M264.6 46V149" fill="none" stroke="#c8c4cc" stroke-width="0.8"/>
<path d="M264.2 45.6H370.8" fill="none" stroke="#a8a4b4" stroke-width="0.9"/>
<path d="M264.6 47.8v1.3M264.6 51.9v1.3M264.6 56.1v1.3M264.6 60.2v1.3M264.6 64.4v1.3M264.6 68.5v1.3M264.6 72.7v1.3M264.6 76.8v1.3M264.6 81v1.3M264.6 85.2v1.3M264.6 89.3v1.3M264.6 93.5v1.3M264.6 97.6v1.3M264.6 101.8v1.3M264.6 105.9v1.3M264.6 110.1v1.3M264.6 114.2v1.3M264.6 118.4v1.3M264.6 122.5v1.3M264.6 126.7v1.3M264.6 130.8v1.3M264.6 134.9v1.3M264.6 139.1v1.3M264.6 143.2v1.3" stroke="#8a8a8a" stroke-width="1.1" fill="none"/>
<rect x="259" y="48" width="3.6" height="9" fill="#e2e0e6"/>
<rect x="371.5" y="48" width="3.6" height="9" fill="#e2e0e6"/>
<path d="M355.2 86.7V112.8" stroke="#1a1a1a" stroke-width="1.3"/>
<path d="M349.4 111.8L361 111.8L355.2 123.1Z" fill="#111"/>
<rect x="376" y="46" width="105.5" height="103" fill="#fff"/>
<path transform="scale(.5)" fill="#4078b8" d="M752 298l0-72 3-1 3 1 2-1V298Z"/>
<path transform="scale(.5)" fill="#44aacb" d="M752 298l0-62 3-1 3 1 2 0V298Z"/>
<path transform="scale(.5)" fill="#62ae44" d="M752 298l0-45 3 0 3 0 2-1V298Z"/>
<path transform="scale(.5)" fill="#e21c2c" d="M752 298l0-32 3 1 3-2 2 1V298Z"/>
<path transform="scale(.5)" fill="#4078b8" d="M762 298l0-83 3-7 3-5 3-6 3-5 3-2 3-1 3 0 3-1 3 1 3-1 3 0 3 1 3-1 3-1 3 2 3-1 3 1 3 1 3 2 3 1 3-2 3 2 3 1 3 0 3 0 3 1 3 1 3 2 3-1 3 3 3-2 3 2V298Z"/>
<path transform="scale(.5)" fill="#44aacb" d="M762 298l0-69 3-6 3-7 3-5 3-5 3-2 3-3 3 0 3 2 3-1 3-1 3-2 3 2 3-2 3 1 3 2 3 1 3-2 3 1 3 2 3 0 3 0 3 0 3 2 3-1 3 1 3 1 3 1 3-1 3 3 3-2 3 1 3 1V298Z"/>
<path transform="scale(.5)" fill="#62ae44" d="M762 298l0-57 3-6 3-6 3-6 3-4 3-2 3-1 3-2 3 0 3-1 3 0 3-1 3 2 3-2 3 1 3 1 3 1 3-2 3 2 3 0 3 0 3 0 3-1 3 1 3 0 3 2 3 0 3 1 3-1 3 2 3 1 3 0 3 0V298Z"/>
<path transform="scale(.5)" fill="#f08a3a" d="M762 298l0-35 3-3 3-4 3-9 3-5 3-3 3-2 3-1 3 2 3-1 3-1 3 0 3 1 3-1 3 1 3 0 3-1 3 0 3 1 3-1 3-1 3 0 3 1 3 1 3-1 3 1 3 1 3 1 3-2 3-1 3 1 3 2 3-1V298Z"/>
<path transform="scale(.5)" fill="#e21c2c" d="M762 298l0-32 3 1 3-3 3-4 3-7 3-5 3 0 3 1 3 0 3-1 3 0 3 1 3-2 3 0 3 1 3-1 3 0 3 1 3-1 3 0 3 1 3 0 3 1 3 0 3-1 3-1 3 1 3 1 3-2 3 1 3 1 3 0 3-1V298Z"/>
<path transform="scale(.5)" fill="#4078b8" d="M860 298l0-87 3 1 3-1 3-1 3 2 3-2 3 1 3 2 3-2 3 0 3 0 3 1 3 1 3-2 3 1 3-2 3 1 3 0 3 2 3-1 3 1 3-3 3 2 3-2 3 1V298Z"/>
<path transform="scale(.5)" fill="#44aacb" d="M860 298l0-75 3-3 3 2 3 1 3-3 3 3 3-1 3 1 3-3 3 0 3 0 3 2 3-2 3 1 3-1 3 1 3-1 3 3 3-1 3-1 3 0 3 0 3 0 3-1 3 1V298Z"/>
<path transform="scale(.5)" fill="#62ae44" d="M860 298l0-70 3 3 3-1 3-1 3-1 3 2 3-2 3 1 3 2 3-1 3 1 3-3 3 0 3 0 3 1 3 0 3-1 3 2 3-1 3 1 3-1 3 0 3 1 3-2 3 1V298Z"/>
<path transform="scale(.5)" fill="#f08a3a" d="M860 298l0-54 3 1 3-2 3 0 3-1 3 0 3 1 3-1 3 1 3 0 3 1 3 0 3 1 3-3 3 3 3-2 3 1 3-2 3 1 3 2 3 0 3-1 3 0 3 1 3-2V298Z"/>
<path transform="scale(.5)" fill="#e21c2c" d="M860 298l0-46 3 2 3-2 3 0 3 0 3 0 3 0 3 1 3 1 3-2 3 1 3-1 3-1 3 2 3 1 3-3 3 3 3-2 3 0 3 1 3-1 3 2 3-2 3-1 3 1V298Z"/>
<path transform="scale(.5)" fill="#4078b8" d="M934 298l0-85 3 1 3 1 3-2 3 2 3-1 3 0 3 1 3-3 3 3 2-1V298Z"/>
<path transform="scale(.5)" fill="#44aacb" d="M934 298l0-74 3 0 3-1 3 1 3-1 3 0 3 2 3-1 3 0 3 0 2 0V298Z"/>
<path transform="scale(.5)" fill="#62ae44" d="M934 298l0-65 3 0 3 0 3-2 3 2 3-1 3-1 3 1 3-1 3 2 2-1V298Z"/>
<path transform="scale(.5)" fill="#f08a3a" d="M934 298l0-52 3 1 3 1 3-2 3 3 3-1 3-2 3 1 3-1 3 1 2 0V298Z"/>
<path transform="scale(.5)" fill="#e21c2c" d="M934 298l0-42 3 0 3-2 3 1 3 0 3 1 3-2 3 1 3-1 3 1 2 0V298Z"/>
<ellipse cx="382" cy="142" rx="6.5" ry="2.8" fill="#e86090"/>
<path d="M389 136h12v9h-12z" fill="#b81428" opacity="0.6"/>
<g transform="scale(.2)" stroke-width="6" fill="none">
<path d="M1948 478h6m0 0h6m6 0h6m0 0h6m36 0h6m-73 6h6m60 0h6m-81 6h6m33 6h6m54 0h6m61 6h6m12 0h6m-196 6h6m12 0h6m143 6h6m36 0h6m-228 6h6m174 0h6m77 11h6m-30 6h6m54 0h6m78 0h6m42 1h6m42 0h6m-228 5h6m0 0h6m60 0h6m24 0h6m12 0h6m0 0h6m-401 1h6m429 0h6m-150 5h6m24 0h6m90 0h6m-423 1h6m428 0h6m-92 5h6m18 0h6m30 0h6m74 1h6m-33 6h6m0 0h6m-493 4h6" stroke="#40a8c0"/>
<path d="M1978 478h6m-19 6h6m84 0h6m-129 6h6m24 0h6m96 0h6m6 0h6m3 6h6m-155 6h6m6 0h6m12 0h6m84 0h6m12 0h6m18 0h6m-178 6h6m96 0h6m-31 6h6m12 0h6m0 0h6m6 0h6m18 0h6m60 0h6m0 0h6m-132 6h6m-97 6h6m216 0h6m66 5h6m12 0h6m18 0h6m60 0h6m-388 1h6m364 5h6m-401 1h6m36 0h6m6 0h6m383 0h6m42 0h6m-192 5h6m48 0h6m6 0h6m24 0h6m40 1h6m36 0h6m-240 5h6m18 0h6m60 0h6m-99 6h6m120 0h6m-132 6h6m42 0h6m96 0h6m-413 1h6m424 0h6m0 0h6m0 0h6m30 0h6m-222 5h6m-294 5h6m346 1h6m36 0h6m54 1h6m30 0h6m-484 4h6m448 2h6m-456 4h6m-9 6h6" stroke="#2a3a80"/>
<path d="M1995 484h6m48 0h6m-99 6h6m-15 6h6m30 0h6m25 6h6m14 6h6m84 0h6m-206 18h6m348 5h6m-96 6h6m60 0h6m66 0h6m-128 12h6m51 6h6m-373 17h6m-8 12h6" stroke="#70a0d0"/>
<path d="M1997 514h6m-30 6h6m84 0h6m-109 6h6m24 0h6m30 0h6m48 0h6m0 0h6m-160 6h6m48 0h6m48 0h6m6 0h6m18 0h6m18 0h6m-127 6h6m120 0h6m-6 6h6m24 0h6m-217 12h6m0 0h6m223 5h6m6 0h6m90 0h6m24 0h6m24 0h6m-413 1h6m280 5h6m84 0h6m-383 1h6m231 5h6m0 0h6m72 0h6m6 0h6m126 1h6m-473 6h6m-31 16h6m-17 19h6m-4 12h6m-7 6h6" stroke="#78c0d8"/>
<path d="M1968 508h6m23 12h6m25 12h6m24 0h6m0 0h6m24 0h6m17 6h6m18 6h6m6 17h6m72 0h6m6 0h6m60 0h6m-31 6h6m-86 6h6m186 1h6m-30 6h6m-484 29h6" stroke="#4a9a80"/>
<path d="M2051 514h6m-96 6h6m0 0h6m30 0h6m6 0h6m18 0h6m12 0h6m30 0h6m-163 6h6m102 0h6m42 0h6m6 0h6m6 0h6m-154 6h6m0 0h6m54 0h6m90 0h6m-211 6h6m0 0h6m24 0h6m102 0h6m48 0h6m-198 6h6m240 17h6m18 0h6m0 0h6m36 0h6m18 0h6m-353 1h6m232 5h6m132 0h6m18 0h6m42 1h6m-164 5h6m6 0h6m12 0h6m6 0h6m36 0h6m0 0h6m12 0h6m-423 1h6m435 0h6m12 6h6m-485 35h6m0 0h6m-5 18h6" stroke="#3a78b8"/>
<path d="M1984 478h6m18 0h6m6 0h6m0 0h6m-79 6h6m109 18h6m32 6h6m30 0h6m-187 6h6m24 0h6m36 0h6m78 0h6m-192 6h6m6 0h6m42 0h6m24 0h6m48 0h6m0 0h6m-139 6h6m102 0h6m6 0h6m84 5h6m6 0h6m72 0h6m-334 1h6m0 0h6m114 0h6m18 0h6m76 5h6m66 0h6m60 0h6m-359 1h6m114 0h6m0 0h6m30 0h6m6 0h6m12 0h6m233 0h6m18 0h6m-240 5h6m48 0h6m6 0h6m166 1h6m-180 5h6m24 0h6m30 0h6m83 1h6m18 0h6m-176 5h6m0 0h6m66 0h6m6 0h6m-409 1h6m301 5h6m23 6h6m0 0h6m102 1h6m-188 5h6m72 0h6m0 0h6m108 7h6m12 0h6m-503 6h6m-16 41h6" stroke="#6a5aa8"/>
<path d="M1997 538h6m-6 6h6m0 0h6m36 0h6m12 0h6m-108 6h6m0 0h6m24 0h6m90 0h6m12 0h6m0 0h6m-109 6h6m42 0h6m18 0h6m-70 6h6m48 0h6m18 0h6m30 0h6m0 0h6m-199 6h6m30 0h6m72 0h6m66 0h6m0 0h6m-138 6h6m72 0h6m0 0h6m0 0h6m0 0h6m71 5h6m96 0h6m30 0h6m-397 1h6m60 0h6m24 0h6m96 0h6m84 5h6m24 0h6m-312 1h6m30 0h6m0 0h6m66 0h6m24 0h6m42 0h6m258 0h6m-199 5h6m30 0h6m42 0h6m72 1h6m24 0h6m-228 5h6m6 0h6m72 0h6m6 0h6m-364 1h6m474 0h6m-247 5h6m48 0h6m24 0h6m30 0h6m12 0h6m-378 1h6m437 0h6m18 0h6m-209 5h6m90 0h6m49 1h6m36 0h6m-479 6h6m437 0h6m-463 23h6m7 7h6m-30 5h6m6 0h6" stroke="#98c850"/>
<path d="M2021 544h6m18 6h6m-97 6h6m30 0h6m72 0h6m6 0h6m12 0h6m-112 6h6m48 0h6m0 0h6m72 0h6m-79 6h6m24 0h6m30 0h6m-138 6h6m18 0h6m12 0h6m78 0h6m41 5h6m72 0h6m-229 1h6m30 0h6m90 5h6m114 0h6m12 0h6m0 0h6m-378 1h6m90 0h6m48 0h6m36 0h6m6 0h6m234 0h6m6 0h6m18 0h6m-163 5h6m-206 1h6m30 0h6m302 0h6m-240 5h6m132 0h6m-364 1h6m426 0h6m-109 5h6m12 0h6m113 1h6m-233 5h6m96 0h6m6 0h6m-372 1h6m427 0h6m12 0h6m12 0h6m6 0h6m-54 6h6m12 0h6m-461 24h6m-39 5h6m-9 11h6m6 0h6" stroke="#3f8a3a"/>
<path d="M1955 550h6m72 0h6m66 0h6m-83 12h6m84 0h6m-163 6h6m48 0h6m-54 6h6m66 0h6m221 5h6m24 0h6m-115 6h6m-258 1h6m233 5h6m144 0h6m-350 1h6m54 0h6m96 0h6m208 6h6m12 0h6m-109 5h6m-30 6h6m12 0h6m97 1h6m-482 35h6m14 1h6" stroke="#c0d048"/>
<path d="M1966 598h6m18 0h6m36 0h6m101 6h6m6 11h6m6 0h6m0 0h6m42 0h6m6 0h6m0 0h6m12 0h6m30 0h6m0 0h6m6 0h6m29 7h6m0 0h6m-429 12h6m-44 34h6" stroke="#62ae44"/>
<path d="M1986 628h6m107 6h6m65 5h6m-185 1h6m114 0h6m0 0h6m65 5h6m-252 1h6m42 0h6m66 0h6m198 5h6m-280 1h6m374 6h6m-159 5h6m90 0h6m-368 1h6m66 0h6m66 0h6m121 5h6m-197 1h6m96 0h6m213 0h6m-132 5h6m-317 1h6m30 0h6m72 0h6m6 0h6m78 0h6m257 0h6m-172 5h6m12 0h6m42 0h6m-264 1h6m168 5h6m-246 1h6m48 0h6m72 0h6m59 5h6m60 6h6m6 0h6m-335 6h6m30 0h6m202 0h6m-195 6h6m60 0h6m141 0h6m78 0h6m12 0h6m-237 6h6m24 0h6m123 0h6m149 0h6m-316 6h6m108 0h6m6 0h6m163 0h6m0 0h6m-469 5h6m62 1h6m280 0h6m66 0h6m24 0h6m-432 6h6m18 0h6m0 0h6m48 0h6m180 0h6m54 0h6m6 0h6m101 0h6m-486 5h6m44 1h6m18 0h6m132 0h6m279 0h6" stroke="#b81030"/>
<path d="M1960 478h6m24 0h6m-55 6h6m78 0h6m-18 12h6m60 0h6m-160 24h6m186 0h6m71 11h6m6 0h6m0 6h6m18 0h6m6 0h6m24 0h6m90 1h6m-90 5h6m-101 12h6m-289 1h6m417 0h6m6 0h6m-446 12h6" stroke="#c05088"/>
<path d="M2001 484h6m36 0h6m-75 6h6m30 0h6m-57 6h6m24 0h6m30 0h6m0 0h6m30 0h6m-41 6h6m42 0h6m-40 6h6m6 0h6m6 0h6m6 0h6m-1 6h6m48 6h6m-13 6h6m78 5h6m-30 6h6m114 0h6m-401 1h6m461 0h6m-66 5h6m52 1h6m-7 6h6m0 6h6m-39 6h6m30 0h6m6 0h6" stroke="#3060a8"/>
<path d="M2003 538h6m0 0h6m-54 6h6m6 0h6m30 6h6m0 0h6m5 6h6m12 0h6m-106 6h6m24 0h6m108 0h6m11 6h6m41 11h6m12 0h6m-145 1h6m36 0h6m-36 6h6m294 0h6m-169 5h6m12 0h6m102 0h6m-212 1h6m30 0h6m33 11h6m120 0h6m-402 1h6m487 12h6m-497 6h6m0 12h6" stroke="#40a0a0"/>
<path d="M1984 598h6m36 0h6m6 0h6m-7 6h6m84 0h6m54 11h6m-178 1h6m54 0h6m60 0h6m-120 6h6m162 5h6m6 0h6m-269 1h6m6 0h6m132 0h6m18 0h6m254 0h6m-64 5h6m-108 6h6m12 0h6m6 0h6m0 0h6m48 0h6m65 1h6m-32 6h6m0 0h6m6 0h6" stroke="#f08a3a"/>
<path d="M1943 622h6m30 0h6m24 0h6m0 0h6m18 0h6m30 0h6m42 0h6m23 11h6m0 0h6m30 0h6m18 0h6m42 0h6m12 0h6m12 0h6m-377 7h6m412 0h6m12 0h6m18 0h6m-467 6h6m-25 18h6" stroke="#e21c2c"/>
<path d="M1917 236h6m139 1h6m267 29h6m-277 6h6m6 17h6m-146 1h6m53 6h6m13 1h6m37 4h6m6 7h6m125 17h6m-205 8h6m30 0h6m85 6h6m-156 4h6m74 0h6m-109 1h6m121 0h6m65 11h6m-175 1h6m-56 5h6m409 0h6m-384 1h6m79 1h6m13 0h6m131 4h6m-270 1h6m120 0h6m1 0h6m31 0h6m57 0h6m92 1h6m-222 4h6m270 1h6m-330 1h6m24 0h6m46 4h6m272 1h6m-331 1h6m-71 5h6m349 0h6m-314 1h6m-96 4h6m103 0h6m42 0h6m-91 1h6m52 1h6m194 4h6m-220 1h6m-26 1h6m25 4h6m23 0h6m-43 1h6m301 0h6m-444 1h6m317 4h6m-126 2h6m50 0h6m132 0h6m-404 4h6m309 0h6m16 0h6m56 0h6m48 1h6m-266 5h6m78 0h6m1 0h6m-84 1h6m41 0h6m83 0h6m-369 1h6m393 0h6m89 0h6m-491 6h6m1 0h6m252 0h6m139 0h6m-44 4h6m76 1h6m14 0h6m-501 1h6m476 4h6m-13 1h6m20 1h6m-55 4h6m34 0h6m-171 2h6m124 0h6m-207 4h6m213 0h6m-182 1h6m124 0h6m5 1h6m-51 4h6m94 0h6m-241 1h6m8 0h6m49 0h6m170 0h6m-164 1h6m10 0h6m90 4h6m7 1h6m-468 1h6m-16 12h6" stroke="#f090bc"/>
<path d="M2117 235h6m89 25h6m-166 13h6m76 0h6m-64 4h6m24 30h6m-122 1h6m-36 5h6m12 2h6m-36 4h6m-10 1h6m138 1h6m-63 4h6m91 6h6m84 0h6m-229 2h6m215 6h6m-159 6h6m-61 5h6m175 6h6m-237 6h6m122 0h6m229 0h6m-259 1h6m282 0h6m-238 4h6m40 1h6m-211 1h6m205 0h6m-203 10h6m384 1h6m-420 1h6m70 0h6m24 0h6m-75 4h6m66 0h6m-109 1h6m42 1h6m61 0h6m-163 4h6m41 0h6m271 0h6m-313 1h6m85 0h6m47 1h6m239 0h6m-386 4h6m410 0h6m-278 2h6m33 0h6m90 0h6m-19 4h6m-162 1h6m-12 1h6m267 6h6m-169 5h6m183 0h6m-244 1h6m-197 5h6m215 0h6m172 1h6m-195 4h6m139 0h6m77 2h6m-62 4h6m94 0h6m-195 1h6m-18 5h6m113 0h6m-441 1h6m2 5h6m478 0h6m-190 2h6m199 4h6m-221 1h6m47 0h6m29 0h6m-88 1h6m24 4h6m-60 1h6m34 0h6m-326 1h6" stroke="#c84880"/>
<path d="M1956 283h6m155 14h6m-43 4h6m-77 8h6m-53 28h6m4 2h6m34 22h6m43 0h6m-65 1h6m184 12h6m-206 1h6m10 4h6m55 1h6m17 0h6m114 0h6m-233 1h6m215 0h6m-184 4h6m280 1h6m-43 5h6m12 1h6m-36 12h6m-348 1h6m188 11h6m239 19h6m-44 4h6m31 0h6m-67 1h6m-157 5h6m43 1h6m32 0h6m47 1h6m100 0h6m-520 4h6m27 6h6m273 1h6m14 0h6m-313 1h6m473 4h6" stroke="#9a6080"/>
<path d="M1996 392h6m-30 11h6m12 0h6m1 2h6m41 0h6m-14 4h6m-89 1h6m42 0h6m17 0h6m-70 1h6m24 4h6m4 0h6m13 1h6m50 0h6m-127 1h6m79 0h6m22 0h6m-124 4h6m59 0h6m1 0h6m78 0h6m-109 1h6m18 0h6m43 1h6m-20 4h6m44 0h6m-108 1h6m11 0h6m6 0h6m1 0h6m-98 1h6m68 4h6m17 0h6m38 0h6m-144 1h6m24 0h6m106 0h6m-60 1h6m-78 4h6m90 0h6m-139 1h6m53 0h6m-40 1h6m60 0h6m43 4h6m7 0h6m-114 1h6m118 0h6m-126 1h6m31 0h6m97 0h6m-144 4h6m-14 1h6m90 0h6m13 0h6m0 0h6m31 0h6m-187 1h6m61 0h6m12 4h6m25 0h6m9 0h6m43 2h6m132 4h6m-152 1h6m135 0h6m53 0h6m-410 1h6m144 0h6m8 0h6m13 0h6m-2 0h6m137 0h6m-153 4h6m-2 0h6m-190 1h6m274 0h6m1 0h6m143 0h6m-167 1h6m-292 5h6m248 0h6m78 0h6m86 0h6m-196 1h6m236 0h6m-231 4h6m10 0h6m66 0h6m7 0h6m0 0h6m75 0h6m-149 1h6m112 0h6m13 0h6m6 0h6m-213 1h6m238 0h6m-33 4h6m-488 1h6m14 0h6m356 0h6m83 0h6m-209 1h6m42 0h6m8 0h6m119 0h6m-465 4h6m18 0h6m238 0h6m31 0h6m-1 0h6m84 0h6m8 0h6m-128 1h6m72 0h6m-53 1h6m25 0h6m65 0h6m58 0h6m13 0h6m-510 4h6m293 0h6m65 0h6m24 0h6m43 0h6m-443 1h6m268 0h6m12 1h6m133 0h6m6 0h6m6 0h6m37 0h6m-61 5h6m12 0h6m18 0h6m-62 5h6m26 0h6m-31 1h6m24 0h6m25 0h6m-527 1h6m468 0h6m29 0h6m-505 5h6m-13 13h6m0 0h6m-9 4h6m-8 7h6" stroke="#c83c78"/>
<path d="M1962 398h6m25 0h6m27 5h6m-35 8h6m-61 5h6m11 0h6m7 1h6m90 4h6m-138 2h6m6 5h6m36 0h6m54 0h6m23 1h6m-113 4h6m44 0h6m28 0h6m15 1h6m-143 5h6m7 0h6m48 0h6m1 1h6m41 0h6m-120 1h6m8 4h6m7 0h6m-25 1h6m42 0h6m72 0h6m-148 1h6m154 0h6m-168 4h6m49 0h6m42 2h6m6 0h6m-134 6h6m123 0h6m40 10h6m153 0h6m-47 1h6m127 1h6m-232 4h6m-14 1h6m117 0h6m-319 1h6m266 0h6m79 0h6m34 0h6m-405 6h6m246 0h6m-1 0h6m15 0h6m39 5h6m-1 0h6m68 0h6m-73 1h6m-382 4h6m366 0h6m-30 1h6m83 0h6m64 0h6m-224 1h6m118 0h6m-56 4h6m30 0h6m97 0h6m-239 1h6m118 0h6m109 1h6m-515 4h6m0 0h6m455 6h6m42 0h6m-509 32h6" stroke="#7a2a58"/>
<path d="M1976 391h6m2 1h6m26 7h6m-62 5h6m-1 0h6m8 0h6m30 0h6m-31 5h6m17 1h6m31 0h6m-109 1h6m80 4h6m-104 1h6m109 0h6m-73 1h6m25 0h6m-76 4h6m22 0h6m0 1h6m12 0h6m98 0h6m-139 1h6m-38 4h6m32 1h6m107 0h6m-25 1h6m32 0h6m-49 4h6m-131 1h6m49 0h6m5 0h6m0 0h6m17 0h6m-88 1h6m5 0h6m72 0h6m-115 4h6m53 0h6m90 0h6m32 0h6m-145 1h6m41 0h6m19 0h6m46 0h6m20 0h6m-161 1h6m88 0h6m-130 4h6m41 0h6m12 0h6m19 0h6m13 0h6m-54 1h6m10 0h6m97 0h6m-90 1h6m-1 0h6m8 0h6m42 0h6m-1 0h6m-160 4h6m-3 0h6m1 0h6m30 0h6m42 0h6m42 0h6m13 0h6m-187 1h6m84 0h6m23 0h6m18 0h6m25 0h6m-197 1h6m72 0h6m16 0h6m14 0h6m4 4h6m1 0h6m37 0h6m10 0h6m-81 1h6m21 0h6m2 0h6m-158 1h6m-6 4h6m155 0h6m2 0h6m17 0h6m12 0h6m113 0h6m49 0h6m-251 1h6m204 0h6m22 0h6m-196 1h6m73 0h6m-3 0h6m37 0h6m-113 4h6m1 0h6m179 0h6m-421 1h6m206 0h6m134 0h6m7 0h6m29 0h6m60 0h6m1 0h6m-298 1h6m29 0h6m19 0h6m22 0h6m-58 4h6m7 0h6m14 0h6m42 0h6m73 0h6m7 0h6m6 0h6m-145 1h6m126 0h6m49 0h6m-449 1h6m309 0h6m9 4h6m-1 0h6m31 0h6m6 0h6m-85 1h6m1 0h6m6 0h6m71 0h6m-91 1h6m49 4h6m63 0h6m-208 1h6m12 0h6m35 0h6m42 0h6m-102 1h6m108 0h6m6 0h6m13 0h6m36 0h6m-209 4h6m108 0h6m-365 1h6m252 0h6m47 0h6m125 0h6m-167 1h6m84 0h6m43 0h6m33 0h6m12 0h6m-502 4h6m324 0h6m4 0h6m55 0h6m58 0h6m13 0h6m1 0h6m-151 1h6m12 0h6m43 0h6m-138 1h6m-1 0h6m30 0h6m44 0h6m53 0h6m71 0h6m-508 4h6m443 0h6m35 0h6m14 0h6m-501 1h6m441 0h6m-2 0h6m31 0h6m-30 1h6m-1 6h6m0 0h6m-509 10h6m12 8h6m-12 4h6m-18 1h6" stroke="#e878a8"/>
<path d="M2003 458h6m-29 1h6m51 4h6m2 0h6m-42 1h6m-78 1h6m10 0h6m55 0h6m13 4h6m41 0h6m-58 1h6m6 0h6m-31 1h6m24 0h6m-97 4h6m63 0h6m82 0h6m-101 1h6m11 0h6m14 0h6m48 0h6m-28 5h6m-163 1h6m8 0h6m118 1h6m62 0h6m-35 4h6m-181 1h6m150 0h6m-168 1h6m-4 4h6m166 0h6m-190 13h6m323 0h6m-74 1h6m137 4h6m-30 1h6m36 5h6m-84 1h6m-78 1h6m103 0h6m89 0h6m-161 4h6m77 0h6m18 0h6m-154 1h6m123 0h6m8 0h6m-428 1h6m356 0h6m66 0h6m-125 4h6m24 0h6m78 0h6m-190 1h6m16 0h6m208 0h6m-100 1h6m46 4h6m7 0h6m27 2h6m-12 5h6m-520 6h6m-6 5h6m2 13h6" stroke="#8a3a70"/>
<path d="M1955 459h6m73 0h6m-61 4h6m7 1h6m66 0h6m-128 1h6m73 0h6m24 0h6m-115 4h6m54 0h6m1 0h6m-18 2h6m73 0h6m-95 4h6m0 0h6m102 0h6m-133 1h6m-35 1h6m108 0h6m10 4h6m18 0h6m-62 1h6m0 0h6m49 0h6m21 6h6m-219 6h6m194 1h6m40 10h6m113 0h6m-132 1h6m36 0h6m8 0h6m-13 1h6m107 0h6m-173 5h6m11 0h6m-1 0h6m2 1h6m136 4h6m-150 1h6m12 0h6m0 0h6m101 0h6m-83 1h6m38 0h6m15 0h6m15 0h6m40 0h6m32 0h6m-247 4h6m138 1h6m-137 5h6m72 0h6m68 0h6m20 0h6m-453 7h6m453 5h6m-1 0h6m-43 1h6m43 0h6m-501 5h6m-7 7h6m-9 12h6m5 0h6" stroke="#6a5098"/>
<path d="M2021 457h6m30 6h6m-78 6h6m71 0h6m-46 2h6m-77 4h6m82 0h6m-114 1h6m204 12h6m-83 1h6m-140 6h6m199 4h6m0 1h6m-19 1h6m166 4h6m-57 1h6m-1 1h6m-75 4h6m109 0h6m-16 1h6m27 0h6m-70 1h6m-54 4h6m30 0h6m-103 1h6m108 0h6m11 1h6m-129 4h6m48 0h6m171 1h6m-488 1h6m288 5h6m65 0h6m-368 1h6m256 0h6m132 0h6m33 0h6m13 0h6m-38 5h6m18 1h6m-472 10h6m-12 12h6m0 1h6m-18 1h6" stroke="#5a70b0"/>
<path d="M1998 453h6m-7 5h6m25 0h6m-87 5h6m9 0h6m4 0h6m20 1h6m-20 1h6m35 0h6m2 0h6m-109 5h6m116 0h6m0 0h6m-96 1h6m0 0h6m-1 0h6m97 4h6m-1 0h6m1 0h6m-132 1h6m91 0h6m-134 1h6m117 5h6m45 0h6m10 0h6m-23 5h6m0 0h6m-41 1h6m48 1h6m-55 4h6m19 1h6m-196 11h6m215 0h6m21 2h6m102 0h6m30 0h6m-399 4h6m279 0h6m30 0h6m-24 1h6m-66 1h6m65 0h6m6 0h6m1 0h6m47 0h6m-5 4h6m-85 1h6m53 0h6m80 0h6m0 0h6m-479 1h6m280 0h6m43 0h6m5 0h6m1 4h6m6 0h6m94 0h6m24 0h6m-227 1h6m114 0h6m73 0h6m-143 1h6m66 0h6m41 0h6m18 0h6m-153 4h6m-25 1h6m166 0h6m-493 1h6m243 0h6m126 0h6m0 0h6m39 0h6m18 0h6m20 0h6m11 0h6m-38 4h6m-24 6h6m-17 1h6m-442 1h6m490 0h6m-515 11h6" stroke="#3a2a60"/>
<path d="M1935 243h6m141 24h6m184 47h6m-167 1h6m-108 4h6m-41 1h6m146 7h6m54 4h6m-260 12h6m22 1h6m-46 7h6m258 5h6m-170 6h6m-101 6h6m-1 1h6m50 0h6m13 16h6m200 0h6m-202 1h6m-60 5h6m-38 2h6m349 5h6m-215 5h6m196 2h6m-216 4h6m-143 2h6m138 0h6m151 5h6m64 1h6m-179 4h6m72 12h6m59 0h6m37 1h6m-120 1h6m36 0h6m-21 6h6m-52 4h6m-11 6h6m42 0h6m28 1h6m120 1h6m-63 6h6m-426 16h6" stroke="#f4c0d8"/>
<path d="M1980 398h6m35 6h6m-51 5h6m44 7h6m53 0h6m-142 1h6m10 0h6m26 0h6m-24 10h6m30 2h6m71 0h6m-155 5h6m130 5h6m13 0h6m-60 1h6m-1 0h6m-123 5h6m96 0h6m-90 8h6m113 0h6m-138 4h6m185 0h6m8 0h6m-56 2h6m193 10h6m-1 0h6m101 0h6m-73 8h6m0 6h6m41 4h6m6 0h6m-213 1h6m118 1h6m-116 4h6m-38 2h6m3 5h6m80 0h6" stroke="#3a3068"/>
<path d="M1961 457h6m49 0h6m-35 1h6m-26 1h6m37 0h6m-50 6h6m-22 4h6m130 0h6m-155 1h6m10 1h6m110 0h6m-96 4h6m25 0h6m13 0h6m36 0h6m-114 1h6m108 0h6m-78 1h6m45 4h6m54 0h6m-85 1h6m47 0h6m-161 1h6m89 0h6m44 0h6m37 0h6m10 0h6m-52 4h6m0 0h6m-29 2h6m58 4h6m-22 1h6m-13 7h6m0 0h6m51 4h6m31 0h6m-1 0h6m1 0h6m26 0h6m-72 1h6m88 0h6m2 0h6m-114 1h6m71 0h6m-1 0h6m-61 4h6m54 0h6m0 0h6m24 0h6m-90 1h6m29 0h6m0 0h6m-364 1h6m239 0h6m38 0h6m-44 4h6m193 0h6m17 0h6m-120 1h6m-362 1h6m236 0h6m7 0h6m42 0h6m-2 0h6m117 0h6m-200 4h6m14 0h6m23 0h6m0 0h6m11 0h6m67 0h6m96 0h6m-150 1h6m23 0h6m-112 1h6m35 0h6m43 0h6m-23 4h6m66 0h6m-114 1h6m79 0h6m10 0h6m-114 1h6m13 0h6m12 0h6m29 0h6m96 0h6m-40 4h6m24 0h6m14 0h6m-20 1h6m-46 1h6m0 5h6m5 0h6m11 1h6m8 0h6" stroke="#c04880"/>
</g>
<rect x="380" y="95" width="1.4" height="54" fill="#fff6f8"/>
<rect x="428.1" y="95" width="1.4" height="54" fill="#fff6f8"/>
<rect x="465.9" y="95" width="1.4" height="54" fill="#fff6f8"/>
<path d="M481.9 46V149.4H376" fill="none" stroke="#d4d0d8" stroke-width="0.8"/>
<path d="M375.6 46V149" fill="none" stroke="#c8c4cc" stroke-width="0.8"/>
<path d="M375.2 45.6H482.3" fill="none" stroke="#a8a4b4" stroke-width="0.9"/>
<path d="M375.6 47.8v1.3M375.6 51.9v1.3M375.6 56.1v1.3M375.6 60.2v1.3M375.6 64.4v1.3M375.6 68.5v1.3M375.6 72.7v1.3M375.6 76.8v1.3M375.6 81v1.3M375.6 85.2v1.3M375.6 89.3v1.3M375.6 93.5v1.3M375.6 97.6v1.3M375.6 101.8v1.3M375.6 105.9v1.3M375.6 110.1v1.3M375.6 114.2v1.3M375.6 118.4v1.3M375.6 122.5v1.3M375.6 126.7v1.3M375.6 130.8v1.3M375.6 134.9v1.3M375.6 139.1v1.3M375.6 143.2v1.3" stroke="#8a8a8a" stroke-width="1.1" fill="none"/>
<rect x="370" y="48" width="3.6" height="9" fill="#e2e0e6"/>
<rect x="483" y="48" width="3.6" height="9" fill="#e2e0e6"/>
<path d="M466.4 78.7V99.5" stroke="#1a1a1a" stroke-width="1.3"/>
<path d="M460.6 98.5L472.2 98.5L466.4 109.5Z" fill="#111"/>
<rect x="264" y="238" width="106" height="104" fill="#fff"/>
<path transform="scale(.5)" fill="#4078b8" d="M528 683l0-59 3-1 3 1V683Z"/>
<path transform="scale(.5)" fill="#44aacb" d="M528 683l0-45 3-1 3 1V683Z"/>
<path transform="scale(.5)" fill="#62ae44" d="M528 683l0-37 3-1 3 1V683Z"/>
<path transform="scale(.5)" fill="#f08a3a" d="M528 683l0-25 3-1 3 0V683Z"/>
<path transform="scale(.5)" fill="#e21c2c" d="M528 683l0-22 3 1 3-1V683Z"/>
<path transform="scale(.5)" fill="#f264a2" d="M528 683l0-10 3 0 3-1V683Z"/>
<path transform="scale(.5)" fill="#1c3a88" d="M528 683l0-8 3 1 3 0V683Z"/>
<path transform="scale(.5)" fill="#4078b8" d="M536 683l0-60 3 1 3 0 3 0 3-1 3-1 3 2 3-1 3 0 3 0 3-1 3 2 3 1 3-1 3 0 3 0 3-1 3-1 3 2 2-1V683Z"/>
<path transform="scale(.5)" fill="#44aacb" d="M536 683l0-46 3 0 3 1 3 1 3-1 3-1 3 0 3 2 3 0 3-2 3 2 3-2 3 2 3 0 3 0 3-2 3 2 3-2 3 2 2-1V683Z"/>
<path transform="scale(.5)" fill="#62ae44" d="M536 683l0-36 3-1 3 0 3 1 3-1 3 0 3 1 3-2 3 2 3-1 3-1 3 1 3 1 3 1 3-3 3 0 3 2 3-1 3 1 2-1V683Z"/>
<path transform="scale(.5)" fill="#f08a3a" d="M536 683l0-28 3 2 3 1 3 0 3 0 3-1 3 1 3-1 3 0 3-1 3 1 3 1 3 0 3-1 3-1 3 2 3-3 3 0 3 2 2 0V683Z"/>
<path transform="scale(.5)" fill="#e21c2c" d="M536 683l0-21 3-1 3 2 3-2 3 2 3 0 3-3 3 0 3 2 3 1 3 0 3-2 3 2 3-3 3 1 3 0 3 1 3 0 3 1 2-2V683Z"/>
<path transform="scale(.5)" fill="#f264a2" d="M536 683l0-10 3-2 3 1 3-1 3 3 3-2 3 1 3 1 3-3 3 2 3 0 3 0 3-2 3 3 3-2 3 2 3-2 3 1 3-1 2 0V683Z"/>
<path transform="scale(.5)" fill="#1c3a88" d="M536 683l0-6 3 0 3-2 3 0 3 2 3-2 3 1 3-2 3 2 3 0 3 0 3 1 3-2 3-1 3 3 3 0 3 1 3-1 3 0 2-1V683Z"/>
<path transform="scale(.5)" fill="#4078b8" d="M594 683l0-52 3 0 3 1 3-1 3 1 3 2 3-2 3 1 3-2 3 1 3-1 3 0 3 0 3 0 3 1 3 0 3 0V683Z"/>
<path transform="scale(.5)" fill="#44aacb" d="M594 683l0-41 3-2 3 2 3-1 3 0 3 0 3 1 3-2 3 2 3 0 3-1 3 0 3-1 3 2 3-2 3 1 3 0V683Z"/>
<path transform="scale(.5)" fill="#62ae44" d="M594 683l0-34 3-1 3 0 3-1 3 2 3-2 3 2 3 0 3-1 3-2 3 3 3-3 3 2 3 0 3 0 3 2 3-2V683Z"/>
<path transform="scale(.5)" fill="#f08a3a" d="M594 683l0-27 3 1 3 0 3-1 3 1 3-1 3 3 3-3 3 3 3 0 3-3 3 2 3-2 3 0 3 2 3 1 3-1V683Z"/>
<path transform="scale(.5)" fill="#e21c2c" d="M594 683l0-21 3-1 3 1 3-1 3 2 3 0 3-1 3-1 3 2 3-3 3 1 3 2 3 1 3-2 3 1 3-3 3 2V683Z"/>
<path transform="scale(.5)" fill="#f264a2" d="M594 683l0-10 3 0 3 0 3 0 3 0 3 0 3-1 3 2 3-3 3 2 3 0 3-1 3 0 3 1 3-1 3 1 3-1V683Z"/>
<path transform="scale(.5)" fill="#1c3a88" d="M594 683l0-7 3 1 3-2 3 1 3 1 3 0 3-1 3 1 3-1 3-1 3 0 3 0 3 1 3 1 3-1 3 0 3 0V683Z"/>
<path transform="scale(.5)" fill="#4078b8" d="M644 683l0-49 3-1 3 2 3-1 3 1 3-1 3-1 3 1 3-1 3 0 3 0 3 1 3 0 3 0 3 0 3-1 3 1 3 0 3 1 3-2 3 2 3 0 3-1 3 1 3-1 3 1 3-2 3 1 3 0 3 0 3-1 3 2 3-1V683Z"/>
<path transform="scale(.5)" fill="#44aacb" d="M644 683l0-37 3-1 3 2 3-1 3 1 3-2 3 1 3 1 3-1 3 0 3 1 3-1 3-1 3 2 3 0 3 0 3-2 3 2 3-2 3 1 3-1 3 2 3-1 3 0 3 0 3 1 3 0 3 0 3-2 3 2 3 0 3-2 3 1V683Z"/>
<path transform="scale(.5)" fill="#62ae44" d="M644 683l0-29 3-2 3 1 3-1 3 1 3 0 3 0 3 1 3 0 3 0 3-2 3 1 3 1 3 0 3-2 3 0 3 2 3-2 3 1 3-1 3 0 3 1 3 0 3 1 3-2 3 0 3-1 3 1 3 2 3-2 3 1 3 1 3-1V683Z"/>
<path transform="scale(.5)" fill="#f08a3a" d="M644 683l0-22 3-2 3 1 3-1 3 2 3-1 3 0 3 1 3 0 3-2 3 0 3 2 3 0 3-1 3 0 3-1 3 1 3-1 3 2 3 1 3-3 3 2 3-2 3 2 3-1 3 2 3-3 3 0 3 1 3 0 3-1 3 0 3 1V683Z"/>
<path transform="scale(.5)" fill="#e21c2c" d="M644 683l0-18 3-1 3 1 3 0 3 0 3 0 3-1 3 1 3-1 3 1 3-1 3-1 3 2 3-1 3-1 3 1 3 0 3 1 3-2 3 1 3-1 3 1 3 1 3-1 3-1 3 1 3-1 3 1 3 0 3 0 3-1 3 2 3-1V683Z"/>
<path transform="scale(.5)" fill="#f264a2" d="M644 683l0-11 3-1 3 0 3 2 3-2 3 0 3 0 3 2 3-1 3 0 3-1 3 1 3 1 3 1 3-2 3 1 3 0 3 0 3-1 3-1 3 0 3 2 3 0 3-1 3 1 3-1 3 0 3 1 3 1 3 0 3-2 3 2 3-2V683Z"/>
<path transform="scale(.5)" fill="#1c3a88" d="M644 683l0-7 3 1 3-2 3 1 3-1 3 1 3 1 3-1 3 0 3 0 3-1 3 3 3-3 3 2 3 0 3 0 3-2 3 2 3 0 3 0 3-1 3-1 3 1 3 0 3-1 3 1 3 1 3-1 3-1 3 3 3-3 3 1 3 0V683Z"/>
<g transform="scale(.2)" stroke-width="6" fill="none">
<path d="M1408 1562h6m0 0h6m-88 1h6m112 5h6m-128 1h6m19 5h6m6 0h6m-19 6h6m36 0h6m6 0h6m24 0h6m-10 5h6m-111 2h6m170 2h6m30 0h6m0 0h6m-132 2h6m0 0h6m-103 2h6m325 1h6m30 0h6m0 0h6m30 0h6m-256 1h6m60 0h6m-97 2h6m282 3h6m42 0h6m0 0h6m24 0h6m-264 1h6m6 0h6m6 0h6m-258 2h6m48 0h6m346 3h6m0 0h6m0 0h6m48 0h6m-308 1h6m66 0h6m-255 2h6m313 3h6m30 0h6m114 0h6m-331 1h6m0 0h6m30 0h6m60 0h6m-277 4h6m344 1h6m36 0h6m-137 1h6m96 5h6m28 6h6" stroke="#6a5aa8"/>
<path d="M1342 1568h6m54 0h6m-86 1h6m79 5h6m-84 1h6m23 5h6m114 0h6m-152 1h6m154 2h6m-30 2h6m-153 2h6m303 1h6m84 0h6m0 0h6m108 0h6m-319 1h6m-78 2h6m150 3h6m222 0h6m0 0h6m-304 1h6m-157 2h6m246 3h6m-44 6h6m146 12h6m36 0h6" stroke="#c05088"/>
<path d="M1348 1562h6m48 0h6m24 0h6m-72 6h6m6 0h6m-13 6h6m-54 1h6m83 5h6m-52 5h6m54 0h6m222 3h6m6 0h6m114 0h6m30 0h6m-343 1h6m-84 2h6m54 0h6m0 0h6m116 4h6m-223 2h6m42 0h6m264 3h6m30 0h6m72 0h6m28 6h6m-178 6h6m0 0h6m84 0h6m-6 6h6" stroke="#3060a8"/>
<path d="M1322 1599h6m26 4h6m36 0h6m24 0h6m0 0h6m56 4h6m6 0h6m0 0h6m48 0h6m-195 2h6m138 4h6m60 0h6m-204 2h6m36 0h6m92 4h6m18 0h6m6 0h6m0 0h6m6 0h6m54 5h6m6 0h6m0 0h6m0 0h6m6 0h6m102 0h6m30 0h6m-218 6h6m6 0h6m72 0h6m30 0h6m6 0h6m0 0h6m36 0h6m18 0h6" stroke="#78c0d8"/>
<path d="M1444 1603h6m-97 6h6m6 0h6m12 0h6m12 0h6m0 0h6m18 0h6m18 0h6m-129 2h6m189 2h6m30 0h6m-228 2h6m54 0h6m30 0h6m12 0h6m6 0h6m50 4h6m102 5h6m138 0h6m-152 6h6m30 0h6m6 0h6m0 0h6m54 0h6m66 0h6m18 0h6m0 0h6" stroke="#3a78b8"/>
<path d="M1444 1621h6m18 0h6m91 4h6m-244 4h6m-5 6h6m308 1h6m6 0h6m-66 1h6m-150 2h6m220 3h6m60 0h6m-231 1h6m30 0h6m12 0h6m155 5h6m18 0h6" stroke="#40a0a0"/>
<path d="M1355 1651h6m12 0h6m42 0h6m42 0h6m-142 2h6m149 2h6m12 0h6m12 0h6m0 0h6m24 0h6m30 0h6m0 0h6m3 5h6m18 0h6m12 0h6m6 0h6m12 0h6m36 0h6m30 0h6m36 0h6m18 0h6m-321 25h6m0 0h6m12 0h6m18 0h6m6 0h6m18 0h6m-218 2h6m12 0h6m12 0h6m312 3h6m66 0h6m0 0h6" stroke="#e21c2c"/>
<path d="M1523 1649h6m93 5h6m192 0h6m-466 3h6m0 0h6m36 0h6m24 0h6m12 0h6m0 0h6m-135 2h6m374 1h6m24 0h6m-219 1h6m18 0h6m56 5h6m30 0h6m6 0h6m6 0h6m0 0h6m48 0h6m30 0h6m6 0h6m0 0h6m6 0h6m30 0h6" stroke="#f08a3a"/>
<path d="M1503 1679h6m30 0h6m0 0h6m18 0h6m-234 2h6m18 0h6m0 0h6m18 0h6m18 0h6m0 0h6m0 0h6m0 0h6m0 0h6m-121 2h6m296 1h6m6 0h6m78 0h6m36 0h6m54 0h6m12 0h6m-498 9h6m24 0h6m0 0h6m18 0h6m42 0h6m0 0h6m0 0h6m204 3h6m0 0h6m12 0h6m114 0h6m0 0h6m-355 1h6m0 0h6m0 0h6m12 0h6m18 0h6m18 0h6m0 0h6m0 0h6" stroke="#f264a2"/>
<path d="M1333 1689h6m357 1h6m30 0h6m12 0h6m30 0h6m36 0h6m-337 1h6m12 0h6m6 0h6m0 0h6m12 0h6m12 0h6m0 0h6m6 0h6m0 0h6" stroke="#1c3a88"/>
<path d="M1354 1562h6m66 0h6m18 0h6m-102 6h6m0 0h6m60 0h6m-73 6h6m54 0h6m-7 6h6m18 0h6m110 3h6m-150 2h6m36 0h6m270 3h6m18 0h6m54 0h6m6 0h6m-313 1h6m6 0h6m-198 2h6m300 3h6m24 0h6m6 0h6m66 0h6m-232 1h6m36 0h6m-241 2h6m12 0h6m84 0h6m12 0h6m138 3h6m60 0h6m36 0h6m0 0h6m30 0h6m24 0h6m24 0h6m-420 3h6m24 0h6m178 3h6m168 0h6m6 0h6m-290 1h6m-93 2h6m24 0h6m151 3h6m18 0h6m12 0h6m-289 3h6m36 0h6m187 3h6m0 0h6m12 0h6m42 0h6m54 0h6m78 0h6m-347 1h6m126 5h6m6 0h6m96 0h6m72 0h6m-188 6h6m0 0h6m66 0h6m0 0h6m66 0h6m30 0h6" stroke="#2a3a80"/>
<path d="M1360 1562h6m0 0h6m0 0h6m0 0h6m90 0h6m-132 6h6m78 0h6m6 0h6m90 15h6m6 0h6m60 5h6m-113 7h6m-127 2h6m270 3h6m18 0h6m-68 6h6m168 0h6m-190 6h6m78 0h6m48 0h6m18 0h6m-42 6h6" stroke="#70a0d0"/>
<path d="M1396 1568h6m12 0h6m48 0h6m-85 6h6m36 0h6m24 0h6m-43 6h6m86 3h6m48 0h6m36 5h6m6 0h6m42 0h6m12 0h6m6 0h6m6 0h6m54 0h6m-271 1h6m0 0h6m42 0h6m-180 2h6m42 0h6m210 3h6m-142 1h6m6 0h6m6 0h6m-127 2h6m30 0h6m198 3h6m6 0h6m60 0h6m36 0h6m-300 1h6m12 0h6m12 0h6m18 0h6m160 5h6m54 0h6m6 0h6m24 0h6m-94 6h6m96 0h6m-222 6h6m18 0h6m66 0h6m24 0h6m12 0h6" stroke="#40a8c0"/>
<path d="M1372 1603h6m224 4h6m-237 2h6m18 0h6m102 4h6m-4 6h6m102 5h6m52 6h6m30 0h6" stroke="#4a9a80"/>
<path d="M1342 1621h6m6 0h6m36 6h6m54 0h6m6 0h6m-49 6h6m313 3h6m30 0h6m-258 1h6m18 0h6m-168 2h6m193 4h6m71 5h6m168 0h6" stroke="#c0d048"/>
<path d="M1348 1621h6m30 0h6m6 0h6m18 0h6m85 4h6m54 0h6m-1 6h6m6 0h6m-247 2h6m325 3h6m54 0h6m12 0h6m-270 1h6m24 0h6m-156 2h6m36 0h6m12 0h6m30 0h6m178 3h6m174 0h6m-345 1h6m36 0h6m18 0h6m30 0h6m35 5h6m36 0h6m12 0h6m24 0h6m48 0h6m48 0h6" stroke="#3f8a3a"/>
<path d="M1450 1621h6m6 0h6m79 4h6m24 0h6m0 0h6m-205 2h6m0 0h6m36 0h6m24 0h6m48 4h6m-151 2h6m42 0h6m211 3h6m66 0h6m12 0h6m42 0h6m48 0h6m6 0h6m0 0h6m-306 1h6m12 0h6m0 0h6m-222 2h6m36 0h6m24 0h6m6 0h6m274 3h6m66 0h6m24 0h6m-321 1h6m203 5h6m48 0h6m12 0h6m24 0h6" stroke="#98c850"/>
<path d="M1353 1645h6m12 0h6m12 0h6m0 0h6m30 0h6m18 0h6m0 0h6m80 4h6m6 0h6m6 0h6m12 0h6m0 0h6m81 5h6m0 0h6m6 0h6m30 0h6m0 0h6m24 0h6m18 0h6m0 0h6m18 0h6" stroke="#62ae44"/>
<path d="M1596 1661h6m-171 2h6m317 3h6m54 0h6m-251 1h6m12 0h6m-149 2h6m126 4h6m6 0h6m-222 2h6m24 0h6m6 0h6m276 9h6m30 0h6m6 0h6m30 0h6" stroke="#b81030"/>
<path d="M1372 1693h6m71 6h6m236 3h6m120 0h6m-312 1h6m60 0h6m0 0h6m0 0h6m-177 2h6m54 0h6m295 3h6" stroke="#3a4a9a"/>
<path d="M1678 1690h6m150 0h6m-331 1h6" stroke="#e8407a"/>
<path d="M1427 1203h6m215 12h6m-326 4h6m299 37h6m-298 6h6m449 7h6m-287 24h6m-95 35h6m414 17h6m-181 2h6m13 22h6m89 25h6m54 6h6m-431 6h6m101 0h6m-143 1h6m222 0h6m97 6h6m89 0h6m-451 10h6m170 0h6m256 1h6m-138 1h6m-342 4h6m497 0h6m-440 7h6m29 0h6m254 0h6m42 1h6m37 4h6m-394 1h6m262 0h6m55 1h6m-101 4h6m162 0h6m0 0h6m-209 1h6m-218 1h6m8 0h6m-94 4h6m327 1h6m23 0h6m48 0h6m-201 5h6m-229 2h6m248 16h6" stroke="#f4c0d8"/>
<path d="M1352 1225h6m92 6h6m134 0h6m180 2h6m-458 96h6m205 18h6m-86 6h6m8 12h6m296 11h6m54 1h6m-268 4h6m108 1h6m157 6h6m-114 1h6m-62 11h6m116 1h6m-301 4h6m-183 6h6m507 0h6m-191 2h6m-26 4h6m-24 1h6m61 1h6m107 4h6m-284 1h6m195 0h6m0 0h6m-258 1h6m186 0h6m66 0h6m-391 4h6m48 0h6m405 0h6m-152 1h6m2 0h6m-273 1h6m-34 4h6m256 0h6m41 0h6m14 0h6m1 0h6m112 0h6m-36 1h6m-418 1h6m108 0h6m166 0h6m-220 4h6m245 0h6m1 0h6m21 0h6m-365 1h6m359 0h6m-277 1h6m-122 5h6m151 0h6m281 0h6m-355 1h6m99 0h6m36 0h6m151 10h6m-462 1h6m204 0h6m162 1h6m49 0h6m-189 6h6m-60 6h6m73 5h6m-63 5h6m55 0h6m-84 1h6m25 0h6m-62 1h6" stroke="#c84880"/>
<path d="M1665 1197h6m84 107h6m-115 1h6m182 12h6m-116 23h6m8 1h6m-425 16h6m417 7h6m-408 7h6m306 4h6m-189 18h6m10 0h6m247 0h6m-174 1h6m191 1h6m-301 16h6m357 2h6m-500 10h6m319 0h6m-18 6h6m155 2h6m12 4h6m-412 1h6m375 0h6m-381 1h6m183 0h6m-61 4h6m-244 7h6m32 0h6m311 0h6m13 1h6m53 4h6m42 2h6m-249 4h6m162 0h6m1 0h6m-127 1h6m92 0h6m-208 18h6m49 1h6m-63 5h6m24 0h6" stroke="#9a6080"/>
<path d="M1629 1195h6m-239 92h6m222 0h6m-69 42h6m8 16h6m81 6h6m117 12h6m-425 2h6m399 0h6m-21 4h6m-120 12h6m59 0h6m-357 6h6m399 2h6m-155 4h6m-162 6h6m108 0h6m-197 1h6m161 0h6m95 0h6m128 1h6m-445 4h6m462 1h6m-410 6h6m110 0h6m197 0h6m44 0h6m-85 1h6m11 4h6m-1 0h6m-371 2h6m127 0h6m334 0h6m-338 4h6m202 2h6m-337 4h6m200 0h6m46 0h6m173 0h6m-203 2h6m91 0h6m-349 4h6m206 0h6m177 0h6m-394 1h6m425 0h6m-127 1h6m-257 4h6m29 0h6m-84 1h6m426 0h6m-494 1h6m285 0h6m-306 4h6m308 0h6m11 0h6m91 2h6m89 0h6m-222 4h6m4 0h6m182 0h6m11 0h6m-239 2h6m-16 4h6m44 0h6m187 0h6m-121 1h6m60 1h6m-237 10h6m-70 6h6m22 6h6m36 0h6m0 1h6m-96 1h6" stroke="#f090bc"/>
<path d="M1372 1455h6m-19 4h6m25 0h6m43 2h6m-98 4h6m330 0h6m97 0h6m-409 1h6m29 0h6m19 0h6m4 0h6m182 0h6m5 0h6m53 0h6m42 0h6m32 0h6m-477 1h6m302 0h6m17 0h6m80 0h6m70 0h6m-416 4h6m258 0h6m35 0h6m5 0h6m26 0h6m-331 1h6m25 1h6m226 0h6m121 0h6m-462 4h6m24 0h6m61 0h6m294 0h6m-91 1h6m13 0h6m77 0h6m-402 1h6m29 0h6m217 0h6m79 0h6m41 0h6m59 0h6m-504 4h6m325 0h6m91 0h6m23 0h6m30 0h6m-468 1h6m17 0h6m23 0h6m12 0h6m13 0h6m171 0h6m94 0h6m78 0h6m-379 1h6m222 0h6m9 0h6m30 0h6m-265 4h6m54 0h6m93 0h6m49 0h6m66 0h6m6 0h6m17 0h6m-448 1h6m17 0h6m29 0h6m128 0h6m25 0h6m87 0h6m7 0h6m95 0h6m49 0h6m-193 1h6m-304 4h6m29 0h6m80 0h6m24 0h6m111 0h6m120 0h6m72 0h6m-423 1h6m54 0h6m6 0h6m150 0h6m48 0h6m28 0h6m-384 1h6m13 0h6m67 0h6m120 0h6m87 0h6m49 0h6m115 0h6m-426 4h6m37 0h6m186 0h6m40 0h6m31 0h6m78 0h6m-432 1h6m108 0h6m11 0h6m113 0h6m12 0h6m80 0h6m31 0h6m-454 1h6m16 0h6m12 0h6m6 0h6m107 0h6m341 0h6m-494 4h6m7 0h6m151 0h6m8 0h6m95 0h6m162 0h6m19 0h6m-475 1h6m23 0h6m12 0h6m53 0h6m26 0h6m5 0h6m38 0h6m96 0h6m25 0h6m5 0h6m41 0h6m29 0h6m50 0h6m-518 1h6m11 0h6m79 0h6m73 0h6m31 0h6m72 0h6m4 0h6m13 0h6m96 0h6m18 0h6m19 0h6m4 0h6m25 0h6m-468 4h6m2 0h6m40 0h6m109 0h6m19 0h6m33 0h6m42 0h6m18 0h6m1 0h6m-376 1h6m76 0h6m31 0h6m-1 0h6m13 0h6m107 0h6m47 0h6m0 0h6m0 0h6m71 0h6m67 0h6m12 0h6m-471 1h6m65 0h6m101 0h6m2 0h6m129 0h6m6 0h6m65 0h6m-402 4h6m1 0h6m-2 0h6m18 0h6m19 0h6m30 0h6m86 0h6m6 0h6m19 0h6m66 0h6m40 0h6m24 0h6m18 0h6m-379 1h6m90 0h6m46 0h6m4 0h6m62 0h6m75 0h6m14 0h6m-388 1h6m56 0h6m64 0h6m125 0h6m51 0h6m19 0h6m47 0h6m9 0h6m66 0h6m-289 4h6m64 0h6m18 0h6m89 0h6m123 0h6m-343 1h6m25 0h6m27 0h6m1 0h6m49 0h6m6 0h6m-1 0h6m38 0h6m47 0h6m66 0h6m6 0h6m-317 1h6m114 0h6m29 0h6m29 0h6m56 0h6m-284 4h6m32 0h6m42 0h6m90 0h6m52 0h6m75 0h6m-1 0h6m-283 1h6m19 0h6m125 0h6m12 0h6m71 0h6m24 0h6m1 0h6m1 0h6m-296 1h6m67 0h6m18 0h6m6 0h6m0 0h6m-1 0h6m8 0h6m41 0h6m29 0h6m-204 4h6m50 0h6m57 0h6m45 0h6m23 0h6m-181 1h6m224 0h6m16 0h6m1 0h6m-269 1h6m108 0h6m65 0h6m6 0h6m43 0h6m-271 4h6m-2 0h6m-64 1h6m0 0h6m-36 1h6m54 0h6m-4 4h6m-61 1h6m12 0h6m1 0h6m7 0h6m36 0h6m-92 1h6m32 0h6m30 0h6m-49 4h6m52 0h6m-72 1h6m6 0h6m18 1h6" stroke="#e878a8"/>
<path d="M1352 1454h6m55 0h6m37 5h6m-60 1h6m-56 5h6m13 0h6m294 0h6m100 1h6m20 0h6m-378 1h6m193 4h6m-314 1h6m100 0h6m22 0h6m-84 1h6m384 0h6m-418 4h6m257 0h6m59 0h6m55 0h6m70 0h6m-216 1h6m152 0h6m-446 1h6m122 0h6m226 0h6m-349 4h6m6 0h6m14 0h6m29 0h6m-12 1h6m228 0h6m164 1h6m-387 4h6m159 0h6m202 0h6m-483 1h6m34 1h6m371 0h6m77 0h6m-441 4h6m131 0h6m202 0h6m99 0h6m-527 1h6m470 0h6m44 0h6m-367 1h6m2 0h6m-31 4h6m-153 1h6m100 0h6m-74 1h6m55 0h6m5 0h6m234 0h6m8 0h6m15 0h6m-40 4h6m-258 1h6m4 0h6m286 0h6m-285 1h6m43 0h6m170 0h6m-301 4h6m18 0h6m115 0h6m201 0h6m13 0h6m-330 1h6m176 0h6m38 0h6m134 0h6m-363 5h6m219 0h6m1 0h6m78 0h6m25 0h6m30 0h6m29 0h6m-460 1h6m26 0h6m115 0h6m-52 1h6m55 0h6m260 0h6m-505 4h6m224 0h6m256 0h6m-165 1h6m111 0h6m-244 1h6m6 0h6m108 0h6m161 0h6m-519 4h6m207 0h6m60 0h6m20 0h6m-144 1h6m262 0h6m18 0h6m-457 1h6m222 0h6m158 0h6m77 0h6m-240 4h6m-88 1h6m58 0h6m161 0h6m18 0h6m-209 1h6m227 0h6m-178 4h6m-55 1h6m-59 1h6m71 0h6m0 0h6m-22 4h6m30 2h6m-18 5h6m-101 1h6m34 0h6" stroke="#7a2a58"/>
<path d="M1468 1454h6m-11 5h6m177 6h6m-185 1h6m150 0h6m-16 5h6m-234 2h6m13 0h6m333 0h6m-340 6h6m60 0h6m-151 4h6m131 2h6m247 0h6m-215 4h6m153 0h6m-37 1h6m78 0h6m-326 1h6m174 0h6m-181 4h6m103 0h6m-80 1h6m216 0h6m115 0h6m-256 1h6m136 4h6m-312 1h6m288 0h6m41 1h6m43 0h6m-156 4h6m-290 2h6m164 4h6m274 0h6m-201 1h6m179 0h6m-373 5h6m231 0h6m71 1h6m60 0h6m-114 1h6m71 5h6m-205 7h6m54 4h6m12 0h6m18 0h6m13 1h6m37 0h6m-32 1h6m7 0h6m-153 11h6m-3 5h6" stroke="#3a3068"/>
<path d="M1360 1453h6m24 1h6m-1 0h6m9 5h6m5 1h6m46 5h6m311 0h6m36 0h6m-24 1h6m-396 1h6m17 0h6m175 0h6m120 0h6m77 0h6m-452 4h6m0 0h6m345 0h6m19 0h6m-142 1h6m90 0h6m-302 1h6m32 0h6m222 0h6m77 0h6m-402 4h6m257 0h6m1 0h6m47 0h6m2 0h6m77 0h6m-383 1h6m6 0h6m-1 0h6m198 0h6m19 0h6m-245 1h6m297 0h6m-312 4h6m1 0h6m28 0h6m208 0h6m9 0h6m37 0h6m0 0h6m-301 1h6m150 0h6m43 0h6m43 0h6m65 0h6m60 0h6m-96 1h6m-366 4h6m46 0h6m21 0h6m108 0h6m7 0h6m177 0h6m6 0h6m-414 1h6m129 0h6m24 0h6m133 0h6m8 0h6m-336 1h6m31 0h6m-2 0h6m266 0h6m22 0h6m6 0h6m11 0h6m7 0h6m55 0h6m11 0h6m-449 4h6m14 0h6m35 0h6m180 0h6m29 0h6m14 0h6m54 0h6m10 0h6m-446 1h6m26 0h6m391 0h6m66 0h6m-419 1h6m23 0h6m154 0h6m175 0h6m-396 4h6m57 0h6m102 0h6m33 0h6m14 0h6m22 0h6m83 0h6m3 0h6m69 0h6m8 0h6m-521 1h6m102 0h6m0 0h6m342 0h6m-456 1h6m5 0h6m96 0h6m12 0h6m31 0h6m4 0h6m175 0h6m24 0h6m6 0h6m-277 4h6m38 0h6m76 0h6m57 0h6m35 0h6m58 0h6m13 0h6m-422 1h6m109 0h6m37 0h6m25 0h6m114 0h6m5 0h6m12 0h6m1 0h6m35 0h6m-379 1h6m59 0h6m0 0h6m2 0h6m156 0h6m191 0h6m19 0h6m-526 4h6m23 0h6m31 0h6m53 0h6m-1 0h6m49 0h6m-150 1h6m36 0h6m80 0h6m36 0h6m11 0h6m30 0h6m21 0h6m30 0h6m180 0h6m-419 1h6m42 0h6m115 0h6m106 0h6m25 0h6m11 0h6m12 0h6m18 0h6m0 0h6m11 0h6m19 0h6m-357 4h6m5 0h6m0 0h6m49 0h6m40 0h6m61 0h6m23 0h6m-385 1h6m11 0h6m53 0h6m6 0h6m12 0h6m2 0h6m30 0h6m138 0h6m134 0h6m53 0h6m-489 1h6m116 0h6m0 0h6m55 0h6m97 0h6m53 0h6m72 0h6m41 0h6m-323 4h6m119 0h6m102 0h6m20 0h6m28 0h6m50 0h6m-307 1h6m61 0h6m107 0h6m6 0h6m58 0h6m-323 1h6m74 0h6m124 0h6m74 0h6m6 0h6m4 0h6m-192 4h6m66 0h6m21 0h6m23 0h6m-1 0h6m89 0h6m-512 1h6m177 0h6m72 0h6m32 0h6m-2 0h6m6 0h6m113 0h6m74 0h6m-345 1h6m67 0h6m212 0h6m-307 4h6m55 0h6m34 0h6m61 0h6m4 0h6m102 0h6m44 0h6m-335 1h6m113 0h6m118 0h6m39 0h6m6 0h6m-288 1h6m-1 0h6m41 0h6m55 0h6m-1 0h6m12 0h6m42 0h6m98 0h6m-326 4h6m42 0h6m41 0h6m-65 1h6m61 0h6m-23 5h6m-76 1h6m28 0h6m49 0h6m-17 1h6m-2 0h6m-66 4h6m6 0h6m5 0h6m14 0h6m23 0h6m-120 1h6m5 0h6m1 0h6m71 0h6m8 0h6" stroke="#c83c78"/>
<path d="M1344 1525h6m11 0h6m83 1h6m1 0h6m-85 1h6m19 0h6m12 0h6m-49 5h6m8 0h6m22 0h6m30 0h6m-118 5h6m3 1h6m-37 1h6m55 0h6m-11 4h6m17 0h6m60 0h6m247 0h6m28 0h6m25 0h6m29 0h6m-376 1h6m19 0h6m322 0h6m-175 1h6m105 0h6m-423 4h6m31 0h6m19 0h6m16 0h6m7 0h6m17 0h6m272 0h6m-356 1h6m38 0h6m288 0h6m30 0h6m6 0h6m79 0h6m-469 1h6m18 0h6m324 0h6m13 0h6m30 0h6m-360 4h6m191 0h6m33 0h6m62 0h6m71 0h6m-436 1h6m13 0h6m-73 1h6m24 0h6m91 0h6m262 0h6m90 0h6m-487 4h6m13 0h6m78 0h6m205 0h6m0 0h6m71 0h6m12 0h6m17 0h6m-308 1h6m10 0h6m2 0h6m11 0h6m142 0h6m-322 1h6m35 0h6m181 0h6m29 0h6m59 0h6m29 0h6m49 0h6m-142 4h6m-1 0h6m36 0h6m13 0h6m29 0h6m25 0h6m-1 0h6m0 0h6m-282 1h6m23 0h6m8 0h6m195 0h6m80 0h6m-275 1h6m58 0h6m84 0h6m6 0h6m102 0h6m-355 4h6m18 0h6m14 0h6m97 0h6m-116 1h6m61 0h6m11 0h6m12 0h6m54 0h6m55 0h6m6 0h6m41 0h6m1 0h6m-319 1h6m36 0h6m98 0h6m9 0h6m15 0h6m130 0h6m-347 4h6m46 0h6m247 0h6m-239 1h6m37 0h6m40 0h6m43 0h6m5 0h6m50 0h6m-181 1h6m19 0h6m66 0h6m0 0h6m33 0h6m86 0h6m-312 4h6m68 0h6m57 0h6m17 0h6m102 0h6m24 0h6m1 0h6m-315 1h6m6 0h6m42 0h6m34 0h6m53 0h6m7 0h6m65 0h6m67 0h6m3 0h6m-342 1h6m41 0h6m41 0h6m15 0h6m78 0h6m14 0h6m-84 4h6m25 0h6m163 0h6m-152 1h6m48 0h6m54 0h6m-161 1h6m103 0h6m35 0h6" stroke="#3a2a60"/>
<path d="M1347 1526h6m19 5h6m91 1h6m-91 1h6m14 0h6m53 4h6m-122 1h6m115 0h6m-146 1h6m97 0h6m-89 4h6m11 0h6m67 0h6m282 0h6m-343 1h6m312 0h6m-392 1h6m14 0h6m114 0h6m223 0h6m-302 4h6m262 0h6m171 1h6m-409 1h6m-29 4h6m312 0h6m90 0h6m-359 1h6m238 0h6m-1 1h6m-287 4h6m193 0h6m-229 1h6m68 0h6m0 0h6m32 0h6m35 0h6m251 0h6m-292 1h6m10 4h6m5 0h6m43 0h6m30 0h6m53 0h6m90 0h6m-226 1h6m-103 1h6m168 0h6m24 0h6m-216 4h6m162 0h6m36 0h6m1 0h6m12 0h6m113 0h6m-174 1h6m-156 1h6m46 0h6m-16 4h6m5 0h6m224 0h6m-176 1h6m121 0h6m30 0h6m-151 1h6m78 0h6m6 0h6m-140 4h6m12 0h6m189 0h6m-353 1h6m13 0h6m-20 1h6m191 0h6m18 0h6m127 0h6m-216 4h6m19 0h6m102 0h6m7 1h6m-164 1h6m55 0h6" stroke="#6a5098"/>
<path d="M1366 1525h6m14 0h6m41 1h6m6 0h6m-109 6h6m78 0h6m44 0h6m-85 1h6m11 0h6m0 4h6m-28 2h6m28 4h6m175 0h6m45 0h6m97 0h6m-72 1h6m42 0h6m7 0h6m66 0h6m-513 1h6m296 0h6m12 0h6m122 0h6m35 0h6m23 0h6m-518 4h6m62 1h6m416 0h6m-19 1h6m-494 4h6m20 0h6m31 0h6m255 0h6m113 0h6m8 0h6m-453 1h6m84 0h6m189 0h6m221 0h6m-453 1h6m356 0h6m-351 4h6m181 0h6m30 0h6m89 0h6m22 0h6m-418 1h6m31 0h6m191 0h6m-155 1h6m11 0h6m11 0h6m248 0h6m72 0h6m10 0h6m-336 4h6m13 0h6m203 0h6m-173 1h6m79 0h6m47 0h6m-364 1h6m479 0h6m-315 4h6m49 0h6m102 0h6m68 0h6m-2 0h6m13 1h6m7 0h6m5 0h6m-1 0h6m7 0h6m25 0h6m-1 0h6m-276 1h6m-2 0h6m218 0h6m-271 4h6m25 0h6m102 0h6m43 1h6m59 0h6m-301 1h6m7 0h6m35 0h6m85 0h6m36 0h6m95 0h6m-243 4h6m5 0h6m238 0h6m5 0h6m-255 1h6m69 0h6m120 0h6m-201 1h6m233 0h6m-142 4h6m5 1h6m18 0h6m12 0h6m-37 1h6" stroke="#8a3a70"/>
<path d="M1356 1526h6m28 0h6m43 0h6m-49 1h6m12 0h6m6 0h6m-82 4h6m51 1h6m26 0h6m-84 1h6m-2 0h6m75 0h6m9 0h6m-94 4h6m12 0h6m40 0h6m9 0h6m16 0h6m-120 1h6m79 0h6m-86 1h6m42 0h6m-66 4h6m97 0h6m161 0h6m48 0h6m13 0h6m108 0h6m-174 1h6m64 0h6m74 0h6m-1 0h6m-445 1h6m43 0h6m13 0h6m300 0h6m-2 0h6m36 0h6m-462 4h6m18 0h6m260 0h6m-1 0h6m24 0h6m67 0h6m18 0h6m31 0h6m40 0h6m-494 1h6m15 0h6m77 0h6m24 0h6m192 0h6m30 0h6m-258 1h6m5 0h6m159 0h6m0 0h6m156 0h6m-379 4h6m2 0h6m219 0h6m34 0h6m43 0h6m29 0h6m8 0h6m1 0h6m-482 1h6m26 0h6m84 0h6m214 0h6m30 0h6m97 0h6m-460 1h6m102 0h6m153 0h6m53 0h6m105 0h6m40 0h6m-502 4h6m89 0h6m75 0h6m87 0h6m0 0h6m7 0h6m23 0h6m41 0h6m62 0h6m4 0h6m31 0h6m19 0h6m-310 1h6m4 0h6m8 0h6m123 0h6m43 0h6m4 0h6m-334 1h6m139 0h6m19 0h6m50 0h6m-327 4h6m246 0h6m30 0h6m54 0h6m12 0h6m59 0h6m53 0h6m-334 1h6m29 0h6m196 0h6m57 0h6m-480 1h6m209 0h6m19 0h6m23 0h6m60 0h6m107 0h6m31 0h6m18 0h6m-349 4h6m102 0h6m85 0h6m29 0h6m-96 2h6m80 0h6m60 0h6m-291 4h6m12 0h6m1 0h6m68 0h6m17 0h6m0 0h6m35 0h6m43 0h6m31 0h6m60 0h6m6 0h6m-204 1h6m64 0h6m-198 1h6m36 0h6m169 0h6m5 0h6m-215 4h6m42 0h6m47 0h6m12 0h6m76 0h6m-76 1h6m43 0h6m10 0h6m13 0h6m1 0h6m34 0h6m-131 1h6m95 0h6m5 0h6m-67 4h6m4 0h6m-113 1h6m23 0h6m56 0h6m30 0h6m-122 1h6m103 0h6m31 0h6" stroke="#c04880"/>
<path d="M1374 1525h6m28 0h6m56 0h6m-2 1h6m-18 1h6m-113 6h6m91 0h6m-81 4h6m73 0h6m-54 2h6m-41 4h6m275 0h6m-216 1h6m168 0h6m36 0h6m16 0h6m-306 1h6m25 0h6m312 4h6m80 0h6m12 0h6m-489 1h6m103 0h6m211 0h6m12 0h6m-48 1h6m42 0h6m79 0h6m-428 4h6m270 0h6m-201 1h6m6 0h6m148 0h6m34 0h6m97 0h6m-382 1h6m5 4h6m-1 0h6m123 0h6m116 0h6m32 0h6m-217 1h6m79 0h6m173 0h6m-422 1h6m-1 0h6m1 0h6m123 0h6m245 0h6m91 0h6m10 0h6m-233 4h6m60 0h6m78 1h6m79 1h6m-191 4h6m95 0h6m-191 1h6m161 0h6m-126 1h6m-42 5h6m73 0h6m180 0h6m-73 5h6m-179 1h6m126 5h6m48 0h6m-37 1h6m55 0h6m-1 0h6" stroke="#5a70b0"/>
</g>
<rect x="266.6" y="290" width="1.4" height="52" fill="#fff6f8"/>
<rect x="295.7" y="290" width="1.4" height="52" fill="#fff6f8"/>
<rect x="320.4" y="290" width="1.4" height="52" fill="#fff6f8"/>
<path d="M370.4 238V342.4H264" fill="none" stroke="#d4d0d8" stroke-width="0.8"/>
<path d="M263.6 238V342" fill="none" stroke="#c8c4cc" stroke-width="0.8"/>
<path d="M263.2 237.6H370.8" fill="none" stroke="#a8a4b4" stroke-width="0.9"/>
<path d="M263.6 239.8v1.3M263.6 244v1.3M263.6 248.1v1.3M263.6 252.2v1.3M263.6 256.4v1.3M263.6 260.6v1.3M263.6 264.7v1.3M263.6 268.9v1.3M263.6 273v1.3M263.6 277.2v1.3M263.6 281.3v1.3M263.6 285.5v1.3M263.6 289.6v1.3M263.6 293.8v1.3M263.6 297.9v1.3M263.6 302.1v1.3M263.6 306.2v1.3M263.6 310.4v1.3M263.6 314.5v1.3M263.6 318.7v1.3M263.6 322.8v1.3M263.6 327v1.3M263.6 331.1v1.3M263.6 335.2v1.3" stroke="#8a8a8a" stroke-width="1.1" fill="none"/>
<rect x="258" y="240" width="3.6" height="9" fill="#e2e0e6"/>
<rect x="371.5" y="240" width="3.6" height="9" fill="#e2e0e6"/>
<path d="M321 267.2V288.7" stroke="#1a1a1a" stroke-width="1.3"/>
<path d="M315.2 287.7L326.8 287.7L321 300.2Z" fill="#111"/>
<rect x="376" y="238" width="105" height="104" fill="#fff"/>
<path transform="scale(.5)" fill="#4078b8" d="M752 684l0-72 3 0 3 0V684Z"/>
<path transform="scale(.5)" fill="#62ae44" d="M752 684l0-52 3 0 3 0V684Z"/>
<path transform="scale(.5)" fill="#f08a3a" d="M752 684l0-41 3 1 3 0V684Z"/>
<path transform="scale(.5)" fill="#e21c2c" d="M752 684l0-34 3 0 3 2V684Z"/>
<path transform="scale(.5)" fill="#4078b8" d="M760 684l0-76 3-5 3-5 3-5 3-3 3-1 3-3 3 1 3-2 3-1 3 1 3 1 3-2 3 0 3 1 3-1 3 3 3 0 3 1 3-1 3 1 3 2 3 1 3 1 3 0 3 2 3 0V684Z"/>
<path transform="scale(.5)" fill="#44aacb" d="M760 684l0-64 3-5 3-4 3-4 3-4 3 0 3-2 3 0 3-1 3 0 3-2 3 0 3-2 3 1 3-1 3 1 3 1 3 0 3 4 3-2 3 2 3 1 3 1 3 1 3 1 3 0 3 0V684Z"/>
<path transform="scale(.5)" fill="#62ae44" d="M760 684l0-52 3-4 3-7 3-3 3-2 3 1 3-1 3-3 3 0 3 0 3-2 3 1 3-3 3 3 3-2 3 1 3 2 3 0 3 0 3 1 3 0 3 1 3 2 3 0 3 1 3-2 3 2V684Z"/>
<path transform="scale(.5)" fill="#f08a3a" d="M760 684l0-39 3-3 3-1 3-4 3-1 3-2 3 1 3 0 3-1 3 1 3-1 3-1 3-1 3 0 3 3 3-1 3 0 3 0 3 2 3-1 3 0 3 1 3 0 3 3 3-1 3 0 3 1V684Z"/>
<path transform="scale(.5)" fill="#e21c2c" d="M760 684l0-31 3-2 3 0 3-4 3-1 3 1 3 1 3-2 3 1 3 1 3-2 3 1 3-1 3-1 3 0 3 2 3-1 3 0 3 1 3 0 3 1 3-2 3 0 3 3 3 0 3-2 3 2V684Z"/>
<path transform="scale(.5)" fill="#b81428" d="M760 684l0-25 3 1 3 1 3-2 3 0 3 0 3 1 3-1 3 2 3 1 3-3 3 0 3 2 3-1 3 0 3 1 3 0 3 0 3 0 3 0 3-2 3 0 3 2 3-2 3 2 3-1 3 0V684Z"/>
<path transform="scale(.5)" fill="#e21c2c" d="M760 684l0-11 3 3 3 0 3 0 3-1 3 0 3-1 3 0 3 1 3 0 3 1 3-1 3-1 3 0 3 2 3 0 3-1 3-1 3 2 3-2 3 2 3 0 3 0 3-2 3 0 3 1 3 0V684Z"/>
<path transform="scale(.5)" fill="#4078b8" d="M840 684l0-72 3 2 3 0 3-1 3 1 3-2 3 2 3 0 3-1 3 1 3-1 3 0 3 2 3-1 1-1V684Z"/>
<path transform="scale(.5)" fill="#44aacb" d="M840 684l0-60 3-1 3-1 3 0 3 1 3 1 3 1 3-3 3 3 3 0 3-1 3 0 3 0 3 0 1-1V684Z"/>
<path transform="scale(.5)" fill="#62ae44" d="M840 684l0-50 3 0 3 1 3-1 3 0 3 0 3-1 3 1 3-1 3 0 3 2 3-2 3 1 3-1 1 1V684Z"/>
<path transform="scale(.5)" fill="#f08a3a" d="M840 684l0-35 3-1 3 1 3 1 3-2 3 1 3 1 3 0 3 0 3-1 3 0 3 1 3-1 3 1 1-1V684Z"/>
<path transform="scale(.5)" fill="#e21c2c" d="M840 684l0-29 3 3 3-2 3 2 3-2 3 1 3 1 3-2 3 0 3 1 3-2 3 0 3 1 3-1 1 1V684Z"/>
<path transform="scale(.5)" fill="#4078b8" d="M882 684l0-64 3 2 3-1 3 0 3-1 3 2 3-1 3-1 3 1 3 2 3-3 3 1 3 0 3 0 3 0 3 0 3 1 3 1 3-2 3-1 3 2 3-1 3 0 3 2 3-1 3 1 3 0 2-1V684Z"/>
<path transform="scale(.5)" fill="#44aacb" d="M882 684l0-56 3 0 3 0 3 1 3-1 3 0 3-1 3 2 3-1 3 0 3 0 3 2 3-2 3 0 3 1 3 1 3 0 3-1 3-1 3 1 3-2 3 0 3 1 3 0 3 1 3 1 3-3 2 2V684Z"/>
<path transform="scale(.5)" fill="#62ae44" d="M882 684l0-50 3 3 3-2 3 0 3 0 3 1 3 0 3 1 3 0 3-1 3-2 3 1 3 0 3 1 3 0 3 1 3-2 3 2 3 1 3-2 3 1 3 0 3-1 3 0 3-1 3 1 3 0 2 0V684Z"/>
<path transform="scale(.5)" fill="#f08a3a" d="M882 684l0-35 3 0 3-1 3 1 3 1 3 0 3-1 3-1 3 0 3 1 3 0 3 1 3-1 3-1 3 2 3 0 3-3 3 2 3 0 3 0 3 0 3 0 3 1 3-3 3 0 3 2 3-1 2 1V684Z"/>
<path transform="scale(.5)" fill="#e21c2c" d="M882 684l0-26 3-2 3 3 3-1 3 1 3-2 3 0 3 1 3 1 3 0 3 0 3 0 3 0 3-2 3 2 3 0 3-2 3 2 3-2 3 0 3 1 3-1 3 1 3 1 3-2 3 0 3 0 2 1V684Z"/>
<ellipse cx="381" cy="335.5" rx="5" ry="3" fill="#e86090"/>
<g transform="scale(.2)" stroke-width="6" fill="none">
<path d="M1999 1475h6m30 0h6m10 6h6m-132 6h6m138 0h6m-130 6h6m24 0h6m96 0h6m0 0h6m0 0h6m-50 12h6m-124 6h6m108 0h6m18 0h6m-108 6h6m114 0h6m-188 6h6m7 6h6m-38 4h6m14 2h6m0 0h6m0 0h6m42 0h6m102 0h6m32 1h6m0 0h6m42 0h6m18 0h6m-78 6h6m64 12h6m197 8h6m-248 4h6m18 0h6m86 2h6m60 0h6m6 0h6m-452 1h6m287 3h6m6 0h6m49 2h6m72 0h6m-152 4h6m112 2h6m12 0h6m18 0h6m30 0h6m-494 1h6m225 3h6m84 1h6m90 0h6m12 0h6" stroke="#6a5aa8"/>
<path d="M1962 1469h6m-29 6h6m72 0h6m6 0h6m-26 6h6m-78 6h6m42 0h6m60 0h6m0 0h6m-124 6h6m24 0h6m75 6h6m30 0h6m-149 6h6m-61 34h6m244 9h6m18 0h6m-61 12h6m12 0h6m190 2h6m-434 1h6m326 5h6m36 0h6m0 0h6m-68 6h6m60 0h6m60 0h6m42 0h6" stroke="#3060a8"/>
<path d="M1931 1481h6m66 0h6m18 0h6m-78 6h6m120 0h6m-124 6h6m30 0h6m24 0h6m-117 6h6m42 0h6m120 0h6m-179 6h6m12 0h6m-34 6h6m6 0h6m193 25h6m24 0h6m18 0h6m-12 6h6m0 0h6m0 0h6m-299 3h6m215 3h6m36 0h6m42 0h6m-104 6h6m36 0h6m7 6h6m46 2h6m24 0h6m-356 1h6m470 5h6m24 0h6m0 0h6m-80 6h6m66 0h6" stroke="#40a8c0"/>
<path d="M2010 1469h6m-73 12h6m0 0h6m-24 6h6m24 0h6m30 0h6m-82 6h6m96 0h6m42 0h6m-45 6h6m-23 6h6m66 0h6m-64 6h6m48 0h6m-120 6h6m52 6h6m18 0h6m-137 6h6m84 0h6m66 0h6m-54 6h6m6 0h6m50 1h6m18 0h6m-230 5h6m30 0h6m176 1h6m0 0h6m6 0h6m-219 5h6m201 1h6m-32 6h6m54 0h6m-285 3h6m0 0h6m214 3h6m124 2h6m120 0h6m0 0h6m-248 4h6m12 0h6m164 2h6m42 0h6m-273 4h6m12 0h6m97 2h6m90 0h6m36 0h6m6 0h6m24 0h6m-266 4h6m0 0h6m0 0h6m46 2h6m30 0h6m60 0h6m36 0h6m42 0h6m-518 1h6m489 4h6m-49 6h6" stroke="#2a3a80"/>
<path d="M1998 1529h6m6 6h6m36 6h6m-121 6h6m6 0h6m-17 6h6m120 0h6m-86 6h6m78 0h6m18 0h6m-167 6h6m12 0h6m30 0h6m12 0h6m12 0h6m6 0h6m6 0h6m-78 6h6m90 0h6m-48 6h6m-59 6h6m6 0h6m24 0h6m24 0h6m-169 4h6m188 2h6m-200 4h6m0 0h6m194 2h6m68 1h6m6 0h6m12 0h6m54 1h6m0 0h6m96 0h6m-474 2h6m2 2h6m378 2h6m24 0h6m0 0h6m12 0h6m6 0h6m30 0h6m-238 5h6m105 1h6m18 0h6m-182 5h6m24 0h6m12 0h6m12 0h6m-67 6h6m136 1h6m72 0h6m30 0h6" stroke="#3f8a3a"/>
<path d="M1992 1535h6m-6 6h6m18 0h6m29 6h6m6 0h6m6 0h6m0 0h6m0 0h6m-113 6h6m6 0h6m-50 6h6m72 0h6m-35 6h6m12 0h6m36 0h6m12 0h6m-114 6h6m18 0h6m18 0h6m18 0h6m18 0h6m-150 6h6m54 0h6m48 0h6m36 0h6m-53 6h6m36 0h6m-119 6h6m66 0h6m6 0h6m18 0h6m12 0h6m54 1h6m12 0h6m0 0h6m12 0h6m-282 5h6m314 2h6m108 0h6m36 0h6m-504 2h6m14 2h6m196 1h6m6 0h6m30 0h6m74 1h6m0 0h6m18 0h6m-371 4h6m259 1h6m12 0h6m0 0h6m0 0h6m15 1h6m6 0h6m60 0h6m42 0h6m-242 5h6m128 1h6m84 0h6m18 0h6m-249 5h6m18 0h6m6 0h6m24 0h6m40 1h6m36 0h6m12 0h6m6 0h6m42 0h6m6 0h6m24 0h6" stroke="#98c850"/>
<path d="M1981 1589h6m-54 6h6m6 0h6m0 0h6m-76 22h6m6 0h6m221 9h6m0 0h6m54 0h6m93 1h6m48 0h6m36 0h6m0 0h6" stroke="#62ae44"/>
<path d="M1939 1595h6m78 0h6m-80 6h6m36 0h6m72 0h6m-161 6h6m0 0h6m150 0h6m-138 12h6m24 0h6m0 0h6m6 0h6m6 0h6m-117 4h6m31 2h6m12 0h6m6 0h6m54 0h6m6 0h6m12 0h6m6 0h6m307 2h6m-469 4h6m402 2h6m-91 6h6m36 0h6m18 0h6m96 0h6m-202 6h6m-110 5h6m0 0h6m12 0h6m30 0h6m0 0h6m69 1h6m0 0h6m0 0h6m48 0h6m24 0h6m24 0h6m0 0h6m0 0h6" stroke="#f08a3a"/>
<path d="M2004 1469h6m-23 6h6m54 0h6m-80 12h6m48 0h6m0 0h6m-88 6h6m54 0h6m-86 12h6m126 0h6m81 37h6m30 0h6m57 20h6m72 0h6m12 0h6m-138 6h6m66 0h6m-62 6h6m36 0h6" stroke="#70a0d0"/>
<path d="M1969 1475h6m-39 24h6m78 0h6m48 0h6m-155 6h6m18 0h6m177 31h6m0 0h6m12 0h6m-18 12h6m6 0h6m-26 6h6m-41 6h6m30 0h6m148 2h6m6 0h6m72 0h6m-42 6h6m-86 6h6m114 0h6" stroke="#c05088"/>
<path d="M1978 1499h6m18 0h6m-41 6h6m12 0h6m48 0h6m-82 6h6m48 0h6m-96 6h6m-2 6h6m24 0h6m90 0h6m-107 12h6m126 6h6m-181 6h6m-17 6h6m-2 6h6m0 0h6m203 7h6m-19 6h6m42 0h6m-43 6h6m0 0h6m66 0h6m34 2h6m42 0h6m48 0h6m42 0h6m-281 4h6m36 0h6m180 1h6m6 0h6m-151 6h6m12 0h6m0 0h6m12 0h6m42 0h6m66 0h6m18 0h6" stroke="#3a78b8"/>
<path d="M1996 1499h6m-47 6h6m12 0h6m0 0h6m48 0h6m-64 6h6m0 0h6m18 6h6m66 0h6m-80 6h6m54 0h6m0 0h6m-119 6h6m18 0h6m30 0h6m-114 12h6m6 0h6m0 0h6m207 25h6m16 12h6m12 0h6m172 2h6m-233 4h6m36 0h6m60 1h6m42 0h6m54 0h6m12 0h6m-109 6h6m78 0h6m24 0h6" stroke="#78c0d8"/>
<path d="M1961 1505h6m-28 6h6m54 6h6m6 0h6m30 0h6m-13 12h6m0 0h6m-102 6h6m225 31h6m6 0h6m-39 18h6m24 0h6m12 1h6m42 0h6m114 0h6m6 0h6m-67 6h6" stroke="#4a9a80"/>
<path d="M1980 1535h6m-25 30h6m66 6h6m12 0h6m18 0h6m6 0h6m-48 6h6m42 0h6m-137 6h6m187 7h6m12 0h6m0 0h6m-102 5h6m176 2h6m48 0h6m-180 5h6m17 12h6m104 1h6m24 0h6m0 0h6m-11 6h6m0 0h6m78 0h6" stroke="#40a0a0"/>
<path d="M2004 1535h6m0 6h6m-37 6h6m85 6h6m-37 12h6m48 0h6m-173 18h6m6 0h6m36 0h6m96 0h6m-173 6h6m132 0h6m80 7h6m144 1h6m2 6h6m53 6h6m-260 5h6m104 1h6m-111 5h6m12 0h6m30 0h6m18 0h6m64 1h6m72 0h6m12 0h6m6 0h6" stroke="#c0d048"/>
<path d="M1998 1613h6m6 0h6m-48 6h6m42 0h6m42 0h6m6 0h6m43 25h6m36 0h6m0 0h6m46 1h6m0 0h6m90 0h6m0 0h6m0 0h6m18 0h6m18 0h6m-455 10h6m6 0h6m36 0h6m12 0h6m6 0h6m36 0h6m-134 30h6m0 0h6m42 0h6m0 0h6m12 0h6m0 0h6m12 0h6m0 0h6m18 0h6m12 0h6" stroke="#e21c2c"/>
<path d="M2092 1631h6m-131 6h6m48 6h6m319 8h6m-172 5h6m20 1h6m150 0h6m-175 5h6m37 1h6m36 0h6m-99 5h6m202 1h6m-250 5h6m50 1h6m84 0h6m102 0h6m-87 6h6m12 0h6m48 0h6m-492 10h6m96 0h6m24 0h6m67 1h6m87 1h6m150 0h6m-323 4h6m50 1h6m208 1h6m-218 5h6m24 0h6m6 0h6m189 1h6m18 0h6m-262 5h6" stroke="#b81030"/>
<path d="M1918 1649h6m36 0h6m0 0h6m18 0h6m24 0h6m6 0h6m12 0h6m18 0h6m0 0h6m6 0h6m-112 42h6m36 0h6m12 0h6m24 0h6" stroke="#b81428"/>
<path d="M2076 1655h6m6 0h6m-67 6h6m-125 6h6m72 0h6m48 0h6m6 0h6m-121 6h6m54 0h6m0 0h6m-100 6h6m0 0h6m66 0h6m18 0h6m-99 6h6m36 0h6m66 0h6" stroke="#d01a30"/>
<path d="M2005 1238h6m38 47h6m-172 14h6m90 6h6m208 11h6m13 1h6m-240 6h6m-9 16h6m-25 1h6m200 6h6m-213 1h6m98 11h6m-60 1h6m-35 10h6m28 1h6m121 0h6m-229 1h6m-7 5h6m183 5h6m-75 1h6m-77 1h6m-19 4h6m131 0h6m188 0h6m-148 8h6m-261 4h6m413 0h6m-18 2h6m-394 4h6m8 2h6m387 5h6m-389 1h6m279 0h6m128 5h6m36 1h6m-242 4h6m243 6h6m-49 2h6m-475 5h6m219 1h6m-231 5h6m304 1h6m-80 4h6m256 0h6m-162 2h6m118 4h6m-72 2h6m-14 5h6m11 0h6m-46 1h6m117 4h6m-164 2h6m60 0h6m-65 4h6m31 2h6m84 0h6m-127 4h6m152 6h6m-168 1h6m68 0h6m90 0h6m-36 1h6m14 4h6m-10 8h6" stroke="#f4c0d8"/>
<path d="M2032 1231h6m180 18h6m-155 2h6m-65 6h6m-29 22h6m97 12h6m55 26h6m181 4h6m-347 8h6m263 0h6m-233 4h6m-43 13h6m-107 5h6m53 0h6m90 0h6m310 6h6m-278 2h6m-122 4h6m98 0h6m-91 6h6m316 0h6m-309 1h6m37 0h6m-118 7h6m133 0h6m-6 4h6m-34 1h6m204 0h6m-388 1h6m45 0h6m79 0h6m235 4h6m-107 1h6m-70 5h6m40 2h6m37 11h6m-273 1h6m204 4h6m-249 1h6m274 1h6m-254 5h6m233 5h6m27 0h6m-294 2h6m407 0h6m-161 4h6m-34 1h6m165 1h6m-142 4h6m26 2h6m-64 4h6m-251 1h6m282 5h6m-20 1h6m-304 1h6m220 0h6m125 4h6m91 0h6m-60 1h6m-55 1h6m89 0h6m-9 4h6m-9 6h6m61 1h6m-127 1h6m55 0h6m11 4h6m30 1h6m-90 1h6m-85 4h6m61 2h6m47 0h6m48 0h6m-68 4h6m48 7h6m12 5h6m-24 1h6" stroke="#f090bc"/>
<path d="M2207 1208h6m-100 6h6m171 6h6m-321 30h6m72 61h6m23 17h6m-114 7h6m187 11h6m-200 5h6m70 0h6m15 12h6m31 0h6m-63 1h6m-89 1h6m-16 4h6m156 0h6m-81 8h6m1 4h6m11 0h6m249 2h6m-1 12h6m-198 4h6m-18 1h6m-249 6h6m322 11h6m-300 2h6m-1 4h6m301 0h6m136 1h6m-118 7h6m-154 11h6m41 0h6m87 0h6m-42 5h6m24 2h6m10 4h6m-15 7h6m35 0h6m47 0h6m12 7h6m18 5h6m-91 5h6m36 2h6m27 4h6m-137 2h6m52 5h6m1 1h6" stroke="#9a6080"/>
<path d="M2146 1219h6m162 14h6m-314 11h6m387 5h6m-384 7h6m210 12h6m-260 1h6m51 5h6m-31 1h6m106 11h6m271 6h6m-448 5h6m-18 14h6m0 5h6m48 18h6m17 1h6m32 4h6m62 0h6m53 0h6m-243 8h6m43 0h6m30 11h6m-125 1h6m78 0h6m296 0h6m-345 4h6m121 2h6m-48 4h6m23 2h6m-163 5h6m40 1h6m14 0h6m-54 5h6m65 1h6m14 0h6m12 6h6m193 0h6m138 0h6m-463 6h6m304 4h6m-321 2h6m308 4h6m-365 2h6m255 4h6m140 0h6m-90 1h6m45 5h6m-99 1h6m17 1h6m141 4h6m-225 2h6m171 5h6m-421 1h6m369 0h6m17 0h6m-102 4h6m-314 1h6m21 0h6m252 5h6m93 0h6m120 0h6m-236 1h6m177 0h6m-48 5h6m-123 2h6m6 0h6m45 5h6m48 1h6m10 0h6m-70 10h6m77 0h6m-84 1h6m-32 1h6m56 0h6m65 4h6m-40 1h6m-25 1h6m52 0h6m-172 4h6m109 1h6m-38 1h6m28 4h6m22 0h6" stroke="#c84880"/>
<path d="M1986 1383h6m-6 5h6m-2 5h6m38 0h6m-55 1h6m-23 5h6m18 1h6m50 0h6m17 0h6m7 1h6m-126 4h6m42 0h6m46 0h6m-84 1h6m61 0h6m-107 1h6m40 0h6m1 4h6m42 0h6m-101 1h6m28 0h6m-1 0h6m8 1h6m0 0h6m12 0h6m-42 4h6m0 0h6m22 0h6m43 0h6m-143 1h6m90 0h6m11 0h6m-73 1h6m12 0h6m8 0h6m-74 4h6m1 0h6m18 0h6m36 0h6m29 0h6m2 0h6m-108 1h6m16 1h6m12 0h6m6 0h6m12 4h6m17 0h6m-48 1h6m-71 1h6m41 0h6m37 0h6m19 0h6m-133 4h6m87 0h6m6 0h6m6 0h6m-108 1h6m124 0h6m-178 1h6m16 0h6m7 0h6m30 0h6m-78 4h6m0 0h6m79 0h6m-54 1h6m0 0h6m71 0h6m18 0h6m-24 1h6m-8 4h6m-145 1h6m2 0h6m136 0h6m13 0h6m11 1h6m-209 4h6m-2 0h6m-18 1h6m195 0h6m87 0h6m-243 1h6m116 0h6m10 0h6m74 0h6m-86 4h6m-196 1h6m27 0h6m157 0h6m72 0h6m-66 1h6m13 4h6m5 1h6m-233 1h6m215 0h6m-248 4h6m214 0h6m4 1h6m8 0h6m4 0h6m8 0h6m29 0h6m-275 1h6m250 0h6m-34 4h6m-12 1h6m24 0h6m10 0h6m-16 5h6m-78 1h6m48 0h6m-275 1h6m219 0h6m67 0h6m24 0h6m-339 4h6m310 0h6m-92 1h6m51 1h6m-38 4h6m31 0h6m-50 1h6m12 0h6m83 0h6m7 0h6m35 0h6m-143 1h6m0 0h6m19 0h6m6 0h6m17 0h6m36 0h6m34 0h6m-414 4h6m221 0h6m47 0h6m201 0h6m-1 0h6m-512 1h6m252 0h6m6 0h6m94 0h6m41 0h6m-199 1h6m126 0h6m132 0h6m-258 4h6m116 0h6m11 0h6m132 0h6m-273 1h6m7 0h6m145 0h6m67 0h6m-213 1h6m194 0h6m-268 4h6m24 0h6m5 0h6m102 0h6m77 0h6m1 0h6m41 0h6m-274 1h6m26 0h6m141 0h6m59 0h6m-182 1h6m38 0h6m20 0h6m18 0h6m6 0h6m47 0h6m-124 4h6m4 0h6m-1 0h6m151 0h6m-155 1h6m5 0h6m19 0h6m-79 1h6m84 0h6m66 0h6m-44 4h6m-108 1h6m24 0h6m0 1h6m13 0h6m59 0h6m-107 4h6m44 0h6m12 0h6m5 0h6m-1 0h6m1 0h6m31 0h6m-174 1h6m46 0h6m7 0h6m0 0h6m19 0h6m-72 1h6m149 0h6" stroke="#e878a8"/>
<path d="M2004 1381h6m6 7h6m-74 6h6m20 0h6m60 1h6m5 0h6m0 0h6m13 0h6m-30 4h6m0 0h6m13 1h6m-104 1h6m-46 5h6m60 0h6m7 0h6m-48 1h6m51 0h6m1 0h6m-84 4h6m103 1h6m-144 1h6m28 0h6m-18 4h6m8 1h6m5 1h6m30 0h6m7 0h6m-97 4h6m29 0h6m24 0h6m66 0h6m-34 1h6m4 0h6m-131 1h6m11 0h6m-31 5h6m67 0h6m90 0h6m-138 1h6m119 0h6m-130 4h6m36 0h6m0 0h6m53 1h6m8 0h6m-157 1h6m31 0h6m6 0h6m23 4h6m8 0h6m58 0h6m-148 1h6m18 0h6m-2 0h6m6 0h6m-42 1h6m115 0h6m7 0h6m-151 4h6m82 0h6m-108 1h6m11 0h6m85 0h6m13 0h6m-128 1h6m-29 4h6m7 0h6m-1 0h6m218 0h6m-84 1h6m91 0h6m25 0h6m-272 1h6m-46 4h6m214 0h6m5 0h6m18 0h6m24 0h6m-1 0h6m-309 1h6m204 0h6m9 0h6m19 1h6m7 0h6m-6 4h6m-229 1h6m175 0h6m59 0h6m12 0h6m-54 1h6m-234 5h6m228 0h6m-42 1h6m-201 4h6m213 0h6m-248 2h6m6 0h6m1 0h6m205 0h6m32 0h6m10 0h6m-52 4h6m6 1h6m-264 1h6m1 4h6m252 0h6m24 0h6m0 0h6m-66 1h6m59 0h6m14 0h6m61 0h6m-378 1h6m196 0h6m40 0h6m35 4h6m11 0h6m11 0h6m-348 1h6m214 0h6m214 0h6m-220 1h6m12 4h6m98 0h6m92 0h6m30 0h6m-484 1h6m215 0h6m49 0h6m12 0h6m2 0h6m24 0h6m2 0h6m76 0h6m-181 1h6m6 0h6m-43 4h6m61 0h6m25 0h6m175 0h6m-513 1h6m218 0h6m222 0h6m-113 1h6m43 0h6m69 0h6m-229 4h6m23 0h6m5 0h6m7 0h6m56 0h6m61 0h6m-206 1h6m112 0h6m42 0h6m88 0h6m25 0h6m-209 1h6m84 0h6m-26 4h6m1 0h6m38 0h6m5 0h6m36 0h6m16 1h6m-180 1h6m114 0h6m-60 4h6m31 0h6m16 0h6m1 0h6m12 0h6m-156 1h6m4 1h6m25 0h6m32 0h6m-2 0h6m1 0h6m71 0h6m-185 4h6m13 0h6m97 1h6m22 0h6m9 0h6m-3 0h6m-148 1h6m34 0h6m114 0h6" stroke="#c83c78"/>
<path d="M2021 1393h6m-67 1h6m44 0h6m12 7h6m-13 5h6m32 0h6m-83 1h6m-1 5h6m-54 1h6m30 5h6m6 0h6m41 6h6m-61 5h6m5 0h6m-52 2h6m24 0h6m48 0h6m0 0h6m18 0h6m-48 4h6m44 0h6m3 0h6m-156 1h6m69 5h6m-56 6h6m-38 1h6m-10 6h6m275 5h6m-293 1h6m13 0h6m-20 5h6m-29 1h6m265 1h6m12 5h6m-301 7h6m317 4h6m-65 2h6m102 4h6m17 1h6m-158 1h6m151 4h6m-404 2h6m410 4h6m42 0h6m-242 1h6m78 0h6m51 0h6m84 0h6m6 0h6m36 1h6m-114 4h6m-111 1h6m39 0h6m-349 1h6m410 0h6m-73 4h6m115 0h6m-251 1h6m71 0h6m71 0h6m29 1h6m42 0h6m-99 4h6m45 2h6m-108 5h6m31 0h6m-3 0h6m140 1h6m-160 5h6" stroke="#7a2a58"/>
<path d="M2046 1388h6m-6 6h6m-38 1h6m-4 5h6m-54 6h6m-17 1h6m108 0h6m-103 4h6m41 0h6m-29 13h6m86 1h6m-104 12h6m-18 4h6m31 0h6m37 1h6m10 0h6m-28 1h6m-21 4h6m17 2h6m70 5h6m-229 5h6m215 0h6m30 6h6m-30 2h6m-266 4h6m225 2h6m74 12h6m-298 4h6m220 1h6m-239 7h6m250 4h6m207 0h6m-206 2h6m92 0h6m-93 4h6m-58 1h6m21 1h6m33 0h6m78 0h6m-123 4h6m149 0h6m-186 2h6m76 0h6m7 6h6m159 5h6m-149 1h6m20 0h6m7 4h6m55 0h6m3 0h6" stroke="#3a3068"/>
<path d="M1954 1447h6m7 0h6m31 0h6m-29 6h6m46 0h6m-65 1h6m6 0h6m55 0h6m-110 1h6m7 0h6m62 0h6m-79 4h6m11 0h6m43 0h6m0 0h6m0 0h6m6 0h6m12 0h6m-61 1h6m5 5h6m7 0h6m-77 1h6m10 1h6m-39 5h6m9 0h6m73 0h6m-107 1h6m-2 5h6m125 1h6m12 4h6m-162 1h6m131 1h6m-166 10h6m-11 8h6m-27 11h6m-6 5h6m245 0h6m10 0h6m1 0h6m6 0h6m-48 2h6m58 0h6m0 0h6m-319 4h6m260 2h6m20 0h6m-298 4h6m302 0h6m-94 1h6m5 0h6m56 0h6m-3 1h6m1 0h6m-40 4h6m29 0h6m-1 0h6m59 0h6m13 0h6m35 0h6m0 0h6m-225 1h6m0 0h6m24 0h6m200 0h6m5 0h6m-480 1h6m403 0h6m44 0h6m6 0h6m17 0h6m-128 4h6m32 0h6m18 0h6m35 0h6m35 0h6m-100 1h6m15 0h6m7 0h6m-49 5h6m12 0h6m72 0h6m-168 1h6m1 0h6m83 0h6m7 0h6m18 0h6m-162 1h6m90 0h6m-62 4h6m54 0h6m26 0h6m23 0h6m13 0h6m-116 1h6m19 0h6m7 0h6m10 0h6m-106 1h6m90 0h6m17 0h6m49 0h6m-47 4h6m-28 2h6m28 0h6m14 0h6" stroke="#c04880"/>
<path d="M1986 1447h6m19 1h6m-38 1h6m13 0h6m-54 4h6m38 1h6m5 0h6m-14 1h6m50 5h6m6 0h6m-116 1h6m1 0h6m13 0h6m5 0h6m-1 4h6m42 0h6m12 0h6m-65 2h6m60 0h6m-18 4h6m11 0h6m-136 1h6m77 1h6m-110 5h6m163 1h6m-182 6h6m-4 12h6m-38 18h6m284 4h6m-282 6h6m230 0h6m-1 0h6m32 1h6m-31 1h6m35 0h6m-315 6h6m275 0h6m-286 4h6m321 0h6m105 0h6m-204 1h6m103 0h6m90 0h6m32 0h6m-147 1h6m8 4h6m12 0h6m107 0h6m-36 1h6m-55 1h6m-30 4h6m11 0h6m36 0h6m37 0h6m-161 1h6m51 0h6m68 0h6m-134 1h6m54 0h6m92 5h6m-60 6h6m13 0h6m-17 1h6" stroke="#8a3a70"/>
<path d="M2014 1449h6m-56 4h6m40 1h6m0 1h6m20 0h6m-39 4h6m-17 1h6m-66 1h6m-1 0h6m72 5h6m30 0h6m24 0h6m-46 6h6m35 1h6m-20 11h6m13 1h6m-191 24h6m-20 5h6m1 0h6m205 5h6m53 1h6m-42 1h6m-28 4h6m46 0h6m-66 2h6m16 4h6m-240 1h6m220 1h6m238 4h6m-196 1h6m63 0h6m147 0h6m-194 1h6m65 0h6m13 0h6m66 4h6m-53 1h6m-21 5h6m-53 2h6m-2 0h6m72 0h6m38 0h6m11 0h6m-149 5h6m55 0h6m70 0h6m-132 1h6m6 0h6m73 0h6m-17 6h6m25 0h6" stroke="#6a5098"/>
<path d="M1975 1459h6m4 2h6m19 5h6m64 0h6m-45 5h6m6 0h6m4 0h6m18 6h6m-175 1h6m155 7h6m-177 17h6m205 17h6m-239 1h6m249 1h6m-10 10h6m-11 2h6m23 0h6m15 5h6m115 0h6m91 0h6m-157 1h6m137 4h6m-192 2h6m19 0h6m125 0h6m-115 5h6" stroke="#5a70b0"/>
<path d="M1962 1447h6m54 1h6m-56 1h6m-9 4h6m54 0h6m18 1h6m10 6h6m-142 1h6m108 0h6m-122 4h6m29 0h6m7 0h6m-1 0h6m1 0h6m80 0h6m-138 1h6m0 1h6m75 0h6m14 0h6m-131 4h6m18 0h6m113 0h6m-53 1h6m53 0h6m-167 1h6m124 5h6m5 0h6m-12 1h6m19 0h6m-175 4h6m5 2h6m158 4h6m1 0h6m-187 1h6m-2 0h6m-11 5h6m-16 14h6m251 10h6m-272 2h6m4 0h6m191 0h6m0 0h6m18 5h6m24 0h6m17 0h6m-302 1h6m207 0h6m19 0h6m60 0h6m-53 4h6m46 0h6m-94 1h6m34 0h6m-34 5h6m93 0h6m1 0h6m-118 1h6m23 0h6m8 0h6m0 0h6m1 0h6m212 0h6m-261 1h6m147 0h6m18 0h6m-104 4h6m2 0h6m-1 0h6m6 0h6m65 0h6m17 0h6m-58 1h6m-1 0h6m62 0h6m-85 1h6m102 0h6m0 0h6m-182 4h6m31 0h6m144 0h6m-162 1h6m72 0h6m-115 5h6m-13 1h6m13 0h6m35 0h6m25 0h6m53 0h6m-144 1h6m12 0h6m133 0h6m12 0h6m-39 4h6m23 0h6m6 0h6" stroke="#3a2a60"/>
</g>
<rect x="378.4" y="290" width="1.4" height="52" fill="#fff6f8"/>
<rect x="418.5" y="290" width="1.4" height="52" fill="#fff6f8"/>
<rect x="439.1" y="290" width="1.4" height="52" fill="#fff6f8"/>
<path d="M481.4 238V342.4H376" fill="none" stroke="#d4d0d8" stroke-width="0.8"/>
<path d="M375.6 238V342" fill="none" stroke="#c8c4cc" stroke-width="0.8"/>
<path d="M375.2 237.6H481.8" fill="none" stroke="#a8a4b4" stroke-width="0.9"/>
<path d="M375.6 239.8v1.3M375.6 244v1.3M375.6 248.1v1.3M375.6 252.2v1.3M375.6 256.4v1.3M375.6 260.6v1.3M375.6 264.7v1.3M375.6 268.9v1.3M375.6 273v1.3M375.6 277.2v1.3M375.6 281.3v1.3M375.6 285.5v1.3M375.6 289.6v1.3M375.6 293.8v1.3M375.6 297.9v1.3M375.6 302.1v1.3M375.6 306.2v1.3M375.6 310.4v1.3M375.6 314.5v1.3M375.6 318.7v1.3M375.6 322.8v1.3M375.6 327v1.3M375.6 331.1v1.3M375.6 335.2v1.3" stroke="#8a8a8a" stroke-width="1.1" fill="none"/>
<rect x="370" y="240" width="3.6" height="9" fill="#e2e0e6"/>
<rect x="482.5" y="240" width="3.6" height="9" fill="#e2e0e6"/>
<path d="M439.6 267.5V288.6" stroke="#1a1a1a" stroke-width="1.3"/>
<path d="M433.8 287.6L445.4 287.6L439.6 299.5Z" fill="#111"/>
<rect x="264" y="398" width="105" height="104" fill="#fff"/>
<path transform="scale(.5)" fill="#4a3a8a" d="M528 1005l0-47 3 1 3 1 3-2 3 1 3-1 3 0 3 2 3-2 3 3 3-2 3 1 3-1 3 1 3-1 3-1 3 2 3-2 3 0 3 2 3-2 3 1 3 0 3 1 3-2 3 2 3 0 3-1 3 0 3 1 3-2 3 0 3 3 3-2 3 1 3 0 3-2 3 0 3 0 3 0 3 3 3-2 3-1 3 1 3-1 3 2 3-1 3 0 3-1 3 0 3 0 3 2 3 0 3-2 3 3 3-3 3 2 3 0 3 0 3-1 3 0 3-1 3 0 3 0 3 2 3 0 3 0 3 1 3-1 3-1 3 0V1005Z"/>
<path transform="scale(.5)" fill="#3a9aa8" d="M528 1005l0-40 3-2 3 2 3 1 3 0 3 0 3-3 3 2 3 0 3 0 3-1 3 0 3-1 3 1 3 0 3 1 3-1 3 0 3 0 3 1 3-1 3 0 3 1 3 0 3-1 3 0 3-1 3 0 3 0 3 3 3-2 3 1 3-1 3-1 3 1 3-1 3 1 3 1 3 0 3 0 3 1 3 0 3-1 3 0 3-1 3 0 3 0 3 0 3 0 3 2 3-1 3 1 3-2 3-1 3 3 3-2 3-1 3 3 3 0 3-2 3-1 3 1 3 0 3 1 3 0 3-1 3 2 3-1 3-2 3 2 3-1V1005Z"/>
<path transform="scale(.5)" fill="#62ae44" d="M528 1005l0-33 3-2 3 0 3 1 3 0 3-1 3 1 3 0 3 0 3-1 3 1 3-1 3-1 3 3 3 0 3-2 3 1 3-1 3 0 3 2 3-2 3 2 3 0 3 0 3-1 3-1 3-1 3 1 3 2 3-1 3 0 3 1 3 0 3-1 3 0 3 1 3-2 3 0 3 0 3-1 3 1 3 0 3 1 3 1 3 0 3-1 3 0 3-2 3 2 3-1 3 1 3 0 3 0 3-1 3 2 3 0 3 0 3-1 3 1 3 0 3 0 3-1 3 0 3 0 3-1 3 0 3 0 3 0 3 0 3 2 3-1V1005Z"/>
<path transform="scale(.5)" fill="#c8c440" d="M528 1005l0-29 3-1 3 2 3-2 3 2 3-2 3 1 3 0 3 0 3 1 3 0 3-1 3-2 3 1 3 1 3 0 3-2 3 1 3 0 3 1 3-2 3 2 3-2 3 2 3 0 3 0 3-1 3 0 3 1 3-2 3 0 3 2 3-2 3 2 3-1 3 0 3 0 3 0 3 1 3-1 3 0 3 0 3 1 3 1 3-3 3 2 3-2 3 2 3 0 3-1 3 1 3 1 3-3 3 2 3 0 3 0 3 0 3-1 3-1 3 3 3-1 3-1 3 1 3 0 3 0 3 1 3-2 3 2 3-3 3 0 3 1V1005Z"/>
<path transform="scale(.5)" fill="#e21c2c" d="M528 1005l0-26 3 0 3 1 3-3 3 2 3 1 3-1 3 0 3-2 3 2 3 0 3-1 3 0 3 1 3 0 3-1 3 2 3 0 3 0 3-1 3 0 3 0 3 0 3 0 3-1 3 1 3-1 3 1 3-1 3 2 3-3 3 1 3 0 3 1 3 0 3 1 3-2 3 2 3-1 3 0 3-1 3-1 3 0 3 2 3 1 3-1 3-1 3 0 3 0 3 1 3-2 3 3 3 0 3-2 3 2 3-1 3 0 3 0 3 0 3 0 3 1 3-3 3 3 3 0 3-2 3 1 3 0 3-1 3 2 3-2 3 1V1005Z"/>
<path transform="scale(.5)" fill="#f08a3a" d="M528 1005l0-18 3-1 3 0 3 1 3-2 3 1 3-2 3 3 3 0 3-1 3 1 3-2 3 1 3-2 3 3 3 0 3 0 3-2 3-1 3 1 3 1 3-2 3 2 3 1 3-1 3-1 3 0 3 0 3 1 3 1 3-3 3 1 3 0 3 0 3 0 3 1 3-1 3 1 3-1 3 0 3 2 3-1 3 0 3-2 3 2 3 0 3 0 3-1 3 1 3-1 3 2 3-1 3-1 3 1 3 0 3 1 3 0 3 0 3-1 3 1 3-2 3 2 3 0 3-1 3-1 3 0 3-1 3 1 3-1 3 1 3 1V1005Z"/>
<path transform="scale(.5)" fill="#3a9aa8" d="M528 1005l0-15 3-1 3-2 3 2 3-2 3 3 3-2 3 0 3 2 3-1 3 0 3 1 3-1 3 0 3 1 3 0 3-1 3 0 3-1 3-1 3 3 3 0 3-2 3 1 3 0 3 1 3 0 3-1 3 1 3 0 3-2 3 0 3 0 3 0 3-1 3 2 3 0 3 0 3-1 3 0 3 2 3 0 3-1 3-2 3 2 3 0 3 1 3-3 3 0 3 3 3-1 3-1 3 1 3 0 3 1 3-2 3 0 3 2 3-1 3 0 3 1 3-2 3 2 3-2 3-1 3 0 3 2 3-2 3 1 3 0 3 1V1005Z"/>
<path transform="scale(.5)" fill="#3a5a9a" d="M528 1005l0-13 3 1 3 1 3 0 3-2 3 2 3 0 3-2 3 1 3 1 3-2 3 2 3 0 3-1 3-1 3 1 3 0 3 1 3-2 3 0 3 3 3-1 3-2 3 1 3 1 3 0 3-2 3 2 3 0 3 0 3 0 3-1 3 1 3-2 3 0 3 0 3 2 3-1 3 2 3-2 3 1 3 0 3-2 3 1 3 0 3-1 3 3 3-1 3 0 3 1 3-1 3 0 3 1 3-1 3 0 3 0 3-2 3 3 3-2 3 1 3 0 3-2 3 1 3-1 3 1 3 0 3 0 3 0 3 1 3-2 3 1V1005Z"/>
<path transform="scale(.5)" fill="#a898d0" d="M528 1005l0-5 3 1 3-2 3 1 3-2 3 2 3-1 3 1 3-1 3 0 3 1 3-1 3 0 3 0 3 0 3-1 3 3 3-3 3 1 3 1 3-2 3 0 3 1 3 1 3-1 3 0 3 1 3 0 3-1 3-1 3 2 3-1 3 0 3 1 3-1 3 1 3-2 3 2 3-2 3 2 3-1 3 0 3 1 3-1 3 1 3 0 3-1 3 1 3-1 3 1 3-2 3 2 3 0 3-2 3 2 3-1 3 1 3-1 3-1 3 3 3 0 3-2 3 1 3 0 3-2 3 3 3-2 3-1 3 1 3-1 3 1V1005Z"/>
<g transform="scale(.2)" stroke-width="6" fill="none">
<path d="M1326 2401h6m114 0h6m18 0h6m18 0h6m120 0h6m42 0h6m66 0h6m96 0h6m-282 6h6m-149 6h6m84 0h6m96 0h6m84 0h6m126 0h6m-511 6h6m0 0h6m12 0h6m24 0h6m24 0h6m6 0h6m0 0h6m6 0h6m6 0h6m30 0h6m54 0h6m42 0h6m36 0h6m12 0h6m60 0h6m48 0h6m12 0h6m24 0h6m0 0h6" stroke="#4a3a8a"/>
<path d="M1321 2413h6m18 0h6m6 0h6m36 0h6m0 0h6m24 0h6m18 0h6m6 0h6m48 0h6m30 0h6m18 0h6m48 0h6m12 0h6m0 0h6m42 0h6m0 0h6m24 0h6m42 0h6m6 0h6m0 0h6m24 0h6m-409 6h6m186 0h6m-303 6h6m174 0h6m96 0h6m168 0h6m-468 48h6m30 0h6m72 0h6m30 0h6m12 0h6m12 0h6m90 0h6m30 0h6m6 0h6m108 0h6m60 0h6m-403 6h6m114 0h6m186 0h6m18 0h6m-451 6h6m12 0h6m66 0h6m72 0h6m78 0h6m138 0h6m-383 6h6m0 0h6m0 0h6m0 0h6m12 0h6m42 0h6m0 0h6m0 0h6m24 0h6m24 0h6m6 0h6m24 0h6m0 0h6m30 0h6m30 0h6m18 0h6m48 0h6m24 0h6m0 0h6m6 0h6m0 0h6m0 0h6m30 0h6m18 0h6m0 0h6m0 0h6" stroke="#3a9aa8"/>
<path d="M1359 2425h6m12 0h6m0 0h6m6 0h6m12 0h6m6 0h6m30 0h6m30 0h6m0 0h6m12 0h6m48 0h6m12 0h6m30 0h6m6 0h6m24 0h6m0 0h6m48 0h6m6 0h6m6 0h6m24 0h6m18 0h6m18 0h6m-422 18h6m0 0h6m42 0h6m6 0h6m42 0h6m18 0h6m18 0h6m48 0h6m90 0h6m6 0h6m66 0h6m12 0h6" stroke="#62ae44"/>
<path d="M1346 2431h6m0 0h6m54 0h6m18 0h6m372 0h6m-485 6h6m18 0h6m180 0h6m42 0h6m30 0h6m24 0h6m30 0h6m6 0h6m60 0h6m48 0h6" stroke="#3f8a3a"/>
<path d="M1376 2431h6m0 0h6m54 0h6m12 0h6m0 0h6m72 0h6m18 0h6m18 0h6m0 0h6m78 0h6m24 0h6m66 0h6m36 0h6m6 0h6m-515 6h6m18 0h6m30 0h6m24 0h6m12 0h6m84 0h6m36 0h6m30 0h6m204 0h6m18 0h6" stroke="#98c850"/>
<path d="M1490 2431h6m132 0h6m126 0h6m-77 6h6m18 0h6m48 0h6m6 0h6" stroke="#c0d048"/>
<path d="M1634 2431h6m90 0h6m0 0h6m-401 6h6m54 0h6m270 0h6m36 0h6m78 0h6m12 0h6" stroke="#40a0a0"/>
<path d="M1321 2443h6m186 0h6m102 0h6m-215 6h6m72 0h6m12 0h6m12 0h6m-200 6h6m0 0h6m12 0h6m18 0h6m0 0h6m6 0h6m120 0h6m42 0h6m36 0h6m6 0h6m18 0h6m18 0h6m30 0h6m18 0h6m18 0h6m30 0h6m0 0h6m24 0h6m0 0h6" stroke="#c8c440"/>
<path d="M1346 2449h6m48 0h6m0 0h6m42 0h6m18 0h6m60 0h6m12 0h6m42 0h6m0 0h6m30 0h6m0 0h6m18 0h6m0 0h6m60 0h6m6 0h6m-431 24h6m30 0h6m18 0h6m60 0h6m132 0h6m6 0h6m54 0h6m54 0h6m54 0h6m6 0h6" stroke="#e21c2c"/>
<path d="M1374 2455h6m60 0h6m96 0h6m96 0h6m72 0h6m-394 6h6m192 0h6m18 0h6m16 6h6m258 0h6" stroke="#b81030"/>
<path d="M1332 2467h6m0 0h6m12 0h6m12 0h6m18 0h6m0 0h6m0 0h6m12 0h6m24 0h6m36 0h6m6 0h6m18 0h6m12 0h6m12 0h6m42 0h6m0 0h6m24 0h6m36 0h6m6 0h6m60 0h6m12 0h6m12 0h6m18 0h6m-405 6h6m30 0h6m144 0h6m126 0h6m66 0h6m-481 6h6m30 0h6m42 0h6m72 0h6m0 0h6m6 0h6m0 0h6m12 0h6m18 0h6m42 0h6m6 0h6m24 0h6m0 0h6m36 0h6m0 0h6m6 0h6m42 0h6m18 0h6m0 0h6m18 0h6" stroke="#f08a3a"/>
<path d="M1321 2485h6m36 0h6m6 0h6m0 0h6m12 0h6m0 0h6m6 0h6m18 0h6m6 0h6m18 0h6m0 0h6m18 0h6m36 0h6m12 0h6m36 0h6m42 0h6m0 0h6m6 0h6m6 0h6m78 0h6m-263 6h6m78 0h6m60 0h6m48 0h6m24 0h6m-318 6h6m30 0h6m6 0h6m282 0h6m-428 6h6m0 0h6m6 0h6m0 0h6m0 0h6m0 0h6m42 0h6m12 0h6m18 0h6m0 0h6m0 0h6m6 0h6m0 0h6m18 0h6m24 0h6m6 0h6m150 0h6m18 0h6m48 0h6m6 0h6m12 0h6m0 0h6" stroke="#3a5a9a"/>
<path d="M1340 2497h6m30 0h6m60 0h6m6 0h6m132 0h6m48 0h6m60 0h6m-152 6h6m-114 6h6m162 0h6m162 0h6" stroke="#a898d0"/>
<path d="M1574 1996h6m-77 31h6m196 11h6m-272 6h6m217 0h6m-171 18h6m305 7h6m-300 18h6m148 10h6m-181 6h6m212 1h6m-143 25h6m239 4h6m-347 1h6m-26 5h6m219 0h6m-366 1h6m509 1h6m-230 4h6m-16 6h6m198 0h6m-480 1h6m113 1h6m-79 6h6m271 0h6m-298 4h6m77 2h6m312 0h6m-383 4h6m366 2h6m-31 4h6m-324 1h6m-22 7h6m134 5h6m30 0h6m-48 5h6m-214 1h6m210 1h6m95 4h6m-204 1h6m64 5h6m-203 1h6m107 1h6m223 4h6m-203 1h6m-91 1h6m175 0h6m-31 4h6m95 1h6m-120 1h6m-150 5h6m85 0h6m53 0h6m235 0h6m55 0h6m-421 1h6m289 0h6m-384 4h6m271 0h6m-296 1h6m80 0h6m76 0h6m103 0h6m191 0h6m-454 1h6m358 0h6m127 0h6m-56 4h6m-393 1h6m21 0h6m103 0h6m-193 1h6m116 0h6m281 0h6m-346 5h6m155 0h6m53 1h6m185 4h6m-509 1h6m329 0h6m-293 1h6m188 4h6m241 0h6m-505 1h6m389 0h6m102 0h6m-281 1h6m-91 4h6m6 0h6m354 0h6m-231 1h6m-254 1h6m17 4h6m25 0h6m78 0h6m89 0h6m56 0h6m-170 1h6m183 0h6m-306 1h6m18 0h6m-54 4h6m83 0h6m240 0h6m13 0h6m-288 1h6m70 0h6m-38 5h6m67 0h6m53 0h6m25 0h6m107 0h6m-305 1h6m235 0h6m17 0h6m-372 1h6m388 0h6m43 0h6m18 0h6m-422 5h6m4 0h6m1 1h6m53 0h6m97 0h6m53 0h6m55 0h6m91 0h6m-327 4h6m19 0h6m48 0h6m54 0h6m53 0h6m0 0h6m110 0h6m-426 1h6m149 0h6m287 0h6m-449 1h6" stroke="#f090bc"/>
<path d="M1800 1995h6m-479 8h6m319 6h6m112 5h6m27 12h6m-123 7h6m-315 18h6m258 0h6m162 10h6m-439 1h6m43 0h6m361 7h6m-160 11h6m-202 1h6m233 5h6m-222 11h6m349 6h6m-151 2h6m150 4h6m5 6h6m-396 7h6m302 1h6m-223 5h6m-196 12h6m146 5h6m-111 2h6m59 0h6m198 0h6m-257 6h6m7 0h6m335 0h6m-348 6h6m368 4h6m11 0h6m0 1h6m-413 1h6m262 0h6m-185 5h6m-66 11h6m-2 1h6m-113 1h6m-2 6h6m219 0h6m77 0h6m-80 4h6m108 1h6m-209 1h6m185 0h6m-59 4h6m19 0h6m145 0h6m-428 1h6m307 0h6m-363 7h6m26 0h6m180 0h6m204 4h6m-230 6h6m3 0h6m250 0h6m-150 1h6m-120 5h6m185 0h6m0 0h6m-300 1h6m74 1h6m11 4h6m-83 1h6m178 1h6m7 0h6m102 0h6m-379 4h6m188 0h6m228 0h6m-524 1h6m326 0h6m-271 1h6m101 0h6m-14 4h6m310 0h6m-457 1h6m54 0h6m195 0h6m-289 1h6m493 0h6m-464 4h6m186 0h6m53 0h6m114 0h6m-299 1h6m-109 1h6m198 0h6m-142 4h6m84 0h6m24 0h6m48 0h6m55 0h6m-320 1h6m-11 5h6m205 0h6m174 0h6m36 0h6m16 0h6m-429 1h6m65 0h6m35 0h6m55 0h6m-26 1h6m80 0h6m47 0h6m-193 4h6m258 0h6m-406 1h6m13 0h6m40 0h6m120 1h6m-48 4h6m48 0h6m126 0h6m-215 1h6m12 0h6m88 0h6m31 0h6m139 0h6m-295 1h6m109 0h6m71 0h6m109 0h6m-302 4h6m53 0h6m-214 1h6m244 0h6m73 0h6m142 0h6m-357 1h6m-125 4h6m251 0h6m67 0h6m126 0h6m-432 1h6m227 0h6m157 0h6m-420 1h6m121 0h6m70 0h6m38 0h6m124 0h6m-385 4h6m115 0h6m173 0h6m139 0h6m37 0h6m-446 1h6m54 0h6m32 0h6m23 0h6m1 1h6" stroke="#c84880"/>
<path d="M1788 2002h6m-215 12h6m114 42h6m-352 17h6m281 18h6m153 14h6m-327 11h6m-15 18h6m14 19h6m269 5h6m-149 24h6m72 7h6m11 4h6m-155 1h6m216 0h6m-157 18h6m104 0h6m-66 5h6m-104 2h6m221 0h6m12 5h6m-479 1h6m0 0h6m373 6h6m-199 4h6m95 1h6m26 5h6m-54 1h6m127 0h6m-139 5h6m155 2h6m-417 4h6m89 0h6m54 0h6m-222 1h6m221 0h6m176 0h6m59 6h6m-233 6h6m222 0h6m-253 1h6m91 0h6m-248 4h6m229 0h6m-287 1h6m125 0h6m109 1h6m165 5h6m-202 1h6m114 0h6m-306 4h6m-34 1h6m144 0h6m100 0h6m-143 1h6m66 0h6m132 0h6m-390 5h6m71 0h6m294 0h6m48 1h6" stroke="#9a6080"/>
<path d="M1817 2013h6m-125 2h6m-257 18h6m311 11h6m-430 11h6m276 1h6m-6 11h6m-23 2h6m-87 11h6m19 7h6m172 12h6m-299 23h6m-89 13h6m-4 29h6m449 6h6m-317 1h6m40 11h6m228 1h6m-192 12h6m2 0h6m-26 5h6m-60 1h6m264 0h6m-379 4h6m234 1h6m-270 1h6m54 5h6m-90 5h6m7 2h6m215 0h6m30 0h6m-222 4h6m115 0h6m239 1h6m-139 1h6m-77 4h6m-149 2h6m389 5h6m-462 5h6m-47 2h6m456 0h6m7 0h6m-15 5h6m-459 1h6m28 0h6m59 0h6m37 0h6m87 4h6m66 0h6m59 0h6m98 0h6m-325 1h6m102 5h6m-305 1h6m21 0h6m435 1h6m-73 4h6m42 0h6m0 0h6m49 0h6m-195 1h6m104 0h6m-438 1h6m-8 4h6m93 0h6m383 0h6m-413 2h6m16 4h6m64 0h6m-34 6h6m19 0h6m-127 1h6m54 5h6m79 0h6m59 0h6m42 0h6m53 0h6m-365 2h6m73 0h6m148 0h6m145 0h6m54 0h6m60 0h6" stroke="#f4c0d8"/>
<path d="M1416 2295h6m84 0h6m98 0h6m174 0h6m36 0h6m-517 1h6m0 0h6m78 0h6m132 0h6m49 0h6m24 0h6m76 0h6m-341 1h6m419 0h6m-443 4h6m271 0h6m114 0h6m-294 1h6m5 0h6m192 0h6m0 0h6m-336 1h6m113 0h6m131 0h6m86 0h6m19 0h6m96 0h6m-332 4h6m36 0h6m20 0h6m239 0h6m-1 0h6m-515 1h6m89 0h6m44 0h6m23 0h6m120 0h6m40 0h6m9 0h6m-320 1h6m428 0h6m10 0h6m-491 4h6m6 0h6m19 0h6m34 0h6m24 0h6m61 0h6m155 0h6m-276 1h6m17 0h6m98 0h6m144 0h6m35 0h6m101 0h6m-336 1h6m51 0h6m53 0h6m5 0h6m211 0h6m-452 4h6m133 0h6m67 0h6m48 0h6m28 0h6m103 0h6m-336 1h6m36 0h6m253 0h6m0 0h6m-397 1h6m50 0h6m118 0h6m187 0h6m30 0h6m17 0h6m8 0h6m-482 4h6m61 0h6m24 0h6m12 0h6m197 0h6m30 0h6m-216 1h6m92 0h6m11 0h6m72 0h6m136 0h6m-496 1h6m352 0h6m37 0h6m47 0h6m-483 4h6m35 0h6m77 0h6m27 0h6m172 0h6m-324 1h6m145 0h6m257 0h6m49 0h6m-287 1h6m9 0h6m3 0h6m59 0h6m60 0h6m1 0h6m119 0h6m-449 4h6m100 0h6m32 0h6m36 0h6m126 0h6m59 0h6m13 0h6m22 0h6m-485 1h6m0 0h6m102 0h6m19 0h6m-2 0h6m1 0h6m197 0h6m113 0h6m21 0h6m-470 1h6m18 0h6m131 0h6m19 0h6m73 0h6m89 0h6m25 0h6m30 0h6m35 0h6m-402 4h6m7 0h6m35 0h6m29 0h6m54 0h6m84 0h6m19 0h6m61 0h6m71 0h6m-492 1h6m48 0h6m198 0h6m11 0h6m20 0h6m96 0h6m60 0h6m-2 0h6m-509 1h6m11 0h6m121 0h6m43 0h6m16 0h6m54 0h6m54 0h6m13 0h6m-316 4h6m-1 0h6m169 0h6m94 0h6m31 0h6m151 0h6m-493 1h6m66 0h6m23 0h6m168 0h6m20 0h6m41 0h6m79 0h6m17 0h6m7 0h6m6 0h6m-420 1h6m40 0h6m6 0h6m8 0h6m12 0h6m72 0h6m40 0h6m19 0h6m42 0h6m59 0h6m20 0h6m-483 4h6m132 0h6m104 0h6m28 0h6m-250 1h6m30 0h6m41 0h6m90 0h6m179 0h6m6 0h6m-353 1h6m31 0h6m24 0h6m48 0h6m-1 0h6m61 0h6m179 0h6m18 0h6m24 0h6m14 0h6m-522 4h6m35 0h6m36 0h6m74 0h6m5 0h6m0 0h6m13 0h6m106 0h6m77 0h6m2 0h6m60 0h6m43 0h6m-408 1h6m17 0h6m11 0h6m32 0h6m53 0h6m0 0h6m1 0h6m6 0h6m6 0h6m10 0h6m14 0h6m-1 0h6m78 0h6m-295 1h6m96 0h6m12 0h6m42 0h6m44 0h6m35 0h6m31 0h6m65 0h6m-457 4h6m-1 0h6m2 0h6m46 0h6m43 0h6m144 0h6m156 0h6m1 0h6m35 0h6m-504 1h6m5 0h6m30 0h6m54 0h6m12 0h6m102 0h6m1 0h6m-2 0h6m24 0h6m50 0h6m60 0h6m101 0h6m-522 1h6m49 0h6m4 0h6m44 0h6m40 0h6m30 0h6m38 0h6m65 0h6m29 0h6m39 0h6m22 0h6m49 0h6m1 0h6m-457 4h6m55 0h6m10 0h6m97 0h6m12 0h6m36 0h6m29 0h6m5 0h6m26 0h6m11 0h6m36 0h6m19 0h6m4 0h6m13 0h6m12 0h6m-400 1h6m9 0h6m54 0h6m8 0h6m35 0h6m25 0h6m91 0h6m5 0h6m36 0h6m16 0h6m25 0h6m-443 1h6m0 0h6m23 0h6m1 0h6m35 0h6m49 0h6m29 0h6m73 0h6m55 0h6m53 0h6m106 0h6m-400 4h6m78 0h6m7 0h6m16 0h6m18 0h6m1 0h6m96 0h6m5 0h6m0 0h6m1 0h6m41 0h6m54 0h6m-489 1h6m9 0h6m26 0h6m-2 0h6m2 0h6m5 0h6m48 0h6m30 0h6m13 0h6m130 0h6m38 0h6m64 0h6m26 0h6m-476 1h6m26 0h6m46 0h6m2 0h6m42 0h6m96 0h6m17 0h6m13 0h6m58 0h6" stroke="#e878a8"/>
<path d="M1531 2296h6m-200 1h6m108 0h6m188 0h6m124 0h6m13 6h6m-4 4h6m-260 2h6m-77 4h6m41 0h6m-162 1h6m68 0h6m-54 1h6m70 4h6m205 1h6m-323 1h6m102 4h6m-86 2h6m86 0h6m-2 4h6m-69 1h6m197 0h6m-218 1h6m426 0h6m-493 10h6m19 2h6m213 4h6m125 0h6m-167 1h6m120 0h6m-314 1h6m7 0h6m-7 4h6m277 0h6m64 0h6m-293 1h6m121 0h6m-216 6h6m26 0h6m142 0h6m24 0h6m233 0h6m-406 1h6m4 0h6m337 4h6m35 0h6m-359 1h6m-121 1h6m90 0h6m55 0h6m-115 4h6m295 0h6m54 1h6m-264 1h6m200 4h6m65 0h6m12 0h6m-152 1h6m72 0h6m7 0h6m-390 1h6m176 0h6" stroke="#3a3068"/>
<path d="M1350 2295h6m6 0h6m188 0h6m88 1h6m6 0h6m68 0h6m-385 1h6m132 0h6m208 0h6m-214 4h6m-72 1h6m108 0h6m145 0h6m71 0h6m-450 1h6m103 0h6m23 0h6m16 0h6m91 0h6m234 0h6m-472 4h6m5 0h6m47 0h6m198 0h6m72 0h6m-376 1h6m11 0h6m288 0h6m61 0h6m24 0h6m22 0h6m8 0h6m47 0h6m-359 1h6m72 0h6m64 0h6m43 0h6m89 0h6m-395 4h6m77 0h6m19 0h6m54 0h6m10 0h6m111 0h6m28 0h6m-307 1h6m216 0h6m81 0h6m63 0h6m-406 1h6m54 0h6m191 0h6m55 0h6m43 0h6m16 0h6m-480 4h6m127 0h6m24 0h6m95 0h6m-228 1h6m67 0h6m18 0h6m35 0h6m0 0h6m8 0h6m11 0h6m103 0h6m54 0h6m70 0h6m-298 1h6m82 4h6m144 0h6m-400 1h6m21 0h6m51 0h6m72 0h6m33 0h6m175 0h6m-385 1h6m27 0h6m180 0h6m5 0h6m49 0h6m108 0h6m41 0h6m35 0h6m-448 4h6m112 0h6m170 0h6m77 0h6m66 0h6m-413 1h6m30 0h6m108 0h6m7 0h6m5 0h6m131 0h6m37 0h6m41 0h6m-335 1h6m13 0h6m9 0h6m26 0h6m65 0h6m158 0h6m-440 4h6m25 0h6m47 0h6m119 0h6m0 0h6m33 0h6m17 0h6m13 0h6m58 0h6m38 0h6m-242 1h6m31 0h6m-162 1h6m6 0h6m73 0h6m84 0h6m6 0h6m22 0h6m62 0h6m6 0h6m41 0h6m-350 4h6m66 0h6m121 0h6m25 0h6m63 0h6m91 0h6m-425 1h6m13 0h6m53 0h6m65 0h6m6 0h6m73 0h6m101 0h6m18 0h6m14 0h6m18 0h6m-446 1h6m26 0h6m144 0h6m5 0h6m137 0h6m13 0h6m5 0h6m38 0h6m9 0h6m33 0h6m-511 4h6m2 0h6m88 0h6m0 0h6m30 0h6m6 0h6m32 0h6m0 0h6m22 0h6m0 0h6m175 0h6m79 0h6m-428 1h6m32 0h6m66 0h6m149 0h6m139 0h6m-290 1h6m44 0h6m4 0h6m80 0h6m78 0h6m-441 4h6m8 0h6m60 0h6m22 0h6m8 0h6m34 0h6m1 0h6m55 0h6m55 0h6m65 0h6m6 0h6m12 0h6m-374 1h6m6 0h6m12 0h6m165 0h6m-145 1h6m53 0h6m7 0h6m82 0h6m62 0h6m24 0h6m-1 0h6m26 0h6m-2 0h6m41 0h6m44 0h6m-474 4h6m30 0h6m162 0h6m92 0h6m41 0h6m5 0h6m67 0h6m18 0h6m25 0h6m-415 1h6m47 0h6m80 0h6m96 0h6m93 0h6m13 0h6m0 0h6m30 0h6m-430 1h6m132 0h6m0 0h6m165 0h6m13 0h6m67 0h6m0 0h6m-494 4h6m264 0h6m1 0h6m18 0h6m16 0h6m1 0h6m29 0h6m9 0h6m22 0h6m8 0h6m27 0h6m37 0h6m6 0h6m-432 1h6m7 0h6m71 0h6m29 0h6m72 0h6m19 0h6m17 0h6m0 0h6m39 0h6m-381 1h6m8 0h6m48 0h6m29 0h6m43 0h6m52 0h6m54 0h6m85 0h6m71 0h6m-411 4h6m113 0h6m36 0h6m-1 0h6m12 0h6m25 0h6m36 0h6m125 0h6m83 0h6m-478 1h6m24 0h6m47 0h6m5 0h6m229 0h6m25 0h6m65 0h6m11 0h6m-504 1h6m8 0h6m10 0h6m37 0h6m61 0h6m7 0h6m16 0h6m157 0h6m78 0h6m37 0h6m-420 4h6m46 0h6m8 0h6m0 0h6m142 0h6m18 0h6m31 0h6m66 0h6m78 0h6m-348 1h6m31 0h6m114 0h6m0 0h6m40 0h6m38 0h6m17 0h6m25 0h6m1 0h6m53 0h6m-372 1h6m-2 0h6m2 0h6m7 0h6m53 0h6m7 0h6m21 0h6m31 0h6m-1 0h6m19 0h6m156 0h6" stroke="#c83c78"/>
<path d="M1542 2295h6m71 0h6m-111 1h6m159 1h6m44 0h6m16 0h6m-436 4h6m187 0h6m268 0h6m-454 2h6m118 0h6m194 0h6m60 0h6m-289 5h6m47 0h6m186 1h6m-142 5h6m12 1h6m15 0h6m-125 4h6m115 1h6m12 0h6m-79 1h6m258 0h6m14 0h6m-307 4h6m221 0h6m56 0h6m-236 1h6m60 0h6m-83 1h6m59 0h6m17 0h6m-323 4h6m55 0h6m53 0h6m270 0h6m19 0h6m-420 1h6m197 0h6m240 0h6m-420 1h6m7 0h6m265 0h6m42 0h6m-197 4h6m275 0h6m17 0h6m-486 1h6m120 5h6m217 0h6m-282 1h6m66 0h6m-1 0h6m84 0h6m7 0h6m-278 1h6m235 0h6m193 0h6m-457 4h6m85 0h6m119 0h6m31 0h6m-185 1h6m216 0h6m89 0h6m-54 1h6m48 0h6m-92 4h6m139 0h6m31 0h6m-449 1h6m221 0h6m167 0h6m17 0h6m-274 1h6m11 0h6m79 0h6m31 0h6m77 0h6m76 0h6m6 0h6m-340 4h6m-142 1h6m378 0h6m-428 1h6m14 0h6m317 0h6m0 0h6m-188 5h6m308 0h6m-282 1h6m15 0h6m157 0h6m-143 4h6m35 0h6m29 0h6m48 0h6m-161 1h6m49 0h6m174 0h6m-468 5h6m491 1h6m-480 1h6m30 0h6m50 0h6m341 0h6m19 0h6" stroke="#7a2a58"/>
<path d="M1320 2385h6m18 0h6m84 0h6m2 0h6m124 0h6m85 0h6m-277 1h6m221 0h6m171 0h6m42 0h6m-482 1h6m72 0h6m42 0h6m86 0h6m220 0h6m-437 4h6m1 0h6m444 0h6m-504 1h6m157 0h6m18 0h6m214 0h6m-340 1h6m24 0h6m370 0h6m-456 4h6m29 0h6m416 0h6m-2 0h6m-498 1h6m181 1h6m36 0h6" stroke="#6a5098"/>
<path d="M1412 2385h6m34 0h6m91 0h6m41 0h6m25 0h6m90 0h6m25 0h6m-1 0h6m40 0h6m-473 1h6m37 0h6m16 0h6m61 0h6m65 0h6m19 0h6m36 0h6m126 0h6m-420 1h6m43 0h6m106 0h6m162 0h6m26 0h6m1 0h6m6 0h6m59 0h6m49 0h6m-505 4h6m30 0h6m1 0h6m72 0h6m25 0h6m120 0h6m28 0h6m14 0h6m10 0h6m13 0h6m-354 1h6m72 0h6m103 0h6m53 0h6m19 0h6m107 0h6m-360 1h6m109 0h6m24 0h6m83 0h6m11 0h6m80 0h6m41 0h6m24 0h6m-386 4h6m35 0h6m20 0h6m36 0h6m76 0h6m14 0h6m12 0h6m7 0h6m84 0h6m4 0h6m13 0h6m11 0h6m7 0h6m-451 1h6m56 0h6m23 0h6m10 0h6m109 0h6m73 0h6m60 0h6m53 0h6m7 0h6m-457 1h6m48 0h6m20 0h6m9 0h6m188 0h6m78 0h6m34 0h6m75 0h6" stroke="#c04880"/>
<path d="M1675 2385h6m138 0h6m-492 1h6m215 0h6m-30 1h6m43 4h6m-180 1h6m51 0h6m5 0h6m34 0h6m253 0h6m24 0h6m-144 1h6m54 0h6m49 0h6m-421 4h6m138 0h6m292 0h6m-492 1h6m223 0h6m174 0h6m-1 0h6m-365 1h6m395 0h6" stroke="#5a70b0"/>
<path d="M1356 2385h6m25 0h6m34 0h6m74 0h6m23 0h6m37 0h6m192 0h6m7 0h6m-445 1h6m119 0h6m164 0h6m66 0h6m11 0h6m-378 1h6m131 0h6m7 0h6m6 0h6m31 0h6m35 0h6m22 0h6m1 0h6m25 0h6m109 0h6m46 0h6m-375 4h6m73 0h6m183 0h6m87 0h6m-1 0h6m-516 1h6m30 0h6m175 0h6m9 0h6m8 0h6m24 0h6m16 0h6m54 0h6m33 0h6m40 0h6m24 0h6m7 0h6m-480 1h6m53 0h6m150 0h6m5 0h6m139 0h6m104 0h6m-440 4h6m174 0h6m6 0h6m29 0h6m151 0h6m47 0h6m18 0h6m-461 1h6m0 0h6m27 0h6m111 0h6m36 0h6m23 0h6m-152 1h6m55 0h6m137 0h6" stroke="#3a2a60"/>
<path d="M1417 2385h6m286 0h6m-316 1h6m59 0h6m144 0h6m60 0h6m78 0h6m-179 1h6m93 4h6m88 0h6m-390 1h6m49 0h6m47 0h6m120 0h6m13 0h6m12 0h6m76 0h6m-60 1h6m-353 4h6m102 0h6m226 0h6m-10 1h6m6 0h6m4 0h6m98 0h6m-337 1h6m-1 0h6m43 0h6m85 0h6m28 0h6m1 0h6m29 0h6m38 0h6" stroke="#8a3a70"/>
<path d="M1335 2403h6m6 0h6m24 0h6m48 0h6m6 0h6m24 0h6m12 0h6m42 0h6m24 0h6m168 0h6m72 0h6m-480 6h6m12 0h6m24 0h6m84 0h6m12 0h6m102 0h6m0 0h6m60 0h6m-259 6h6m72 0h6m132 0h6m72 0h6m42 0h6m6 0h6m18 0h6m-486 6h6m6 0h6m0 0h6m60 0h6m96 0h6m90 0h6m24 0h6m36 0h6m30 0h6m54 0h6m0 0h6m-456 6h6m54 0h6m6 0h6m60 0h6m18 0h6m24 0h6m72 0h6m48 0h6m96 0h6m72 0h6m-482 6h6m24 0h6m150 0h6m12 0h6m6 0h6m54 0h6m12 0h6m12 0h6m42 0h6m-395 6h6m66 0h6m6 0h6m72 0h6m42 0h6m0 0h6m0 0h6m6 0h6m12 0h6m6 0h6m72 0h6m42 0h6m48 0h6m30 0h6m-475 6h6m114 0h6m78 0h6m12 0h6m6 0h6m0 0h6m18 0h6m78 0h6m36 0h6m54 0h6m36 0h6m-484 6h6m42 0h6m0 0h6m6 0h6m6 0h6m114 0h6m30 0h6m108 0h6m18 0h6m24 0h6m60 0h6m-439 6h6m12 0h6m156 0h6m30 0h6m12 0h6m12 0h6m12 0h6m6 0h6m90 0h6m0 0h6m-450 6h6m60 0h6m24 0h6m18 0h6m114 0h6m12 0h6m24 0h6m48 0h6m0 0h6m36 0h6m102 0h6m-472 6h6m0 0h6m102 0h6m126 0h6m72 0h6m0 0h6m0 0h6m-187 6h6m48 0h6m-197 6h6m48 0h6m6 0h6m36 0h6m6 0h6m30 0h6m36 0h6m18 0h6m0 0h6m60 0h6m12 0h6m6 0h6m0 0h6m0 0h6m66 0h6m6 0h6m-338 6h6m192 0h6m12 0h6m36 0h6m6 0h6m-382 6h6m6 0h6m66 0h6m72 0h6m12 0h6m18 0h6m0 0h6m60 0h6m60 0h6m78 0h6m0 0h6m0 0h6m-487 6h6m60 0h6m78 0h6m72 0h6m30 0h6m18 0h6m54 0h6m24 0h6m78 0h6m42 0h6m-467 6h6m36 0h6m24 0h6m24 0h6m18 0h6m18 0h6m18 0h6m24 0h6m0 0h6m6 0h6m150 0h6m18 0h6m48 0h6m12 0h6m-470 6h6m24 0h6m66 0h6m18 0h6m24 0h6m18 0h6m84 0h6m12 0h6m54 0h6m6 0h6m0 0h6m6 0h6m48 0h6m6 0h6m6 0h6" stroke="#ffffff"/>
<path d="M1353 2403h6m30 0h6m60 0h6m36 0h6m84 0h6m66 0h6m24 0h6m114 0h6m-426 6h6m78 0h6m18 0h6m36 0h6m12 0h6m72 0h6m78 0h6m30 0h6m-307 6h6m210 0h6m12 0h6m144 0h6m-384 6h6m138 0h6m216 0h6m-480 6h6m60 0h6m54 0h6m18 0h6m-170 6h6m96 0h6m126 0h6m-239 6h6m6 0h6m102 0h6m108 0h6m102 0h6m-349 6h6m24 0h6m12 0h6m78 0h6m84 0h6m36 0h6m42 0h6m-304 6h6m288 0h6m18 0h6m36 0h6m18 0h6m30 0h6m-349 6h6m90 0h6m-150 6h6m30 0h6m24 0h6m24 0h6m66 0h6m0 0h6m36 0h6m36 0h6m0 0h6m42 0h6m96 0h6m36 0h6m-466 6h6m30 0h6m90 0h6m24 0h6m36 0h6m66 0h6m-175 6h6m150 0h6m24 0h6m0 0h6m54 0h6m0 0h6m36 0h6m42 0h6m-509 6h6m36 0h6m78 0h6m24 0h6m192 0h6m0 0h6m36 0h6m-362 6h6m6 0h6m96 0h6m18 0h6m-76 6h6m114 0h6m120 0h6m30 0h6m0 0h6m84 0h6m0 0h6m-199 6h6m-281 6h6m42 0h6m174 0h6m18 0h6m6 0h6m60 0h6m0 0h6m132 0h6m0 0h6m-230 6h6m0 0h6m48 0h6m6 0h6m84 0h6" stroke="#d8d0e8"/>
<path d="M1737 2403h6m-288 6h6m90 0h6m252 0h6m-493 6h6m474 0h6m-330 6h6m60 0h6m72 0h6m78 0h6m90 0h6m-354 6h6m102 0h6m102 0h6m120 0h6m-446 6h6m12 0h6m132 0h6m198 0h6m48 0h6m-449 6h6m60 0h6m216 0h6m120 0h6m0 0h6m42 0h6m-373 6h6m54 0h6m-166 6h6m36 0h6m42 0h6m102 0h6m18 0h6m60 0h6m12 0h6m174 0h6m18 0h6m-421 6h6m30 0h6m132 0h6m30 0h6m-294 6h6m72 0h6m102 0h6m68 6h6m162 0h6m12 0h6m-469 6h6m60 0h6m186 0h6m126 0h6m72 0h6m-185 6h6m36 0h6m108 0h6m-458 6h6m234 0h6m-178 6h6m96 0h6m156 0h6m12 0h6m36 0h6m66 0h6m-427 6h6m168 0h6m24 0h6m120 0h6m-377 6h6m72 0h6m24 0h6m96 0h6m12 0h6m108 0h6m-182 6h6m96 0h6m36 0h6m24 0h6" stroke="#a0c0e0"/>
</g>
<rect x="265.8" y="460" width="1.4" height="42" fill="#fff6f8"/>
<path d="M369.4 398V502.4H264" fill="none" stroke="#d4d0d8" stroke-width="0.8"/>
<path d="M263.6 398V502" fill="none" stroke="#c8c4cc" stroke-width="0.8"/>
<path d="M263.2 397.6H369.8" fill="none" stroke="#a8a4b4" stroke-width="0.9"/>
<path d="M263.6 399.8v1.3M263.6 403.9v1.3M263.6 408.1v1.3M263.6 412.2v1.3M263.6 416.4v1.3M263.6 420.6v1.3M263.6 424.7v1.3M263.6 428.9v1.3M263.6 433v1.3M263.6 437.2v1.3M263.6 441.3v1.3M263.6 445.5v1.3M263.6 449.6v1.3M263.6 453.8v1.3M263.6 457.9v1.3M263.6 462.1v1.3M263.6 466.2v1.3M263.6 470.4v1.3M263.6 474.5v1.3M263.6 478.7v1.3M263.6 482.8v1.3M263.6 487v1.3M263.6 491.1v1.3M263.6 495.2v1.3" stroke="#8a8a8a" stroke-width="1.1" fill="none"/>
<rect x="258" y="400" width="3.6" height="9" fill="#e2e0e6"/>
<rect x="370.5" y="400" width="3.6" height="9" fill="#e2e0e6"/>
<path d="M267.4 433.7V453.7" stroke="#1a1a1a" stroke-width="1.3"/>
<path d="M261.6 452.7L273.2 452.7L267.4 464.6Z" fill="#111"/>
<rect x="376" y="398" width="105" height="105" fill="#fff"/>
<path transform="scale(.5)" fill="#4078b8" d="M752 1005l0-53 3-1 3 1 3 0 3-2 3 2 3-2 3 3 3-1 3-2 3 3 3-3 3 3 3-3 3 0 3 3 3-3 3 1 3-1 3 0 3 2 3 0 3 0 3-1 3-1 3 3 3-2 3-1 3 0 3 2 3-1V1005Z"/>
<path transform="scale(.5)" fill="#44aacb" d="M752 1005l0-52 3 0 3 1 3-1 3 0 3 2 3-3 3 3 3-2 3 0 3 2 3-2 3-1 3 0 3 1 3 1 3 1 3-2 3 1 3 0 3-2 3 1 3 1 3-2 3 3 3 0 3-2 3 1 3 0 3 0 3 0V1005Z"/>
<path transform="scale(.5)" fill="#62ae44" d="M752 1005l0-46 3 1 3 0 3 1 3 0 3-2 3 1 3-1 3 2 3-2 3 0 3 2 3 0 3-1 3 0 3 1 3-2 3 0 3 0 3 0 3 1 3-1 3 2 3 0 3-2 3 2 3 0 3-1 3 1 3 0 3-1V1005Z"/>
<path transform="scale(.5)" fill="#b0c830" d="M752 1005l0-39 3-1 3 1 3-1 3 0 3 0 3-1 3 1 3-1 3 2 3-1 3 0 3-2 3 1 3 2 3 0 3 0 3-1 3 0 3 0 3-1 3 1 3 1 3 0 3 0 3-2 3 2 3-2 3 0 3 2 3-1V1005Z"/>
<path transform="scale(.5)" fill="#e21c2c" d="M752 1005l0-39 3 1 3 0 3 0 3 1 3-1 3 1 3 0 3-1 3 0 3-1 3 0 3 2 3-1 3-1 3 1 3 1 3 0 3 0 3-1 3-1 3 0 3 0 3 2 3 0 3-1 3-1 3 0 3 3 3-1 3-1V1005Z"/>
<path transform="scale(.5)" fill="#f264a2" d="M752 1005l0-29 3 0 3-3 3 1 3 0 3-1 3 1 3 1 3-1 3 2 3-2 3 1 3-1 3 1 3-2 3 1 3 1 3 0 3-1 3 0 3-1 3 2 3 0 3 1 3-3 3 1 3 2 3-1 3 0 3 0 3-1V1005Z"/>
<path transform="scale(.5)" fill="#1c3a88" d="M752 1005l0-27 3 1 3-1 3 1 3 1 3-2 3 0 3 0 3 1 3 0 3 1 3 1 3-2 3-1 3 2 3-1 3-1 3 2 3 0 3-2 3 2 3-2 3 1 3 0 3 1 3-1 3 1 3 0 3-2 3 1 3 0V1005Z"/>
<path transform="scale(.5)" fill="#58a8e0" d="M752 1005l0-22 3 1 3 1 3-1 3 2 3 0 3-3 3 1 3 1 3-1 3 2 3-1 3 1 3-2 3 2 3-2 3 0 3-1 3 1 3 2 3 0 3-1 3 0 3 1 3-2 3 0 3 0 3 2 3-2 3 1 3 0V1005Z"/>
<path transform="scale(.5)" fill="#1c3a88" d="M752 1005l0-9 3 1 3 0 3-1 3-1 3 2 3-2 3 2 3-3 3 2 3 1 3-2 3 2 3-3 3 2 3 1 3 0 3 0 3-1 3 0 3-1 3 1 3-2 3 2 3-1 3 0 3 1 3-2 3 0 3 1 3 1V1005Z"/>
<path transform="scale(.5)" fill="#c8183c" d="M752 1005l0-5 3 0 3 2 3-3 3 3 3-2 3 1 3 0 3-2 3 1 3 1 3 1 3 0 3-1 3 0 3 1 3-2 3 0 3 0 3 2 3-2 3 0 3-1 3 0 3 0 3 1 3 0 3-1 3 3 3-2 3 1V1005Z"/>
<rect x="421.5" y="398" width="59.5" height="105" fill="#4aa0d0"/>
<path transform="scale(.5)" fill="#8cc850" d="M843 1006l0-126 3-29 3-15 3-11 3-8 3-4 3-6 3-4 3 0 3 0 3-1 3 0 3 0 3 3 3 0 3 0 3 5 3-2 3 6 3 1 3 0 3 4 3 0 3 1 3 4 3 2 3-1 3 2 3 5 3 2 3 1 3 1 3 5 3-1 3 6 3 1 3 2 3 3 3 3 3 1 2 4V1006Z"/>
<path transform="scale(.5)" fill="#3f8a3a" d="M843 1006l0-114 3-20 3-13 3-11 3-8 3-7 3-9 3-1 3-2 3-4 3-3 3 1 3 3 3 0 3-1 3 1 3 5 3 0 3 0 3 4 3 0 3 1 3 4 3 3 3 0 3 2 3 3 3 1 3 4 3-1 3 2 3 2 3 5 3 1 3 3 3 2 3 4 3 3 3 0 3 4 2 2V1006Z"/>
<path transform="scale(.5)" fill="#f08a3a" d="M843 1006l0-103 3-10 3-13 3-11 3-9 3-4 3-6 3-3 3-3 3-4 3-2 3 0 3-2 3 0 3 3 3 1 3-1 3 4 3 0 3 3 3 1 3 0 3 2 3 4 3 1 3-1 3 2 3 6 3-2 3 5 3 2 3 2 3 1 3 3 3 0 3 4 3 2 3 2 3 4 3-1 2 3V1006Z"/>
<path transform="scale(.5)" fill="#e21c2c" d="M843 1006l0-92 3-6 3-10 3-7 3-10 3-2 3-6 3-5 3-2 3-2 3-3 3-1 3 0 3 2 3-2 3 0 3 1 3 1 3 3 3 1 3 0 3 1 3 2 3 3 3-1 3 4 3 0 3 3 3 1 3 2 3 1 3 2 3 1 3 2 3 0 3 4 3 1 3 1 3 4 3 1 2 0V1006Z"/>
<path transform="scale(.5)" fill="#c41430" d="M843 1006l0-65 3-12 3-10 3-7 3-4 3-7 3-5 3 1 3-2 3 0 3-5 3 0 3 1 3 0 3 0 3-1 3 1 3 1 3 1 3-2 3 0 3 3 3-2 3 3 3-1 3 4 3 0 3-1 3 2 3-1 3 3 3 3 3-1 3 0 3 2 3 2 3 1 3 1 3 1 3 0 2 2V1006Z"/>
<path transform="scale(.5)" fill="#e21c2c" d="M843 1006l0-39 3-1 3-1 3-3 3 2 3-1 3-1 3-1 3-2 3 1 3 0 3 1 3 0 3 1 3-3 3 2 3-1 3 1 3 2 3 1 3 1 3-2 3 2 3 1 3 0 3 2 3 0 3-1 3 2 3 1 3 1 3 2 3 0 3 0 3 2 3-1 3 0 3 1 3 2 3 2 2-1V1006Z"/>
<path transform="scale(.5)" fill="#f4a070" d="M843 1006l0-27 3-3 3-2 3-1 3-1 3 0 3-1 3 0 3 0 3-1 3 0 3 0 3-1 3 2 3 0 3 0 3 2 3-2 3 2 3-1 3 1 3 2 3 1 3-2 3 1 3 2 3 0 3 3 3-1 3 2 3-1 3 2 3 0 3 0 3 2 3 0 3 0 3 3 3-1 3 2 2 0V1006Z"/>
<path transform="scale(.5)" fill="#4a9a40" d="M843 1006l0-21 3-4 3 0 3-3 3 0 3-3 3-1 3 1 3-1 3 2 3-1 3-2 3 1 3 1 3 0 3 0 3 2 3 1 3 1 3 1 3 0 3 0 3 0 3 2 3 1 3-2 3 1 3 3 3-1 3 1 3 2 3-1 3 3 3 0 3 0 3 1 3 1 3-1 3 3 3-2 2 2V1006Z"/>
<path transform="scale(.5)" fill="#78c070" d="M843 1006l0-17 3 1 3-5 3-1 3-1 3 1 3-2 3 0 3 1 3 0 3-3 3 2 3 0 3 0 3 1 3-1 3 2 3-1 3 1 3 2 3 1 3 0 3 2 3-1 3 2 3-1 3 0 3 2 3 1 3 0 3 2 3-1 3 3 3 1 3-2 3 1 3 0 3 4 3 0 3-1 2 1V1006Z"/>
<path transform="scale(.5)" fill="#c8d890" d="M843 1006l0-4 3-1 3 1 3 0 3 0 3 0 3-1 3 2 3-1 3 1 3-2 3 1 3 0 3 2 3-2 3 1 3-2 3 1 3-1 3 2 3-2 3 1 3 1 3-2 3 2 3-1 3 0 3 2 3-3 3 0 3 0 3 0 3 0 3 1 3 1 3-1 3 1 3 0 3-2 3 1 2 0V1006Z"/>
<g transform="scale(.2)" stroke-width="6" fill="none">
<path d="M1918 2381h6m30 0h6m78 0h6m42 0h6" stroke="#3060a8"/>
<path d="M1930 2381h6m6 0h6" stroke="#40a8c0"/>
<path d="M1966 2381h6m12 0h6m72 0h6m24 0h6m-215 12h6m54 0h6m136 6h6" stroke="#2a3a80"/>
<path d="M2008 2381h6m36 0h6m42 0h6m-209 12h6m144 0h6m-104 6h6m72 0h6m12 0h6m42 0h6" stroke="#6a5aa8"/>
<path d="M2026 2381h6" stroke="#70a0d0"/>
<path d="M1888 2387h6m84 0h6m6 0h6m43 6h6m-164 6h6m18 0h6m96 0h6" stroke="#4a9a80"/>
<path d="M1894 2387h6m42 0h6m24 0h6m78 0h6m0 0h6m-107 6h6m54 0h6m66 0h6m-176 6h6m24 0h6" stroke="#3a78b8"/>
<path d="M1918 2387h6m30 0h6m48 0h6m24 0h6m36 0h6m0 0h6m0 0h6m-143 6h6m30 0h6m6 0h6m42 0h6m18 0h6m-164 6h6m36 0h6m102 0h6m0 0h6" stroke="#78c0d8"/>
<path d="M2175 2041h6m6 0h6m0 0h6m6 0h6m-42 6h6m48 0h6m-78 18h6m90 0h6m0 0h6m-114 12h6m137 12h6m-156 6h6m74 6h6m12 6h6m-78 12h6m90 0h6m66 0h6m-180 6h6m180 0h6m-223 6h6m216 0h6m0 0h6m-73 6h6m66 0h6m-58 12h6m6 12h6m17 12h6m-233 6h6m-7 6h6m247 6h6m-258 42h6m-230 172h6m126 0h6m66 0h6m-219 6h6m30 0h6m0 0h6m30 0h6m48 0h6" stroke="#3f8a3a"/>
<path d="M1910 2405h6m54 0h6m12 0h6m96 0h6m-33 6h6" stroke="#c0d048"/>
<path d="M1964 2405h6m42 0h6m-81 6h6m84 0h6m6 0h6m6 0h6m0 0h6" stroke="#98c850"/>
<path d="M2048 2405h6" stroke="#40a0a0"/>
<path d="M1911 2417h6m72 0h6m-108 6h6m18 0h6m6 0h6m48 0h6m30 0h6m6 0h6m6 0h6m42 0h6m0 0h6m6 0h6" stroke="#b0c830"/>
<path d="M2188 2149h6m12 0h6m-42 12h6m60 0h6m11 6h6m-102 6h6m115 6h6m17 6h6m-161 6h6m162 0h6m0 6h6m16 12h6m1 6h6m-223 6h6m222 0h6m12 6h6m-196 6h6m12 0h6m6 0h6m0 0h6m6 0h6m138 0h6m-216 6h6m222 0h6m-126 6h6m-134 6h6m144 0h6m0 0h6m12 6h6m-215 6h6m235 6h6m17 6h6m1 6h6m-266 12h6m-22 54h6m-163 70h6m48 0h6m132 16h6m12 0h6m18 0h6m12 0h6m35 6h6m-358 2h6m0 0h6m66 0h6m90 0h6m0 0h6m18 0h6m12 4h6m150 0h6m0 0h6m10 6h6m0 0h6m0 0h6m19 6h6m-1 6h6m18 0h6m0 6h6m6 0h6m13 6h6" stroke="#e21c2c"/>
<path d="M1965 2417h6m72 0h6m6 0h6m36 0h6" stroke="#62ae44"/>
<path d="M2140 2409h6m18 0h6m60 0h6m-72 6h6m0 0h6m54 0h6m-67 6h6m66 0h6m-264 2h6m30 0h6m54 0h6m83 4h6m-251 2h6m144 0h6m12 0h6m18 4h6m227 6h6" stroke="#b81030"/>
<path d="M1905 2435h6m12 0h6m0 0h6m0 0h6m0 0h6m6 0h6m12 0h6m12 0h6m0 0h6m60 0h6m12 0h6m-205 18h6m12 0h6m18 0h6m24 0h6m30 0h6m12 0h6m54 0h6" stroke="#f264a2"/>
<path d="M2008 2441h6m-127 6h6m150 0h6" stroke="#e8407a"/>
<path d="M1899 2447h6m12 0h6m30 0h6m12 0h6m0 0h6m12 0h6m0 0h6m6 0h6m6 0h6m30 0h6m6 0h6m-198 24h6m18 0h6m0 0h6m0 0h6m120 0h6m6 0h6m0 0h6m36 0h6m-168 18h6m42 0h6m6 0h6m18 0h6m0 0h6m12 0h6m0 0h6m12 0h6m-192 18h6m24 0h6m6 0h6m0 0h6m0 0h6m24 0h6m6 0h6m24 0h6m18 0h6m30 0h6m24 0h6" stroke="#1c3a88"/>
<path d="M1881 2459h6m54 0h6m72 0h6m6 0h6m18 0h6m-52 6h6m-126 30h6" stroke="#3a4a9a"/>
<path d="M1907 2465h6m30 0h6m0 0h6m0 0h6m0 0h6m12 0h6m6 0h6m54 0h6m-44 6h6m60 0h6m-168 6h6m84 0h6m5 6h6m30 0h6m-173 6h6m84 0h6m-34 6h6m12 0h6m6 0h6m30 0h6m12 0h6m24 0h6m6 0h6m0 0h6m6 0h6" stroke="#58a8e0"/>
<path d="M1967 2501h6m6 0h6m0 0h6m30 0h6m0 0h6m54 0h6m0 0h6m0 0h6" stroke="#c8183c"/>
<path d="M1911 2507h6m30 0h6m114 0h6" stroke="#e03058"/>
<path d="M1955 1995h6m23 1h6m37 5h6m-146 20h6m98 5h6m10 13h6m69 12h6m-99 5h6m-90 1h6m-16 5h6m64 0h6m60 6h6m-47 5h6m59 8h6m-75 11h6m21 13h6m-120 18h6m25 0h6m-53 4h6m0 2h6m148 5h6m-54 7h6m6 5h6m-109 11h6m13 0h6m125 0h6m38 2h6m-194 10h6m50 1h6m41 0h6m83 0h6m-227 1h6m61 5h6m64 0h6m-10 5h6m36 0h6m-100 6h6m112 1h6m-158 6h6m14 0h6m113 1h6m-149 5h6m72 7h6m1 0h6m4 0h6m1 4h6m-59 1h6m-96 1h6m199 0h6m-39 4h6m-92 1h6m-73 11h6m148 0h6m-180 1h6m8 1h6m60 0h6m54 0h6m41 0h6m-186 4h6m23 0h6m48 0h6m78 1h6m-23 6h6m-68 5h6m84 1h6m-114 1h6m8 0h6" stroke="#f4c0d8"/>
<path d="M1958 1996h6m85 0h6m-84 1h6m97 5h6m-179 5h6m90 0h6m-121 1h6m-8 5h6m121 2h6m-38 5h6m-4 6h6m103 0h6m-124 1h6m93 4h6m-94 1h6m64 0h6m-42 5h6m-35 8h6m29 22h6m-97 2h6m55 12h6m-37 6h6m-9 6h6m51 22h6m-114 6h6m14 0h6m16 0h6m47 1h6m27 1h6m-4 4h6m-134 2h6m5 6h6m0 6h6m44 4h6m84 0h6m-157 8h6m87 5h6m-27 1h6m73 4h6m-151 7h6m93 11h6m-50 6h6m23 2h6m77 4h6m-137 1h6m60 1h6m10 0h6m44 5h6m-132 1h6m5 0h6m55 4h6m48 0h6m-136 1h6m52 5h6m-116 7h6m-1 0h6m2 0h6m22 1h6m68 0h6m-51 4h6m6 0h6m5 0h6m89 0h6m-1 0h6m-191 2h6m19 4h6m95 1h6m-36 1h6m49 4h6m-133 1h6m42 5h6m72 1h6m-174 1h6m95 0h6m13 0h6m-139 4h6m116 1h6m48 1h6" stroke="#f090bc"/>
<path d="M2080 1995h6m-142 7h6m4 5h6m67 1h6m10 1h6m49 0h6m-157 4h6m-48 1h6m139 0h6m-31 6h6m-119 1h6m66 4h6m11 1h6m-101 17h6m43 1h6m46 0h6m-35 1h6m89 5h6m-108 5h6m30 0h6m-80 2h6m45 0h6m100 12h6m-83 4h6m-34 1h6m112 7h6m-211 5h6m88 5h6m14 6h6m-119 1h6m24 1h6m85 5h6m73 5h6m-45 6h6m-65 14h6m91 5h6m-136 5h6m-54 1h6m137 0h6m-108 1h6m-33 4h6m3 0h6m100 7h6m-12 7h6m-106 4h6m-13 2h6m85 0h6m-57 4h6m1 1h6m6 1h6m31 4h6m23 0h6m-55 2h6m-36 4h6m-35 1h6m-43 1h6m145 0h6m-83 5h6m-53 1h6m-51 5h6m175 0h6m-78 1h6m19 4h6m24 0h6m-174 1h6m31 5h6m48 0h6m6 1h6m49 0h6m-108 1h6m-37 5h6m54 0h6m-55 1h6m63 5h6m-67 5h6m66 0h6m64 0h6m-198 1h6m109 0h6m-49 1h6m134 4h6m-92 1h6m68 0h6m-66 1h6m-91 4h6m60 1h6m5 0h6m-131 1h6m29 0h6m80 0h6m5 4h6m40 0h6m1 0h6m7 0h6m-132 2h6m124 0h6m-186 5h6m19 0h6m137 0h6m-66 1h6m18 0h6" stroke="#c84880"/>
<path d="M2067 2015h6m23 4h6m-162 24h6m69 6h6m48 2h6m-117 6h6m15 4h6m64 2h6m-55 6h6m25 6h6m-66 4h6m67 38h6m-25 30h6m6 22h6m-145 8h6m97 4h6m88 0h6m-171 6h6m23 6h6m-24 2h6m20 4h6m84 0h6m-150 7h6m179 1h6m-147 11h6m70 7h6m42 4h6m-143 2h6m47 0h6m72 0h6m-198 5h6m78 0h6m24 1h6m43 0h6m-19 5h6m-7 5h6" stroke="#9a6080"/>
<path d="M1883 2253h6m196 0h6m-196 2h6m76 4h6m-73 1h6m6 0h6m36 0h6m66 0h6m-84 1h6m37 0h6m36 0h6m-102 4h6m104 0h6m23 0h6m7 0h6m-212 1h6m62 0h6m4 0h6m67 1h6m-108 4h6m20 0h6m34 0h6m-41 1h6m13 0h6m-66 1h6m45 0h6m51 0h6m21 0h6m1 0h6m-137 4h6m43 0h6m3 0h6m-46 1h6m90 0h6m-138 1h6m1 4h6m47 0h6m-104 1h6m44 0h6m5 0h6m2 0h6m119 0h6m-193 1h6m72 4h6m65 0h6m23 0h6m14 0h6m-1 1h6m-217 1h6m7 0h6m19 0h6m25 0h6m105 0h6m-167 5h6m70 0h6m19 0h6m23 0h6m20 0h6m-157 1h6m13 0h6m24 0h6m24 0h6m88 0h6m7 0h6m1 0h6m-35 4h6m-181 1h6m-1 0h6m80 0h6m36 1h6m-147 4h6m85 0h6m-84 1h6m14 0h6m41 0h6m95 0h6m5 0h6m-130 1h6m24 0h6m4 0h6m24 0h6m-135 4h6m115 0h6m-109 2h6m13 0h6m12 0h6m65 0h6m1 0h6m35 0h6m20 0h6m-51 4h6m14 0h6m-144 1h6m108 0h6m12 0h6m18 0h6m-176 1h6m12 0h6m30 0h6m19 0h6m25 0h6m-1 0h6m-121 4h6m29 0h6m20 0h6m29 0h6m36 0h6m-187 1h6m0 0h6m38 0h6m-2 0h6m14 0h6m82 0h6m55 0h6m-209 1h6m72 0h6m11 0h6m11 0h6m8 0h6m0 0h6m-128 4h6m138 0h6m-179 1h6m53 0h6m5 0h6m2 0h6m46 0h6m33 0h6m-57 1h6m-21 4h6m18 0h6m35 0h6m0 0h6m7 0h6m12 0h6m-209 1h6m-1 0h6m5 0h6m5 0h6m31 0h6m18 0h6m23 0h6m20 0h6m-110 1h6m48 0h6m115 0h6" stroke="#e878a8"/>
<path d="M1911 2253h6m91 0h6m35 0h6m-132 1h6m73 0h6m-72 1h6m113 0h6m8 0h6m-128 6h6m-70 4h6m191 0h6m-24 1h6m-115 1h6m44 4h6m89 0h6m-54 1h6m-154 1h6m53 0h6m-53 4h6m-39 1h6m145 1h6m55 0h6m-186 10h6m58 0h6m42 1h6m-18 7h6m-139 6h6m108 0h6m54 4h6m-12 1h6m-127 1h6m-51 5h6m24 0h6m90 0h6m56 0h6m-72 1h6m71 0h6m-198 4h6m-1 0h6m145 0h6m11 0h6m31 0h6m-187 1h6m-18 1h6m-1 0h6m174 4h6m-130 1h6m-56 1h6m48 0h6m120 4h6m-66 2h6m60 0h6m-30 4h6m-90 1h6m89 0h6m-178 1h6m88 0h6m27 0h6m23 0h6" stroke="#7a2a58"/>
<path d="M2033 2254h6m-2 1h6m-125 5h6m58 0h6m8 0h6m-73 5h6m91 0h6m-133 1h6m0 1h6m78 0h6m74 0h6m-185 4h6m149 0h6m13 0h6m-75 1h6m31 0h6m-108 5h6m18 0h6m7 0h6m40 0h6m0 0h6m14 6h6m47 0h6m-197 1h6m155 0h6m-125 1h6m102 0h6m-97 4h6m19 0h6m-108 1h6m149 0h6m5 0h6m0 0h6m-60 1h6m78 0h6m-120 4h6m42 0h6m-110 1h6m13 0h6m85 0h6m48 0h6m-132 1h6m132 0h6m-180 4h6m31 0h6m65 0h6m65 0h6m-119 1h6m17 0h6m54 0h6m-124 1h6m10 0h6m8 0h6m35 0h6m30 0h6m18 0h6m-78 4h6m31 0h6m41 0h6m6 0h6m-227 1h6m137 0h6m30 0h6m-182 1h6m48 0h6m50 0h6m-75 4h6m58 0h6m20 0h6m24 0h6m35 0h6m-188 1h6m19 0h6m25 0h6m73 0h6m5 0h6m-91 1h6m91 0h6m-138 5h6m30 0h6m11 0h6m91 0h6m-128 1h6m121 0h6m-37 4h6m-120 1h6m122 0h6m-74 1h6m-103 4h6m7 0h6m-1 0h6m36 0h6m25 0h6m42 0h6m36 0h6m-164 1h6m55 0h6m77 0h6m2 0h6m4 0h6m-118 1h6m-2 0h6m37 0h6m-70 4h6m96 0h6m-164 1h6m56 0h6m16 0h6m26 0h6m-98 1h6m20 0h6" stroke="#c83c78"/>
<path d="M1899 2259h6m80 7h6m-71 13h6m33 5h6m26 1h6m-54 6h6m-56 6h6m23 0h6m122 4h6m36 1h6m-170 1h6m131 6h6m-170 11h6m101 1h6m-123 10h6m121 0h6m36 0h6m1 0h6m-132 7h6" stroke="#3a3068"/>
<path d="M2043 2343h6m0 0h6m31 0h6m-205 1h6m200 0h6m-206 1h6m175 0h6m-181 4h6m84 1h6m61 0h6m28 0h6m-162 1h6m0 0h6m114 0h6m-34 4h6m-28 1h6m12 0h6m40 0h6m-34 1h6m-146 4h6m155 0h6m19 0h6m-151 1h6m83 0h6m-16 1h6m-3 4h6m-94 1h6m76 0h6m8 0h6m-163 1h6m48 0h6m24 0h6m45 4h6m0 0h6m-138 1h6m11 0h6m92 0h6m41 1h6m40 4h6m-196 6h6m57 0h6m-29 1h6m26 0h6m9 1h6" stroke="#8a3a70"/>
<path d="M1900 2343h6m-2 0h6m9 0h6m0 0h6m4 0h6m50 0h6m-3 1h6m9 0h6m65 0h6m12 0h6m-80 1h6m-136 4h6m48 0h6m12 0h6m11 0h6m25 0h6m12 0h6m41 0h6m-173 1h6m88 0h6m7 1h6m-137 4h6m5 0h6m27 0h6m101 0h6m25 0h6m-164 1h6m36 0h6m6 0h6m-78 1h6m62 0h6m23 0h6m24 0h6m53 0h6m-191 4h6m-1 0h6m167 0h6m-126 1h6m-48 1h6m7 0h6m113 0h6m8 0h6m-4 4h6m-161 1h6m72 0h6m11 0h6m39 0h6m17 0h6m-182 1h6m2 0h6m5 0h6m37 0h6m-1 0h6m28 4h6m10 0h6m13 0h6m7 0h6m16 0h6m18 0h6m-143 1h6m30 0h6m53 0h6m42 0h6m-143 1h6m36 0h6m53 0h6m37 0h6m-189 4h6m7 0h6m143 0h6m1 0h6m-104 1h6m32 0h6m23 0h6m-150 1h6m6 0h6m36 0h6m48 0h6m36 0h6m38 0h6m-20 4h6m-173 1h6m31 0h6m48 0h6m6 0h6m-2 0h6m13 0h6m44 0h6m-115 1h6" stroke="#c04880"/>
<path d="M2056 2343h6m-151 1h6m25 1h6m-30 4h6m48 0h6m-72 1h6m18 0h6m18 1h6m42 0h6m89 0h6m-87 4h6m-73 1h6m-36 1h6m-39 5h6m36 0h6m33 0h6m-93 1h6m133 5h6m77 0h6m-180 1h6m-10 5h6m-19 1h6m29 4h6m49 0h6m30 0h6m-90 2h6m85 0h6m39 0h6m-129 4h6m71 0h6m11 0h6m-168 1h6m-16 1h6m59 0h6m146 0h6" stroke="#5a70b0"/>
<path d="M2066 2343h6m-143 1h6m25 0h6m18 0h6m70 0h6m-87 1h6m-9 4h6m42 1h6m-144 1h6m182 0h6m23 0h6m-185 4h6m68 0h6m88 0h6m-154 1h6m28 1h6m20 0h6m53 0h6m-135 4h6m73 0h6m43 0h6m18 0h6m-173 1h6m16 1h6m72 0h6m54 0h6m13 0h6m-115 4h6m-1 0h6m55 0h6m10 0h6m-154 1h6m17 0h6m54 0h6m66 0h6m6 0h6m-178 1h6m88 0h6m65 0h6m8 0h6m-21 4h6m-189 1h6m37 0h6m121 0h6m-137 1h6m89 0h6m-105 4h6m32 0h6m27 0h6m-107 1h6m30 0h6m31 0h6m-85 1h6m78 0h6m61 0h6m18 0h6m-167 4h6m100 1h6m13 0h6m25 0h6m6 0h6m-157 1h6m47 0h6" stroke="#3a2a60"/>
<path d="M1946 2344h6m2 0h6m41 0h6m-36 1h6m37 0h6m-2 0h6m9 0h6m-159 4h6m109 0h6m-41 1h6m83 0h6m30 0h6m-169 1h6m116 0h6m-168 4h6m86 0h6m107 0h6m-42 2h6m42 0h6m-145 5h6m12 0h6m119 1h6m-223 5h6m84 1h6m-88 4h6m176 0h6m-164 1h6m38 0h6m6 0h6m-92 5h6m119 1h6m46 0h6m-111 1h6m-50 4h6m-40 1h6m167 0h6m24 0h6m-198 1h6m36 0h6m60 0h6" stroke="#6a5098"/>
<path d="M2193 2047h6m0 0h6m-41 12h6m-13 6h6m90 6h6m11 12h6m0 0h6m6 12h6m0 0h6m38 30h6m17 18h6m-5 6h6m23 24h6m6 12h6" stroke="#8cc850"/>
<path d="M2192 2095h6m-22 6h6m66 6h6m-92 6h6m90 0h6m2 6h6m-120 6h6m120 0h6m16 12h6m1 6h6m1 6h6m-127 6h6m120 0h6m-113 6h6m0 0h6m-91 6h6m102 0h6m0 0h6m43 24h6m0 6h6m28 12h6m54 0h6m-65 6h6m23 12h6m-244 12h6m246 0h6m0 0h6m-284 18h6m2 12h6m-12 18h6" stroke="#f08a3a"/>
<path d="M2186 2227h6m6 0h6m6 0h6m24 0h6m0 0h6m-82 6h6m78 0h6m12 0h6m36 12h6m-181 18h6m222 0h6m24 12h6m-282 30h6" stroke="#c41430"/>
<path d="M2180 2427h6m30 0h6m0 0h6m-66 12h6m96 0h6m0 0h6m-166 6h6m30 0h6m6 0h6m0 0h6m12 0h6m6 0h6m12 0h6m84 0h6m-62 6h6m6 0h6m66 0h6m-11 6h6m18 0h6m-247 6h6m174 0h6m0 0h6m6 0h6m12 6h6m24 0h6m12 0h6m-41 6h6m42 0h6m-24 6h6m0 0h6" stroke="#f4a070"/>
<path d="M2174 2439h6m6 0h6m12 0h6m0 0h6m0 0h6m20 6h6m22 6h6m0 0h6m-77 6h6m-97 6h6m30 0h6m0 0h6m6 0h6m24 0h6m18 0h6m0 0h6m78 0h6m12 0h6m-84 6h6m78 0h6m19 6h6m-258 6h6m180 0h6m0 0h6m84 0h6m6 0h6m-65 12h6m6 0h6m36 0h6m-20 6h6m0 6h6" stroke="#4a9a40"/>
<path d="M2175 2457h6m18 0h6m-73 6h6m114 0h6m-144 6h6m109 6h6m60 0h6m-180 6h6m36 0h6m6 0h6m96 0h6m42 0h6m-168 6h6m12 0h6m30 0h6m54 0h6m0 0h6m72 0h6m-89 6h6m-44 6h6m30 0h6m24 0h6m84 0h6m-281 12h6m36 0h6m0 0h6m24 0h6m12 0h6m18 0h6m0 0h6m0 0h6m24 0h6m0 0h6m18 0h6m6 0h6m18 0h6m0 0h6m36 0h6m0 0h6" stroke="#78c070"/>
<path d="M2114 2505h6m18 0h6m30 0h6m18 0h6m0 0h6m12 0h6m6 0h6m6 0h6m42 0h6m24 0h6m18 0h6m0 0h6m12 0h6m-35 6h6" stroke="#c8d890"/>
<path d="M2110 2458h6m48 0h6m0 0h6m30 0h6m42 0h6m18 0h6m6 0h6m78 0h6m-212 6h6m20 6h6m24 0h6m114 0h6m48 0h6m-278 6h6m30 0h6m90 0h6m-156 6h6m12 0h6m0 0h6m54 0h6m42 0h6m48 0h6m-78 6h6m78 0h6m72 0h6m-282 6h6m84 0h6m72 0h6m42 0h6m-172 6h6m0 0h6m6 0h6m30 0h6m54 0h6m30 0h6m42 0h6m-230 6h6m54 0h6m6 0h6m60 0h6" stroke="#3a9a50"/>
<path d="M2116 2458h6m6 0h6m42 0h6m42 0h6m84 0h6m0 0h6m30 0h6m24 0h6m-272 6h6m36 0h6m18 0h6m84 0h6m18 0h6m48 0h6m18 0h6m18 0h6m-280 6h6m12 0h6m0 0h6m18 0h6m0 0h6m24 0h6m12 0h6m42 0h6m0 0h6m102 0h6m6 0h6m-302 6h6m0 0h6m0 0h6m78 0h6m36 0h6m12 0h6m84 0h6m30 0h6m6 0h6m-270 6h6m0 0h6m66 0h6m30 0h6m6 0h6m0 0h6m-168 6h6m24 0h6m30 0h6m30 0h6m60 0h6m18 0h6m96 0h6m-288 6h6m132 0h6m0 0h6m18 0h6m0 0h6m30 0h6m0 0h6m0 0h6m30 0h6m6 0h6m-214 6h6m6 0h6m24 0h6m36 0h6m18 0h6m54 0h6m-200 6h6m36 0h6m78 0h6m0 0h6m90 0h6" stroke="#48b0c0"/>
<path d="M2158 2458h6m24 0h6m72 0h6m0 0h6m90 0h6m30 0h6m-296 6h6m6 0h6m48 0h6m12 0h6m18 0h6m6 0h6m66 0h6m36 0h6m6 0h6m24 0h6m-280 6h6m114 0h6m60 0h6m6 0h6m0 0h6m-188 6h6m30 0h6m72 0h6m18 0h6m66 0h6m-78 6h6m18 0h6m30 0h6m6 0h6m30 0h6m6 0h6m0 0h6m-246 6h6m0 0h6m24 0h6m78 0h6m6 0h6m-162 6h6m138 0h6m18 0h6m90 0h6m-178 6h6m78 0h6m60 0h6m-224 6h6m6 0h6m66 0h6" stroke="#90d070"/>
<path d="M2109 1993h6m162 0h6m36 0h6m42 0h6m0 0h6m-251 6h6m179 0h6m48 0h6m-72 6h6m30 0h6m12 0h6m36 0h6m-281 6h6m161 12h6m60 6h6m30 0h6m-277 6h6m7 6h6m148 0h6m84 0h6m-58 6h6m30 0h6m-227 6h6m-18 6h6m160 0h6m6 0h6m54 0h6m-258 6h6m12 0h6m-23 6h6m1 6h6" stroke="#3a4a8a"/>
<path d="M2289 1993h6m0 0h6m24 0h6m0 0h6m6 0h6m-227 6h6m155 6h6m-149 6h6m142 0h6m102 0h6m-264 6h6m198 0h6m-65 6h6m60 0h6m-235 6h6m0 0h6m145 0h6m60 0h6m11 6h6m0 0h6m-73 6h6m36 0h6m-64 6h6m0 0h6m6 0h6m12 0h6m6 0h6m30 0h6m-263 6h6m6 6h6m250 0h6m18 0h6m-300 6h6m-4 12h6m-6 6h6" stroke="#6a5aa0"/>
<path d="M2295 1999h6m0 0h6m12 0h6m0 0h6m-215 6h6m12 0h6m173 0h6m42 0h6m-73 6h6m0 0h6m54 0h6m0 0h6m12 0h6m12 0h6m-126 6h6m6 0h6m6 0h6m18 0h6m-202 6h6m161 0h6m0 0h6m60 0h6m12 0h6m-90 6h6m-31 6h6m48 0h6m-67 6h6m12 0h6m90 0h6m-279 6h6m173 0h6m54 0h6m30 0h6m-281 6h6m0 0h6m6 0h6m142 0h6m48 0h6m6 0h6m30 0h6m-72 6h6m60 0h6m-270 6h6m0 0h6m-4 12h6m-18 6h6" stroke="#c85088"/>
<path d="M2307 1999h6m24 0h6m30 0h6m-54 6h6m5 12h6m12 0h6m12 0h6m-83 6h6m12 0h6m18 0h6m24 0h6m-42 6h6m24 0h6m-50 12h6m6 0h6m24 0h6m18 0h6m-52 6h6m6 0h6m24 0h6m-55 6h6m24 0h6m12 0h6m6 0h6m-114 6h6m42 0h6m0 0h6m6 0h6" stroke="#f08cb8"/>
<path d="M2110 2323h6m0 0h6m12 0h6m-25 6h6m6 0h6m0 0h6m-25 12h6m0 0h6m224 2h6m24 0h6m-264 4h6m0 0h6m-24 6h6m18 0h6m182 8h6m30 0h6m18 0h6m-268 4h6m-17 6h6m18 0h6m196 2h6m0 0h6m0 0h6m0 0h6m12 0h6m-56 6h6m54 0h6m6 0h6m0 0h6m-290 4h6m0 0h6m0 0h6m195 2h6m12 0h6m-243 4h6m0 0h6m0 0h6m6 0h6m212 2h6m6 0h6m18 0h6m-42 6h6m18 0h6m6 0h6m-273 4h6m233 2h6m-251 4h6m12 0h6m-5 6h6m-12 6h6m-23 6h6m6 0h6m-1 6h6m0 0h6m-19 6h6" stroke="#f07aa8"/>
<path d="M2121 2329h6m-11 6h6m0 0h6m0 0h6m0 0h6m-8 6h6m194 2h6m18 0h6m-34 6h6m-206 4h6m207 2h6m36 0h6m-280 4h6m12 0h6m-1 6h6m226 2h6m-243 4h6m226 2h6m-232 10h6m231 2h6m-249 4h6m206 2h6m30 0h6m-255 4h6m0 6h6m185 2h6m0 0h6m54 0h6m0 0h6m-26 6h6m-272 4h6m12 0h6m-24 6h6m13 6h6m-19 6h6m11 6h6m-24 6h6m0 0h6" stroke="#f8b0c8"/>
</g>
<path d="M481.4 398V503.4H376" fill="none" stroke="#d4d0d8" stroke-width="0.8"/>
<path d="M375.6 398V503" fill="none" stroke="#c8c4cc" stroke-width="0.8"/>
<path d="M375.2 397.6H481.8" fill="none" stroke="#a8a4b4" stroke-width="0.9"/>
<path d="M375.6 399.8v1.3M375.6 403.9v1.3M375.6 408.1v1.3M375.6 412.2v1.3M375.6 416.4v1.3M375.6 420.6v1.3M375.6 424.7v1.3M375.6 428.9v1.3M375.6 433v1.3M375.6 437.2v1.3M375.6 441.3v1.3M375.6 445.5v1.3M375.6 449.6v1.3M375.6 453.8v1.3M375.6 457.9v1.3M375.6 462.1v1.3M375.6 466.2v1.3M375.6 470.4v1.3M375.6 474.5v1.3M375.6 478.7v1.3M375.6 482.8v1.3M375.6 487v1.3M375.6 491.1v1.3M375.6 495.2v1.3" stroke="#8a8a8a" stroke-width="1.1" fill="none"/>
<rect x="370" y="400" width="3.6" height="9" fill="#e2e0e6"/>
<rect x="482.5" y="400" width="3.6" height="9" fill="#e2e0e6"/>
<path d="M420.3 437.5V454.7" stroke="#1a1a1a" stroke-width="1.3"/>
<path d="M414.5 453.7L426.1 453.7L420.3 465.5Z" fill="#111"/>
<text class="sm" x="90" y="41.5" font-size="4.2" text-anchor="middle">Time (8) vs FL1-H (3)</text>
<text class="sm" x="202" y="41.5" font-size="4.2" text-anchor="middle">Time (8) vs FL1-H (3)</text>
<text class="sm" x="318" y="42.5" font-size="4.2" text-anchor="middle">Time (8) vs FL1-H (3)</text>
<text class="sm" x="429" y="42.5" font-size="4.2" text-anchor="middle">Time (8) vs FL1-H (3)</text>
<text class="sm" x="89.5" y="158.5" font-size="4.2" text-anchor="middle">Time (8) vs FL1-H (3)</text>
<text class="sm" x="202" y="158.5" font-size="4.2" text-anchor="middle">Time (8) vs FL1-H (3)</text>
<text class="sm" x="89" y="274.5" font-size="4.2" text-anchor="middle">Time (8) vs FL1-H (3)</text>
<text class="sm" x="202" y="274.5" font-size="4.2" text-anchor="middle">Time (8) vs FL1-H (3)</text>
<text class="sm" x="317" y="234.5" font-size="4.2" text-anchor="middle">Time (8) vs FL1-H (3)</text>
<text class="sm" x="428.5" y="234.5" font-size="4.2" text-anchor="middle">Time (8) vs FL1-H (3)</text>
<text class="sm" x="89" y="394.5" font-size="4.2" text-anchor="middle">Time (8) vs FL1-H (3)</text>
<text class="sm" x="202" y="394.5" font-size="4.2" text-anchor="middle">Time (8) vs FL1-H (3)</text>
<text class="sm" x="316.5" y="394.5" font-size="4.2" text-anchor="middle">Time (8) vs FL1-H (3)</text>
<text class="sm" x="428.5" y="394.5" font-size="4.2" text-anchor="middle">Time (8) vs FL1-H (3)</text>
<text x="126.5" y="13.8" font-size="15" textLength="55.5" lengthAdjust="spacingAndGlyphs"><tspan font-family="Liberation Serif" font-size="16.2">&#945;</tspan>-CD38</text>
<text x="65.5" y="37.8" font-size="15" textLength="47.3" lengthAdjust="spacingAndGlyphs">resting</text>
<text x="182" y="35.8" font-size="15" textLength="39.8" lengthAdjust="spacingAndGlyphs">+ IL-2</text>
<text x="360" y="13.8" font-size="15" textLength="42" lengthAdjust="spacingAndGlyphs"><tspan font-family="Liberation Serif" font-size="16.2">&#945;</tspan>-IgM</text>
<text x="294" y="38.3" font-size="15" textLength="48.4" lengthAdjust="spacingAndGlyphs">resting</text>
<text x="409" y="36.3" font-size="15" textLength="39" lengthAdjust="spacingAndGlyphs">+ IL-2</text>
<text x="360.5" y="209.8" font-size="15" textLength="39.2" lengthAdjust="spacingAndGlyphs"><tspan font-family="Liberation Serif" font-size="16.2">&#945;</tspan>-IgD</text>
<text x="293" y="229.3" font-size="15" textLength="47.3" lengthAdjust="spacingAndGlyphs">resting</text>
<text x="408" y="226.3" font-size="15" textLength="40" lengthAdjust="spacingAndGlyphs">+ IL-2</text>
<text x="4.5" y="101.3" font-size="15" textLength="26.9" lengthAdjust="spacingAndGlyphs">no.1</text>
<text x="1.5" y="217.3" font-size="15" textLength="32.1" lengthAdjust="spacingAndGlyphs">no.8</text>
<text x="0" y="333.8" font-size="15" textLength="35" lengthAdjust="spacingAndGlyphs">no.21</text>
<text x="0" y="453.3" font-size="15" textLength="34.4" lengthAdjust="spacingAndGlyphs">no.27</text>
<text x="482.5" y="102.3" font-size="15" textLength="36.3" lengthAdjust="spacingAndGlyphs">no.27</text>
<text x="482.5" y="305.8" font-size="15" textLength="36.5" lengthAdjust="spacingAndGlyphs">no.27</text>
<text x="50.5" y="68.6" font-size="17.5" font-weight="bold">A</text>
<text x="164" y="69.1" font-size="17.5" font-weight="bold">B</text>
<text x="50" y="184.1" font-size="17.5" font-weight="bold">C</text>
<text x="163.5" y="183.1" font-size="17.5" font-weight="bold">D</text>
<text x="50" y="302.1" font-size="17.5" font-weight="bold">E</text>
<text x="163.5" y="302.6" font-size="17.5" font-weight="bold">F</text>
<text x="50" y="420.6" font-size="17.5" font-weight="bold">G</text>
<text x="163.5" y="421.1" font-size="17.5" font-weight="bold">H</text>
<text x="275" y="68.6" font-size="17.5" font-weight="bold">I</text>
<text x="387" y="68.6" font-size="17.5" font-weight="bold">J</text>
<text x="273.5" y="261.6" font-size="17.5" font-weight="bold">K</text>
<text x="386" y="261.1" font-size="17.5" font-weight="bold">L</text>
<text x="273.5" y="421.1" font-size="17.5" font-weight="bold">M</text>
<text x="387.5" y="421.6" font-size="17.5" font-weight="bold">N</text>
<g transform="translate(332.4 111.5) rotate(-90)"><text font-size="13" textLength="42.9" lengthAdjust="spacingAndGlyphs"><tspan font-family="Liberation Serif" font-size="14">&#945;</tspan>-CD38</text></g>
<g transform="translate(434.4 99.5) rotate(-90)"><text font-size="13" textLength="44.1" lengthAdjust="spacingAndGlyphs"><tspan font-family="Liberation Serif" font-size="14">&#945;</tspan>-CD38</text></g>
<g transform="translate(301.4 292) rotate(-90)"><text font-size="13" textLength="44" lengthAdjust="spacingAndGlyphs"><tspan font-family="Liberation Serif" font-size="14">&#945;</tspan>-CD38</text></g>
<g transform="translate(424.9 294.5) rotate(-90)"><text font-size="13" textLength="46.6" lengthAdjust="spacingAndGlyphs"><tspan font-family="Liberation Serif" font-size="14">&#945;</tspan>-CD38</text></g>
</g>
</svg>
</body></html>
